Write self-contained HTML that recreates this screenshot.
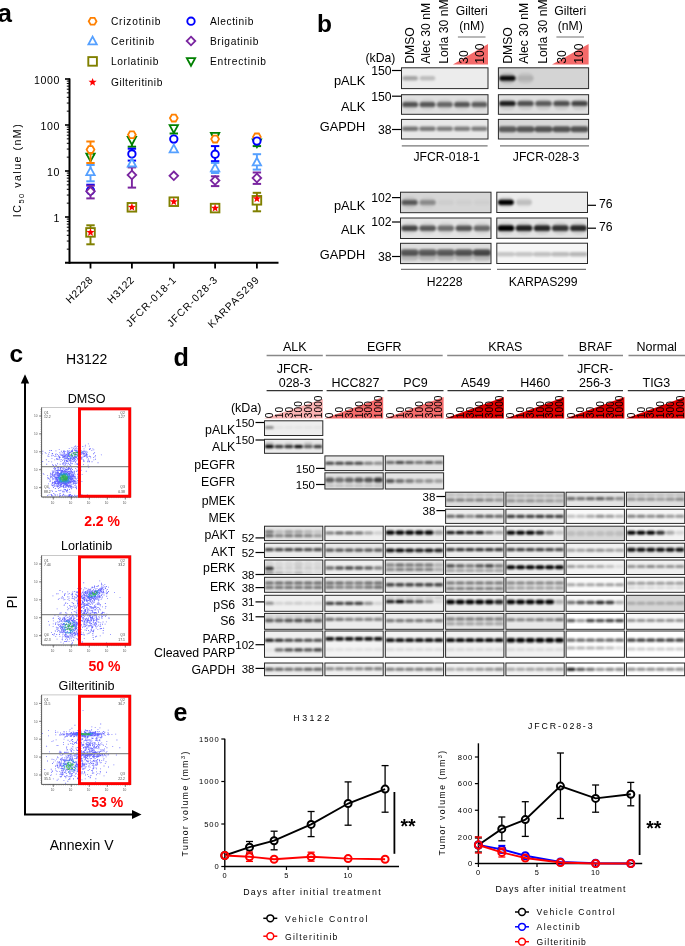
<!DOCTYPE html>
<html><head><meta charset="utf-8"><style>
html,body{margin:0;padding:0;background:#fff;width:685px;height:946px;overflow:hidden}
svg{display:block;will-change:transform}
text{font-family:"Liberation Sans",sans-serif}
</style></head><body>
<svg width="685" height="946" viewBox="0 0 685 946" font-family="Liberation Sans, sans-serif">
<defs>
<filter id="bl" x="-20%" y="-50%" width="140%" height="200%"><feGaussianBlur stdDeviation="1.3 0.85"/></filter>
<filter id="bl2" x="-20%" y="-50%" width="140%" height="200%"><feGaussianBlur stdDeviation="1.2 1.0"/></filter>
<filter id="bl3"><feGaussianBlur stdDeviation="0.35"/></filter>
</defs>
<text x="-2.5" y="22" font-size="26" text-anchor="start" fill="#000" font-weight="bold">a</text>
<polygon points="96.50,21.20 94.55,24.58 90.65,24.58 88.70,21.20 90.65,17.82 94.55,17.82" fill="#fff" stroke="#ff8000" stroke-width="1.8"/>
<text x="110.9" y="24.9" font-size="10.2" textLength="49.599999999999994" lengthAdjust="spacing">Crizotinib</text>
<polygon points="92.6,36.6 96.78,44.3 88.41999999999999,44.3" fill="#fff" stroke="#55a0ff" stroke-width="1.8"/>
<text x="110.9" y="44.7" font-size="10.2" textLength="43.199999999999996" lengthAdjust="spacing">Ceritinib</text>
<rect x="88.3" y="57.1" width="8.6" height="8.6" fill="#fff" stroke="#808000" stroke-width="1.9"/>
<text x="110.9" y="65.1" font-size="10.2" textLength="47.5" lengthAdjust="spacing">Lorlatinib</text>
<polygon points="92.60,77.90 93.66,80.74 96.69,80.87 94.31,82.76 95.13,85.68 92.60,84.00 90.07,85.68 90.89,82.76 88.51,80.87 91.54,80.74" fill="#ff0000" stroke="none"/>
<text x="110.9" y="85.9" font-size="10.2" textLength="51.4" lengthAdjust="spacing">Gilteritinib</text>
<circle cx="191" cy="21.2" r="3.7" fill="#fff" stroke="#0000ff" stroke-width="1.9"/>
<text x="209.9" y="24.9" font-size="10.2" textLength="43.4" lengthAdjust="spacing">Alectinib</text>
<polygon points="191,36.7 195.3,41.0 191,45.3 186.7,41.0" fill="#fff" stroke="#7a25a0" stroke-width="1.8"/>
<text x="209.9" y="44.7" font-size="10.2" textLength="48.4" lengthAdjust="spacing">Brigatinib</text>
<polygon points="191,65.8 195.18,58.1 186.82,58.1" fill="#fff" stroke="#008000" stroke-width="1.8"/>
<text x="209.9" y="65.1" font-size="10.2" textLength="56.0" lengthAdjust="spacing">Entrectinib</text>
<line x1="69.5" y1="78.5" x2="69.5" y2="263.8" stroke="#000" stroke-width="2"/>
<line x1="65" y1="262.8" x2="278.5" y2="262.8" stroke="#000" stroke-width="2"/>
<line x1="65" y1="79.0" x2="70" y2="79.0" stroke="#000" stroke-width="1.6"/>
<line x1="65" y1="125.0" x2="70" y2="125.0" stroke="#000" stroke-width="1.6"/>
<line x1="65" y1="171.0" x2="70" y2="171.0" stroke="#000" stroke-width="1.6"/>
<line x1="65" y1="217.0" x2="70" y2="217.0" stroke="#000" stroke-width="1.6"/>
<line x1="66.8" y1="249.15262019945686" x2="70" y2="249.15262019945686" stroke="#000" stroke-width="1"/>
<line x1="66.8" y1="241.05242228289552" x2="70" y2="241.05242228289552" stroke="#000" stroke-width="1"/>
<line x1="66.8" y1="235.30524039891372" x2="70" y2="235.30524039891372" stroke="#000" stroke-width="1"/>
<line x1="66.8" y1="230.84737980054314" x2="70" y2="230.84737980054314" stroke="#000" stroke-width="1"/>
<line x1="66.8" y1="227.20504248235238" x2="70" y2="227.20504248235238" stroke="#000" stroke-width="1"/>
<line x1="66.8" y1="224.12549015934417" x2="70" y2="224.12549015934417" stroke="#000" stroke-width="1"/>
<line x1="66.8" y1="221.4578605983706" x2="70" y2="221.4578605983706" stroke="#000" stroke-width="1"/>
<line x1="66.8" y1="219.10484456579104" x2="70" y2="219.10484456579104" stroke="#000" stroke-width="1"/>
<line x1="66.8" y1="203.15262019945686" x2="70" y2="203.15262019945686" stroke="#000" stroke-width="1"/>
<line x1="66.8" y1="195.05242228289552" x2="70" y2="195.05242228289552" stroke="#000" stroke-width="1"/>
<line x1="66.8" y1="189.30524039891372" x2="70" y2="189.30524039891372" stroke="#000" stroke-width="1"/>
<line x1="66.8" y1="184.84737980054314" x2="70" y2="184.84737980054314" stroke="#000" stroke-width="1"/>
<line x1="66.8" y1="181.20504248235238" x2="70" y2="181.20504248235238" stroke="#000" stroke-width="1"/>
<line x1="66.8" y1="178.12549015934417" x2="70" y2="178.12549015934417" stroke="#000" stroke-width="1"/>
<line x1="66.8" y1="175.4578605983706" x2="70" y2="175.4578605983706" stroke="#000" stroke-width="1"/>
<line x1="66.8" y1="173.10484456579104" x2="70" y2="173.10484456579104" stroke="#000" stroke-width="1"/>
<line x1="66.8" y1="157.15262019945686" x2="70" y2="157.15262019945686" stroke="#000" stroke-width="1"/>
<line x1="66.8" y1="149.05242228289552" x2="70" y2="149.05242228289552" stroke="#000" stroke-width="1"/>
<line x1="66.8" y1="143.30524039891372" x2="70" y2="143.30524039891372" stroke="#000" stroke-width="1"/>
<line x1="66.8" y1="138.84737980054314" x2="70" y2="138.84737980054314" stroke="#000" stroke-width="1"/>
<line x1="66.8" y1="135.20504248235238" x2="70" y2="135.20504248235238" stroke="#000" stroke-width="1"/>
<line x1="66.8" y1="132.12549015934417" x2="70" y2="132.12549015934417" stroke="#000" stroke-width="1"/>
<line x1="66.8" y1="129.4578605983706" x2="70" y2="129.4578605983706" stroke="#000" stroke-width="1"/>
<line x1="66.8" y1="127.10484456579107" x2="70" y2="127.10484456579107" stroke="#000" stroke-width="1"/>
<line x1="66.8" y1="111.15262019945686" x2="70" y2="111.15262019945686" stroke="#000" stroke-width="1"/>
<line x1="66.8" y1="103.05242228289552" x2="70" y2="103.05242228289552" stroke="#000" stroke-width="1"/>
<line x1="66.8" y1="97.30524039891372" x2="70" y2="97.30524039891372" stroke="#000" stroke-width="1"/>
<line x1="66.8" y1="92.84737980054314" x2="70" y2="92.84737980054314" stroke="#000" stroke-width="1"/>
<line x1="66.8" y1="89.20504248235241" x2="70" y2="89.20504248235241" stroke="#000" stroke-width="1"/>
<line x1="66.8" y1="86.12549015934417" x2="70" y2="86.12549015934417" stroke="#000" stroke-width="1"/>
<line x1="66.8" y1="83.45786059837059" x2="70" y2="83.45786059837059" stroke="#000" stroke-width="1"/>
<line x1="66.8" y1="81.10484456579107" x2="70" y2="81.10484456579107" stroke="#000" stroke-width="1"/>
<text x="60.0" y="83.6" font-size="10.6" text-anchor="end" fill="#000" letter-spacing="0.6">1000</text>
<text x="60.0" y="129.6" font-size="10.6" text-anchor="end" fill="#000" letter-spacing="0.6">100</text>
<text x="60.0" y="175.6" font-size="10.6" text-anchor="end" fill="#000" letter-spacing="0.6">10</text>
<text x="60.0" y="221.6" font-size="10.6" text-anchor="end" fill="#000" letter-spacing="0.6">1</text>
<line x1="90.5" y1="262.8" x2="90.5" y2="268.5" stroke="#000" stroke-width="1.8"/>
<text x="93.685" y="280.415" font-size="10.4" text-anchor="end" fill="#000" letter-spacing="0.55" transform="rotate(-45 93.685 280.415)">H2228</text>
<line x1="131.9" y1="262.8" x2="131.9" y2="268.5" stroke="#000" stroke-width="1.8"/>
<text x="135.085" y="280.415" font-size="10.4" text-anchor="end" fill="#000" letter-spacing="0.55" transform="rotate(-45 135.085 280.415)">H3122</text>
<line x1="173.8" y1="262.8" x2="173.8" y2="268.5" stroke="#000" stroke-width="1.8"/>
<text x="177.33500000000004" y="280.065" font-size="10.4" text-anchor="end" fill="#000" letter-spacing="1.05" transform="rotate(-45 177.33500000000004 280.065)">JFCR-018-1</text>
<line x1="215.1" y1="262.8" x2="215.1" y2="268.5" stroke="#000" stroke-width="1.8"/>
<text x="218.63500000000002" y="280.065" font-size="10.4" text-anchor="end" fill="#000" letter-spacing="1.05" transform="rotate(-45 218.63500000000002 280.065)">JFCR-028-3</text>
<line x1="256.9" y1="262.8" x2="256.9" y2="268.5" stroke="#000" stroke-width="1.8"/>
<text x="260.46999999999997" y="280.03000000000003" font-size="10.4" text-anchor="end" fill="#000" letter-spacing="1.1" transform="rotate(-45 260.46999999999997 280.03000000000003)">KARPAS299</text>
<text transform="translate(21.3 170) rotate(-90)" font-size="10.6" text-anchor="middle" letter-spacing="1.5">IC<tspan font-size="7.5" dy="2.5">50</tspan><tspan dy="-2.5"> value (nM)</tspan></text>
<line x1="90.5" y1="154.4" x2="90.5" y2="157" stroke="#008000" stroke-width="1.9"/>
<line x1="86.3" y1="154.4" x2="94.7" y2="154.4" stroke="#008000" stroke-width="2"/>
<polygon points="90.5,161.4 94.68,153.7 86.32,153.7" fill="#fff" stroke="#008000" stroke-width="1.8"/>
<line x1="90.5" y1="141.5" x2="90.5" y2="149.6" stroke="#ff8000" stroke-width="1.9"/>
<line x1="86.3" y1="141.5" x2="94.7" y2="141.5" stroke="#ff8000" stroke-width="2"/>
<line x1="90.5" y1="149.6" x2="90.5" y2="163" stroke="#ff8000" stroke-width="1.9"/>
<line x1="86.3" y1="163" x2="94.7" y2="163" stroke="#ff8000" stroke-width="2"/>
<polygon points="94.40,149.60 92.45,152.98 88.55,152.98 86.60,149.60 88.55,146.22 92.45,146.22" fill="#fff" stroke="#ff8000" stroke-width="1.8"/>
<line x1="90.5" y1="184.7" x2="90.5" y2="190.6" stroke="#0000ff" stroke-width="1.9"/>
<line x1="86.3" y1="184.7" x2="94.7" y2="184.7" stroke="#0000ff" stroke-width="2"/>
<circle cx="90.5" cy="190.6" r="3.7" fill="#fff" stroke="#0000ff" stroke-width="1.9"/>
<line x1="90.5" y1="185.7" x2="90.5" y2="191.3" stroke="#7a25a0" stroke-width="1.9"/>
<line x1="86.3" y1="185.7" x2="94.7" y2="185.7" stroke="#7a25a0" stroke-width="2"/>
<line x1="90.5" y1="191.3" x2="90.5" y2="198.4" stroke="#7a25a0" stroke-width="1.9"/>
<line x1="86.3" y1="198.4" x2="94.7" y2="198.4" stroke="#7a25a0" stroke-width="2"/>
<polygon points="90.5,187.0 94.8,191.3 90.5,195.60000000000002 86.2,191.3" fill="#fff" stroke="#7a25a0" stroke-width="1.8"/>
<line x1="90.5" y1="165" x2="90.5" y2="171.8" stroke="#55a0ff" stroke-width="1.9"/>
<line x1="86.3" y1="165" x2="94.7" y2="165" stroke="#55a0ff" stroke-width="2"/>
<line x1="90.5" y1="171.8" x2="90.5" y2="181.3" stroke="#55a0ff" stroke-width="1.9"/>
<line x1="86.3" y1="181.3" x2="94.7" y2="181.3" stroke="#55a0ff" stroke-width="2"/>
<polygon points="90.5,167.4 94.68,175.10000000000002 86.32,175.10000000000002" fill="#fff" stroke="#55a0ff" stroke-width="1.8"/>
<line x1="90.5" y1="225.3" x2="90.5" y2="232.4" stroke="#808000" stroke-width="1.9"/>
<line x1="86.3" y1="225.3" x2="94.7" y2="225.3" stroke="#808000" stroke-width="2"/>
<line x1="90.5" y1="232.4" x2="90.5" y2="244.3" stroke="#808000" stroke-width="1.9"/>
<line x1="86.3" y1="244.3" x2="94.7" y2="244.3" stroke="#808000" stroke-width="2"/>
<rect x="86.2" y="228.1" width="8.6" height="8.6" fill="#fff" stroke="#808000" stroke-width="1.9"/>
<polygon points="90.50,228.10 91.56,230.94 94.59,231.07 92.21,232.96 93.03,235.88 90.50,234.20 87.97,235.88 88.79,232.96 86.41,231.07 89.44,230.94" fill="#ff0000" stroke="none"/>
<line x1="131.9" y1="140.3" x2="131.9" y2="146.7" stroke="#008000" stroke-width="1.9"/>
<line x1="127.7" y1="146.7" x2="136.1" y2="146.7" stroke="#008000" stroke-width="2"/>
<polygon points="131.9,144.70000000000002 136.08,137.0 127.72,137.0" fill="#fff" stroke="#008000" stroke-width="1.8"/>
<polygon points="135.80,134.80 133.85,138.18 129.95,138.18 128.00,134.80 129.95,131.42 133.85,131.42" fill="#fff" stroke="#ff8000" stroke-width="1.8"/>
<line x1="131.9" y1="148.7" x2="131.9" y2="153.9" stroke="#0000ff" stroke-width="1.9"/>
<line x1="127.7" y1="148.7" x2="136.1" y2="148.7" stroke="#0000ff" stroke-width="2"/>
<line x1="131.9" y1="153.9" x2="131.9" y2="160.6" stroke="#0000ff" stroke-width="1.9"/>
<line x1="127.7" y1="160.6" x2="136.1" y2="160.6" stroke="#0000ff" stroke-width="2"/>
<circle cx="131.9" cy="153.9" r="3.7" fill="#fff" stroke="#0000ff" stroke-width="1.9"/>
<line x1="131.9" y1="167.4" x2="131.9" y2="175" stroke="#7a25a0" stroke-width="1.9"/>
<line x1="127.7" y1="167.4" x2="136.1" y2="167.4" stroke="#7a25a0" stroke-width="2"/>
<line x1="131.9" y1="175" x2="131.9" y2="187.6" stroke="#7a25a0" stroke-width="1.9"/>
<line x1="127.7" y1="187.6" x2="136.1" y2="187.6" stroke="#7a25a0" stroke-width="2"/>
<polygon points="131.9,170.7 136.20000000000002,175 131.9,179.3 127.60000000000001,175" fill="#fff" stroke="#7a25a0" stroke-width="1.8"/>
<polygon points="131.9,158.79999999999998 136.08,166.5 127.72,166.5" fill="#fff" stroke="#55a0ff" stroke-width="1.8"/>
<rect x="127.60000000000001" y="203.0" width="8.6" height="8.6" fill="#fff" stroke="#808000" stroke-width="1.9"/>
<polygon points="131.90,203.00 132.96,205.84 135.99,205.97 133.61,207.86 134.43,210.78 131.90,209.10 129.37,210.78 130.19,207.86 127.81,205.97 130.84,205.84" fill="#ff0000" stroke="none"/>
<line x1="173.8" y1="128.5" x2="173.8" y2="133.5" stroke="#008000" stroke-width="1.9"/>
<line x1="169.60000000000002" y1="133.5" x2="178.0" y2="133.5" stroke="#008000" stroke-width="2"/>
<polygon points="173.8,132.9 177.98000000000002,125.2 169.62,125.2" fill="#fff" stroke="#008000" stroke-width="1.8"/>
<polygon points="177.70,118.10 175.75,121.48 171.85,121.48 169.90,118.10 171.85,114.72 175.75,114.72" fill="#fff" stroke="#ff8000" stroke-width="1.8"/>
<circle cx="173.8" cy="139.1" r="3.7" fill="#fff" stroke="#0000ff" stroke-width="1.9"/>
<polygon points="173.8,171.5 178.10000000000002,175.8 173.8,180.10000000000002 169.5,175.8" fill="#fff" stroke="#7a25a0" stroke-width="1.8"/>
<polygon points="173.8,144.6 177.98000000000002,152.3 169.62,152.3" fill="#fff" stroke="#55a0ff" stroke-width="1.8"/>
<rect x="169.5" y="197.39999999999998" width="8.6" height="8.6" fill="#fff" stroke="#808000" stroke-width="1.9"/>
<polygon points="173.80,197.40 174.86,200.24 177.89,200.37 175.51,202.26 176.33,205.18 173.80,203.50 171.27,205.18 172.09,202.26 169.71,200.37 172.74,200.24" fill="#ff0000" stroke="none"/>
<line x1="215.1" y1="134.4" x2="215.1" y2="136.2" stroke="#008000" stroke-width="1.9"/>
<line x1="210.9" y1="134.4" x2="219.29999999999998" y2="134.4" stroke="#008000" stroke-width="2"/>
<polygon points="215.1,140.6 219.28,132.89999999999998 210.92,132.89999999999998" fill="#fff" stroke="#008000" stroke-width="1.8"/>
<polygon points="219.00,139.10 217.05,142.48 213.15,142.48 211.20,139.10 213.15,135.72 217.05,135.72" fill="#fff" stroke="#ff8000" stroke-width="1.8"/>
<line x1="215.1" y1="146.1" x2="215.1" y2="154.2" stroke="#0000ff" stroke-width="1.9"/>
<line x1="210.9" y1="146.1" x2="219.29999999999998" y2="146.1" stroke="#0000ff" stroke-width="2"/>
<line x1="215.1" y1="154.2" x2="215.1" y2="161.2" stroke="#0000ff" stroke-width="1.9"/>
<line x1="210.9" y1="161.2" x2="219.29999999999998" y2="161.2" stroke="#0000ff" stroke-width="2"/>
<circle cx="215.1" cy="154.2" r="3.7" fill="#fff" stroke="#0000ff" stroke-width="1.9"/>
<line x1="215.1" y1="176.3" x2="215.1" y2="180.5" stroke="#7a25a0" stroke-width="1.9"/>
<line x1="210.9" y1="176.3" x2="219.29999999999998" y2="176.3" stroke="#7a25a0" stroke-width="2"/>
<line x1="215.1" y1="180.5" x2="215.1" y2="186.1" stroke="#7a25a0" stroke-width="1.9"/>
<line x1="210.9" y1="186.1" x2="219.29999999999998" y2="186.1" stroke="#7a25a0" stroke-width="2"/>
<polygon points="215.1,176.2 219.4,180.5 215.1,184.8 210.79999999999998,180.5" fill="#fff" stroke="#7a25a0" stroke-width="1.8"/>
<line x1="215.1" y1="162.9" x2="215.1" y2="168" stroke="#55a0ff" stroke-width="1.9"/>
<line x1="210.9" y1="162.9" x2="219.29999999999998" y2="162.9" stroke="#55a0ff" stroke-width="2"/>
<line x1="215.1" y1="168" x2="215.1" y2="173" stroke="#55a0ff" stroke-width="1.9"/>
<line x1="210.9" y1="173" x2="219.29999999999998" y2="173" stroke="#55a0ff" stroke-width="2"/>
<polygon points="215.1,163.6 219.28,171.3 210.92,171.3" fill="#fff" stroke="#55a0ff" stroke-width="1.8"/>
<rect x="210.79999999999998" y="203.79999999999998" width="8.6" height="8.6" fill="#fff" stroke="#808000" stroke-width="1.9"/>
<polygon points="215.10,203.80 216.16,206.64 219.19,206.77 216.81,208.66 217.63,211.58 215.10,209.90 212.57,211.58 213.39,208.66 211.01,206.77 214.04,206.64" fill="#ff0000" stroke="none"/>
<line x1="256.9" y1="142.8" x2="256.9" y2="146.1" stroke="#008000" stroke-width="1.9"/>
<line x1="252.7" y1="146.1" x2="261.09999999999997" y2="146.1" stroke="#008000" stroke-width="2"/>
<polygon points="256.9,147.20000000000002 261.08,139.5 252.71999999999997,139.5" fill="#fff" stroke="#008000" stroke-width="1.8"/>
<polygon points="260.80,136.90 258.85,140.28 254.95,140.28 253.00,136.90 254.95,133.52 258.85,133.52" fill="#fff" stroke="#ff8000" stroke-width="1.8"/>
<circle cx="256.9" cy="141.1" r="3.7" fill="#fff" stroke="#0000ff" stroke-width="1.9"/>
<line x1="256.9" y1="172.5" x2="256.9" y2="178" stroke="#7a25a0" stroke-width="1.9"/>
<line x1="252.7" y1="172.5" x2="261.09999999999997" y2="172.5" stroke="#7a25a0" stroke-width="2"/>
<line x1="256.9" y1="178" x2="256.9" y2="183.9" stroke="#7a25a0" stroke-width="1.9"/>
<line x1="252.7" y1="183.9" x2="261.09999999999997" y2="183.9" stroke="#7a25a0" stroke-width="2"/>
<polygon points="256.9,173.7 261.2,178 256.9,182.3 252.59999999999997,178" fill="#fff" stroke="#7a25a0" stroke-width="1.8"/>
<line x1="256.9" y1="154.2" x2="256.9" y2="162.1" stroke="#55a0ff" stroke-width="1.9"/>
<line x1="252.7" y1="154.2" x2="261.09999999999997" y2="154.2" stroke="#55a0ff" stroke-width="2"/>
<line x1="256.9" y1="162.1" x2="256.9" y2="169.6" stroke="#55a0ff" stroke-width="1.9"/>
<line x1="252.7" y1="169.6" x2="261.09999999999997" y2="169.6" stroke="#55a0ff" stroke-width="2"/>
<polygon points="256.9,157.7 261.08,165.4 252.71999999999997,165.4" fill="#fff" stroke="#55a0ff" stroke-width="1.8"/>
<line x1="256.9" y1="192.8" x2="256.9" y2="200.3" stroke="#808000" stroke-width="1.9"/>
<line x1="252.7" y1="192.8" x2="261.09999999999997" y2="192.8" stroke="#808000" stroke-width="2"/>
<line x1="256.9" y1="200.3" x2="256.9" y2="211.3" stroke="#808000" stroke-width="1.9"/>
<line x1="252.7" y1="211.3" x2="261.09999999999997" y2="211.3" stroke="#808000" stroke-width="2"/>
<rect x="252.59999999999997" y="196.0" width="8.6" height="8.6" fill="#fff" stroke="#808000" stroke-width="1.9"/>
<polygon points="256.90,194.40 257.96,197.24 260.99,197.37 258.61,199.26 259.43,202.18 256.90,200.50 254.37,202.18 255.19,199.26 252.81,197.37 255.84,197.24" fill="#ff0000" stroke="none"/>
<text x="317" y="31.5" font-size="24.5" text-anchor="start" fill="#000" font-weight="bold">b</text>
<text transform="translate(413.90000000000003 63.5) rotate(-90)" font-size="12" fill="#000"></text>
<text transform="translate(413.90000000000003 63.5) rotate(-90)" font-size="12" fill="#000"></text>
<text transform="translate(414.0 63.8) rotate(-90)" font-size="12.2" fill="#000">DMSO</text>
<text transform="translate(430.0 63.8) rotate(-90)" font-size="12.2" fill="#000">Alec 30 nM</text>
<text transform="translate(448.29999999999995 63.8) rotate(-90)" font-size="12.2" fill="#000">Lorla 30 nM</text>
<polygon points="452.9,64.5 488,64.5 488,44" fill="#f46a6a"/>
<text transform="translate(467.79999999999995 63.8) rotate(-90)" font-size="12.2" fill="#000">30</text>
<text transform="translate(484.4 63.8) rotate(-90)" font-size="12.2" fill="#000">100</text>
<text x="471.7" y="14.8" font-size="12.2" text-anchor="middle" fill="#000">Gilteri</text>
<text x="471.7" y="30.2" font-size="12.2" text-anchor="middle" fill="#000">(nM)</text>
<line x1="457.9" y1="37" x2="485.5" y2="37" stroke="#888" stroke-width="1.2"/>
<text transform="translate(512.2 63.8) rotate(-90)" font-size="12.2" fill="#000">DMSO</text>
<text transform="translate(528.2 63.8) rotate(-90)" font-size="12.2" fill="#000">Alec 30 nM</text>
<text transform="translate(546.5 63.8) rotate(-90)" font-size="12.2" fill="#000">Lorla 30 nM</text>
<polygon points="552,64.5 588.6,64.5 588.6,44" fill="#f46a6a"/>
<text transform="translate(566.0 63.8) rotate(-90)" font-size="12.2" fill="#000">30</text>
<text transform="translate(582.6 63.8) rotate(-90)" font-size="12.2" fill="#000">100</text>
<text x="570.2" y="14.8" font-size="12.2" text-anchor="middle" fill="#000">Gilteri</text>
<text x="570.2" y="30.2" font-size="12.2" text-anchor="middle" fill="#000">(nM)</text>
<line x1="556.4000000000001" y1="37" x2="584.0" y2="37" stroke="#888" stroke-width="1.2"/>
<text x="365.5" y="61.5" font-size="12.2" text-anchor="start" fill="#000">(kDa)</text>
<text x="365.2" y="85.2" font-size="12.8" text-anchor="end" fill="#000">pALK</text>
<text x="365.2" y="110.6" font-size="12.8" text-anchor="end" fill="#000">ALK</text>
<text x="365.2" y="131.0" font-size="12.8" text-anchor="end" fill="#000">GAPDH</text>
<text x="391.5" y="74.8" font-size="12.2" text-anchor="end" fill="#000">150</text>
<line x1="392" y1="70.5" x2="402" y2="70.5" stroke="#000" stroke-width="1.2"/>
<text x="391.5" y="100.5" font-size="12.2" text-anchor="end" fill="#000">150</text>
<line x1="392" y1="96.2" x2="402" y2="96.2" stroke="#000" stroke-width="1.2"/>
<text x="391.5" y="133.8" font-size="12.2" text-anchor="end" fill="#000">38</text>
<line x1="392" y1="129.5" x2="402" y2="129.5" stroke="#000" stroke-width="1.2"/>
<clipPath id="c1"><rect x="401.5" y="67.8" width="86.5" height="20.8"/></clipPath>
<rect x="401.5" y="67.8" width="86.5" height="20.8" fill="#ececec"/>
<g clip-path="url(#c1)"><g filter="url(#bl)">
<rect x="402.36" y="75.95" width="15.57" height="4.50" rx="2.25" fill="#000" fill-opacity="0.30"/>
<rect x="419.66" y="75.95" width="15.57" height="4.50" rx="2.25" fill="#000" fill-opacity="0.20"/>
</g></g>
<rect x="401.5" y="67.8" width="86.5" height="20.8" fill="none" stroke="#2a2a2a" stroke-width="1.0"/>
<clipPath id="c2"><rect x="401.5" y="94.7" width="86.5" height="19.6"/></clipPath>
<rect x="401.5" y="94.7" width="86.5" height="19.6" fill="#e0e0e0"/>
<g clip-path="url(#c2)"><g filter="url(#bl)">
<rect x="402.19" y="101.90" width="15.92" height="5.20" rx="2.60" fill="#000" fill-opacity="0.60"/>
<rect x="419.49" y="101.90" width="15.92" height="5.20" rx="2.60" fill="#000" fill-opacity="0.58"/>
<rect x="436.79" y="101.90" width="15.92" height="5.20" rx="2.60" fill="#000" fill-opacity="0.50"/>
<rect x="454.09" y="101.90" width="15.92" height="5.20" rx="2.60" fill="#000" fill-opacity="0.58"/>
<rect x="471.39" y="101.90" width="15.92" height="5.20" rx="2.60" fill="#000" fill-opacity="0.55"/>
<rect x="402.19" y="99.00" width="15.92" height="11.00" rx="5.50" fill="#000" fill-opacity="0.08"/>
<rect x="419.49" y="99.00" width="15.92" height="11.00" rx="5.50" fill="#000" fill-opacity="0.08"/>
<rect x="436.79" y="99.00" width="15.92" height="11.00" rx="5.50" fill="#000" fill-opacity="0.08"/>
<rect x="454.09" y="99.00" width="15.92" height="11.00" rx="5.50" fill="#000" fill-opacity="0.08"/>
<rect x="471.39" y="99.00" width="15.92" height="11.00" rx="5.50" fill="#000" fill-opacity="0.08"/>
</g></g>
<rect x="401.5" y="94.7" width="86.5" height="19.6" fill="none" stroke="#2a2a2a" stroke-width="1.0"/>
<clipPath id="c3"><rect x="401.5" y="119.4" width="86.5" height="19.6"/></clipPath>
<rect x="401.5" y="119.4" width="86.5" height="19.6" fill="#e8e8e8"/>
<g clip-path="url(#c3)"><g filter="url(#bl)">
<rect x="401.93" y="126.51" width="16.43" height="4.60" rx="2.30" fill="#000" fill-opacity="0.50"/>
<rect x="419.23" y="126.51" width="16.43" height="4.60" rx="2.30" fill="#000" fill-opacity="0.48"/>
<rect x="436.53" y="126.51" width="16.43" height="4.60" rx="2.30" fill="#000" fill-opacity="0.46"/>
<rect x="453.83" y="126.51" width="16.43" height="4.60" rx="2.30" fill="#000" fill-opacity="0.46"/>
<rect x="471.13" y="126.51" width="16.43" height="4.60" rx="2.30" fill="#000" fill-opacity="0.46"/>
</g></g>
<rect x="401.5" y="119.4" width="86.5" height="19.6" fill="none" stroke="#2a2a2a" stroke-width="1.0"/>
<clipPath id="c4"><rect x="498.4" y="67.8" width="90.2" height="20.8"/></clipPath>
<rect x="498.4" y="67.8" width="90.2" height="20.8" fill="#d4d4d4"/>
<g clip-path="url(#c4)"><g filter="url(#bl)">
<rect x="499.30" y="75.70" width="16.24" height="5.00" rx="2.50" fill="#000" fill-opacity="0.95"/>
<rect x="517.34" y="75.70" width="16.24" height="5.00" rx="2.50" fill="#000" fill-opacity="0.10"/>
<rect x="499.30" y="72.70" width="16.24" height="11.00" rx="5.50" fill="#000" fill-opacity="0.15"/>
<rect x="517.34" y="72.70" width="16.24" height="11.00" rx="5.50" fill="#000" fill-opacity="0.08"/>
</g></g>
<rect x="498.4" y="67.8" width="90.2" height="20.8" fill="none" stroke="#2a2a2a" stroke-width="1.0"/>
<clipPath id="c5"><rect x="498.4" y="94.7" width="90.2" height="19.6"/></clipPath>
<rect x="498.4" y="94.7" width="90.2" height="19.6" fill="#e0e0e0"/>
<g clip-path="url(#c5)"><g filter="url(#bl)">
<rect x="499.12" y="101.02" width="16.60" height="5.00" rx="2.50" fill="#000" fill-opacity="0.85"/>
<rect x="517.16" y="101.02" width="16.60" height="5.00" rx="2.50" fill="#000" fill-opacity="0.60"/>
<rect x="535.20" y="101.02" width="16.60" height="5.00" rx="2.50" fill="#000" fill-opacity="0.55"/>
<rect x="553.24" y="101.02" width="16.60" height="5.00" rx="2.50" fill="#000" fill-opacity="0.60"/>
<rect x="571.28" y="101.02" width="16.60" height="5.00" rx="2.50" fill="#000" fill-opacity="0.65"/>
<rect x="499.12" y="99.00" width="16.60" height="11.00" rx="5.50" fill="#000" fill-opacity="0.10"/>
<rect x="517.16" y="99.00" width="16.60" height="11.00" rx="5.50" fill="#000" fill-opacity="0.10"/>
<rect x="535.20" y="99.00" width="16.60" height="11.00" rx="5.50" fill="#000" fill-opacity="0.10"/>
<rect x="553.24" y="99.00" width="16.60" height="11.00" rx="5.50" fill="#000" fill-opacity="0.10"/>
<rect x="571.28" y="99.00" width="16.60" height="11.00" rx="5.50" fill="#000" fill-opacity="0.10"/>
</g></g>
<rect x="498.4" y="94.7" width="90.2" height="19.6" fill="none" stroke="#2a2a2a" stroke-width="1.0"/>
<clipPath id="c6"><rect x="498.4" y="119.4" width="90.2" height="19.6"/></clipPath>
<rect x="498.4" y="119.4" width="90.2" height="19.6" fill="#d8d8d8"/>
<g clip-path="url(#c6)"><g filter="url(#bl)">
<rect x="498.40" y="126.20" width="18.04" height="6.00" rx="3.00" fill="#000" fill-opacity="0.58"/>
<rect x="516.44" y="126.20" width="18.04" height="6.00" rx="3.00" fill="#000" fill-opacity="0.60"/>
<rect x="534.48" y="126.20" width="18.04" height="6.00" rx="3.00" fill="#000" fill-opacity="0.62"/>
<rect x="552.52" y="126.20" width="18.04" height="6.00" rx="3.00" fill="#000" fill-opacity="0.62"/>
<rect x="570.56" y="126.20" width="18.04" height="6.00" rx="3.00" fill="#000" fill-opacity="0.62"/>
</g></g>
<rect x="498.4" y="119.4" width="90.2" height="19.6" fill="none" stroke="#2a2a2a" stroke-width="1.0"/>
<line x1="401.8" y1="145.9" x2="487.6" y2="145.9" stroke="#777" stroke-width="1.2"/>
<line x1="500" y1="145.9" x2="589" y2="145.9" stroke="#777" stroke-width="1.2"/>
<text x="446.7" y="161.4" font-size="12.2" text-anchor="middle" fill="#000">JFCR-018-1</text>
<text x="546" y="161.4" font-size="12.2" text-anchor="middle" fill="#000">JFCR-028-3</text>
<text x="365.2" y="209.6" font-size="12.8" text-anchor="end" fill="#000">pALK</text>
<text x="365.2" y="234.2" font-size="12.8" text-anchor="end" fill="#000">ALK</text>
<text x="365.2" y="258.6" font-size="12.8" text-anchor="end" fill="#000">GAPDH</text>
<text x="391.5" y="201.9" font-size="12.2" text-anchor="end" fill="#000">102</text>
<line x1="392" y1="197.6" x2="402" y2="197.6" stroke="#000" stroke-width="1.2"/>
<text x="391.5" y="226.3" font-size="12.2" text-anchor="end" fill="#000">102</text>
<line x1="392" y1="222.0" x2="402" y2="222.0" stroke="#000" stroke-width="1.2"/>
<text x="391.5" y="260.8" font-size="12.2" text-anchor="end" fill="#000">38</text>
<line x1="392" y1="256.5" x2="402" y2="256.5" stroke="#000" stroke-width="1.2"/>
<clipPath id="c7"><rect x="400.5" y="192.2" width="90.5" height="20.5"/></clipPath>
<rect x="400.5" y="192.2" width="90.5" height="20.5" fill="#d6d6d6"/>
<g clip-path="url(#c7)"><g filter="url(#bl)">
<rect x="401.41" y="199.95" width="16.29" height="5.00" rx="2.50" fill="#000" fill-opacity="0.55"/>
<rect x="419.50" y="199.95" width="16.29" height="5.00" rx="2.50" fill="#000" fill-opacity="0.32"/>
<rect x="437.61" y="199.95" width="16.29" height="5.00" rx="2.50" fill="#000" fill-opacity="0.04"/>
<rect x="455.71" y="199.95" width="16.29" height="5.00" rx="2.50" fill="#000" fill-opacity="0.03"/>
<rect x="473.81" y="199.95" width="16.29" height="5.00" rx="2.50" fill="#000" fill-opacity="0.03"/>
<rect x="401.41" y="196.95" width="16.29" height="11.00" rx="5.50" fill="#000" fill-opacity="0.10"/>
<rect x="419.50" y="196.95" width="16.29" height="11.00" rx="5.50" fill="#000" fill-opacity="0.05"/>
</g></g>
<rect x="400.5" y="192.2" width="90.5" height="20.5" fill="none" stroke="#2a2a2a" stroke-width="1.0"/>
<clipPath id="c8"><rect x="400.5" y="218.0" width="90.5" height="20.5"/></clipPath>
<rect x="400.5" y="218.0" width="90.5" height="20.5" fill="#e4e4e4"/>
<g clip-path="url(#c8)"><g filter="url(#bl)">
<rect x="401.22" y="225.55" width="16.65" height="5.40" rx="2.70" fill="#000" fill-opacity="0.68"/>
<rect x="419.32" y="225.55" width="16.65" height="5.40" rx="2.70" fill="#000" fill-opacity="0.58"/>
<rect x="437.42" y="225.55" width="16.65" height="5.40" rx="2.70" fill="#000" fill-opacity="0.48"/>
<rect x="455.52" y="225.55" width="16.65" height="5.40" rx="2.70" fill="#000" fill-opacity="0.60"/>
<rect x="473.62" y="225.55" width="16.65" height="5.40" rx="2.70" fill="#000" fill-opacity="0.50"/>
<rect x="401.22" y="222.25" width="16.65" height="12.00" rx="6.00" fill="#000" fill-opacity="0.07"/>
<rect x="419.32" y="222.25" width="16.65" height="12.00" rx="6.00" fill="#000" fill-opacity="0.07"/>
<rect x="437.42" y="222.25" width="16.65" height="12.00" rx="6.00" fill="#000" fill-opacity="0.07"/>
<rect x="455.52" y="222.25" width="16.65" height="12.00" rx="6.00" fill="#000" fill-opacity="0.07"/>
<rect x="473.62" y="222.25" width="16.65" height="12.00" rx="6.00" fill="#000" fill-opacity="0.07"/>
</g></g>
<rect x="400.5" y="218.0" width="90.5" height="20.5" fill="none" stroke="#2a2a2a" stroke-width="1.0"/>
<clipPath id="c9"><rect x="400.5" y="243.3" width="90.5" height="20.3"/></clipPath>
<rect x="400.5" y="243.3" width="90.5" height="20.3" fill="#dedede"/>
<g clip-path="url(#c9)"><g filter="url(#bl)">
<rect x="400.50" y="249.19" width="18.10" height="6.50" rx="3.25" fill="#000" fill-opacity="0.58"/>
<rect x="418.60" y="249.19" width="18.10" height="6.50" rx="3.25" fill="#000" fill-opacity="0.56"/>
<rect x="436.70" y="249.19" width="18.10" height="6.50" rx="3.25" fill="#000" fill-opacity="0.56"/>
<rect x="454.80" y="249.19" width="18.10" height="6.50" rx="3.25" fill="#000" fill-opacity="0.60"/>
<rect x="472.90" y="249.19" width="18.10" height="6.50" rx="3.25" fill="#000" fill-opacity="0.66"/>
<rect x="400.50" y="252.50" width="18.10" height="8.00" rx="4.00" fill="#000" fill-opacity="0.18"/>
<rect x="418.60" y="252.50" width="18.10" height="8.00" rx="4.00" fill="#000" fill-opacity="0.18"/>
<rect x="436.70" y="252.50" width="18.10" height="8.00" rx="4.00" fill="#000" fill-opacity="0.18"/>
<rect x="454.80" y="252.50" width="18.10" height="8.00" rx="4.00" fill="#000" fill-opacity="0.18"/>
<rect x="472.90" y="252.50" width="18.10" height="8.00" rx="4.00" fill="#000" fill-opacity="0.18"/>
</g></g>
<rect x="400.5" y="243.3" width="90.5" height="20.3" fill="none" stroke="#2a2a2a" stroke-width="1.0"/>
<clipPath id="c10"><rect x="496.8" y="192.2" width="90.7" height="20.3"/></clipPath>
<rect x="496.8" y="192.2" width="90.7" height="20.3" fill="#ececec"/>
<g clip-path="url(#c10)"><g filter="url(#bl)">
<rect x="497.89" y="199.75" width="15.96" height="5.20" rx="2.60" fill="#000" fill-opacity="1.00"/>
<rect x="516.03" y="199.75" width="15.96" height="5.20" rx="2.60" fill="#000" fill-opacity="0.15"/>
<rect x="497.89" y="197.35" width="15.96" height="10.00" rx="5.00" fill="#000" fill-opacity="0.15"/>
<rect x="516.03" y="197.35" width="15.96" height="10.00" rx="5.00" fill="#000" fill-opacity="0.05"/>
</g></g>
<rect x="496.8" y="192.2" width="90.7" height="20.3" fill="none" stroke="#2a2a2a" stroke-width="1.0"/>
<clipPath id="c11"><rect x="496.8" y="218.0" width="90.7" height="20.3"/></clipPath>
<rect x="496.8" y="218.0" width="90.7" height="20.3" fill="#e4e4e4"/>
<g clip-path="url(#c11)"><g filter="url(#bl)">
<rect x="497.53" y="225.35" width="16.69" height="5.60" rx="2.80" fill="#000" fill-opacity="1.00"/>
<rect x="515.67" y="225.35" width="16.69" height="5.60" rx="2.80" fill="#000" fill-opacity="0.85"/>
<rect x="533.81" y="225.35" width="16.69" height="5.60" rx="2.80" fill="#000" fill-opacity="0.82"/>
<rect x="551.95" y="225.35" width="16.69" height="5.60" rx="2.80" fill="#000" fill-opacity="0.75"/>
<rect x="570.09" y="225.35" width="16.69" height="5.60" rx="2.80" fill="#000" fill-opacity="0.80"/>
<rect x="497.53" y="222.15" width="16.69" height="12.00" rx="6.00" fill="#000" fill-opacity="0.10"/>
<rect x="515.67" y="222.15" width="16.69" height="12.00" rx="6.00" fill="#000" fill-opacity="0.10"/>
<rect x="533.81" y="222.15" width="16.69" height="12.00" rx="6.00" fill="#000" fill-opacity="0.10"/>
<rect x="551.95" y="222.15" width="16.69" height="12.00" rx="6.00" fill="#000" fill-opacity="0.10"/>
<rect x="570.09" y="222.15" width="16.69" height="12.00" rx="6.00" fill="#000" fill-opacity="0.10"/>
</g></g>
<rect x="496.8" y="218.0" width="90.7" height="20.3" fill="none" stroke="#2a2a2a" stroke-width="1.0"/>
<clipPath id="c12"><rect x="496.8" y="243.2" width="90.7" height="20.3"/></clipPath>
<rect x="496.8" y="243.2" width="90.7" height="20.3" fill="#f6f6f6"/>
<g clip-path="url(#c12)"><g filter="url(#bl)">
<rect x="496.80" y="252.11" width="18.14" height="4.50" rx="2.25" fill="#000" fill-opacity="0.20"/>
<rect x="514.94" y="252.11" width="18.14" height="4.50" rx="2.25" fill="#000" fill-opacity="0.20"/>
<rect x="533.08" y="252.11" width="18.14" height="4.50" rx="2.25" fill="#000" fill-opacity="0.22"/>
<rect x="551.22" y="252.11" width="18.14" height="4.50" rx="2.25" fill="#000" fill-opacity="0.24"/>
<rect x="569.36" y="252.11" width="18.14" height="4.50" rx="2.25" fill="#000" fill-opacity="0.26"/>
</g></g>
<rect x="496.8" y="243.2" width="90.7" height="20.3" fill="none" stroke="#2a2a2a" stroke-width="1.0"/>
<line x1="588" y1="205.3" x2="596" y2="205.3" stroke="#000" stroke-width="1.2"/>
<text x="599" y="208.3" font-size="12.2" text-anchor="start" fill="#000">76</text>
<line x1="588" y1="228.2" x2="596" y2="228.2" stroke="#000" stroke-width="1.2"/>
<text x="599" y="231.4" font-size="12.2" text-anchor="start" fill="#000">76</text>
<line x1="401" y1="269.3" x2="491" y2="269.3" stroke="#777" stroke-width="1.2"/>
<line x1="497" y1="269.3" x2="586" y2="269.3" stroke="#777" stroke-width="1.2"/>
<text x="444.7" y="285.6" font-size="12.2" text-anchor="middle" fill="#000">H2228</text>
<text x="543.2" y="285.6" font-size="12.2" text-anchor="middle" fill="#000">KARPAS299</text>
<text x="9.5" y="362.3" font-size="24.5" text-anchor="start" fill="#000" font-weight="bold">c</text>
<text x="86.7" y="364.0" font-size="14" text-anchor="middle" fill="#000">H3122</text>
<line x1="25" y1="382" x2="25" y2="814.5" stroke="#000" stroke-width="2"/>
<polygon points="25,374.3 20.8,383.5 29.2,383.5" fill="#000"/>
<line x1="24" y1="814.5" x2="133" y2="814.5" stroke="#000" stroke-width="2"/>
<polygon points="141.5,814.5 132,810.1 132,818.9" fill="#000"/>
<text transform="translate(17 602) rotate(-90)" font-size="14" text-anchor="middle">PI</text>
<text x="81.6" y="849.8" font-size="14" text-anchor="middle" fill="#000">Annexin V</text>
<text x="86.6" y="402.8" font-size="12.6" text-anchor="middle" fill="#000">DMSO</text>
<rect x="41.6" y="407.5" width="89.3" height="89.5" fill="#fff" stroke="#bbb" stroke-width="0.8"/>
<clipPath id="fc407"><rect x="41.6" y="407.5" width="89.3" height="89.5"/></clipPath>
<g clip-path="url(#fc407)">
<path d="M58.0 476.3h0.85v0.85h-0.85zM70.3 479.8h0.85v0.85h-0.85zM69.8 478.8h0.85v0.85h-0.85zM66.0 478.5h0.85v0.85h-0.85zM53.6 482.1h0.85v0.85h-0.85zM66.6 480.2h0.85v0.85h-0.85zM53.5 468.1h0.85v0.85h-0.85zM58.3 475.0h0.85v0.85h-0.85zM59.6 486.8h0.85v0.85h-0.85zM66.9 484.0h0.85v0.85h-0.85zM59.9 473.5h0.85v0.85h-0.85zM60.9 472.3h0.85v0.85h-0.85zM60.5 484.1h0.85v0.85h-0.85zM66.2 469.5h0.85v0.85h-0.85zM63.9 484.6h0.85v0.85h-0.85zM51.5 475.8h0.85v0.85h-0.85zM66.6 477.2h0.85v0.85h-0.85zM54.8 482.0h0.85v0.85h-0.85zM67.6 482.6h0.85v0.85h-0.85zM72.2 479.5h0.85v0.85h-0.85zM64.3 470.5h0.85v0.85h-0.85zM60.9 470.7h0.85v0.85h-0.85zM57.8 474.6h0.85v0.85h-0.85zM71.3 466.5h0.85v0.85h-0.85zM54.9 478.8h0.85v0.85h-0.85zM72.3 480.6h0.85v0.85h-0.85zM52.2 463.9h0.85v0.85h-0.85zM65.7 473.5h0.85v0.85h-0.85zM56.9 482.8h0.85v0.85h-0.85zM70.2 478.3h0.85v0.85h-0.85zM73.2 480.8h0.85v0.85h-0.85zM54.2 484.4h0.85v0.85h-0.85zM69.3 480.4h0.85v0.85h-0.85zM51.8 474.1h0.85v0.85h-0.85zM68.7 467.7h0.85v0.85h-0.85zM62.5 483.0h0.85v0.85h-0.85zM55.7 486.2h0.85v0.85h-0.85zM66.9 476.7h0.85v0.85h-0.85zM65.5 481.0h0.85v0.85h-0.85zM64.3 483.7h0.85v0.85h-0.85zM59.6 475.3h0.85v0.85h-0.85zM69.9 477.6h0.85v0.85h-0.85zM58.3 482.6h0.85v0.85h-0.85zM72.4 475.1h0.85v0.85h-0.85zM55.3 476.8h0.85v0.85h-0.85zM72.0 472.0h0.85v0.85h-0.85zM71.2 470.7h0.85v0.85h-0.85zM58.9 480.9h0.85v0.85h-0.85zM70.4 482.1h0.85v0.85h-0.85zM64.5 480.6h0.85v0.85h-0.85zM67.0 477.5h0.85v0.85h-0.85zM75.7 479.3h0.85v0.85h-0.85zM61.0 475.5h0.85v0.85h-0.85zM63.5 482.5h0.85v0.85h-0.85zM74.6 463.7h0.85v0.85h-0.85zM56.9 478.8h0.85v0.85h-0.85zM61.0 481.0h0.85v0.85h-0.85zM78.2 479.4h0.85v0.85h-0.85zM62.2 477.2h0.85v0.85h-0.85zM47.2 474.9h0.85v0.85h-0.85zM69.7 471.2h0.85v0.85h-0.85zM63.2 482.6h0.85v0.85h-0.85zM68.7 485.6h0.85v0.85h-0.85zM53.4 475.6h0.85v0.85h-0.85zM70.2 463.0h0.85v0.85h-0.85zM70.1 469.7h0.85v0.85h-0.85zM67.7 469.4h0.85v0.85h-0.85zM64.7 484.0h0.85v0.85h-0.85zM68.4 478.3h0.85v0.85h-0.85zM63.1 485.8h0.85v0.85h-0.85zM69.9 475.9h0.85v0.85h-0.85zM80.1 471.3h0.85v0.85h-0.85zM64.4 481.3h0.85v0.85h-0.85zM54.4 469.3h0.85v0.85h-0.85zM67.3 472.3h0.85v0.85h-0.85zM57.4 469.6h0.85v0.85h-0.85zM71.2 481.5h0.85v0.85h-0.85zM72.4 472.4h0.85v0.85h-0.85zM63.6 471.3h0.85v0.85h-0.85zM68.2 486.1h0.85v0.85h-0.85zM58.3 485.9h0.85v0.85h-0.85zM69.5 476.5h0.85v0.85h-0.85zM51.8 485.1h0.85v0.85h-0.85zM63.0 474.2h0.85v0.85h-0.85zM72.6 472.0h0.85v0.85h-0.85zM70.4 485.5h0.85v0.85h-0.85zM72.3 476.5h0.85v0.85h-0.85zM59.1 483.0h0.85v0.85h-0.85zM72.1 476.1h0.85v0.85h-0.85zM49.8 475.4h0.85v0.85h-0.85zM52.5 481.9h0.85v0.85h-0.85zM65.5 474.2h0.85v0.85h-0.85zM63.5 482.0h0.85v0.85h-0.85zM64.1 484.7h0.85v0.85h-0.85zM63.2 483.1h0.85v0.85h-0.85zM72.5 486.2h0.85v0.85h-0.85zM59.6 482.3h0.85v0.85h-0.85zM52.3 471.6h0.85v0.85h-0.85zM51.8 483.3h0.85v0.85h-0.85zM56.2 477.4h0.85v0.85h-0.85zM74.3 477.7h0.85v0.85h-0.85zM66.8 482.9h0.85v0.85h-0.85zM62.4 470.7h0.85v0.85h-0.85zM60.3 483.3h0.85v0.85h-0.85zM53.7 474.3h0.85v0.85h-0.85zM69.6 481.8h0.85v0.85h-0.85zM63.6 481.8h0.85v0.85h-0.85zM64.6 471.1h0.85v0.85h-0.85zM54.2 474.0h0.85v0.85h-0.85zM69.1 474.4h0.85v0.85h-0.85zM58.2 473.3h0.85v0.85h-0.85zM54.4 476.9h0.85v0.85h-0.85zM56.5 479.5h0.85v0.85h-0.85zM49.4 479.3h0.85v0.85h-0.85zM59.8 467.0h0.85v0.85h-0.85zM67.9 476.0h0.85v0.85h-0.85zM50.2 472.8h0.85v0.85h-0.85zM68.3 481.5h0.85v0.85h-0.85zM71.6 481.1h0.85v0.85h-0.85zM66.3 466.2h0.85v0.85h-0.85zM69.0 484.6h0.85v0.85h-0.85zM75.2 468.0h0.85v0.85h-0.85zM66.4 490.6h0.85v0.85h-0.85zM58.0 481.2h0.85v0.85h-0.85zM74.9 476.9h0.85v0.85h-0.85zM67.0 482.4h0.85v0.85h-0.85zM57.5 475.6h0.85v0.85h-0.85zM58.5 473.0h0.85v0.85h-0.85zM79.6 483.7h0.85v0.85h-0.85zM67.4 463.5h0.85v0.85h-0.85zM67.3 480.1h0.85v0.85h-0.85zM73.7 479.8h0.85v0.85h-0.85zM51.9 483.1h0.85v0.85h-0.85zM71.6 487.3h0.85v0.85h-0.85zM55.2 473.9h0.85v0.85h-0.85zM61.2 472.2h0.85v0.85h-0.85zM76.3 483.1h0.85v0.85h-0.85zM56.4 470.2h0.85v0.85h-0.85zM73.8 482.8h0.85v0.85h-0.85zM74.5 481.9h0.85v0.85h-0.85zM58.4 478.9h0.85v0.85h-0.85zM50.6 473.5h0.85v0.85h-0.85zM63.2 480.3h0.85v0.85h-0.85zM66.4 479.5h0.85v0.85h-0.85zM67.4 478.6h0.85v0.85h-0.85zM61.7 481.8h0.85v0.85h-0.85zM63.9 473.0h0.85v0.85h-0.85zM62.9 478.3h0.85v0.85h-0.85zM62.8 470.7h0.85v0.85h-0.85zM66.1 483.2h0.85v0.85h-0.85zM66.3 472.3h0.85v0.85h-0.85zM52.2 477.8h0.85v0.85h-0.85zM58.0 481.5h0.85v0.85h-0.85zM57.1 463.3h0.85v0.85h-0.85zM57.4 486.0h0.85v0.85h-0.85zM61.3 470.1h0.85v0.85h-0.85zM72.5 481.3h0.85v0.85h-0.85zM63.5 480.7h0.85v0.85h-0.85zM73.5 482.7h0.85v0.85h-0.85zM69.7 471.7h0.85v0.85h-0.85zM62.7 481.4h0.85v0.85h-0.85zM61.8 483.3h0.85v0.85h-0.85zM67.2 482.4h0.85v0.85h-0.85zM62.3 491.3h0.85v0.85h-0.85zM71.0 476.3h0.85v0.85h-0.85zM64.1 491.5h0.85v0.85h-0.85zM61.5 482.2h0.85v0.85h-0.85zM56.6 478.5h0.85v0.85h-0.85zM65.8 483.6h0.85v0.85h-0.85zM68.3 477.6h0.85v0.85h-0.85zM68.7 480.4h0.85v0.85h-0.85zM62.1 481.2h0.85v0.85h-0.85zM57.3 474.1h0.85v0.85h-0.85zM63.6 469.6h0.85v0.85h-0.85zM61.0 466.7h0.85v0.85h-0.85zM62.2 469.8h0.85v0.85h-0.85zM74.6 480.3h0.85v0.85h-0.85zM70.2 472.7h0.85v0.85h-0.85zM62.5 467.7h0.85v0.85h-0.85zM68.3 482.5h0.85v0.85h-0.85zM52.2 477.2h0.85v0.85h-0.85zM67.4 468.0h0.85v0.85h-0.85zM52.6 471.7h0.85v0.85h-0.85zM59.8 469.9h0.85v0.85h-0.85zM72.6 483.8h0.85v0.85h-0.85zM55.7 474.8h0.85v0.85h-0.85zM57.2 471.7h0.85v0.85h-0.85zM63.1 477.5h0.85v0.85h-0.85zM66.5 468.9h0.85v0.85h-0.85zM56.2 477.4h0.85v0.85h-0.85zM62.4 475.8h0.85v0.85h-0.85zM67.8 479.4h0.85v0.85h-0.85zM62.6 462.8h0.85v0.85h-0.85zM54.6 478.6h0.85v0.85h-0.85zM64.5 470.1h0.85v0.85h-0.85zM66.4 480.8h0.85v0.85h-0.85zM68.0 479.1h0.85v0.85h-0.85zM59.3 470.2h0.85v0.85h-0.85zM61.4 473.5h0.85v0.85h-0.85zM56.9 476.9h0.85v0.85h-0.85zM77.5 475.8h0.85v0.85h-0.85zM70.2 478.2h0.85v0.85h-0.85zM70.3 464.7h0.85v0.85h-0.85zM67.2 490.1h0.85v0.85h-0.85zM65.5 484.4h0.85v0.85h-0.85zM68.2 482.6h0.85v0.85h-0.85zM66.7 471.7h0.85v0.85h-0.85zM70.7 472.0h0.85v0.85h-0.85zM65.1 489.0h0.85v0.85h-0.85zM70.6 477.6h0.85v0.85h-0.85zM58.8 478.9h0.85v0.85h-0.85zM59.0 487.0h0.85v0.85h-0.85zM73.6 477.6h0.85v0.85h-0.85zM72.1 473.7h0.85v0.85h-0.85zM67.6 474.9h0.85v0.85h-0.85zM59.4 481.4h0.85v0.85h-0.85zM71.6 477.4h0.85v0.85h-0.85zM59.5 481.9h0.85v0.85h-0.85zM63.3 479.2h0.85v0.85h-0.85zM72.7 483.6h0.85v0.85h-0.85zM60.5 489.8h0.85v0.85h-0.85zM53.1 487.1h0.85v0.85h-0.85zM71.8 470.9h0.85v0.85h-0.85zM54.6 468.7h0.85v0.85h-0.85zM70.7 475.0h0.85v0.85h-0.85zM62.9 471.6h0.85v0.85h-0.85zM63.7 469.7h0.85v0.85h-0.85zM63.2 479.2h0.85v0.85h-0.85zM58.2 478.4h0.85v0.85h-0.85zM60.7 486.0h0.85v0.85h-0.85zM68.2 476.9h0.85v0.85h-0.85zM60.8 473.7h0.85v0.85h-0.85zM58.0 475.6h0.85v0.85h-0.85zM67.0 488.8h0.85v0.85h-0.85zM59.4 477.6h0.85v0.85h-0.85zM80.4 467.4h0.85v0.85h-0.85zM63.9 481.7h0.85v0.85h-0.85zM52.2 472.7h0.85v0.85h-0.85zM63.6 471.9h0.85v0.85h-0.85zM57.3 480.9h0.85v0.85h-0.85zM59.7 480.9h0.85v0.85h-0.85zM68.1 479.2h0.85v0.85h-0.85zM55.1 477.3h0.85v0.85h-0.85zM58.3 481.0h0.85v0.85h-0.85zM74.8 474.5h0.85v0.85h-0.85zM72.8 479.2h0.85v0.85h-0.85zM69.0 473.8h0.85v0.85h-0.85zM52.9 485.3h0.85v0.85h-0.85zM69.0 468.1h0.85v0.85h-0.85zM68.1 476.8h0.85v0.85h-0.85zM54.6 476.4h0.85v0.85h-0.85zM72.6 474.4h0.85v0.85h-0.85zM57.5 470.2h0.85v0.85h-0.85zM56.3 479.3h0.85v0.85h-0.85zM73.8 479.8h0.85v0.85h-0.85zM65.1 489.6h0.85v0.85h-0.85zM66.8 480.5h0.85v0.85h-0.85zM57.5 471.2h0.85v0.85h-0.85zM55.8 476.4h0.85v0.85h-0.85zM60.3 480.0h0.85v0.85h-0.85zM61.5 483.2h0.85v0.85h-0.85zM71.9 475.5h0.85v0.85h-0.85zM68.7 473.4h0.85v0.85h-0.85zM64.0 481.5h0.85v0.85h-0.85zM72.7 475.4h0.85v0.85h-0.85zM54.6 477.6h0.85v0.85h-0.85zM59.5 479.5h0.85v0.85h-0.85zM56.8 466.8h0.85v0.85h-0.85zM60.3 482.3h0.85v0.85h-0.85zM66.5 469.0h0.85v0.85h-0.85zM59.5 477.4h0.85v0.85h-0.85zM68.7 476.6h0.85v0.85h-0.85zM65.4 486.5h0.85v0.85h-0.85zM59.5 490.3h0.85v0.85h-0.85zM64.6 483.0h0.85v0.85h-0.85zM56.2 466.2h0.85v0.85h-0.85zM67.2 481.8h0.85v0.85h-0.85zM67.3 491.7h0.85v0.85h-0.85zM73.6 470.8h0.85v0.85h-0.85zM61.3 458.9h0.85v0.85h-0.85zM69.1 489.1h0.85v0.85h-0.85zM60.6 473.0h0.85v0.85h-0.85zM59.8 481.0h0.85v0.85h-0.85zM62.6 482.4h0.85v0.85h-0.85zM67.6 476.7h0.85v0.85h-0.85zM56.7 485.4h0.85v0.85h-0.85zM66.4 472.3h0.85v0.85h-0.85zM70.1 479.4h0.85v0.85h-0.85zM54.2 486.2h0.85v0.85h-0.85zM65.6 482.3h0.85v0.85h-0.85zM54.3 482.7h0.85v0.85h-0.85zM65.7 477.9h0.85v0.85h-0.85zM67.7 475.5h0.85v0.85h-0.85zM63.4 465.9h0.85v0.85h-0.85zM61.1 481.1h0.85v0.85h-0.85zM71.6 475.5h0.85v0.85h-0.85zM62.9 486.1h0.85v0.85h-0.85zM61.6 481.5h0.85v0.85h-0.85zM73.7 477.7h0.85v0.85h-0.85zM71.0 473.7h0.85v0.85h-0.85zM64.8 477.1h0.85v0.85h-0.85zM64.3 483.6h0.85v0.85h-0.85zM77.9 473.9h0.85v0.85h-0.85zM60.1 480.2h0.85v0.85h-0.85zM57.3 480.2h0.85v0.85h-0.85zM66.8 469.1h0.85v0.85h-0.85zM68.2 469.2h0.85v0.85h-0.85zM59.4 474.5h0.85v0.85h-0.85zM61.2 482.1h0.85v0.85h-0.85zM66.9 486.0h0.85v0.85h-0.85zM71.0 478.9h0.85v0.85h-0.85zM55.9 490.9h0.85v0.85h-0.85zM76.9 466.8h0.85v0.85h-0.85zM69.4 481.1h0.85v0.85h-0.85zM62.0 471.8h0.85v0.85h-0.85zM64.2 483.1h0.85v0.85h-0.85zM57.1 472.0h0.85v0.85h-0.85zM63.5 467.0h0.85v0.85h-0.85zM62.0 475.1h0.85v0.85h-0.85zM58.3 475.4h0.85v0.85h-0.85zM63.3 473.9h0.85v0.85h-0.85zM63.7 481.6h0.85v0.85h-0.85zM70.7 486.7h0.85v0.85h-0.85zM58.9 475.2h0.85v0.85h-0.85zM48.7 487.8h0.85v0.85h-0.85zM66.7 470.2h0.85v0.85h-0.85zM52.6 479.1h0.85v0.85h-0.85zM70.8 467.4h0.85v0.85h-0.85zM68.4 478.6h0.85v0.85h-0.85zM66.4 479.9h0.85v0.85h-0.85zM71.4 476.3h0.85v0.85h-0.85zM68.0 473.1h0.85v0.85h-0.85zM62.9 486.8h0.85v0.85h-0.85zM56.7 473.2h0.85v0.85h-0.85zM66.2 480.3h0.85v0.85h-0.85zM63.3 484.8h0.85v0.85h-0.85zM61.3 474.5h0.85v0.85h-0.85zM62.1 480.9h0.85v0.85h-0.85zM65.7 471.0h0.85v0.85h-0.85zM57.6 481.7h0.85v0.85h-0.85zM61.9 475.7h0.85v0.85h-0.85zM68.4 484.6h0.85v0.85h-0.85zM58.3 490.0h0.85v0.85h-0.85zM60.6 484.0h0.85v0.85h-0.85zM59.7 481.9h0.85v0.85h-0.85zM76.9 463.8h0.85v0.85h-0.85zM61.0 480.2h0.85v0.85h-0.85zM76.5 477.9h0.85v0.85h-0.85zM53.7 482.1h0.85v0.85h-0.85zM53.3 483.7h0.85v0.85h-0.85zM60.1 478.3h0.85v0.85h-0.85zM71.2 478.1h0.85v0.85h-0.85zM55.3 468.3h0.85v0.85h-0.85zM70.7 481.5h0.85v0.85h-0.85zM58.7 482.1h0.85v0.85h-0.85zM50.0 475.9h0.85v0.85h-0.85zM69.0 481.5h0.85v0.85h-0.85zM68.9 464.2h0.85v0.85h-0.85zM64.6 480.2h0.85v0.85h-0.85zM78.9 472.3h0.85v0.85h-0.85zM68.9 475.1h0.85v0.85h-0.85zM70.5 473.2h0.85v0.85h-0.85zM64.5 473.8h0.85v0.85h-0.85zM54.0 483.4h0.85v0.85h-0.85zM65.4 474.5h0.85v0.85h-0.85zM64.8 482.8h0.85v0.85h-0.85zM57.7 476.9h0.85v0.85h-0.85zM61.6 466.1h0.85v0.85h-0.85zM71.1 479.3h0.85v0.85h-0.85zM57.5 473.5h0.85v0.85h-0.85zM56.6 480.9h0.85v0.85h-0.85zM55.7 481.1h0.85v0.85h-0.85zM57.5 479.4h0.85v0.85h-0.85zM71.8 478.6h0.85v0.85h-0.85zM64.5 468.1h0.85v0.85h-0.85zM68.0 481.6h0.85v0.85h-0.85zM69.0 480.7h0.85v0.85h-0.85zM61.9 477.4h0.85v0.85h-0.85zM62.5 468.2h0.85v0.85h-0.85zM57.8 477.4h0.85v0.85h-0.85zM76.1 463.4h0.85v0.85h-0.85zM62.4 467.6h0.85v0.85h-0.85zM69.5 491.8h0.85v0.85h-0.85zM48.6 478.2h0.85v0.85h-0.85zM66.9 465.4h0.85v0.85h-0.85zM67.4 474.9h0.85v0.85h-0.85zM50.1 477.3h0.85v0.85h-0.85zM64.8 481.6h0.85v0.85h-0.85zM58.3 477.3h0.85v0.85h-0.85zM67.3 478.3h0.85v0.85h-0.85zM71.1 488.3h0.85v0.85h-0.85zM58.1 467.1h0.85v0.85h-0.85zM68.7 485.8h0.85v0.85h-0.85zM69.1 481.9h0.85v0.85h-0.85zM68.9 472.6h0.85v0.85h-0.85zM52.7 472.1h0.85v0.85h-0.85zM78.6 487.9h0.85v0.85h-0.85zM59.5 473.6h0.85v0.85h-0.85zM65.0 473.5h0.85v0.85h-0.85zM71.5 477.1h0.85v0.85h-0.85zM57.1 484.6h0.85v0.85h-0.85zM60.1 478.7h0.85v0.85h-0.85zM65.5 473.8h0.85v0.85h-0.85zM52.5 465.6h0.85v0.85h-0.85zM56.0 473.4h0.85v0.85h-0.85zM66.9 478.1h0.85v0.85h-0.85zM58.8 473.7h0.85v0.85h-0.85zM50.9 476.6h0.85v0.85h-0.85zM66.5 480.4h0.85v0.85h-0.85zM62.9 476.6h0.85v0.85h-0.85zM64.9 484.6h0.85v0.85h-0.85zM58.8 473.2h0.85v0.85h-0.85zM72.9 487.0h0.85v0.85h-0.85zM70.7 481.9h0.85v0.85h-0.85zM70.8 470.7h0.85v0.85h-0.85zM59.8 479.9h0.85v0.85h-0.85zM72.2 478.1h0.85v0.85h-0.85zM58.4 475.6h0.85v0.85h-0.85zM59.6 472.9h0.85v0.85h-0.85zM72.6 474.1h0.85v0.85h-0.85zM63.7 489.2h0.85v0.85h-0.85zM70.7 479.3h0.85v0.85h-0.85zM73.3 480.9h0.85v0.85h-0.85zM71.2 478.0h0.85v0.85h-0.85zM66.2 484.5h0.85v0.85h-0.85zM55.0 477.2h0.85v0.85h-0.85zM65.0 474.4h0.85v0.85h-0.85zM61.8 481.7h0.85v0.85h-0.85zM75.6 480.9h0.85v0.85h-0.85zM65.6 469.1h0.85v0.85h-0.85zM75.2 477.9h0.85v0.85h-0.85zM63.4 471.5h0.85v0.85h-0.85zM63.3 471.6h0.85v0.85h-0.85zM63.8 479.0h0.85v0.85h-0.85zM58.5 485.2h0.85v0.85h-0.85zM59.7 467.7h0.85v0.85h-0.85zM62.5 473.4h0.85v0.85h-0.85zM57.5 475.6h0.85v0.85h-0.85zM65.3 471.1h0.85v0.85h-0.85zM62.8 485.2h0.85v0.85h-0.85zM63.3 481.5h0.85v0.85h-0.85zM63.0 464.5h0.85v0.85h-0.85zM67.5 474.2h0.85v0.85h-0.85zM64.5 489.3h0.85v0.85h-0.85zM57.3 471.4h0.85v0.85h-0.85zM55.1 464.6h0.85v0.85h-0.85zM52.3 479.5h0.85v0.85h-0.85zM59.8 467.4h0.85v0.85h-0.85zM54.7 480.8h0.85v0.85h-0.85zM58.9 475.5h0.85v0.85h-0.85zM65.6 484.8h0.85v0.85h-0.85zM75.2 483.1h0.85v0.85h-0.85zM74.4 485.2h0.85v0.85h-0.85zM60.6 470.3h0.85v0.85h-0.85zM60.4 469.2h0.85v0.85h-0.85zM70.9 480.4h0.85v0.85h-0.85zM56.4 485.0h0.85v0.85h-0.85zM69.0 467.2h0.85v0.85h-0.85zM74.6 481.9h0.85v0.85h-0.85zM76.0 470.9h0.85v0.85h-0.85zM66.8 479.8h0.85v0.85h-0.85zM64.8 478.4h0.85v0.85h-0.85zM69.9 469.4h0.85v0.85h-0.85zM56.1 470.0h0.85v0.85h-0.85zM60.3 474.2h0.85v0.85h-0.85zM65.8 478.9h0.85v0.85h-0.85zM63.8 473.8h0.85v0.85h-0.85zM60.9 482.6h0.85v0.85h-0.85zM68.2 478.0h0.85v0.85h-0.85zM61.7 485.9h0.85v0.85h-0.85zM70.5 476.1h0.85v0.85h-0.85zM68.6 471.5h0.85v0.85h-0.85zM69.7 478.6h0.85v0.85h-0.85zM54.1 481.1h0.85v0.85h-0.85zM58.2 484.4h0.85v0.85h-0.85zM67.6 477.5h0.85v0.85h-0.85zM64.9 462.6h0.85v0.85h-0.85zM70.6 477.7h0.85v0.85h-0.85zM52.9 478.0h0.85v0.85h-0.85zM66.4 483.3h0.85v0.85h-0.85zM57.1 485.9h0.85v0.85h-0.85zM62.6 490.4h0.85v0.85h-0.85zM61.4 471.5h0.85v0.85h-0.85zM70.2 482.4h0.85v0.85h-0.85zM72.8 482.1h0.85v0.85h-0.85zM60.2 468.5h0.85v0.85h-0.85zM59.7 473.9h0.85v0.85h-0.85zM58.7 480.6h0.85v0.85h-0.85zM64.9 481.6h0.85v0.85h-0.85zM69.4 473.8h0.85v0.85h-0.85zM54.6 485.2h0.85v0.85h-0.85zM64.3 483.5h0.85v0.85h-0.85zM53.7 475.7h0.85v0.85h-0.85zM63.8 469.7h0.85v0.85h-0.85zM70.1 486.1h0.85v0.85h-0.85zM58.4 469.9h0.85v0.85h-0.85zM66.7 482.6h0.85v0.85h-0.85zM64.8 470.5h0.85v0.85h-0.85zM68.3 481.8h0.85v0.85h-0.85zM66.9 474.9h0.85v0.85h-0.85zM60.2 467.5h0.85v0.85h-0.85zM65.6 480.1h0.85v0.85h-0.85zM63.7 482.3h0.85v0.85h-0.85zM60.1 477.1h0.85v0.85h-0.85zM73.2 476.1h0.85v0.85h-0.85zM75.9 485.8h0.85v0.85h-0.85zM68.3 480.7h0.85v0.85h-0.85zM74.2 476.5h0.85v0.85h-0.85zM62.9 471.8h0.85v0.85h-0.85zM66.4 484.8h0.85v0.85h-0.85zM66.8 479.8h0.85v0.85h-0.85zM55.0 483.2h0.85v0.85h-0.85zM61.1 471.5h0.85v0.85h-0.85zM59.1 473.0h0.85v0.85h-0.85zM68.7 483.2h0.85v0.85h-0.85zM55.5 482.5h0.85v0.85h-0.85zM68.9 474.4h0.85v0.85h-0.85zM54.7 473.5h0.85v0.85h-0.85zM61.5 466.5h0.85v0.85h-0.85zM65.0 469.2h0.85v0.85h-0.85zM69.0 471.0h0.85v0.85h-0.85zM59.4 472.9h0.85v0.85h-0.85zM60.3 484.5h0.85v0.85h-0.85zM68.7 480.7h0.85v0.85h-0.85zM65.5 469.1h0.85v0.85h-0.85zM60.5 474.5h0.85v0.85h-0.85zM57.7 480.2h0.85v0.85h-0.85zM59.2 473.7h0.85v0.85h-0.85zM57.3 466.4h0.85v0.85h-0.85zM67.2 484.7h0.85v0.85h-0.85zM64.6 472.2h0.85v0.85h-0.85zM47.4 478.4h0.85v0.85h-0.85zM70.9 479.1h0.85v0.85h-0.85zM69.2 485.5h0.85v0.85h-0.85zM70.4 475.1h0.85v0.85h-0.85zM69.9 481.7h0.85v0.85h-0.85zM54.4 475.3h0.85v0.85h-0.85zM55.1 476.9h0.85v0.85h-0.85zM67.1 471.7h0.85v0.85h-0.85zM51.3 484.5h0.85v0.85h-0.85zM65.9 485.4h0.85v0.85h-0.85zM55.7 483.2h0.85v0.85h-0.85zM76.0 488.3h0.85v0.85h-0.85zM62.3 479.0h0.85v0.85h-0.85zM62.7 482.9h0.85v0.85h-0.85zM69.8 478.0h0.85v0.85h-0.85zM55.4 481.5h0.85v0.85h-0.85zM65.2 486.3h0.85v0.85h-0.85zM70.4 475.1h0.85v0.85h-0.85zM65.7 487.0h0.85v0.85h-0.85zM70.7 484.3h0.85v0.85h-0.85zM66.7 470.4h0.85v0.85h-0.85zM56.0 478.8h0.85v0.85h-0.85zM65.9 491.3h0.85v0.85h-0.85zM58.4 483.6h0.85v0.85h-0.85zM68.2 468.5h0.85v0.85h-0.85zM58.7 478.4h0.85v0.85h-0.85zM73.2 477.6h0.85v0.85h-0.85zM62.7 481.5h0.85v0.85h-0.85zM61.4 483.3h0.85v0.85h-0.85zM55.9 480.8h0.85v0.85h-0.85zM60.5 473.2h0.85v0.85h-0.85zM74.2 472.9h0.85v0.85h-0.85zM74.1 481.1h0.85v0.85h-0.85zM72.3 472.2h0.85v0.85h-0.85zM70.8 485.4h0.85v0.85h-0.85zM62.9 476.8h0.85v0.85h-0.85zM78.3 478.5h0.85v0.85h-0.85zM61.1 474.1h0.85v0.85h-0.85zM66.3 479.3h0.85v0.85h-0.85zM64.7 486.8h0.85v0.85h-0.85zM72.4 472.1h0.85v0.85h-0.85zM69.8 487.4h0.85v0.85h-0.85zM55.5 471.6h0.85v0.85h-0.85zM57.4 467.5h0.85v0.85h-0.85zM66.3 467.5h0.85v0.85h-0.85zM66.6 485.3h0.85v0.85h-0.85zM53.9 475.8h0.85v0.85h-0.85zM52.1 481.7h0.85v0.85h-0.85zM59.2 476.1h0.85v0.85h-0.85zM60.3 478.1h0.85v0.85h-0.85zM56.6 477.8h0.85v0.85h-0.85zM52.0 474.9h0.85v0.85h-0.85zM75.1 477.9h0.85v0.85h-0.85zM56.0 478.9h0.85v0.85h-0.85zM57.8 468.6h0.85v0.85h-0.85zM59.2 481.5h0.85v0.85h-0.85zM58.0 471.7h0.85v0.85h-0.85zM71.7 478.8h0.85v0.85h-0.85zM57.9 466.1h0.85v0.85h-0.85zM55.4 490.9h0.85v0.85h-0.85zM56.7 477.1h0.85v0.85h-0.85zM61.9 470.1h0.85v0.85h-0.85zM57.3 486.6h0.85v0.85h-0.85zM59.1 482.1h0.85v0.85h-0.85zM53.4 476.0h0.85v0.85h-0.85zM65.2 483.1h0.85v0.85h-0.85zM56.9 480.7h0.85v0.85h-0.85zM65.9 473.5h0.85v0.85h-0.85zM66.5 472.7h0.85v0.85h-0.85zM47.3 476.9h0.85v0.85h-0.85zM57.6 469.6h0.85v0.85h-0.85zM61.2 484.3h0.85v0.85h-0.85zM56.6 470.4h0.85v0.85h-0.85zM72.9 479.7h0.85v0.85h-0.85zM69.3 473.0h0.85v0.85h-0.85zM68.4 478.9h0.85v0.85h-0.85zM67.5 477.6h0.85v0.85h-0.85zM70.8 474.0h0.85v0.85h-0.85zM57.8 469.5h0.85v0.85h-0.85zM70.6 473.5h0.85v0.85h-0.85zM57.3 472.4h0.85v0.85h-0.85zM60.9 470.6h0.85v0.85h-0.85zM60.3 472.3h0.85v0.85h-0.85zM63.8 475.0h0.85v0.85h-0.85zM65.6 465.7h0.85v0.85h-0.85zM60.4 473.2h0.85v0.85h-0.85zM68.2 469.0h0.85v0.85h-0.85zM59.3 475.9h0.85v0.85h-0.85zM61.6 482.9h0.85v0.85h-0.85zM60.9 482.7h0.85v0.85h-0.85zM54.8 467.7h0.85v0.85h-0.85zM70.9 479.9h0.85v0.85h-0.85zM66.5 470.9h0.85v0.85h-0.85zM69.3 474.6h0.85v0.85h-0.85zM69.5 478.0h0.85v0.85h-0.85zM51.8 470.5h0.85v0.85h-0.85zM70.4 476.8h0.85v0.85h-0.85zM64.2 478.3h0.85v0.85h-0.85zM72.7 477.7h0.85v0.85h-0.85zM74.9 487.2h0.85v0.85h-0.85zM73.9 483.2h0.85v0.85h-0.85zM62.7 473.6h0.85v0.85h-0.85zM73.4 480.4h0.85v0.85h-0.85zM60.9 467.2h0.85v0.85h-0.85zM57.1 471.4h0.85v0.85h-0.85zM50.1 480.6h0.85v0.85h-0.85zM63.2 491.4h0.85v0.85h-0.85zM72.3 478.2h0.85v0.85h-0.85zM60.0 485.6h0.85v0.85h-0.85zM69.6 486.8h0.85v0.85h-0.85zM58.3 482.7h0.85v0.85h-0.85zM55.2 480.5h0.85v0.85h-0.85zM70.2 485.1h0.85v0.85h-0.85zM58.0 483.4h0.85v0.85h-0.85zM59.3 473.4h0.85v0.85h-0.85zM55.7 483.7h0.85v0.85h-0.85zM73.5 474.3h0.85v0.85h-0.85zM59.0 475.7h0.85v0.85h-0.85zM78.6 482.9h0.85v0.85h-0.85zM60.3 467.8h0.85v0.85h-0.85zM59.6 483.9h0.85v0.85h-0.85zM74.8 476.1h0.85v0.85h-0.85zM52.3 482.4h0.85v0.85h-0.85zM57.1 483.2h0.85v0.85h-0.85zM53.4 470.6h0.85v0.85h-0.85zM65.3 473.4h0.85v0.85h-0.85zM56.6 480.9h0.85v0.85h-0.85zM68.7 467.2h0.85v0.85h-0.85zM74.6 480.2h0.85v0.85h-0.85zM68.2 467.5h0.85v0.85h-0.85zM59.3 475.6h0.85v0.85h-0.85zM70.1 469.6h0.85v0.85h-0.85zM58.3 466.5h0.85v0.85h-0.85zM53.5 474.3h0.85v0.85h-0.85zM66.7 486.1h0.85v0.85h-0.85zM56.5 472.4h0.85v0.85h-0.85zM59.6 478.3h0.85v0.85h-0.85zM63.3 486.5h0.85v0.85h-0.85zM65.3 471.7h0.85v0.85h-0.85zM72.9 482.6h0.85v0.85h-0.85zM52.4 472.0h0.85v0.85h-0.85zM69.1 473.2h0.85v0.85h-0.85zM55.7 478.6h0.85v0.85h-0.85zM65.1 480.8h0.85v0.85h-0.85zM67.5 485.1h0.85v0.85h-0.85zM58.6 482.8h0.85v0.85h-0.85zM57.7 481.2h0.85v0.85h-0.85zM64.7 478.8h0.85v0.85h-0.85zM69.4 477.4h0.85v0.85h-0.85zM70.3 482.2h0.85v0.85h-0.85zM59.1 474.7h0.85v0.85h-0.85zM81.5 480.9h0.85v0.85h-0.85zM68.2 472.9h0.85v0.85h-0.85zM59.3 475.8h0.85v0.85h-0.85zM64.8 471.9h0.85v0.85h-0.85zM73.3 474.5h0.85v0.85h-0.85zM70.1 464.9h0.85v0.85h-0.85zM65.3 478.4h0.85v0.85h-0.85zM52.2 473.6h0.85v0.85h-0.85zM49.5 480.9h0.85v0.85h-0.85zM58.7 474.4h0.85v0.85h-0.85zM74.7 486.8h0.85v0.85h-0.85zM63.3 484.5h0.85v0.85h-0.85zM54.1 467.1h0.85v0.85h-0.85zM60.7 472.8h0.85v0.85h-0.85zM81.7 473.9h0.85v0.85h-0.85zM63.4 482.5h0.85v0.85h-0.85zM74.3 470.8h0.85v0.85h-0.85zM65.7 469.2h0.85v0.85h-0.85zM53.1 465.0h0.85v0.85h-0.85zM64.0 464.7h0.85v0.85h-0.85zM55.1 472.6h0.85v0.85h-0.85zM63.5 480.3h0.85v0.85h-0.85zM60.0 477.9h0.85v0.85h-0.85zM63.8 480.5h0.85v0.85h-0.85zM62.8 474.0h0.85v0.85h-0.85zM77.0 480.3h0.85v0.85h-0.85zM66.2 489.9h0.85v0.85h-0.85zM72.0 469.1h0.85v0.85h-0.85zM67.8 482.0h0.85v0.85h-0.85zM74.9 484.6h0.85v0.85h-0.85zM68.2 471.1h0.85v0.85h-0.85zM58.4 479.0h0.85v0.85h-0.85zM66.6 472.0h0.85v0.85h-0.85zM61.9 470.8h0.85v0.85h-0.85zM71.1 486.1h0.85v0.85h-0.85zM63.0 483.0h0.85v0.85h-0.85zM66.3 481.1h0.85v0.85h-0.85zM66.5 473.4h0.85v0.85h-0.85zM67.0 483.0h0.85v0.85h-0.85zM58.2 488.1h0.85v0.85h-0.85zM76.1 487.3h0.85v0.85h-0.85zM75.5 481.5h0.85v0.85h-0.85zM61.6 474.3h0.85v0.85h-0.85zM63.4 481.1h0.85v0.85h-0.85zM51.5 490.0h0.85v0.85h-0.85zM77.3 477.4h0.85v0.85h-0.85zM67.7 480.1h0.85v0.85h-0.85zM65.2 476.4h0.85v0.85h-0.85zM65.5 472.9h0.85v0.85h-0.85zM67.2 471.8h0.85v0.85h-0.85zM66.1 482.8h0.85v0.85h-0.85zM67.2 475.5h0.85v0.85h-0.85zM68.0 485.9h0.85v0.85h-0.85zM58.2 473.5h0.85v0.85h-0.85zM63.0 481.1h0.85v0.85h-0.85zM56.4 472.0h0.85v0.85h-0.85zM66.6 470.9h0.85v0.85h-0.85zM62.9 472.0h0.85v0.85h-0.85zM70.1 468.5h0.85v0.85h-0.85zM69.4 474.2h0.85v0.85h-0.85zM66.9 474.4h0.85v0.85h-0.85zM68.0 486.9h0.85v0.85h-0.85zM58.0 482.8h0.85v0.85h-0.85zM70.9 477.7h0.85v0.85h-0.85zM56.8 479.7h0.85v0.85h-0.85zM70.5 483.4h0.85v0.85h-0.85zM68.5 467.6h0.85v0.85h-0.85zM59.5 485.2h0.85v0.85h-0.85zM56.2 483.6h0.85v0.85h-0.85zM74.9 481.6h0.85v0.85h-0.85zM70.3 475.7h0.85v0.85h-0.85zM56.2 476.9h0.85v0.85h-0.85zM64.8 479.8h0.85v0.85h-0.85zM63.6 487.5h0.85v0.85h-0.85zM62.4 474.1h0.85v0.85h-0.85zM71.7 478.3h0.85v0.85h-0.85zM57.1 474.5h0.85v0.85h-0.85zM70.1 471.2h0.85v0.85h-0.85zM66.6 478.3h0.85v0.85h-0.85zM56.5 477.8h0.85v0.85h-0.85zM53.6 471.6h0.85v0.85h-0.85zM68.3 483.1h0.85v0.85h-0.85zM70.1 466.2h0.85v0.85h-0.85zM58.8 481.1h0.85v0.85h-0.85zM67.5 471.9h0.85v0.85h-0.85zM52.3 485.3h0.85v0.85h-0.85zM64.5 472.7h0.85v0.85h-0.85zM63.9 482.4h0.85v0.85h-0.85zM48.0 483.5h0.85v0.85h-0.85zM68.0 466.3h0.85v0.85h-0.85zM68.2 467.9h0.85v0.85h-0.85zM70.4 479.7h0.85v0.85h-0.85zM77.1 474.2h0.85v0.85h-0.85zM63.6 483.2h0.85v0.85h-0.85zM59.8 473.7h0.85v0.85h-0.85zM57.1 480.1h0.85v0.85h-0.85zM73.8 475.7h0.85v0.85h-0.85zM71.4 474.5h0.85v0.85h-0.85zM68.1 467.1h0.85v0.85h-0.85zM64.8 476.6h0.85v0.85h-0.85zM60.6 474.2h0.85v0.85h-0.85zM61.5 473.6h0.85v0.85h-0.85zM50.4 474.3h0.85v0.85h-0.85zM57.3 476.8h0.85v0.85h-0.85zM68.3 476.1h0.85v0.85h-0.85zM60.6 484.8h0.85v0.85h-0.85zM69.5 482.5h0.85v0.85h-0.85zM70.5 475.7h0.85v0.85h-0.85zM62.8 483.5h0.85v0.85h-0.85zM65.9 479.5h0.85v0.85h-0.85zM61.9 482.8h0.85v0.85h-0.85zM70.0 481.1h0.85v0.85h-0.85zM68.0 471.2h0.85v0.85h-0.85zM55.7 474.2h0.85v0.85h-0.85zM66.5 485.6h0.85v0.85h-0.85zM56.3 479.2h0.85v0.85h-0.85zM58.5 473.5h0.85v0.85h-0.85zM64.9 483.9h0.85v0.85h-0.85zM57.7 482.3h0.85v0.85h-0.85zM66.5 474.5h0.85v0.85h-0.85zM57.1 475.3h0.85v0.85h-0.85zM59.7 493.1h0.85v0.85h-0.85zM60.7 486.4h0.85v0.85h-0.85zM68.1 473.3h0.85v0.85h-0.85zM54.5 480.7h0.85v0.85h-0.85zM73.1 475.3h0.85v0.85h-0.85zM66.7 481.5h0.85v0.85h-0.85zM58.2 484.0h0.85v0.85h-0.85zM54.9 470.5h0.85v0.85h-0.85zM66.7 471.6h0.85v0.85h-0.85zM62.9 468.6h0.85v0.85h-0.85zM64.0 471.4h0.85v0.85h-0.85zM65.7 469.2h0.85v0.85h-0.85zM64.4 470.4h0.85v0.85h-0.85zM48.2 477.7h0.85v0.85h-0.85zM58.0 475.0h0.85v0.85h-0.85zM66.2 466.8h0.85v0.85h-0.85zM59.0 474.2h0.85v0.85h-0.85zM57.3 479.3h0.85v0.85h-0.85zM62.8 473.1h0.85v0.85h-0.85zM57.7 481.9h0.85v0.85h-0.85zM66.3 467.3h0.85v0.85h-0.85zM57.1 477.5h0.85v0.85h-0.85zM65.7 481.7h0.85v0.85h-0.85zM68.4 483.1h0.85v0.85h-0.85zM69.9 468.9h0.85v0.85h-0.85zM67.5 476.6h0.85v0.85h-0.85zM51.8 482.8h0.85v0.85h-0.85zM57.1 475.0h0.85v0.85h-0.85zM72.7 473.0h0.85v0.85h-0.85zM42.8 472.9h0.85v0.85h-0.85zM56.4 476.8h0.85v0.85h-0.85zM58.5 483.2h0.85v0.85h-0.85zM54.9 488.1h0.85v0.85h-0.85zM60.3 471.6h0.85v0.85h-0.85zM68.3 480.5h0.85v0.85h-0.85zM57.3 481.5h0.85v0.85h-0.85zM52.6 472.5h0.85v0.85h-0.85zM70.4 476.1h0.85v0.85h-0.85zM55.8 480.3h0.85v0.85h-0.85zM52.8 475.6h0.85v0.85h-0.85zM74.7 476.1h0.85v0.85h-0.85zM70.8 472.4h0.85v0.85h-0.85zM71.4 462.7h0.85v0.85h-0.85zM68.4 473.9h0.85v0.85h-0.85zM56.5 477.0h0.85v0.85h-0.85zM65.0 480.7h0.85v0.85h-0.85zM58.0 472.1h0.85v0.85h-0.85zM52.1 491.2h0.85v0.85h-0.85zM54.6 482.5h0.85v0.85h-0.85zM60.4 485.3h0.85v0.85h-0.85zM68.7 477.6h0.85v0.85h-0.85zM68.0 471.5h0.85v0.85h-0.85zM61.6 474.4h0.85v0.85h-0.85zM56.0 477.6h0.85v0.85h-0.85zM62.7 485.3h0.85v0.85h-0.85zM43.5 473.9h0.85v0.85h-0.85zM58.1 475.0h0.85v0.85h-0.85zM73.9 446.5h0.85v0.85h-0.85zM74.0 448.7h0.85v0.85h-0.85zM68.1 452.8h0.85v0.85h-0.85zM72.4 460.8h0.85v0.85h-0.85zM84.9 444.8h0.85v0.85h-0.85zM70.2 452.0h0.85v0.85h-0.85zM73.2 448.0h0.85v0.85h-0.85zM62.5 456.5h0.85v0.85h-0.85zM68.7 459.0h0.85v0.85h-0.85zM70.7 457.5h0.85v0.85h-0.85zM82.4 451.4h0.85v0.85h-0.85zM70.2 456.9h0.85v0.85h-0.85zM75.1 457.0h0.85v0.85h-0.85zM78.8 449.7h0.85v0.85h-0.85zM64.5 457.9h0.85v0.85h-0.85zM72.6 456.4h0.85v0.85h-0.85zM79.9 453.7h0.85v0.85h-0.85zM70.5 460.4h0.85v0.85h-0.85zM55.6 455.8h0.85v0.85h-0.85zM65.9 463.0h0.85v0.85h-0.85zM79.1 457.0h0.85v0.85h-0.85zM73.9 450.0h0.85v0.85h-0.85zM57.3 458.9h0.85v0.85h-0.85zM73.3 456.9h0.85v0.85h-0.85zM78.3 453.1h0.85v0.85h-0.85zM73.6 459.8h0.85v0.85h-0.85zM76.0 457.1h0.85v0.85h-0.85zM78.0 457.7h0.85v0.85h-0.85zM80.0 448.3h0.85v0.85h-0.85zM79.1 458.3h0.85v0.85h-0.85zM83.6 450.3h0.85v0.85h-0.85zM86.8 453.9h0.85v0.85h-0.85zM57.8 456.3h0.85v0.85h-0.85zM60.9 450.8h0.85v0.85h-0.85zM76.0 456.6h0.85v0.85h-0.85zM72.3 449.0h0.85v0.85h-0.85zM64.7 459.4h0.85v0.85h-0.85zM71.7 455.1h0.85v0.85h-0.85zM68.1 453.0h0.85v0.85h-0.85zM63.2 456.8h0.85v0.85h-0.85zM74.2 458.0h0.85v0.85h-0.85zM91.4 450.2h0.85v0.85h-0.85zM51.5 455.3h0.85v0.85h-0.85zM84.1 453.1h0.85v0.85h-0.85zM71.7 451.2h0.85v0.85h-0.85zM77.6 454.2h0.85v0.85h-0.85zM83.1 456.5h0.85v0.85h-0.85zM86.5 454.4h0.85v0.85h-0.85zM65.6 458.2h0.85v0.85h-0.85zM64.6 453.8h0.85v0.85h-0.85zM66.8 451.5h0.85v0.85h-0.85zM68.7 460.6h0.85v0.85h-0.85zM74.4 459.6h0.85v0.85h-0.85zM73.2 447.7h0.85v0.85h-0.85zM70.2 460.8h0.85v0.85h-0.85zM81.9 451.3h0.85v0.85h-0.85zM73.0 458.6h0.85v0.85h-0.85zM82.5 452.0h0.85v0.85h-0.85zM64.8 450.9h0.85v0.85h-0.85zM60.4 465.9h0.85v0.85h-0.85zM76.9 459.4h0.85v0.85h-0.85zM63.7 456.5h0.85v0.85h-0.85zM83.2 459.6h0.85v0.85h-0.85zM80.5 457.7h0.85v0.85h-0.85zM77.4 452.0h0.85v0.85h-0.85zM87.1 451.7h0.85v0.85h-0.85zM77.2 463.6h0.85v0.85h-0.85zM62.6 456.8h0.85v0.85h-0.85zM67.2 461.2h0.85v0.85h-0.85zM76.4 452.3h0.85v0.85h-0.85zM73.0 452.8h0.85v0.85h-0.85zM68.1 452.4h0.85v0.85h-0.85zM75.2 452.6h0.85v0.85h-0.85zM65.9 454.5h0.85v0.85h-0.85zM88.9 445.7h0.85v0.85h-0.85zM68.7 456.3h0.85v0.85h-0.85zM78.8 458.7h0.85v0.85h-0.85zM79.0 452.5h0.85v0.85h-0.85zM82.4 446.1h0.85v0.85h-0.85zM73.7 460.1h0.85v0.85h-0.85zM70.1 458.6h0.85v0.85h-0.85zM68.2 450.8h0.85v0.85h-0.85zM64.2 457.8h0.85v0.85h-0.85zM77.1 451.4h0.85v0.85h-0.85zM78.5 450.4h0.85v0.85h-0.85zM74.7 446.4h0.85v0.85h-0.85zM81.6 458.7h0.85v0.85h-0.85zM80.1 452.2h0.85v0.85h-0.85zM74.6 453.7h0.85v0.85h-0.85zM80.5 457.1h0.85v0.85h-0.85zM80.0 454.2h0.85v0.85h-0.85zM83.6 448.5h0.85v0.85h-0.85zM87.9 443.4h0.85v0.85h-0.85zM75.4 448.1h0.85v0.85h-0.85zM82.8 452.7h0.85v0.85h-0.85zM75.5 457.4h0.85v0.85h-0.85zM69.5 456.1h0.85v0.85h-0.85zM71.9 450.1h0.85v0.85h-0.85zM79.6 454.7h0.85v0.85h-0.85zM56.3 458.6h0.85v0.85h-0.85zM89.0 448.5h0.85v0.85h-0.85zM72.2 451.4h0.85v0.85h-0.85zM75.8 453.9h0.85v0.85h-0.85zM65.6 455.8h0.85v0.85h-0.85zM66.4 454.6h0.85v0.85h-0.85zM85.5 451.3h0.85v0.85h-0.85zM67.1 451.8h0.85v0.85h-0.85zM61.9 455.3h0.85v0.85h-0.85zM89.1 449.2h0.85v0.85h-0.85zM71.1 451.0h0.85v0.85h-0.85zM71.1 458.2h0.85v0.85h-0.85zM68.2 457.9h0.85v0.85h-0.85zM93.4 459.4h0.85v0.85h-0.85zM84.2 451.5h0.85v0.85h-0.85zM78.6 451.4h0.85v0.85h-0.85zM67.3 453.3h0.85v0.85h-0.85zM85.9 455.6h0.85v0.85h-0.85zM75.3 445.6h0.85v0.85h-0.85zM85.4 452.7h0.85v0.85h-0.85zM69.7 459.8h0.85v0.85h-0.85zM66.9 454.7h0.85v0.85h-0.85zM71.5 447.3h0.85v0.85h-0.85zM63.2 456.3h0.85v0.85h-0.85zM79.2 452.5h0.85v0.85h-0.85zM63.8 452.1h0.85v0.85h-0.85zM65.7 460.1h0.85v0.85h-0.85zM66.8 458.5h0.85v0.85h-0.85zM63.9 452.8h0.85v0.85h-0.85zM69.9 459.6h0.85v0.85h-0.85zM68.1 454.7h0.85v0.85h-0.85zM68.5 453.4h0.85v0.85h-0.85zM80.4 450.0h0.85v0.85h-0.85zM70.9 450.3h0.85v0.85h-0.85zM68.3 455.7h0.85v0.85h-0.85zM86.3 457.4h0.85v0.85h-0.85zM64.1 455.6h0.85v0.85h-0.85zM59.3 456.5h0.85v0.85h-0.85zM76.5 449.6h0.85v0.85h-0.85zM63.1 451.3h0.85v0.85h-0.85zM84.8 446.5h0.85v0.85h-0.85zM81.2 453.0h0.85v0.85h-0.85zM79.2 446.6h0.85v0.85h-0.85zM74.0 455.6h0.85v0.85h-0.85zM66.2 461.1h0.85v0.85h-0.85zM65.0 455.6h0.85v0.85h-0.85zM80.7 454.1h0.85v0.85h-0.85zM85.5 450.8h0.85v0.85h-0.85zM65.5 457.4h0.85v0.85h-0.85zM76.1 447.4h0.85v0.85h-0.85zM81.6 456.5h0.85v0.85h-0.85zM68.1 458.7h0.85v0.85h-0.85zM75.0 457.2h0.85v0.85h-0.85zM70.3 457.9h0.85v0.85h-0.85zM80.2 457.6h0.85v0.85h-0.85zM73.3 457.3h0.85v0.85h-0.85zM76.0 460.4h0.85v0.85h-0.85zM83.5 454.3h0.85v0.85h-0.85zM76.4 451.3h0.85v0.85h-0.85zM62.2 460.0h0.85v0.85h-0.85zM67.5 453.1h0.85v0.85h-0.85zM81.9 453.0h0.85v0.85h-0.85zM66.4 460.2h0.85v0.85h-0.85zM72.2 458.0h0.85v0.85h-0.85zM63.9 451.0h0.85v0.85h-0.85zM57.1 454.2h0.85v0.85h-0.85zM83.2 460.8h0.85v0.85h-0.85zM71.0 451.2h0.85v0.85h-0.85zM69.4 452.2h0.85v0.85h-0.85zM86.0 453.5h0.85v0.85h-0.85zM67.5 458.7h0.85v0.85h-0.85zM57.0 458.4h0.85v0.85h-0.85zM65.8 453.7h0.85v0.85h-0.85zM59.6 459.3h0.85v0.85h-0.85zM66.6 457.9h0.85v0.85h-0.85zM79.4 450.0h0.85v0.85h-0.85zM64.4 456.6h0.85v0.85h-0.85zM77.6 448.0h0.85v0.85h-0.85zM72.2 450.6h0.85v0.85h-0.85zM85.3 452.4h0.85v0.85h-0.85zM60.6 455.2h0.85v0.85h-0.85zM85.4 454.3h0.85v0.85h-0.85zM67.2 450.3h0.85v0.85h-0.85zM71.0 454.8h0.85v0.85h-0.85zM69.8 451.4h0.85v0.85h-0.85zM48.3 453.8h0.85v0.85h-0.85zM78.4 445.9h0.85v0.85h-0.85zM79.7 452.2h0.85v0.85h-0.85zM73.8 457.1h0.85v0.85h-0.85zM74.9 461.0h0.85v0.85h-0.85zM64.5 454.8h0.85v0.85h-0.85zM70.1 461.9h0.85v0.85h-0.85zM76.8 446.2h0.85v0.85h-0.85zM74.0 456.4h0.85v0.85h-0.85zM83.1 453.1h0.85v0.85h-0.85zM61.3 454.6h0.85v0.85h-0.85zM56.5 458.8h0.85v0.85h-0.85zM64.0 461.3h0.85v0.85h-0.85zM73.5 461.1h0.85v0.85h-0.85zM62.1 456.8h0.85v0.85h-0.85zM58.2 454.9h0.85v0.85h-0.85zM41.9 453.5h0.85v0.85h-0.85zM51.7 453.3h0.85v0.85h-0.85zM78.9 456.4h0.85v0.85h-0.85zM79.0 458.4h0.85v0.85h-0.85zM75.1 458.9h0.85v0.85h-0.85zM56.0 458.2h0.85v0.85h-0.85zM59.6 453.7h0.85v0.85h-0.85zM78.6 462.8h0.85v0.85h-0.85zM51.3 461.4h0.85v0.85h-0.85zM74.0 452.6h0.85v0.85h-0.85zM67.0 456.8h0.85v0.85h-0.85zM68.3 454.3h0.85v0.85h-0.85zM47.5 455.6h0.85v0.85h-0.85zM74.4 458.1h0.85v0.85h-0.85zM71.9 459.2h0.85v0.85h-0.85zM51.2 455.4h0.85v0.85h-0.85zM67.9 458.9h0.85v0.85h-0.85zM65.6 457.2h0.85v0.85h-0.85zM65.3 462.6h0.85v0.85h-0.85zM36.3 455.4h0.85v0.85h-0.85zM94.6 456.3h0.85v0.85h-0.85zM40.7 456.0h0.85v0.85h-0.85zM45.6 453.2h0.85v0.85h-0.85zM66.4 461.3h0.85v0.85h-0.85zM69.4 457.8h0.85v0.85h-0.85zM76.4 456.2h0.85v0.85h-0.85zM52.9 455.2h0.85v0.85h-0.85zM67.8 454.6h0.85v0.85h-0.85zM55.2 454.3h0.85v0.85h-0.85zM44.8 452.0h0.85v0.85h-0.85zM62.5 454.3h0.85v0.85h-0.85zM64.1 460.2h0.85v0.85h-0.85zM67.4 455.4h0.85v0.85h-0.85zM48.9 451.9h0.85v0.85h-0.85zM68.3 452.6h0.85v0.85h-0.85zM69.0 451.9h0.85v0.85h-0.85zM65.3 455.3h0.85v0.85h-0.85zM76.1 454.2h0.85v0.85h-0.85zM58.9 456.3h0.85v0.85h-0.85zM64.3 461.2h0.85v0.85h-0.85zM60.4 453.7h0.85v0.85h-0.85zM59.6 457.1h0.85v0.85h-0.85zM66.5 457.8h0.85v0.85h-0.85zM46.3 463.8h0.85v0.85h-0.85zM86.6 455.4h0.85v0.85h-0.85zM48.5 456.0h0.85v0.85h-0.85zM68.8 448.0h0.85v0.85h-0.85zM63.8 450.5h0.85v0.85h-0.85zM69.3 460.2h0.85v0.85h-0.85zM76.5 450.4h0.85v0.85h-0.85zM80.9 458.6h0.85v0.85h-0.85zM59.1 457.2h0.85v0.85h-0.85zM82.6 454.4h0.85v0.85h-0.85zM63.4 453.6h0.85v0.85h-0.85zM78.1 448.2h0.85v0.85h-0.85zM81.4 452.2h0.85v0.85h-0.85zM75.2 450.0h0.85v0.85h-0.85zM51.9 453.5h0.85v0.85h-0.85zM74.0 450.0h0.85v0.85h-0.85zM71.1 453.4h0.85v0.85h-0.85zM79.1 454.5h0.85v0.85h-0.85zM69.7 454.9h0.85v0.85h-0.85zM86.0 454.3h0.85v0.85h-0.85zM63.3 462.2h0.85v0.85h-0.85zM64.6 457.8h0.85v0.85h-0.85zM54.4 456.2h0.85v0.85h-0.85zM35.2 455.9h0.85v0.85h-0.85zM55.5 450.4h0.85v0.85h-0.85zM45.9 459.3h0.85v0.85h-0.85zM68.9 450.4h0.85v0.85h-0.85zM86.3 453.2h0.85v0.85h-0.85zM59.0 456.3h0.85v0.85h-0.85zM49.4 450.1h0.85v0.85h-0.85zM54.3 459.5h0.85v0.85h-0.85zM75.5 450.2h0.85v0.85h-0.85zM78.7 455.6h0.85v0.85h-0.85zM69.9 455.7h0.85v0.85h-0.85zM68.8 452.1h0.85v0.85h-0.85zM52.2 453.1h0.85v0.85h-0.85zM59.0 457.6h0.85v0.85h-0.85zM48.4 460.9h0.85v0.85h-0.85zM55.7 453.5h0.85v0.85h-0.85zM72.4 457.0h0.85v0.85h-0.85zM59.4 451.9h0.85v0.85h-0.85zM51.1 450.1h0.85v0.85h-0.85zM77.9 459.1h0.85v0.85h-0.85zM87.0 457.2h0.85v0.85h-0.85zM67.8 458.1h0.85v0.85h-0.85zM75.5 454.6h0.85v0.85h-0.85zM68.0 462.8h0.85v0.85h-0.85zM42.4 450.8h0.85v0.85h-0.85zM51.5 458.0h0.85v0.85h-0.85zM78.5 454.4h0.85v0.85h-0.85zM72.0 455.3h0.85v0.85h-0.85zM67.4 453.7h0.85v0.85h-0.85zM63.3 455.5h0.85v0.85h-0.85zM77.8 463.0h0.85v0.85h-0.85zM40.9 457.3h0.85v0.85h-0.85zM63.5 458.8h0.85v0.85h-0.85zM76.9 458.1h0.85v0.85h-0.85zM73.7 452.3h0.85v0.85h-0.85zM42.3 461.1h0.85v0.85h-0.85zM78.7 452.3h0.85v0.85h-0.85zM79.8 457.7h0.85v0.85h-0.85zM52.7 472.4h0.85v0.85h-0.85zM64.0 474.5h0.85v0.85h-0.85zM66.4 459.8h0.85v0.85h-0.85zM59.7 463.8h0.85v0.85h-0.85zM79.4 460.3h0.85v0.85h-0.85zM57.3 482.0h0.85v0.85h-0.85zM85.8 470.8h0.85v0.85h-0.85zM67.5 456.2h0.85v0.85h-0.85zM59.0 469.8h0.85v0.85h-0.85zM81.6 457.3h0.85v0.85h-0.85zM71.6 463.4h0.85v0.85h-0.85zM69.6 469.4h0.85v0.85h-0.85zM87.7 460.6h0.85v0.85h-0.85zM78.2 473.9h0.85v0.85h-0.85zM69.4 464.4h0.85v0.85h-0.85zM61.3 473.8h0.85v0.85h-0.85zM67.5 460.5h0.85v0.85h-0.85zM72.1 458.9h0.85v0.85h-0.85zM63.6 463.2h0.85v0.85h-0.85zM83.1 463.9h0.85v0.85h-0.85zM75.7 454.2h0.85v0.85h-0.85zM56.6 479.5h0.85v0.85h-0.85zM68.5 453.6h0.85v0.85h-0.85zM70.8 470.2h0.85v0.85h-0.85zM58.3 458.7h0.85v0.85h-0.85zM73.6 458.4h0.85v0.85h-0.85zM77.7 472.9h0.85v0.85h-0.85zM75.0 462.2h0.85v0.85h-0.85zM71.2 460.6h0.85v0.85h-0.85zM70.6 468.0h0.85v0.85h-0.85zM69.3 473.0h0.85v0.85h-0.85zM91.6 461.3h0.85v0.85h-0.85zM74.2 471.9h0.85v0.85h-0.85zM76.6 463.7h0.85v0.85h-0.85zM67.9 473.3h0.85v0.85h-0.85zM76.4 469.4h0.85v0.85h-0.85zM65.4 470.4h0.85v0.85h-0.85zM77.7 464.1h0.85v0.85h-0.85zM76.6 482.3h0.85v0.85h-0.85zM57.1 470.2h0.85v0.85h-0.85zM62.6 455.0h0.85v0.85h-0.85zM69.8 469.7h0.85v0.85h-0.85zM72.0 456.5h0.85v0.85h-0.85zM60.5 461.2h0.85v0.85h-0.85zM71.7 459.1h0.85v0.85h-0.85zM60.0 479.1h0.85v0.85h-0.85zM65.1 464.3h0.85v0.85h-0.85zM67.4 461.0h0.85v0.85h-0.85zM71.9 463.2h0.85v0.85h-0.85zM76.4 456.3h0.85v0.85h-0.85zM60.1 480.6h0.85v0.85h-0.85zM71.0 471.4h0.85v0.85h-0.85zM80.7 469.8h0.85v0.85h-0.85zM71.9 453.5h0.85v0.85h-0.85zM59.2 473.1h0.85v0.85h-0.85zM76.8 469.9h0.85v0.85h-0.85zM58.8 449.0h0.85v0.85h-0.85zM63.4 456.3h0.85v0.85h-0.85zM72.8 457.6h0.85v0.85h-0.85zM83.9 460.7h0.85v0.85h-0.85zM67.2 472.2h0.85v0.85h-0.85zM74.1 458.5h0.85v0.85h-0.85zM78.0 480.4h0.85v0.85h-0.85zM62.1 463.6h0.85v0.85h-0.85zM63.2 450.4h0.85v0.85h-0.85zM76.5 470.9h0.85v0.85h-0.85zM79.2 468.8h0.85v0.85h-0.85zM56.0 465.3h0.85v0.85h-0.85zM66.4 456.4h0.85v0.85h-0.85zM63.0 471.4h0.85v0.85h-0.85zM69.3 480.8h0.85v0.85h-0.85zM75.3 450.7h0.85v0.85h-0.85zM78.5 475.2h0.85v0.85h-0.85zM71.8 456.1h0.85v0.85h-0.85zM85.3 455.3h0.85v0.85h-0.85zM70.9 450.7h0.85v0.85h-0.85zM61.8 452.3h0.85v0.85h-0.85zM80.1 474.7h0.85v0.85h-0.85zM68.4 454.9h0.85v0.85h-0.85zM71.1 468.4h0.85v0.85h-0.85zM50.7 494.1h0.85v0.85h-0.85zM64.6 495.5h0.85v0.85h-0.85zM66.3 495.4h0.85v0.85h-0.85zM53.4 493.1h0.85v0.85h-0.85zM68.6 494.3h0.85v0.85h-0.85zM64.4 494.7h0.85v0.85h-0.85zM70.3 494.4h0.85v0.85h-0.85zM79.7 495.0h0.85v0.85h-0.85zM70.8 495.5h0.85v0.85h-0.85zM75.7 495.3h0.85v0.85h-0.85zM48.5 494.5h0.85v0.85h-0.85zM83.8 495.4h0.85v0.85h-0.85zM71.1 495.4h0.85v0.85h-0.85zM59.3 494.5h0.85v0.85h-0.85zM59.3 495.9h0.85v0.85h-0.85zM69.2 496.4h0.85v0.85h-0.85zM70.5 496.5h0.85v0.85h-0.85zM70.1 494.1h0.85v0.85h-0.85zM82.6 495.3h0.85v0.85h-0.85zM77.3 495.2h0.85v0.85h-0.85zM62.4 495.1h0.85v0.85h-0.85zM54.6 494.1h0.85v0.85h-0.85zM56.9 494.6h0.85v0.85h-0.85zM52.3 494.9h0.85v0.85h-0.85zM68.6 496.6h0.85v0.85h-0.85zM83.7 495.0h0.85v0.85h-0.85zM74.3 494.8h0.85v0.85h-0.85zM69.4 495.0h0.85v0.85h-0.85zM60.3 495.1h0.85v0.85h-0.85zM51.1 495.3h0.85v0.85h-0.85zM62.8 494.1h0.85v0.85h-0.85zM62.1 495.4h0.85v0.85h-0.85zM58.9 495.4h0.85v0.85h-0.85zM71.2 496.2h0.85v0.85h-0.85zM54.9 494.9h0.85v0.85h-0.85zM70.6 496.2h0.85v0.85h-0.85zM68.2 495.6h0.85v0.85h-0.85zM51.2 494.5h0.85v0.85h-0.85zM82.0 494.8h0.85v0.85h-0.85zM86.9 494.4h0.85v0.85h-0.85zM62.9 493.7h0.85v0.85h-0.85zM71.9 495.2h0.85v0.85h-0.85zM85.5 495.1h0.85v0.85h-0.85zM63.1 493.9h0.85v0.85h-0.85zM64.8 495.7h0.85v0.85h-0.85zM72.9 496.0h0.85v0.85h-0.85zM74.1 495.0h0.85v0.85h-0.85zM71.6 495.1h0.85v0.85h-0.85zM52.4 496.4h0.85v0.85h-0.85zM69.3 494.2h0.85v0.85h-0.85zM69.4 495.2h0.85v0.85h-0.85zM75.4 496.1h0.85v0.85h-0.85zM35.6 495.4h0.85v0.85h-0.85zM80.7 494.3h0.85v0.85h-0.85zM47.2 495.2h0.85v0.85h-0.85zM68.9 495.3h0.85v0.85h-0.85zM54.6 494.6h0.85v0.85h-0.85zM67.5 495.6h0.85v0.85h-0.85zM87.3 495.2h0.85v0.85h-0.85zM59.6 493.1h0.85v0.85h-0.85zM95.1 455.0h0.85v0.85h-0.85zM85.7 451.6h0.85v0.85h-0.85zM92.4 448.4h0.85v0.85h-0.85zM87.5 456.0h0.85v0.85h-0.85zM89.0 460.7h0.85v0.85h-0.85zM85.8 455.9h0.85v0.85h-0.85zM93.4 449.4h0.85v0.85h-0.85zM84.3 455.8h0.85v0.85h-0.85zM94.2 452.3h0.85v0.85h-0.85zM93.0 457.0h0.85v0.85h-0.85zM74.8 449.6h0.85v0.85h-0.85zM75.2 456.1h0.85v0.85h-0.85zM88.2 458.4h0.85v0.85h-0.85zM93.1 453.3h0.85v0.85h-0.85zM95.1 458.8h0.85v0.85h-0.85zM90.3 457.4h0.85v0.85h-0.85zM76.4 456.9h0.85v0.85h-0.85zM78.4 450.8h0.85v0.85h-0.85zM83.8 456.1h0.85v0.85h-0.85zM86.2 454.2h0.85v0.85h-0.85zM78.6 456.2h0.85v0.85h-0.85zM80.7 449.9h0.85v0.85h-0.85zM87.3 461.3h0.85v0.85h-0.85zM83.4 451.3h0.85v0.85h-0.85zM97.6 462.3h0.85v0.85h-0.85zM84.3 454.7h0.85v0.85h-0.85zM88.3 467.2h0.85v0.85h-0.85zM87.7 459.5h0.85v0.85h-0.85zM90.1 448.3h0.85v0.85h-0.85zM77.8 450.6h0.85v0.85h-0.85zM90.0 455.9h0.85v0.85h-0.85zM100.9 454.4h0.85v0.85h-0.85zM89.1 455.8h0.85v0.85h-0.85zM87.7 464.7h0.85v0.85h-0.85zM88.9 461.4h0.85v0.85h-0.85z" fill="#1f1fff" fill-opacity="0.7"/>
<path d="M66.7 474.0h0.9v0.9h-0.9zM65.5 479.6h0.9v0.9h-0.9zM67.4 478.8h0.9v0.9h-0.9zM58.8 478.8h0.9v0.9h-0.9zM63.0 473.1h0.9v0.9h-0.9zM67.3 474.2h0.9v0.9h-0.9zM66.7 480.5h0.9v0.9h-0.9zM62.7 475.9h0.9v0.9h-0.9zM62.5 479.0h0.9v0.9h-0.9zM68.2 480.6h0.9v0.9h-0.9zM61.6 479.6h0.9v0.9h-0.9zM65.3 474.7h0.9v0.9h-0.9zM61.6 480.9h0.9v0.9h-0.9zM69.1 476.1h0.9v0.9h-0.9zM64.9 480.9h0.9v0.9h-0.9zM60.1 478.8h0.9v0.9h-0.9zM67.6 479.3h0.9v0.9h-0.9zM58.2 477.0h0.9v0.9h-0.9zM65.4 482.0h0.9v0.9h-0.9zM63.4 476.4h0.9v0.9h-0.9zM69.0 478.0h0.9v0.9h-0.9zM65.5 473.7h0.9v0.9h-0.9zM65.3 478.5h0.9v0.9h-0.9zM59.2 476.8h0.9v0.9h-0.9zM59.8 477.5h0.9v0.9h-0.9zM59.0 480.3h0.9v0.9h-0.9zM66.6 478.5h0.9v0.9h-0.9zM69.5 477.5h0.9v0.9h-0.9zM59.5 480.6h0.9v0.9h-0.9zM67.4 481.3h0.9v0.9h-0.9zM63.2 473.4h0.9v0.9h-0.9zM63.1 473.9h0.9v0.9h-0.9zM57.7 477.7h0.9v0.9h-0.9zM62.1 475.8h0.9v0.9h-0.9zM63.4 472.9h0.9v0.9h-0.9zM66.7 475.3h0.9v0.9h-0.9zM59.1 478.8h0.9v0.9h-0.9zM67.1 481.3h0.9v0.9h-0.9zM63.6 481.7h0.9v0.9h-0.9zM59.7 477.3h0.9v0.9h-0.9zM65.4 480.3h0.9v0.9h-0.9zM64.5 479.7h0.9v0.9h-0.9zM66.3 474.6h0.9v0.9h-0.9zM63.0 481.5h0.9v0.9h-0.9zM60.5 473.9h0.9v0.9h-0.9zM63.8 478.9h0.9v0.9h-0.9zM62.0 474.2h0.9v0.9h-0.9zM65.5 474.0h0.9v0.9h-0.9zM59.7 477.6h0.9v0.9h-0.9zM64.8 478.9h0.9v0.9h-0.9zM69.2 479.5h0.9v0.9h-0.9zM68.5 475.5h0.9v0.9h-0.9zM63.6 476.1h0.9v0.9h-0.9zM67.0 476.0h0.9v0.9h-0.9zM63.6 479.5h0.9v0.9h-0.9zM63.4 479.8h0.9v0.9h-0.9zM66.3 473.7h0.9v0.9h-0.9zM59.3 477.3h0.9v0.9h-0.9zM68.8 475.3h0.9v0.9h-0.9zM64.8 482.6h0.9v0.9h-0.9zM68.9 477.8h0.9v0.9h-0.9zM61.9 474.4h0.9v0.9h-0.9zM59.5 479.9h0.9v0.9h-0.9zM63.0 473.9h0.9v0.9h-0.9zM66.6 481.0h0.9v0.9h-0.9zM61.6 477.7h0.9v0.9h-0.9zM66.8 480.3h0.9v0.9h-0.9zM60.0 474.2h0.9v0.9h-0.9zM59.2 477.8h0.9v0.9h-0.9zM60.0 478.4h0.9v0.9h-0.9zM66.7 475.9h0.9v0.9h-0.9zM68.7 479.5h0.9v0.9h-0.9zM64.9 474.7h0.9v0.9h-0.9zM59.9 473.6h0.9v0.9h-0.9zM69.2 477.6h0.9v0.9h-0.9zM68.0 480.6h0.9v0.9h-0.9zM60.2 475.6h0.9v0.9h-0.9zM59.9 479.7h0.9v0.9h-0.9zM64.0 480.0h0.9v0.9h-0.9zM67.7 476.7h0.9v0.9h-0.9zM63.5 472.7h0.9v0.9h-0.9zM61.7 480.0h0.9v0.9h-0.9zM60.0 481.0h0.9v0.9h-0.9zM59.5 476.6h0.9v0.9h-0.9zM65.2 474.5h0.9v0.9h-0.9zM62.7 481.2h0.9v0.9h-0.9zM65.6 476.0h0.9v0.9h-0.9zM60.5 481.4h0.9v0.9h-0.9zM65.4 481.8h0.9v0.9h-0.9zM61.8 480.6h0.9v0.9h-0.9zM59.8 479.3h0.9v0.9h-0.9zM60.8 480.9h0.9v0.9h-0.9zM60.4 479.8h0.9v0.9h-0.9zM66.4 473.1h0.9v0.9h-0.9zM66.4 474.1h0.9v0.9h-0.9zM60.3 480.4h0.9v0.9h-0.9zM60.2 479.1h0.9v0.9h-0.9zM61.6 480.1h0.9v0.9h-0.9zM63.9 480.4h0.9v0.9h-0.9zM65.9 477.0h0.9v0.9h-0.9zM58.8 477.4h0.9v0.9h-0.9zM61.0 481.6h0.9v0.9h-0.9zM61.9 474.1h0.9v0.9h-0.9zM61.0 474.6h0.9v0.9h-0.9zM63.2 474.0h0.9v0.9h-0.9zM59.5 474.7h0.9v0.9h-0.9zM68.3 477.5h0.9v0.9h-0.9zM67.6 475.9h0.9v0.9h-0.9zM64.2 473.6h0.9v0.9h-0.9zM64.4 474.4h0.9v0.9h-0.9zM62.4 477.4h0.9v0.9h-0.9zM64.7 480.7h0.9v0.9h-0.9zM65.4 476.4h0.9v0.9h-0.9zM61.4 473.4h0.9v0.9h-0.9zM67.8 480.4h0.9v0.9h-0.9zM64.0 479.3h0.9v0.9h-0.9zM58.7 478.1h0.9v0.9h-0.9zM62.9 473.0h0.9v0.9h-0.9zM64.7 477.4h0.9v0.9h-0.9zM63.8 477.8h0.9v0.9h-0.9zM60.7 476.2h0.9v0.9h-0.9zM62.7 474.0h0.9v0.9h-0.9zM65.6 473.0h0.9v0.9h-0.9zM61.2 479.9h0.9v0.9h-0.9zM67.8 476.7h0.9v0.9h-0.9zM63.0 480.2h0.9v0.9h-0.9zM63.5 474.3h0.9v0.9h-0.9zM60.3 474.7h0.9v0.9h-0.9zM62.5 481.4h0.9v0.9h-0.9zM61.9 481.2h0.9v0.9h-0.9zM69.2 477.9h0.9v0.9h-0.9zM69.1 479.5h0.9v0.9h-0.9zM66.9 479.9h0.9v0.9h-0.9zM59.6 480.7h0.9v0.9h-0.9zM68.3 475.2h0.9v0.9h-0.9zM65.5 477.6h0.9v0.9h-0.9zM61.2 472.6h0.9v0.9h-0.9zM69.1 477.4h0.9v0.9h-0.9zM66.1 481.7h0.9v0.9h-0.9zM66.4 481.2h0.9v0.9h-0.9zM80.8 451.9h0.9v0.9h-0.9zM78.0 450.5h0.9v0.9h-0.9zM77.3 454.9h0.9v0.9h-0.9zM77.3 452.3h0.9v0.9h-0.9zM75.7 454.5h0.9v0.9h-0.9zM71.1 456.2h0.9v0.9h-0.9zM67.2 456.5h0.9v0.9h-0.9zM69.3 453.2h0.9v0.9h-0.9zM74.2 456.7h0.9v0.9h-0.9zM68.9 452.7h0.9v0.9h-0.9zM75.7 450.7h0.9v0.9h-0.9zM76.8 451.8h0.9v0.9h-0.9zM77.4 453.3h0.9v0.9h-0.9zM79.3 453.1h0.9v0.9h-0.9zM74.9 454.1h0.9v0.9h-0.9zM80.3 452.1h0.9v0.9h-0.9zM70.9 456.8h0.9v0.9h-0.9zM76.9 455.8h0.9v0.9h-0.9zM81.0 451.5h0.9v0.9h-0.9zM74.5 456.2h0.9v0.9h-0.9zM74.5 456.1h0.9v0.9h-0.9zM78.8 452.9h0.9v0.9h-0.9zM69.7 457.9h0.9v0.9h-0.9zM78.5 455.4h0.9v0.9h-0.9zM72.7 454.2h0.9v0.9h-0.9z" fill="#1aa0c8" fill-opacity="0.8"/>
<path d="M62.1 480.3h0.9v0.9h-0.9zM62.2 475.8h0.9v0.9h-0.9zM65.4 477.3h0.9v0.9h-0.9zM61.5 476.9h0.9v0.9h-0.9zM65.1 479.8h0.9v0.9h-0.9zM65.7 478.3h0.9v0.9h-0.9zM66.0 478.8h0.9v0.9h-0.9zM60.3 477.0h0.9v0.9h-0.9zM62.7 478.5h0.9v0.9h-0.9zM66.0 479.7h0.9v0.9h-0.9zM64.3 478.2h0.9v0.9h-0.9zM62.4 477.3h0.9v0.9h-0.9zM65.3 475.0h0.9v0.9h-0.9zM61.8 475.0h0.9v0.9h-0.9zM63.2 480.3h0.9v0.9h-0.9zM63.6 478.4h0.9v0.9h-0.9zM66.2 476.5h0.9v0.9h-0.9zM64.8 477.8h0.9v0.9h-0.9zM67.0 477.2h0.9v0.9h-0.9zM63.8 478.8h0.9v0.9h-0.9zM62.7 477.1h0.9v0.9h-0.9zM60.7 478.1h0.9v0.9h-0.9zM66.7 476.7h0.9v0.9h-0.9zM62.3 477.6h0.9v0.9h-0.9zM65.2 475.2h0.9v0.9h-0.9zM63.2 475.8h0.9v0.9h-0.9zM66.4 476.2h0.9v0.9h-0.9zM60.5 478.4h0.9v0.9h-0.9zM62.2 479.5h0.9v0.9h-0.9zM66.6 476.9h0.9v0.9h-0.9zM64.5 476.7h0.9v0.9h-0.9zM63.5 477.4h0.9v0.9h-0.9zM66.3 479.5h0.9v0.9h-0.9zM65.3 478.8h0.9v0.9h-0.9zM62.9 477.0h0.9v0.9h-0.9zM63.2 478.6h0.9v0.9h-0.9zM63.8 477.9h0.9v0.9h-0.9zM66.6 476.7h0.9v0.9h-0.9zM64.8 476.7h0.9v0.9h-0.9zM63.8 476.0h0.9v0.9h-0.9zM64.1 475.4h0.9v0.9h-0.9zM66.4 477.4h0.9v0.9h-0.9zM66.3 476.6h0.9v0.9h-0.9zM66.2 478.5h0.9v0.9h-0.9zM65.2 474.7h0.9v0.9h-0.9zM63.7 476.0h0.9v0.9h-0.9zM65.2 475.2h0.9v0.9h-0.9zM60.8 477.9h0.9v0.9h-0.9zM62.0 475.8h0.9v0.9h-0.9zM61.6 477.4h0.9v0.9h-0.9zM66.7 476.6h0.9v0.9h-0.9zM63.7 474.3h0.9v0.9h-0.9zM63.5 475.8h0.9v0.9h-0.9zM63.5 477.8h0.9v0.9h-0.9zM63.7 480.6h0.9v0.9h-0.9zM66.7 476.4h0.9v0.9h-0.9zM64.4 476.9h0.9v0.9h-0.9zM64.5 478.5h0.9v0.9h-0.9zM65.3 477.8h0.9v0.9h-0.9zM65.3 475.7h0.9v0.9h-0.9zM64.6 476.7h0.9v0.9h-0.9zM62.4 478.4h0.9v0.9h-0.9zM60.6 476.7h0.9v0.9h-0.9zM61.5 477.6h0.9v0.9h-0.9zM64.9 476.6h0.9v0.9h-0.9zM64.3 478.8h0.9v0.9h-0.9zM66.5 478.2h0.9v0.9h-0.9zM61.2 478.8h0.9v0.9h-0.9zM64.4 478.2h0.9v0.9h-0.9zM63.3 475.3h0.9v0.9h-0.9zM63.4 476.7h0.9v0.9h-0.9zM64.6 475.5h0.9v0.9h-0.9zM61.5 477.7h0.9v0.9h-0.9zM62.2 479.4h0.9v0.9h-0.9zM63.6 479.0h0.9v0.9h-0.9zM60.2 478.5h0.9v0.9h-0.9zM63.9 479.0h0.9v0.9h-0.9zM64.6 476.1h0.9v0.9h-0.9zM66.8 478.5h0.9v0.9h-0.9zM63.2 476.7h0.9v0.9h-0.9zM61.3 475.3h0.9v0.9h-0.9zM65.9 478.6h0.9v0.9h-0.9zM64.3 479.4h0.9v0.9h-0.9zM63.2 475.7h0.9v0.9h-0.9zM62.5 477.5h0.9v0.9h-0.9zM62.4 477.2h0.9v0.9h-0.9zM66.3 478.0h0.9v0.9h-0.9zM62.8 475.1h0.9v0.9h-0.9zM60.9 479.1h0.9v0.9h-0.9zM61.4 477.1h0.9v0.9h-0.9zM66.9 477.9h0.9v0.9h-0.9zM60.3 476.9h0.9v0.9h-0.9zM64.8 479.2h0.9v0.9h-0.9zM66.3 476.1h0.9v0.9h-0.9zM64.0 477.1h0.9v0.9h-0.9zM61.4 476.4h0.9v0.9h-0.9zM60.7 477.3h0.9v0.9h-0.9zM62.4 476.3h0.9v0.9h-0.9zM66.1 479.7h0.9v0.9h-0.9zM63.8 474.9h0.9v0.9h-0.9zM71.5 455.3h0.9v0.9h-0.9zM74.3 454.2h0.9v0.9h-0.9zM70.7 454.0h0.9v0.9h-0.9zM75.3 452.5h0.9v0.9h-0.9zM72.5 455.4h0.9v0.9h-0.9zM75.3 454.0h0.9v0.9h-0.9zM69.3 454.2h0.9v0.9h-0.9zM77.1 452.0h0.9v0.9h-0.9zM72.9 452.5h0.9v0.9h-0.9zM76.1 452.1h0.9v0.9h-0.9zM69.5 455.2h0.9v0.9h-0.9zM71.4 452.6h0.9v0.9h-0.9zM73.9 453.9h0.9v0.9h-0.9zM77.2 454.6h0.9v0.9h-0.9zM71.1 454.1h0.9v0.9h-0.9zM73.5 453.2h0.9v0.9h-0.9zM73.6 452.1h0.9v0.9h-0.9zM74.5 455.2h0.9v0.9h-0.9zM74.7 452.2h0.9v0.9h-0.9zM71.1 454.1h0.9v0.9h-0.9zM71.5 455.1h0.9v0.9h-0.9z" fill="#30b040" fill-opacity="0.85"/>
</g>
<line x1="41.6" y1="466.6" x2="130.9" y2="466.6" stroke="#8a8a8a" stroke-width="1.3"/>
<line x1="79.0" y1="407.5" x2="79.0" y2="497.0" stroke="#8a8a8a" stroke-width="1.0"/>
<line x1="41.6" y1="407.5" x2="41.6" y2="497.0" stroke="#444" stroke-width="0.8"/>
<line x1="41.6" y1="497.0" x2="130.9" y2="497.0" stroke="#444" stroke-width="0.8"/>
<line x1="39.1" y1="416.0" x2="41.6" y2="416.0" stroke="#444" stroke-width="0.7"/>
<text x="34.1" y="417.2" font-size="3.2" text-anchor="start" fill="#555">10</text>
<line x1="53.3" y1="497.0" x2="53.3" y2="499.5" stroke="#444" stroke-width="0.7"/>
<text x="50.8" y="503.5" font-size="3.2" text-anchor="start" fill="#555">10</text>
<line x1="39.1" y1="433.9" x2="41.6" y2="433.9" stroke="#444" stroke-width="0.7"/>
<text x="34.1" y="435.09999999999997" font-size="3.2" text-anchor="start" fill="#555">10</text>
<line x1="71.3" y1="497.0" x2="71.3" y2="499.5" stroke="#444" stroke-width="0.7"/>
<text x="68.8" y="503.5" font-size="3.2" text-anchor="start" fill="#555">10</text>
<line x1="39.1" y1="451.8" x2="41.6" y2="451.8" stroke="#444" stroke-width="0.7"/>
<text x="34.1" y="453.0" font-size="3.2" text-anchor="start" fill="#555">10</text>
<line x1="89.3" y1="497.0" x2="89.3" y2="499.5" stroke="#444" stroke-width="0.7"/>
<text x="86.8" y="503.5" font-size="3.2" text-anchor="start" fill="#555">10</text>
<line x1="39.1" y1="469.7" x2="41.6" y2="469.7" stroke="#444" stroke-width="0.7"/>
<text x="34.1" y="470.9" font-size="3.2" text-anchor="start" fill="#555">10</text>
<line x1="107.3" y1="497.0" x2="107.3" y2="499.5" stroke="#444" stroke-width="0.7"/>
<text x="104.8" y="503.5" font-size="3.2" text-anchor="start" fill="#555">10</text>
<line x1="39.1" y1="487.6" x2="41.6" y2="487.6" stroke="#444" stroke-width="0.7"/>
<text x="34.1" y="488.8" font-size="3.2" text-anchor="start" fill="#555">10</text>
<line x1="125.3" y1="497.0" x2="125.3" y2="499.5" stroke="#444" stroke-width="0.7"/>
<text x="122.8" y="503.5" font-size="3.2" text-anchor="start" fill="#555">10</text>
<line x1="40.4" y1="409.5" x2="41.6" y2="409.5" stroke="#666" stroke-width="0.4"/>
<line x1="43.6" y1="497.0" x2="43.6" y2="498.2" stroke="#666" stroke-width="0.4"/>
<line x1="40.4" y1="411.7" x2="41.6" y2="411.7" stroke="#666" stroke-width="0.4"/>
<line x1="45.800000000000004" y1="497.0" x2="45.800000000000004" y2="498.2" stroke="#666" stroke-width="0.4"/>
<line x1="40.4" y1="413.9" x2="41.6" y2="413.9" stroke="#666" stroke-width="0.4"/>
<line x1="48.0" y1="497.0" x2="48.0" y2="498.2" stroke="#666" stroke-width="0.4"/>
<line x1="40.4" y1="416.1" x2="41.6" y2="416.1" stroke="#666" stroke-width="0.4"/>
<line x1="50.2" y1="497.0" x2="50.2" y2="498.2" stroke="#666" stroke-width="0.4"/>
<line x1="40.4" y1="418.3" x2="41.6" y2="418.3" stroke="#666" stroke-width="0.4"/>
<line x1="52.400000000000006" y1="497.0" x2="52.400000000000006" y2="498.2" stroke="#666" stroke-width="0.4"/>
<line x1="40.4" y1="420.5" x2="41.6" y2="420.5" stroke="#666" stroke-width="0.4"/>
<line x1="54.6" y1="497.0" x2="54.6" y2="498.2" stroke="#666" stroke-width="0.4"/>
<line x1="40.4" y1="422.7" x2="41.6" y2="422.7" stroke="#666" stroke-width="0.4"/>
<line x1="56.800000000000004" y1="497.0" x2="56.800000000000004" y2="498.2" stroke="#666" stroke-width="0.4"/>
<line x1="40.4" y1="424.9" x2="41.6" y2="424.9" stroke="#666" stroke-width="0.4"/>
<line x1="59.0" y1="497.0" x2="59.0" y2="498.2" stroke="#666" stroke-width="0.4"/>
<line x1="40.4" y1="427.1" x2="41.6" y2="427.1" stroke="#666" stroke-width="0.4"/>
<line x1="61.2" y1="497.0" x2="61.2" y2="498.2" stroke="#666" stroke-width="0.4"/>
<line x1="40.4" y1="429.3" x2="41.6" y2="429.3" stroke="#666" stroke-width="0.4"/>
<line x1="63.400000000000006" y1="497.0" x2="63.400000000000006" y2="498.2" stroke="#666" stroke-width="0.4"/>
<line x1="40.4" y1="431.5" x2="41.6" y2="431.5" stroke="#666" stroke-width="0.4"/>
<line x1="65.6" y1="497.0" x2="65.6" y2="498.2" stroke="#666" stroke-width="0.4"/>
<line x1="40.4" y1="433.7" x2="41.6" y2="433.7" stroke="#666" stroke-width="0.4"/>
<line x1="67.80000000000001" y1="497.0" x2="67.80000000000001" y2="498.2" stroke="#666" stroke-width="0.4"/>
<line x1="40.4" y1="435.9" x2="41.6" y2="435.9" stroke="#666" stroke-width="0.4"/>
<line x1="70.0" y1="497.0" x2="70.0" y2="498.2" stroke="#666" stroke-width="0.4"/>
<line x1="40.4" y1="438.1" x2="41.6" y2="438.1" stroke="#666" stroke-width="0.4"/>
<line x1="72.2" y1="497.0" x2="72.2" y2="498.2" stroke="#666" stroke-width="0.4"/>
<line x1="40.4" y1="440.3" x2="41.6" y2="440.3" stroke="#666" stroke-width="0.4"/>
<line x1="74.4" y1="497.0" x2="74.4" y2="498.2" stroke="#666" stroke-width="0.4"/>
<line x1="40.4" y1="442.5" x2="41.6" y2="442.5" stroke="#666" stroke-width="0.4"/>
<line x1="76.6" y1="497.0" x2="76.6" y2="498.2" stroke="#666" stroke-width="0.4"/>
<line x1="40.4" y1="444.7" x2="41.6" y2="444.7" stroke="#666" stroke-width="0.4"/>
<line x1="78.80000000000001" y1="497.0" x2="78.80000000000001" y2="498.2" stroke="#666" stroke-width="0.4"/>
<line x1="40.4" y1="446.9" x2="41.6" y2="446.9" stroke="#666" stroke-width="0.4"/>
<line x1="81.0" y1="497.0" x2="81.0" y2="498.2" stroke="#666" stroke-width="0.4"/>
<line x1="40.4" y1="449.1" x2="41.6" y2="449.1" stroke="#666" stroke-width="0.4"/>
<line x1="83.2" y1="497.0" x2="83.2" y2="498.2" stroke="#666" stroke-width="0.4"/>
<line x1="40.4" y1="451.3" x2="41.6" y2="451.3" stroke="#666" stroke-width="0.4"/>
<line x1="85.4" y1="497.0" x2="85.4" y2="498.2" stroke="#666" stroke-width="0.4"/>
<line x1="40.4" y1="453.5" x2="41.6" y2="453.5" stroke="#666" stroke-width="0.4"/>
<line x1="87.6" y1="497.0" x2="87.6" y2="498.2" stroke="#666" stroke-width="0.4"/>
<line x1="40.4" y1="455.7" x2="41.6" y2="455.7" stroke="#666" stroke-width="0.4"/>
<line x1="89.80000000000001" y1="497.0" x2="89.80000000000001" y2="498.2" stroke="#666" stroke-width="0.4"/>
<line x1="40.4" y1="457.9" x2="41.6" y2="457.9" stroke="#666" stroke-width="0.4"/>
<line x1="92.0" y1="497.0" x2="92.0" y2="498.2" stroke="#666" stroke-width="0.4"/>
<line x1="40.4" y1="460.1" x2="41.6" y2="460.1" stroke="#666" stroke-width="0.4"/>
<line x1="94.2" y1="497.0" x2="94.2" y2="498.2" stroke="#666" stroke-width="0.4"/>
<line x1="40.4" y1="462.3" x2="41.6" y2="462.3" stroke="#666" stroke-width="0.4"/>
<line x1="96.4" y1="497.0" x2="96.4" y2="498.2" stroke="#666" stroke-width="0.4"/>
<line x1="40.4" y1="464.5" x2="41.6" y2="464.5" stroke="#666" stroke-width="0.4"/>
<line x1="98.60000000000001" y1="497.0" x2="98.60000000000001" y2="498.2" stroke="#666" stroke-width="0.4"/>
<line x1="40.4" y1="466.7" x2="41.6" y2="466.7" stroke="#666" stroke-width="0.4"/>
<line x1="100.80000000000001" y1="497.0" x2="100.80000000000001" y2="498.2" stroke="#666" stroke-width="0.4"/>
<line x1="40.4" y1="468.9" x2="41.6" y2="468.9" stroke="#666" stroke-width="0.4"/>
<line x1="103.0" y1="497.0" x2="103.0" y2="498.2" stroke="#666" stroke-width="0.4"/>
<line x1="40.4" y1="471.1" x2="41.6" y2="471.1" stroke="#666" stroke-width="0.4"/>
<line x1="105.20000000000002" y1="497.0" x2="105.20000000000002" y2="498.2" stroke="#666" stroke-width="0.4"/>
<line x1="40.4" y1="473.3" x2="41.6" y2="473.3" stroke="#666" stroke-width="0.4"/>
<line x1="107.4" y1="497.0" x2="107.4" y2="498.2" stroke="#666" stroke-width="0.4"/>
<line x1="40.4" y1="475.5" x2="41.6" y2="475.5" stroke="#666" stroke-width="0.4"/>
<line x1="109.6" y1="497.0" x2="109.6" y2="498.2" stroke="#666" stroke-width="0.4"/>
<line x1="40.4" y1="477.7" x2="41.6" y2="477.7" stroke="#666" stroke-width="0.4"/>
<line x1="111.80000000000001" y1="497.0" x2="111.80000000000001" y2="498.2" stroke="#666" stroke-width="0.4"/>
<line x1="40.4" y1="479.9" x2="41.6" y2="479.9" stroke="#666" stroke-width="0.4"/>
<line x1="114.0" y1="497.0" x2="114.0" y2="498.2" stroke="#666" stroke-width="0.4"/>
<line x1="40.4" y1="482.1" x2="41.6" y2="482.1" stroke="#666" stroke-width="0.4"/>
<line x1="116.20000000000002" y1="497.0" x2="116.20000000000002" y2="498.2" stroke="#666" stroke-width="0.4"/>
<line x1="40.4" y1="484.3" x2="41.6" y2="484.3" stroke="#666" stroke-width="0.4"/>
<line x1="118.4" y1="497.0" x2="118.4" y2="498.2" stroke="#666" stroke-width="0.4"/>
<line x1="40.4" y1="486.5" x2="41.6" y2="486.5" stroke="#666" stroke-width="0.4"/>
<line x1="120.6" y1="497.0" x2="120.6" y2="498.2" stroke="#666" stroke-width="0.4"/>
<line x1="40.4" y1="488.7" x2="41.6" y2="488.7" stroke="#666" stroke-width="0.4"/>
<line x1="122.80000000000001" y1="497.0" x2="122.80000000000001" y2="498.2" stroke="#666" stroke-width="0.4"/>
<line x1="40.4" y1="490.9" x2="41.6" y2="490.9" stroke="#666" stroke-width="0.4"/>
<line x1="125.0" y1="497.0" x2="125.0" y2="498.2" stroke="#666" stroke-width="0.4"/>
<line x1="40.4" y1="493.1" x2="41.6" y2="493.1" stroke="#666" stroke-width="0.4"/>
<line x1="127.20000000000002" y1="497.0" x2="127.20000000000002" y2="498.2" stroke="#666" stroke-width="0.4"/>
<line x1="40.4" y1="495.3" x2="41.6" y2="495.3" stroke="#666" stroke-width="0.4"/>
<line x1="129.4" y1="497.0" x2="129.4" y2="498.2" stroke="#666" stroke-width="0.4"/>
<text x="44.1" y="413.5" font-size="3.4" text-anchor="start" fill="#444">Q1</text>
<text x="44.1" y="418.0" font-size="3.4" text-anchor="start" fill="#444">12.2</text>
<text x="124.9" y="413.5" font-size="3.4" text-anchor="end" fill="#444">Q2</text>
<text x="124.9" y="418.0" font-size="3.4" text-anchor="end" fill="#444">1.27</text>
<text x="44.1" y="488.0" font-size="3.4" text-anchor="start" fill="#444">Q4</text>
<text x="44.1" y="492.5" font-size="3.4" text-anchor="start" fill="#444">88.2</text>
<text x="124.9" y="488.0" font-size="3.4" text-anchor="end" fill="#444">Q3</text>
<text x="124.9" y="492.5" font-size="3.4" text-anchor="end" fill="#444">0.38</text>
<rect x="79.5" y="408.9" width="50.2" height="87.3" fill="none" stroke="#ff0000" stroke-width="2.9"/>
<text x="102.1" y="526.4" font-size="14" text-anchor="middle" fill="#ff0000" font-weight="bold">2.2 %</text>
<text x="86.6" y="550.3" font-size="12.6" text-anchor="middle" fill="#000">Lorlatinib</text>
<rect x="41.6" y="555.5" width="89.3" height="89.5" fill="#fff" stroke="#bbb" stroke-width="0.8"/>
<clipPath id="fc555"><rect x="41.6" y="555.5" width="89.3" height="89.5"/></clipPath>
<g clip-path="url(#fc555)">
<path d="M99.9 587.8h0.85v0.85h-0.85zM96.4 590.3h0.85v0.85h-0.85zM92.1 592.1h0.85v0.85h-0.85zM102.0 588.0h0.85v0.85h-0.85zM99.3 596.2h0.85v0.85h-0.85zM98.0 594.5h0.85v0.85h-0.85zM102.8 592.4h0.85v0.85h-0.85zM101.4 584.2h0.85v0.85h-0.85zM104.9 587.6h0.85v0.85h-0.85zM80.7 597.0h0.85v0.85h-0.85zM83.8 597.7h0.85v0.85h-0.85zM81.8 595.1h0.85v0.85h-0.85zM94.7 593.1h0.85v0.85h-0.85zM87.3 595.2h0.85v0.85h-0.85zM92.2 592.9h0.85v0.85h-0.85zM95.9 586.2h0.85v0.85h-0.85zM89.3 593.1h0.85v0.85h-0.85zM100.2 589.2h0.85v0.85h-0.85zM88.4 588.7h0.85v0.85h-0.85zM93.8 591.6h0.85v0.85h-0.85zM89.9 597.1h0.85v0.85h-0.85zM76.5 595.2h0.85v0.85h-0.85zM92.5 593.1h0.85v0.85h-0.85zM95.7 592.8h0.85v0.85h-0.85zM87.8 591.3h0.85v0.85h-0.85zM85.5 596.4h0.85v0.85h-0.85zM86.4 599.2h0.85v0.85h-0.85zM81.8 592.4h0.85v0.85h-0.85zM88.9 589.0h0.85v0.85h-0.85zM101.5 585.7h0.85v0.85h-0.85zM85.0 590.9h0.85v0.85h-0.85zM82.1 601.7h0.85v0.85h-0.85zM102.0 596.6h0.85v0.85h-0.85zM84.2 599.6h0.85v0.85h-0.85zM93.7 596.0h0.85v0.85h-0.85zM90.4 597.1h0.85v0.85h-0.85zM99.1 592.5h0.85v0.85h-0.85zM101.5 588.6h0.85v0.85h-0.85zM101.4 586.8h0.85v0.85h-0.85zM99.3 580.5h0.85v0.85h-0.85zM91.6 591.2h0.85v0.85h-0.85zM94.0 596.5h0.85v0.85h-0.85zM101.3 584.1h0.85v0.85h-0.85zM89.6 600.3h0.85v0.85h-0.85zM91.8 586.5h0.85v0.85h-0.85zM93.1 589.0h0.85v0.85h-0.85zM103.5 592.3h0.85v0.85h-0.85zM91.0 598.9h0.85v0.85h-0.85zM88.6 598.7h0.85v0.85h-0.85zM96.1 591.4h0.85v0.85h-0.85zM83.2 597.0h0.85v0.85h-0.85zM77.4 598.8h0.85v0.85h-0.85zM82.6 602.6h0.85v0.85h-0.85zM83.1 589.4h0.85v0.85h-0.85zM96.8 592.8h0.85v0.85h-0.85zM92.4 601.1h0.85v0.85h-0.85zM97.6 591.3h0.85v0.85h-0.85zM84.4 586.9h0.85v0.85h-0.85zM97.0 594.8h0.85v0.85h-0.85zM86.9 591.2h0.85v0.85h-0.85zM90.0 588.8h0.85v0.85h-0.85zM102.5 589.7h0.85v0.85h-0.85zM101.0 588.3h0.85v0.85h-0.85zM83.8 595.0h0.85v0.85h-0.85zM83.4 594.8h0.85v0.85h-0.85zM99.2 593.0h0.85v0.85h-0.85zM101.6 588.1h0.85v0.85h-0.85zM93.4 599.1h0.85v0.85h-0.85zM91.8 597.3h0.85v0.85h-0.85zM88.7 591.8h0.85v0.85h-0.85zM93.9 590.6h0.85v0.85h-0.85zM97.6 586.0h0.85v0.85h-0.85zM96.7 591.6h0.85v0.85h-0.85zM86.5 592.5h0.85v0.85h-0.85zM89.7 593.0h0.85v0.85h-0.85zM98.6 590.2h0.85v0.85h-0.85zM86.4 592.7h0.85v0.85h-0.85zM93.5 594.4h0.85v0.85h-0.85zM105.1 588.1h0.85v0.85h-0.85zM106.3 593.5h0.85v0.85h-0.85zM87.7 600.2h0.85v0.85h-0.85zM101.6 593.9h0.85v0.85h-0.85zM93.9 596.3h0.85v0.85h-0.85zM95.2 598.6h0.85v0.85h-0.85zM92.6 596.9h0.85v0.85h-0.85zM92.0 591.3h0.85v0.85h-0.85zM89.0 597.5h0.85v0.85h-0.85zM86.9 593.1h0.85v0.85h-0.85zM93.7 592.2h0.85v0.85h-0.85zM84.1 591.8h0.85v0.85h-0.85zM83.5 599.3h0.85v0.85h-0.85zM95.6 593.0h0.85v0.85h-0.85zM94.9 596.2h0.85v0.85h-0.85zM89.2 598.2h0.85v0.85h-0.85zM99.3 588.5h0.85v0.85h-0.85zM97.1 592.4h0.85v0.85h-0.85zM90.5 589.9h0.85v0.85h-0.85zM101.1 582.8h0.85v0.85h-0.85zM94.0 591.5h0.85v0.85h-0.85zM99.2 588.8h0.85v0.85h-0.85zM94.8 590.6h0.85v0.85h-0.85zM98.1 589.0h0.85v0.85h-0.85zM87.7 596.8h0.85v0.85h-0.85zM97.1 596.3h0.85v0.85h-0.85zM91.1 595.6h0.85v0.85h-0.85zM99.6 589.7h0.85v0.85h-0.85zM86.9 592.8h0.85v0.85h-0.85zM99.9 590.6h0.85v0.85h-0.85zM90.4 590.2h0.85v0.85h-0.85zM95.0 596.5h0.85v0.85h-0.85zM84.1 594.4h0.85v0.85h-0.85zM101.6 594.2h0.85v0.85h-0.85zM101.6 587.2h0.85v0.85h-0.85zM95.3 589.5h0.85v0.85h-0.85zM95.4 590.9h0.85v0.85h-0.85zM95.7 596.8h0.85v0.85h-0.85zM94.4 591.8h0.85v0.85h-0.85zM89.7 595.6h0.85v0.85h-0.85zM98.5 596.2h0.85v0.85h-0.85zM78.0 596.3h0.85v0.85h-0.85zM86.1 599.8h0.85v0.85h-0.85zM108.2 586.7h0.85v0.85h-0.85zM94.9 596.4h0.85v0.85h-0.85zM77.1 600.4h0.85v0.85h-0.85zM73.3 603.4h0.85v0.85h-0.85zM93.9 590.8h0.85v0.85h-0.85zM99.6 590.1h0.85v0.85h-0.85zM98.5 599.6h0.85v0.85h-0.85zM91.1 597.5h0.85v0.85h-0.85zM89.1 599.6h0.85v0.85h-0.85zM98.8 591.0h0.85v0.85h-0.85zM101.0 595.1h0.85v0.85h-0.85zM101.2 589.3h0.85v0.85h-0.85zM93.8 596.8h0.85v0.85h-0.85zM82.6 596.2h0.85v0.85h-0.85zM96.4 593.7h0.85v0.85h-0.85zM106.7 592.9h0.85v0.85h-0.85zM84.1 597.0h0.85v0.85h-0.85zM93.9 592.1h0.85v0.85h-0.85zM85.9 594.8h0.85v0.85h-0.85zM83.1 602.1h0.85v0.85h-0.85zM83.7 591.8h0.85v0.85h-0.85zM98.1 589.5h0.85v0.85h-0.85zM106.8 589.1h0.85v0.85h-0.85zM92.4 596.4h0.85v0.85h-0.85zM104.5 586.3h0.85v0.85h-0.85zM86.6 598.5h0.85v0.85h-0.85zM97.2 586.0h0.85v0.85h-0.85zM86.9 592.7h0.85v0.85h-0.85zM86.5 592.5h0.85v0.85h-0.85zM94.0 585.6h0.85v0.85h-0.85zM96.4 591.1h0.85v0.85h-0.85zM105.9 590.6h0.85v0.85h-0.85zM88.6 594.5h0.85v0.85h-0.85zM89.9 592.3h0.85v0.85h-0.85zM82.9 597.4h0.85v0.85h-0.85zM102.9 591.1h0.85v0.85h-0.85zM86.4 593.7h0.85v0.85h-0.85zM85.1 591.5h0.85v0.85h-0.85zM99.8 590.2h0.85v0.85h-0.85zM86.3 591.5h0.85v0.85h-0.85zM89.5 593.2h0.85v0.85h-0.85zM102.7 587.0h0.85v0.85h-0.85zM94.8 596.2h0.85v0.85h-0.85zM96.5 591.0h0.85v0.85h-0.85zM81.0 604.0h0.85v0.85h-0.85zM95.7 590.5h0.85v0.85h-0.85zM90.7 591.1h0.85v0.85h-0.85zM85.0 592.0h0.85v0.85h-0.85zM94.8 595.2h0.85v0.85h-0.85zM87.9 597.8h0.85v0.85h-0.85zM100.8 591.7h0.85v0.85h-0.85zM99.7 588.4h0.85v0.85h-0.85zM88.2 600.0h0.85v0.85h-0.85zM89.3 595.9h0.85v0.85h-0.85zM91.4 594.1h0.85v0.85h-0.85zM90.2 592.8h0.85v0.85h-0.85zM84.2 604.2h0.85v0.85h-0.85zM91.2 587.4h0.85v0.85h-0.85zM85.5 593.0h0.85v0.85h-0.85zM84.5 588.5h0.85v0.85h-0.85zM98.4 596.4h0.85v0.85h-0.85zM94.6 588.2h0.85v0.85h-0.85zM97.8 585.1h0.85v0.85h-0.85zM100.5 590.1h0.85v0.85h-0.85zM90.7 591.6h0.85v0.85h-0.85zM93.2 593.4h0.85v0.85h-0.85zM99.0 595.3h0.85v0.85h-0.85zM97.2 591.4h0.85v0.85h-0.85zM93.8 598.5h0.85v0.85h-0.85zM105.8 592.6h0.85v0.85h-0.85zM96.0 591.5h0.85v0.85h-0.85zM90.1 598.4h0.85v0.85h-0.85zM91.1 597.6h0.85v0.85h-0.85zM95.3 592.7h0.85v0.85h-0.85zM84.2 593.7h0.85v0.85h-0.85zM94.1 599.0h0.85v0.85h-0.85zM90.6 591.3h0.85v0.85h-0.85zM99.1 588.4h0.85v0.85h-0.85zM89.1 591.9h0.85v0.85h-0.85zM90.7 591.9h0.85v0.85h-0.85zM93.5 586.9h0.85v0.85h-0.85zM100.6 592.3h0.85v0.85h-0.85zM98.2 596.0h0.85v0.85h-0.85zM94.0 586.9h0.85v0.85h-0.85zM86.9 592.4h0.85v0.85h-0.85zM93.7 596.7h0.85v0.85h-0.85zM82.2 597.3h0.85v0.85h-0.85zM103.0 589.6h0.85v0.85h-0.85zM94.7 595.4h0.85v0.85h-0.85zM84.8 593.1h0.85v0.85h-0.85zM80.4 594.3h0.85v0.85h-0.85zM95.3 595.1h0.85v0.85h-0.85zM91.6 587.4h0.85v0.85h-0.85zM85.8 588.0h0.85v0.85h-0.85zM92.9 590.4h0.85v0.85h-0.85zM90.6 599.7h0.85v0.85h-0.85zM101.4 590.9h0.85v0.85h-0.85zM88.9 595.1h0.85v0.85h-0.85zM103.2 585.4h0.85v0.85h-0.85zM99.2 593.2h0.85v0.85h-0.85zM86.5 596.0h0.85v0.85h-0.85zM89.3 590.8h0.85v0.85h-0.85zM92.4 591.9h0.85v0.85h-0.85zM98.8 592.0h0.85v0.85h-0.85zM87.9 596.0h0.85v0.85h-0.85zM91.1 597.9h0.85v0.85h-0.85zM87.7 589.9h0.85v0.85h-0.85zM88.9 598.1h0.85v0.85h-0.85zM104.4 584.2h0.85v0.85h-0.85zM90.0 593.6h0.85v0.85h-0.85zM84.5 598.8h0.85v0.85h-0.85zM106.0 586.1h0.85v0.85h-0.85zM98.6 593.5h0.85v0.85h-0.85zM87.9 593.7h0.85v0.85h-0.85zM103.1 590.9h0.85v0.85h-0.85zM92.0 590.0h0.85v0.85h-0.85zM98.7 592.4h0.85v0.85h-0.85zM108.1 591.1h0.85v0.85h-0.85zM97.9 591.9h0.85v0.85h-0.85zM98.1 594.6h0.85v0.85h-0.85zM93.8 591.1h0.85v0.85h-0.85zM99.7 595.5h0.85v0.85h-0.85zM88.1 597.1h0.85v0.85h-0.85zM94.3 598.5h0.85v0.85h-0.85zM101.3 584.4h0.85v0.85h-0.85zM77.6 602.2h0.85v0.85h-0.85zM87.8 594.0h0.85v0.85h-0.85zM83.3 599.2h0.85v0.85h-0.85zM101.4 597.7h0.85v0.85h-0.85zM103.2 592.4h0.85v0.85h-0.85zM91.0 596.6h0.85v0.85h-0.85zM93.9 596.9h0.85v0.85h-0.85zM99.5 595.4h0.85v0.85h-0.85zM83.7 601.1h0.85v0.85h-0.85zM96.6 588.0h0.85v0.85h-0.85zM103.4 588.7h0.85v0.85h-0.85zM80.2 594.8h0.85v0.85h-0.85zM97.6 590.2h0.85v0.85h-0.85zM97.3 585.9h0.85v0.85h-0.85zM93.3 596.5h0.85v0.85h-0.85zM97.6 598.8h0.85v0.85h-0.85zM86.1 599.3h0.85v0.85h-0.85zM70.7 631.8h0.85v0.85h-0.85zM61.1 627.4h0.85v0.85h-0.85zM76.6 625.2h0.85v0.85h-0.85zM76.0 624.0h0.85v0.85h-0.85zM71.6 634.7h0.85v0.85h-0.85zM78.3 631.0h0.85v0.85h-0.85zM75.6 625.1h0.85v0.85h-0.85zM64.1 631.9h0.85v0.85h-0.85zM62.2 634.5h0.85v0.85h-0.85zM74.6 620.1h0.85v0.85h-0.85zM82.2 627.0h0.85v0.85h-0.85zM67.7 620.5h0.85v0.85h-0.85zM57.8 615.8h0.85v0.85h-0.85zM62.5 630.5h0.85v0.85h-0.85zM65.9 634.4h0.85v0.85h-0.85zM62.7 617.5h0.85v0.85h-0.85zM59.5 636.0h0.85v0.85h-0.85zM71.0 618.1h0.85v0.85h-0.85zM65.8 621.2h0.85v0.85h-0.85zM76.9 623.7h0.85v0.85h-0.85zM79.8 635.7h0.85v0.85h-0.85zM65.0 633.2h0.85v0.85h-0.85zM52.8 623.5h0.85v0.85h-0.85zM63.5 620.8h0.85v0.85h-0.85zM59.1 619.3h0.85v0.85h-0.85zM63.5 630.5h0.85v0.85h-0.85zM76.0 622.3h0.85v0.85h-0.85zM70.4 623.0h0.85v0.85h-0.85zM67.6 637.0h0.85v0.85h-0.85zM65.7 612.5h0.85v0.85h-0.85zM77.0 623.8h0.85v0.85h-0.85zM71.3 625.2h0.85v0.85h-0.85zM75.3 623.4h0.85v0.85h-0.85zM72.7 636.6h0.85v0.85h-0.85zM73.0 621.5h0.85v0.85h-0.85zM80.5 633.8h0.85v0.85h-0.85zM68.8 617.7h0.85v0.85h-0.85zM79.5 627.9h0.85v0.85h-0.85zM66.3 624.2h0.85v0.85h-0.85zM70.9 630.0h0.85v0.85h-0.85zM60.5 620.3h0.85v0.85h-0.85zM76.0 625.6h0.85v0.85h-0.85zM64.5 629.6h0.85v0.85h-0.85zM70.7 644.0h0.85v0.85h-0.85zM79.5 626.2h0.85v0.85h-0.85zM72.4 631.4h0.85v0.85h-0.85zM58.2 624.6h0.85v0.85h-0.85zM76.0 628.0h0.85v0.85h-0.85zM70.9 618.3h0.85v0.85h-0.85zM54.8 630.5h0.85v0.85h-0.85zM63.5 623.0h0.85v0.85h-0.85zM55.3 636.0h0.85v0.85h-0.85zM78.5 615.4h0.85v0.85h-0.85zM72.5 615.7h0.85v0.85h-0.85zM67.9 626.4h0.85v0.85h-0.85zM70.8 620.1h0.85v0.85h-0.85zM64.2 619.1h0.85v0.85h-0.85zM67.6 619.9h0.85v0.85h-0.85zM85.5 622.5h0.85v0.85h-0.85zM77.3 622.6h0.85v0.85h-0.85zM66.8 640.5h0.85v0.85h-0.85zM71.8 615.4h0.85v0.85h-0.85zM77.9 608.6h0.85v0.85h-0.85zM68.9 621.4h0.85v0.85h-0.85zM73.7 620.6h0.85v0.85h-0.85zM66.1 641.0h0.85v0.85h-0.85zM82.6 634.0h0.85v0.85h-0.85zM68.8 622.8h0.85v0.85h-0.85zM69.2 618.0h0.85v0.85h-0.85zM76.4 621.7h0.85v0.85h-0.85zM54.0 633.2h0.85v0.85h-0.85zM79.0 632.4h0.85v0.85h-0.85zM73.1 629.7h0.85v0.85h-0.85zM79.3 635.1h0.85v0.85h-0.85zM58.1 630.2h0.85v0.85h-0.85zM68.1 637.0h0.85v0.85h-0.85zM57.4 626.9h0.85v0.85h-0.85zM70.9 635.7h0.85v0.85h-0.85zM67.4 632.7h0.85v0.85h-0.85zM83.3 619.0h0.85v0.85h-0.85zM76.0 626.4h0.85v0.85h-0.85zM57.1 621.4h0.85v0.85h-0.85zM69.0 619.3h0.85v0.85h-0.85zM73.2 621.5h0.85v0.85h-0.85zM76.1 624.2h0.85v0.85h-0.85zM77.2 633.8h0.85v0.85h-0.85zM75.1 634.2h0.85v0.85h-0.85zM88.3 632.9h0.85v0.85h-0.85zM57.5 623.8h0.85v0.85h-0.85zM75.4 633.3h0.85v0.85h-0.85zM64.8 629.9h0.85v0.85h-0.85zM69.3 624.9h0.85v0.85h-0.85zM77.4 615.4h0.85v0.85h-0.85zM76.2 628.1h0.85v0.85h-0.85zM57.7 628.5h0.85v0.85h-0.85zM67.8 620.6h0.85v0.85h-0.85zM72.7 624.8h0.85v0.85h-0.85zM77.0 635.5h0.85v0.85h-0.85zM62.3 626.5h0.85v0.85h-0.85zM76.9 639.3h0.85v0.85h-0.85zM56.5 628.4h0.85v0.85h-0.85zM68.6 640.9h0.85v0.85h-0.85zM71.3 640.4h0.85v0.85h-0.85zM54.5 615.2h0.85v0.85h-0.85zM69.9 617.4h0.85v0.85h-0.85zM55.1 623.9h0.85v0.85h-0.85zM65.6 627.5h0.85v0.85h-0.85zM79.5 620.4h0.85v0.85h-0.85zM63.8 616.7h0.85v0.85h-0.85zM69.5 633.7h0.85v0.85h-0.85zM76.5 611.6h0.85v0.85h-0.85zM65.0 618.9h0.85v0.85h-0.85zM73.7 632.1h0.85v0.85h-0.85zM63.1 626.7h0.85v0.85h-0.85zM62.6 632.6h0.85v0.85h-0.85zM69.3 617.9h0.85v0.85h-0.85zM76.3 638.0h0.85v0.85h-0.85zM56.6 638.7h0.85v0.85h-0.85zM52.7 618.1h0.85v0.85h-0.85zM62.0 631.9h0.85v0.85h-0.85zM66.5 635.4h0.85v0.85h-0.85zM52.9 620.4h0.85v0.85h-0.85zM66.0 620.8h0.85v0.85h-0.85zM78.0 623.6h0.85v0.85h-0.85zM55.2 623.0h0.85v0.85h-0.85zM65.4 621.1h0.85v0.85h-0.85zM73.7 625.6h0.85v0.85h-0.85zM77.5 627.0h0.85v0.85h-0.85zM70.9 633.9h0.85v0.85h-0.85zM78.4 634.9h0.85v0.85h-0.85zM63.4 617.9h0.85v0.85h-0.85zM88.1 617.5h0.85v0.85h-0.85zM63.8 617.3h0.85v0.85h-0.85zM52.1 634.1h0.85v0.85h-0.85zM65.1 634.3h0.85v0.85h-0.85zM75.8 626.9h0.85v0.85h-0.85zM76.2 621.5h0.85v0.85h-0.85zM69.1 625.6h0.85v0.85h-0.85zM73.6 624.4h0.85v0.85h-0.85zM74.8 621.2h0.85v0.85h-0.85zM60.5 641.7h0.85v0.85h-0.85zM59.6 632.1h0.85v0.85h-0.85zM80.6 631.5h0.85v0.85h-0.85zM68.5 621.3h0.85v0.85h-0.85zM72.6 631.5h0.85v0.85h-0.85zM59.5 612.8h0.85v0.85h-0.85zM90.8 625.7h0.85v0.85h-0.85zM61.3 619.9h0.85v0.85h-0.85zM74.6 635.4h0.85v0.85h-0.85zM62.3 624.6h0.85v0.85h-0.85zM72.9 623.6h0.85v0.85h-0.85zM71.2 629.5h0.85v0.85h-0.85zM74.1 633.5h0.85v0.85h-0.85zM59.5 626.4h0.85v0.85h-0.85zM61.9 624.0h0.85v0.85h-0.85zM75.5 628.9h0.85v0.85h-0.85zM69.6 637.4h0.85v0.85h-0.85zM69.3 638.6h0.85v0.85h-0.85zM61.7 627.4h0.85v0.85h-0.85zM62.5 636.0h0.85v0.85h-0.85zM70.4 636.0h0.85v0.85h-0.85zM72.5 620.4h0.85v0.85h-0.85zM52.7 626.2h0.85v0.85h-0.85zM65.1 624.0h0.85v0.85h-0.85zM71.2 627.6h0.85v0.85h-0.85zM64.2 621.0h0.85v0.85h-0.85zM65.6 633.8h0.85v0.85h-0.85zM73.4 624.6h0.85v0.85h-0.85zM61.7 639.2h0.85v0.85h-0.85zM66.6 619.9h0.85v0.85h-0.85zM69.7 628.2h0.85v0.85h-0.85zM78.4 635.3h0.85v0.85h-0.85zM66.2 623.5h0.85v0.85h-0.85zM62.3 626.2h0.85v0.85h-0.85zM77.8 632.9h0.85v0.85h-0.85zM66.9 618.9h0.85v0.85h-0.85zM73.7 634.9h0.85v0.85h-0.85zM59.2 630.4h0.85v0.85h-0.85zM81.3 634.1h0.85v0.85h-0.85zM73.6 626.6h0.85v0.85h-0.85zM77.7 631.7h0.85v0.85h-0.85zM74.9 626.3h0.85v0.85h-0.85zM67.5 636.1h0.85v0.85h-0.85zM69.8 633.0h0.85v0.85h-0.85zM65.8 620.1h0.85v0.85h-0.85zM70.1 628.6h0.85v0.85h-0.85zM48.0 621.2h0.85v0.85h-0.85zM71.4 625.1h0.85v0.85h-0.85zM60.5 626.4h0.85v0.85h-0.85zM72.2 635.6h0.85v0.85h-0.85zM55.9 626.8h0.85v0.85h-0.85zM64.3 641.1h0.85v0.85h-0.85zM71.7 619.7h0.85v0.85h-0.85zM73.7 632.3h0.85v0.85h-0.85zM76.0 633.6h0.85v0.85h-0.85zM65.6 618.4h0.85v0.85h-0.85zM65.9 615.1h0.85v0.85h-0.85zM77.3 629.3h0.85v0.85h-0.85zM67.5 620.6h0.85v0.85h-0.85zM76.0 625.5h0.85v0.85h-0.85zM66.5 613.6h0.85v0.85h-0.85zM76.3 619.1h0.85v0.85h-0.85zM73.7 630.7h0.85v0.85h-0.85zM74.9 628.1h0.85v0.85h-0.85zM85.1 611.1h0.85v0.85h-0.85zM62.2 639.4h0.85v0.85h-0.85zM71.7 613.8h0.85v0.85h-0.85zM52.9 617.5h0.85v0.85h-0.85zM58.1 614.1h0.85v0.85h-0.85zM60.6 625.6h0.85v0.85h-0.85zM65.1 631.9h0.85v0.85h-0.85zM59.3 625.9h0.85v0.85h-0.85zM60.3 626.4h0.85v0.85h-0.85zM59.6 631.2h0.85v0.85h-0.85zM72.0 633.9h0.85v0.85h-0.85zM66.7 637.5h0.85v0.85h-0.85zM65.1 615.6h0.85v0.85h-0.85zM76.1 623.0h0.85v0.85h-0.85zM64.5 630.3h0.85v0.85h-0.85zM59.6 632.4h0.85v0.85h-0.85zM72.0 619.7h0.85v0.85h-0.85zM62.3 628.3h0.85v0.85h-0.85zM66.3 632.3h0.85v0.85h-0.85zM68.9 615.9h0.85v0.85h-0.85zM70.8 617.2h0.85v0.85h-0.85zM64.2 618.2h0.85v0.85h-0.85zM66.7 621.6h0.85v0.85h-0.85zM74.7 628.8h0.85v0.85h-0.85zM86.1 629.9h0.85v0.85h-0.85zM58.3 625.0h0.85v0.85h-0.85zM81.0 624.0h0.85v0.85h-0.85zM78.3 633.8h0.85v0.85h-0.85zM67.9 619.0h0.85v0.85h-0.85zM64.8 630.3h0.85v0.85h-0.85zM57.6 627.3h0.85v0.85h-0.85zM79.4 618.8h0.85v0.85h-0.85zM73.7 621.3h0.85v0.85h-0.85zM80.7 620.5h0.85v0.85h-0.85zM61.9 637.6h0.85v0.85h-0.85zM74.3 622.2h0.85v0.85h-0.85zM72.9 637.0h0.85v0.85h-0.85zM74.8 622.5h0.85v0.85h-0.85zM61.1 631.8h0.85v0.85h-0.85zM68.6 627.8h0.85v0.85h-0.85zM63.3 630.5h0.85v0.85h-0.85zM64.4 618.3h0.85v0.85h-0.85zM69.1 627.7h0.85v0.85h-0.85zM64.2 618.6h0.85v0.85h-0.85zM67.3 630.7h0.85v0.85h-0.85zM78.0 615.3h0.85v0.85h-0.85zM69.6 635.1h0.85v0.85h-0.85zM63.1 623.9h0.85v0.85h-0.85zM62.7 619.5h0.85v0.85h-0.85zM70.0 632.0h0.85v0.85h-0.85zM62.8 629.6h0.85v0.85h-0.85zM71.4 624.6h0.85v0.85h-0.85zM73.8 626.1h0.85v0.85h-0.85zM62.8 623.2h0.85v0.85h-0.85zM80.7 629.2h0.85v0.85h-0.85zM69.9 619.2h0.85v0.85h-0.85zM60.0 618.5h0.85v0.85h-0.85zM73.4 619.6h0.85v0.85h-0.85zM59.1 634.1h0.85v0.85h-0.85zM72.9 629.6h0.85v0.85h-0.85zM68.7 619.5h0.85v0.85h-0.85zM63.9 627.6h0.85v0.85h-0.85zM71.7 626.5h0.85v0.85h-0.85zM74.2 629.9h0.85v0.85h-0.85zM61.0 629.7h0.85v0.85h-0.85zM65.9 636.3h0.85v0.85h-0.85zM48.9 624.6h0.85v0.85h-0.85zM72.7 633.3h0.85v0.85h-0.85zM61.9 626.7h0.85v0.85h-0.85zM71.7 623.1h0.85v0.85h-0.85zM63.7 634.2h0.85v0.85h-0.85zM63.3 624.4h0.85v0.85h-0.85zM83.6 634.7h0.85v0.85h-0.85zM63.8 619.8h0.85v0.85h-0.85zM53.4 634.6h0.85v0.85h-0.85zM64.0 631.6h0.85v0.85h-0.85zM74.0 634.7h0.85v0.85h-0.85zM64.7 620.4h0.85v0.85h-0.85zM64.4 629.1h0.85v0.85h-0.85zM70.5 619.5h0.85v0.85h-0.85zM71.9 621.0h0.85v0.85h-0.85zM68.4 624.9h0.85v0.85h-0.85zM72.0 642.7h0.85v0.85h-0.85zM64.3 617.6h0.85v0.85h-0.85zM60.7 626.6h0.85v0.85h-0.85zM70.0 630.3h0.85v0.85h-0.85zM62.0 618.6h0.85v0.85h-0.85zM68.0 635.8h0.85v0.85h-0.85zM74.9 633.3h0.85v0.85h-0.85zM72.5 633.3h0.85v0.85h-0.85zM65.1 634.1h0.85v0.85h-0.85zM74.0 632.1h0.85v0.85h-0.85zM65.8 624.2h0.85v0.85h-0.85zM64.8 635.6h0.85v0.85h-0.85zM59.3 623.9h0.85v0.85h-0.85zM70.3 618.2h0.85v0.85h-0.85zM69.9 633.4h0.85v0.85h-0.85zM73.0 619.1h0.85v0.85h-0.85zM68.7 620.3h0.85v0.85h-0.85zM51.0 632.0h0.85v0.85h-0.85zM73.1 618.0h0.85v0.85h-0.85zM76.2 632.0h0.85v0.85h-0.85zM84.6 629.6h0.85v0.85h-0.85zM79.7 624.7h0.85v0.85h-0.85zM67.1 639.0h0.85v0.85h-0.85zM74.4 637.4h0.85v0.85h-0.85zM74.4 622.0h0.85v0.85h-0.85zM73.8 617.8h0.85v0.85h-0.85zM55.0 623.9h0.85v0.85h-0.85zM73.0 639.8h0.85v0.85h-0.85zM67.3 628.6h0.85v0.85h-0.85zM77.4 630.5h0.85v0.85h-0.85zM67.1 631.6h0.85v0.85h-0.85zM81.9 619.7h0.85v0.85h-0.85zM83.1 612.2h0.85v0.85h-0.85zM57.0 630.8h0.85v0.85h-0.85zM65.5 641.1h0.85v0.85h-0.85zM72.8 616.7h0.85v0.85h-0.85zM76.5 622.8h0.85v0.85h-0.85zM58.0 618.1h0.85v0.85h-0.85zM75.3 634.4h0.85v0.85h-0.85zM56.6 629.1h0.85v0.85h-0.85zM74.1 625.1h0.85v0.85h-0.85zM68.2 614.2h0.85v0.85h-0.85zM68.8 636.5h0.85v0.85h-0.85zM72.1 642.3h0.85v0.85h-0.85zM62.9 632.2h0.85v0.85h-0.85zM67.0 626.5h0.85v0.85h-0.85zM68.9 615.8h0.85v0.85h-0.85zM73.3 622.2h0.85v0.85h-0.85zM70.2 632.3h0.85v0.85h-0.85zM67.5 617.0h0.85v0.85h-0.85zM61.5 630.9h0.85v0.85h-0.85zM77.5 638.5h0.85v0.85h-0.85zM60.4 627.9h0.85v0.85h-0.85zM69.7 622.3h0.85v0.85h-0.85zM67.0 635.6h0.85v0.85h-0.85zM64.3 624.3h0.85v0.85h-0.85zM70.2 621.8h0.85v0.85h-0.85zM72.9 619.3h0.85v0.85h-0.85zM60.7 621.1h0.85v0.85h-0.85zM77.2 634.5h0.85v0.85h-0.85zM65.0 639.0h0.85v0.85h-0.85zM71.0 617.0h0.85v0.85h-0.85zM71.6 620.1h0.85v0.85h-0.85zM60.6 612.3h0.85v0.85h-0.85zM61.5 630.6h0.85v0.85h-0.85zM71.5 630.2h0.85v0.85h-0.85zM73.2 621.7h0.85v0.85h-0.85zM71.2 629.8h0.85v0.85h-0.85zM64.6 624.5h0.85v0.85h-0.85zM60.0 627.8h0.85v0.85h-0.85zM60.9 629.3h0.85v0.85h-0.85zM80.2 629.1h0.85v0.85h-0.85zM60.7 623.1h0.85v0.85h-0.85zM71.1 637.6h0.85v0.85h-0.85zM64.7 636.3h0.85v0.85h-0.85zM69.8 634.9h0.85v0.85h-0.85zM61.9 618.7h0.85v0.85h-0.85zM73.7 633.3h0.85v0.85h-0.85zM76.1 615.4h0.85v0.85h-0.85zM73.6 628.0h0.85v0.85h-0.85zM73.2 629.0h0.85v0.85h-0.85zM75.6 630.4h0.85v0.85h-0.85zM62.0 628.0h0.85v0.85h-0.85zM71.3 616.4h0.85v0.85h-0.85zM72.4 629.5h0.85v0.85h-0.85zM77.0 632.8h0.85v0.85h-0.85zM73.0 605.4h0.85v0.85h-0.85zM68.9 619.8h0.85v0.85h-0.85zM76.5 624.0h0.85v0.85h-0.85zM61.6 629.0h0.85v0.85h-0.85zM70.1 614.3h0.85v0.85h-0.85zM56.3 634.1h0.85v0.85h-0.85zM60.0 631.7h0.85v0.85h-0.85zM61.4 623.9h0.85v0.85h-0.85zM63.9 624.3h0.85v0.85h-0.85zM55.5 621.9h0.85v0.85h-0.85zM74.5 629.5h0.85v0.85h-0.85zM82.8 614.2h0.85v0.85h-0.85zM78.4 627.3h0.85v0.85h-0.85zM59.5 617.3h0.85v0.85h-0.85zM65.0 627.1h0.85v0.85h-0.85zM65.2 636.3h0.85v0.85h-0.85zM68.0 622.1h0.85v0.85h-0.85zM62.2 619.1h0.85v0.85h-0.85zM62.8 628.6h0.85v0.85h-0.85zM75.8 633.5h0.85v0.85h-0.85zM65.8 637.7h0.85v0.85h-0.85zM65.6 634.2h0.85v0.85h-0.85zM67.5 620.3h0.85v0.85h-0.85zM71.6 632.4h0.85v0.85h-0.85zM61.4 626.4h0.85v0.85h-0.85zM74.7 632.0h0.85v0.85h-0.85zM62.9 642.7h0.85v0.85h-0.85zM63.0 631.2h0.85v0.85h-0.85zM71.1 643.5h0.85v0.85h-0.85zM64.2 634.9h0.85v0.85h-0.85zM72.1 620.9h0.85v0.85h-0.85zM68.8 621.2h0.85v0.85h-0.85zM55.1 630.7h0.85v0.85h-0.85zM70.8 633.2h0.85v0.85h-0.85zM73.5 632.9h0.85v0.85h-0.85zM53.9 633.4h0.85v0.85h-0.85zM72.7 623.6h0.85v0.85h-0.85zM61.9 624.0h0.85v0.85h-0.85zM76.0 628.0h0.85v0.85h-0.85zM73.7 623.7h0.85v0.85h-0.85zM59.2 621.2h0.85v0.85h-0.85zM80.0 607.9h0.85v0.85h-0.85zM68.8 599.9h0.85v0.85h-0.85zM98.7 609.2h0.85v0.85h-0.85zM101.3 615.7h0.85v0.85h-0.85zM79.9 604.3h0.85v0.85h-0.85zM98.4 602.4h0.85v0.85h-0.85zM89.0 606.3h0.85v0.85h-0.85zM75.8 606.4h0.85v0.85h-0.85zM79.3 625.1h0.85v0.85h-0.85zM77.6 605.1h0.85v0.85h-0.85zM63.7 605.0h0.85v0.85h-0.85zM65.4 602.4h0.85v0.85h-0.85zM57.9 599.2h0.85v0.85h-0.85zM93.4 612.3h0.85v0.85h-0.85zM69.9 605.8h0.85v0.85h-0.85zM95.9 608.0h0.85v0.85h-0.85zM71.0 612.3h0.85v0.85h-0.85zM69.8 607.6h0.85v0.85h-0.85zM85.0 610.0h0.85v0.85h-0.85zM75.7 627.1h0.85v0.85h-0.85zM98.4 616.3h0.85v0.85h-0.85zM96.4 613.0h0.85v0.85h-0.85zM85.7 604.2h0.85v0.85h-0.85zM78.9 614.9h0.85v0.85h-0.85zM80.5 599.9h0.85v0.85h-0.85zM77.3 605.6h0.85v0.85h-0.85zM64.5 598.9h0.85v0.85h-0.85zM87.6 588.7h0.85v0.85h-0.85zM83.8 621.3h0.85v0.85h-0.85zM77.4 616.0h0.85v0.85h-0.85zM85.4 605.2h0.85v0.85h-0.85zM69.1 604.9h0.85v0.85h-0.85zM85.2 609.8h0.85v0.85h-0.85zM82.2 620.9h0.85v0.85h-0.85zM88.5 608.4h0.85v0.85h-0.85zM88.5 602.9h0.85v0.85h-0.85zM63.9 604.4h0.85v0.85h-0.85zM91.0 613.7h0.85v0.85h-0.85zM86.3 614.5h0.85v0.85h-0.85zM79.0 623.7h0.85v0.85h-0.85zM79.6 608.3h0.85v0.85h-0.85zM87.0 600.3h0.85v0.85h-0.85zM94.0 623.6h0.85v0.85h-0.85zM86.3 604.8h0.85v0.85h-0.85zM98.8 604.4h0.85v0.85h-0.85zM83.7 610.9h0.85v0.85h-0.85zM94.9 598.0h0.85v0.85h-0.85zM96.2 619.3h0.85v0.85h-0.85zM85.4 597.9h0.85v0.85h-0.85zM96.5 587.9h0.85v0.85h-0.85zM75.6 625.6h0.85v0.85h-0.85zM90.5 606.8h0.85v0.85h-0.85zM78.1 598.0h0.85v0.85h-0.85zM90.4 601.0h0.85v0.85h-0.85zM82.5 617.3h0.85v0.85h-0.85zM78.9 609.2h0.85v0.85h-0.85zM95.6 595.9h0.85v0.85h-0.85zM84.3 624.4h0.85v0.85h-0.85zM81.5 606.4h0.85v0.85h-0.85zM86.3 595.4h0.85v0.85h-0.85zM82.2 614.3h0.85v0.85h-0.85zM80.5 625.7h0.85v0.85h-0.85zM67.4 613.9h0.85v0.85h-0.85zM85.9 614.1h0.85v0.85h-0.85zM72.8 625.6h0.85v0.85h-0.85zM85.4 613.5h0.85v0.85h-0.85zM83.7 606.6h0.85v0.85h-0.85zM81.7 607.2h0.85v0.85h-0.85zM83.9 623.8h0.85v0.85h-0.85zM90.1 603.9h0.85v0.85h-0.85zM81.5 611.2h0.85v0.85h-0.85zM80.0 616.1h0.85v0.85h-0.85zM87.0 596.7h0.85v0.85h-0.85zM86.0 599.7h0.85v0.85h-0.85zM82.1 606.0h0.85v0.85h-0.85zM78.0 615.5h0.85v0.85h-0.85zM80.6 625.0h0.85v0.85h-0.85zM85.4 618.3h0.85v0.85h-0.85zM80.0 628.1h0.85v0.85h-0.85zM77.0 602.6h0.85v0.85h-0.85zM68.8 624.4h0.85v0.85h-0.85zM92.7 606.8h0.85v0.85h-0.85zM67.2 603.2h0.85v0.85h-0.85zM83.3 617.5h0.85v0.85h-0.85zM92.1 616.9h0.85v0.85h-0.85zM84.2 605.3h0.85v0.85h-0.85zM58.5 621.8h0.85v0.85h-0.85zM74.8 611.5h0.85v0.85h-0.85zM93.7 594.4h0.85v0.85h-0.85zM80.3 613.7h0.85v0.85h-0.85zM73.9 599.3h0.85v0.85h-0.85zM95.3 604.4h0.85v0.85h-0.85zM79.8 620.6h0.85v0.85h-0.85zM81.3 620.0h0.85v0.85h-0.85zM64.1 614.4h0.85v0.85h-0.85zM100.7 599.0h0.85v0.85h-0.85zM60.6 613.7h0.85v0.85h-0.85zM96.6 626.0h0.85v0.85h-0.85zM72.0 596.4h0.85v0.85h-0.85zM60.0 624.8h0.85v0.85h-0.85zM100.8 613.2h0.85v0.85h-0.85zM87.3 602.6h0.85v0.85h-0.85zM86.6 605.0h0.85v0.85h-0.85zM83.8 600.4h0.85v0.85h-0.85zM78.6 613.7h0.85v0.85h-0.85zM88.1 596.6h0.85v0.85h-0.85zM104.7 623.7h0.85v0.85h-0.85zM85.2 619.1h0.85v0.85h-0.85zM73.5 616.5h0.85v0.85h-0.85zM100.3 596.7h0.85v0.85h-0.85zM77.9 604.1h0.85v0.85h-0.85zM86.3 612.6h0.85v0.85h-0.85zM71.8 609.1h0.85v0.85h-0.85zM59.4 618.8h0.85v0.85h-0.85zM76.4 614.8h0.85v0.85h-0.85zM78.8 613.2h0.85v0.85h-0.85zM94.8 606.0h0.85v0.85h-0.85zM74.5 608.0h0.85v0.85h-0.85zM83.6 618.3h0.85v0.85h-0.85zM73.8 610.9h0.85v0.85h-0.85zM95.1 609.0h0.85v0.85h-0.85zM84.4 613.4h0.85v0.85h-0.85zM88.1 617.5h0.85v0.85h-0.85zM87.4 592.0h0.85v0.85h-0.85zM84.9 626.1h0.85v0.85h-0.85zM73.2 614.5h0.85v0.85h-0.85zM81.0 610.0h0.85v0.85h-0.85zM95.8 615.9h0.85v0.85h-0.85zM80.3 602.3h0.85v0.85h-0.85zM98.2 602.4h0.85v0.85h-0.85zM82.5 613.7h0.85v0.85h-0.85zM71.2 606.2h0.85v0.85h-0.85zM84.0 613.2h0.85v0.85h-0.85zM81.2 610.7h0.85v0.85h-0.85zM82.6 597.9h0.85v0.85h-0.85zM81.8 620.1h0.85v0.85h-0.85zM84.2 616.2h0.85v0.85h-0.85zM90.5 625.5h0.85v0.85h-0.85zM69.9 614.6h0.85v0.85h-0.85zM74.2 623.8h0.85v0.85h-0.85zM72.8 603.1h0.85v0.85h-0.85zM74.6 617.7h0.85v0.85h-0.85zM92.4 633.1h0.85v0.85h-0.85zM78.4 600.7h0.85v0.85h-0.85zM80.9 607.3h0.85v0.85h-0.85zM80.3 616.1h0.85v0.85h-0.85zM84.4 609.3h0.85v0.85h-0.85zM66.6 616.7h0.85v0.85h-0.85zM86.5 596.5h0.85v0.85h-0.85zM81.5 616.7h0.85v0.85h-0.85zM81.5 603.2h0.85v0.85h-0.85zM82.2 602.3h0.85v0.85h-0.85zM84.4 598.8h0.85v0.85h-0.85zM94.1 586.5h0.85v0.85h-0.85zM64.5 628.8h0.85v0.85h-0.85zM102.0 611.7h0.85v0.85h-0.85zM94.7 612.6h0.85v0.85h-0.85zM71.8 620.5h0.85v0.85h-0.85zM81.2 616.1h0.85v0.85h-0.85zM86.0 599.4h0.85v0.85h-0.85zM84.0 600.1h0.85v0.85h-0.85zM98.7 614.0h0.85v0.85h-0.85zM85.6 620.5h0.85v0.85h-0.85zM90.6 610.5h0.85v0.85h-0.85zM75.9 597.3h0.85v0.85h-0.85zM77.2 603.1h0.85v0.85h-0.85zM82.2 597.2h0.85v0.85h-0.85zM86.6 621.2h0.85v0.85h-0.85zM71.7 602.1h0.85v0.85h-0.85zM86.1 617.8h0.85v0.85h-0.85zM81.4 613.9h0.85v0.85h-0.85zM75.2 622.4h0.85v0.85h-0.85zM78.7 607.9h0.85v0.85h-0.85zM83.1 606.0h0.85v0.85h-0.85zM83.6 605.4h0.85v0.85h-0.85zM89.2 614.4h0.85v0.85h-0.85zM76.5 609.8h0.85v0.85h-0.85zM99.5 596.4h0.85v0.85h-0.85zM80.5 625.2h0.85v0.85h-0.85zM79.7 599.6h0.85v0.85h-0.85zM82.9 632.5h0.85v0.85h-0.85zM85.0 610.1h0.85v0.85h-0.85zM79.8 617.4h0.85v0.85h-0.85zM86.6 619.6h0.85v0.85h-0.85zM85.2 609.3h0.85v0.85h-0.85zM87.6 603.9h0.85v0.85h-0.85zM102.8 612.1h0.85v0.85h-0.85zM82.7 616.7h0.85v0.85h-0.85zM90.0 616.3h0.85v0.85h-0.85zM87.7 614.4h0.85v0.85h-0.85zM83.6 622.3h0.85v0.85h-0.85zM76.4 613.0h0.85v0.85h-0.85zM68.3 608.0h0.85v0.85h-0.85zM82.3 602.4h0.85v0.85h-0.85zM97.5 602.6h0.85v0.85h-0.85zM74.1 606.6h0.85v0.85h-0.85zM81.3 614.7h0.85v0.85h-0.85zM92.9 602.4h0.85v0.85h-0.85zM100.3 622.4h0.85v0.85h-0.85zM85.4 609.0h0.85v0.85h-0.85zM81.6 604.2h0.85v0.85h-0.85zM67.0 606.7h0.85v0.85h-0.85zM77.4 619.0h0.85v0.85h-0.85zM80.6 605.4h0.85v0.85h-0.85zM77.0 603.7h0.85v0.85h-0.85zM89.4 609.9h0.85v0.85h-0.85zM83.0 608.0h0.85v0.85h-0.85zM82.9 615.0h0.85v0.85h-0.85zM90.1 619.4h0.85v0.85h-0.85zM90.9 624.7h0.85v0.85h-0.85zM93.9 617.7h0.85v0.85h-0.85zM86.6 606.9h0.85v0.85h-0.85zM86.7 625.5h0.85v0.85h-0.85zM63.1 614.4h0.85v0.85h-0.85zM78.8 618.2h0.85v0.85h-0.85zM91.6 608.3h0.85v0.85h-0.85zM102.1 606.5h0.85v0.85h-0.85zM87.1 621.3h0.85v0.85h-0.85zM87.8 608.9h0.85v0.85h-0.85zM92.6 597.9h0.85v0.85h-0.85zM83.6 598.3h0.85v0.85h-0.85zM102.0 623.8h0.85v0.85h-0.85zM96.2 619.9h0.85v0.85h-0.85zM82.3 602.7h0.85v0.85h-0.85zM79.9 602.0h0.85v0.85h-0.85zM83.6 607.8h0.85v0.85h-0.85zM91.7 606.9h0.85v0.85h-0.85zM86.9 600.9h0.85v0.85h-0.85zM86.5 603.5h0.85v0.85h-0.85zM81.6 609.9h0.85v0.85h-0.85zM80.0 610.7h0.85v0.85h-0.85zM92.2 600.0h0.85v0.85h-0.85zM61.9 621.5h0.85v0.85h-0.85zM104.9 603.1h0.85v0.85h-0.85zM95.8 617.5h0.85v0.85h-0.85zM81.9 598.3h0.85v0.85h-0.85zM103.9 612.5h0.85v0.85h-0.85zM72.4 615.1h0.85v0.85h-0.85zM86.5 603.9h0.85v0.85h-0.85zM103.7 614.2h0.85v0.85h-0.85zM83.3 613.1h0.85v0.85h-0.85zM102.7 632.6h0.85v0.85h-0.85zM83.2 604.3h0.85v0.85h-0.85zM95.2 625.8h0.85v0.85h-0.85zM77.5 600.3h0.85v0.85h-0.85zM89.9 617.3h0.85v0.85h-0.85zM84.3 610.3h0.85v0.85h-0.85zM80.9 612.0h0.85v0.85h-0.85zM87.8 610.4h0.85v0.85h-0.85zM100.1 605.5h0.85v0.85h-0.85zM83.3 607.9h0.85v0.85h-0.85zM80.1 600.6h0.85v0.85h-0.85zM78.6 610.8h0.85v0.85h-0.85zM67.4 609.3h0.85v0.85h-0.85zM96.1 624.0h0.85v0.85h-0.85zM77.4 613.9h0.85v0.85h-0.85zM84.3 620.5h0.85v0.85h-0.85zM76.6 601.2h0.85v0.85h-0.85zM91.9 603.6h0.85v0.85h-0.85zM56.7 608.4h0.85v0.85h-0.85zM84.0 612.1h0.85v0.85h-0.85zM79.9 617.4h0.85v0.85h-0.85zM90.3 617.1h0.85v0.85h-0.85zM103.4 614.9h0.85v0.85h-0.85zM65.2 612.3h0.85v0.85h-0.85zM78.9 596.7h0.85v0.85h-0.85zM84.0 602.9h0.85v0.85h-0.85zM82.8 604.4h0.85v0.85h-0.85zM72.2 606.4h0.85v0.85h-0.85zM84.5 605.1h0.85v0.85h-0.85zM74.2 624.4h0.85v0.85h-0.85zM92.0 587.1h0.85v0.85h-0.85zM88.2 614.7h0.85v0.85h-0.85zM94.9 619.5h0.85v0.85h-0.85zM83.2 597.5h0.85v0.85h-0.85zM85.6 599.8h0.85v0.85h-0.85zM64.9 602.8h0.85v0.85h-0.85zM75.8 599.9h0.85v0.85h-0.85zM74.7 604.9h0.85v0.85h-0.85zM84.1 598.8h0.85v0.85h-0.85zM90.1 617.4h0.85v0.85h-0.85zM75.2 615.0h0.85v0.85h-0.85zM75.7 607.3h0.85v0.85h-0.85zM76.2 616.5h0.85v0.85h-0.85zM67.0 627.9h0.85v0.85h-0.85zM85.0 611.4h0.85v0.85h-0.85zM82.0 601.6h0.85v0.85h-0.85zM72.2 614.3h0.85v0.85h-0.85zM79.1 615.4h0.85v0.85h-0.85zM101.8 612.3h0.85v0.85h-0.85zM90.5 607.7h0.85v0.85h-0.85zM75.8 612.2h0.85v0.85h-0.85zM101.4 617.3h0.85v0.85h-0.85zM87.1 604.8h0.85v0.85h-0.85zM83.2 624.4h0.85v0.85h-0.85zM86.5 600.8h0.85v0.85h-0.85zM78.6 614.8h0.85v0.85h-0.85zM89.0 593.4h0.85v0.85h-0.85zM86.4 607.0h0.85v0.85h-0.85zM61.9 596.0h0.85v0.85h-0.85zM78.2 591.3h0.85v0.85h-0.85zM84.6 595.3h0.85v0.85h-0.85zM81.0 593.4h0.85v0.85h-0.85zM89.1 590.4h0.85v0.85h-0.85zM52.5 595.5h0.85v0.85h-0.85zM99.3 592.8h0.85v0.85h-0.85zM96.7 596.8h0.85v0.85h-0.85zM72.3 595.6h0.85v0.85h-0.85zM102.0 592.4h0.85v0.85h-0.85zM88.9 596.0h0.85v0.85h-0.85zM71.6 597.8h0.85v0.85h-0.85zM74.8 597.4h0.85v0.85h-0.85zM85.0 592.7h0.85v0.85h-0.85zM79.3 591.9h0.85v0.85h-0.85zM114.0 592.0h0.85v0.85h-0.85zM72.7 598.1h0.85v0.85h-0.85zM92.6 596.5h0.85v0.85h-0.85zM67.3 591.5h0.85v0.85h-0.85zM79.6 595.2h0.85v0.85h-0.85zM94.4 597.2h0.85v0.85h-0.85zM87.3 596.8h0.85v0.85h-0.85zM59.5 590.1h0.85v0.85h-0.85zM70.9 594.3h0.85v0.85h-0.85zM72.0 593.3h0.85v0.85h-0.85zM83.2 592.8h0.85v0.85h-0.85zM80.5 597.7h0.85v0.85h-0.85zM88.7 593.5h0.85v0.85h-0.85zM84.2 596.0h0.85v0.85h-0.85zM84.4 597.1h0.85v0.85h-0.85zM62.9 597.6h0.85v0.85h-0.85zM68.5 596.4h0.85v0.85h-0.85zM62.4 597.6h0.85v0.85h-0.85zM93.7 592.7h0.85v0.85h-0.85zM91.0 593.4h0.85v0.85h-0.85zM98.5 594.0h0.85v0.85h-0.85zM75.9 591.8h0.85v0.85h-0.85zM80.6 596.1h0.85v0.85h-0.85zM91.5 592.6h0.85v0.85h-0.85zM76.7 591.3h0.85v0.85h-0.85zM72.2 594.2h0.85v0.85h-0.85zM87.2 596.9h0.85v0.85h-0.85zM74.3 591.1h0.85v0.85h-0.85zM103.6 594.6h0.85v0.85h-0.85zM76.8 595.0h0.85v0.85h-0.85zM81.0 596.6h0.85v0.85h-0.85zM89.4 591.1h0.85v0.85h-0.85zM76.7 596.5h0.85v0.85h-0.85zM78.7 596.9h0.85v0.85h-0.85zM67.5 598.9h0.85v0.85h-0.85zM86.8 590.0h0.85v0.85h-0.85zM96.9 591.6h0.85v0.85h-0.85zM84.8 595.1h0.85v0.85h-0.85zM87.1 596.5h0.85v0.85h-0.85zM56.0 593.5h0.85v0.85h-0.85zM68.9 592.9h0.85v0.85h-0.85zM83.6 603.0h0.85v0.85h-0.85zM81.9 591.8h0.85v0.85h-0.85zM119.6 596.9h0.85v0.85h-0.85zM80.6 600.3h0.85v0.85h-0.85zM96.7 597.4h0.85v0.85h-0.85zM63.4 599.4h0.85v0.85h-0.85zM79.7 595.8h0.85v0.85h-0.85zM89.6 599.7h0.85v0.85h-0.85zM101.5 593.9h0.85v0.85h-0.85zM76.9 592.3h0.85v0.85h-0.85zM80.8 595.8h0.85v0.85h-0.85zM85.8 594.4h0.85v0.85h-0.85zM71.7 592.7h0.85v0.85h-0.85zM87.4 597.5h0.85v0.85h-0.85zM91.2 593.5h0.85v0.85h-0.85zM91.7 598.1h0.85v0.85h-0.85zM72.4 591.5h0.85v0.85h-0.85zM93.8 600.0h0.85v0.85h-0.85zM88.2 595.7h0.85v0.85h-0.85zM82.5 598.1h0.85v0.85h-0.85zM64.0 595.1h0.85v0.85h-0.85zM77.3 588.2h0.85v0.85h-0.85zM77.6 594.7h0.85v0.85h-0.85zM82.9 594.0h0.85v0.85h-0.85zM78.4 596.0h0.85v0.85h-0.85zM62.0 591.4h0.85v0.85h-0.85zM89.7 596.3h0.85v0.85h-0.85zM94.3 590.8h0.85v0.85h-0.85zM98.2 597.4h0.85v0.85h-0.85zM85.5 591.5h0.85v0.85h-0.85zM93.1 598.1h0.85v0.85h-0.85zM78.4 596.0h0.85v0.85h-0.85zM88.9 597.1h0.85v0.85h-0.85zM91.2 596.6h0.85v0.85h-0.85zM64.8 593.3h0.85v0.85h-0.85zM60.9 597.6h0.85v0.85h-0.85zM92.3 595.9h0.85v0.85h-0.85zM107.2 592.1h0.85v0.85h-0.85zM102.5 592.1h0.85v0.85h-0.85zM57.6 593.3h0.85v0.85h-0.85zM75.3 593.8h0.85v0.85h-0.85zM81.4 595.9h0.85v0.85h-0.85zM90.3 592.6h0.85v0.85h-0.85zM67.1 596.5h0.85v0.85h-0.85zM99.2 597.3h0.85v0.85h-0.85zM88.7 589.4h0.85v0.85h-0.85zM90.6 592.7h0.85v0.85h-0.85zM96.1 598.5h0.85v0.85h-0.85zM76.9 591.8h0.85v0.85h-0.85zM77.1 595.9h0.85v0.85h-0.85zM89.3 591.6h0.85v0.85h-0.85zM86.5 592.0h0.85v0.85h-0.85zM74.3 597.7h0.85v0.85h-0.85zM80.8 588.3h0.85v0.85h-0.85zM68.6 598.2h0.85v0.85h-0.85zM58.7 597.9h0.85v0.85h-0.85zM82.7 590.7h0.85v0.85h-0.85zM74.3 596.3h0.85v0.85h-0.85zM100.5 590.9h0.85v0.85h-0.85zM79.6 595.7h0.85v0.85h-0.85zM93.8 601.8h0.85v0.85h-0.85zM106.3 595.8h0.85v0.85h-0.85zM64.1 593.8h0.85v0.85h-0.85zM67.7 593.7h0.85v0.85h-0.85zM75.9 594.0h0.85v0.85h-0.85zM94.0 615.3h0.85v0.85h-0.85zM97.4 628.9h0.85v0.85h-0.85zM84.7 603.5h0.85v0.85h-0.85zM86.7 595.9h0.85v0.85h-0.85zM92.4 618.0h0.85v0.85h-0.85zM92.5 634.8h0.85v0.85h-0.85zM95.8 627.6h0.85v0.85h-0.85zM92.0 611.7h0.85v0.85h-0.85zM78.9 613.8h0.85v0.85h-0.85zM91.5 607.4h0.85v0.85h-0.85zM86.8 618.6h0.85v0.85h-0.85zM101.8 613.2h0.85v0.85h-0.85zM89.4 609.8h0.85v0.85h-0.85zM90.8 606.0h0.85v0.85h-0.85zM93.3 608.4h0.85v0.85h-0.85zM98.3 607.2h0.85v0.85h-0.85zM84.3 621.4h0.85v0.85h-0.85zM94.1 605.9h0.85v0.85h-0.85zM92.3 617.2h0.85v0.85h-0.85zM99.2 608.0h0.85v0.85h-0.85zM79.9 618.8h0.85v0.85h-0.85zM94.8 624.8h0.85v0.85h-0.85zM89.1 599.4h0.85v0.85h-0.85zM78.2 640.5h0.85v0.85h-0.85zM90.5 615.1h0.85v0.85h-0.85zM93.3 620.3h0.85v0.85h-0.85zM86.8 613.7h0.85v0.85h-0.85zM91.1 628.4h0.85v0.85h-0.85zM103.2 627.8h0.85v0.85h-0.85zM95.6 606.6h0.85v0.85h-0.85zM86.8 620.4h0.85v0.85h-0.85zM87.2 611.9h0.85v0.85h-0.85zM106.4 613.7h0.85v0.85h-0.85zM90.0 599.0h0.85v0.85h-0.85zM94.3 619.8h0.85v0.85h-0.85zM89.8 621.8h0.85v0.85h-0.85zM76.1 631.2h0.85v0.85h-0.85zM99.3 595.7h0.85v0.85h-0.85zM92.4 624.5h0.85v0.85h-0.85zM96.3 618.7h0.85v0.85h-0.85zM98.5 621.8h0.85v0.85h-0.85zM88.8 631.7h0.85v0.85h-0.85zM84.1 612.5h0.85v0.85h-0.85zM88.6 633.0h0.85v0.85h-0.85zM88.1 602.8h0.85v0.85h-0.85zM85.0 619.5h0.85v0.85h-0.85zM91.2 620.3h0.85v0.85h-0.85zM83.5 620.4h0.85v0.85h-0.85zM96.2 635.8h0.85v0.85h-0.85zM100.1 604.0h0.85v0.85h-0.85zM94.4 606.9h0.85v0.85h-0.85zM93.7 624.6h0.85v0.85h-0.85zM90.3 588.7h0.85v0.85h-0.85zM92.1 618.2h0.85v0.85h-0.85zM88.2 624.9h0.85v0.85h-0.85zM89.2 614.7h0.85v0.85h-0.85zM94.6 610.0h0.85v0.85h-0.85zM96.1 612.6h0.85v0.85h-0.85zM90.3 623.3h0.85v0.85h-0.85zM99.4 614.6h0.85v0.85h-0.85zM92.6 614.3h0.85v0.85h-0.85zM82.2 613.2h0.85v0.85h-0.85zM105.6 615.1h0.85v0.85h-0.85zM96.2 623.4h0.85v0.85h-0.85zM99.0 617.4h0.85v0.85h-0.85zM96.0 615.5h0.85v0.85h-0.85zM105.9 621.4h0.85v0.85h-0.85zM90.9 630.3h0.85v0.85h-0.85zM86.6 627.6h0.85v0.85h-0.85zM104.9 607.7h0.85v0.85h-0.85zM94.9 612.1h0.85v0.85h-0.85zM92.1 615.8h0.85v0.85h-0.85zM79.1 629.5h0.85v0.85h-0.85zM91.4 627.1h0.85v0.85h-0.85zM87.8 613.9h0.85v0.85h-0.85zM89.3 603.5h0.85v0.85h-0.85zM102.8 630.1h0.85v0.85h-0.85zM99.9 624.2h0.85v0.85h-0.85zM89.7 622.0h0.85v0.85h-0.85zM110.1 633.9h0.85v0.85h-0.85zM93.6 607.0h0.85v0.85h-0.85zM96.0 592.1h0.85v0.85h-0.85zM98.2 612.0h0.85v0.85h-0.85zM90.5 629.4h0.85v0.85h-0.85zM101.2 615.6h0.85v0.85h-0.85zM86.0 600.7h0.85v0.85h-0.85zM85.1 624.4h0.85v0.85h-0.85zM93.9 612.1h0.85v0.85h-0.85zM92.4 615.8h0.85v0.85h-0.85zM84.0 614.5h0.85v0.85h-0.85zM99.8 635.5h0.85v0.85h-0.85zM88.0 619.9h0.85v0.85h-0.85zM84.8 624.6h0.85v0.85h-0.85zM91.2 617.8h0.85v0.85h-0.85zM99.5 626.2h0.85v0.85h-0.85zM94.7 623.2h0.85v0.85h-0.85zM95.8 598.9h0.85v0.85h-0.85zM94.3 613.3h0.85v0.85h-0.85zM101.6 618.0h0.85v0.85h-0.85zM87.0 612.0h0.85v0.85h-0.85zM97.9 618.7h0.85v0.85h-0.85zM92.2 630.8h0.85v0.85h-0.85zM95.7 616.7h0.85v0.85h-0.85zM99.8 624.5h0.85v0.85h-0.85zM94.9 621.9h0.85v0.85h-0.85zM75.3 628.4h0.85v0.85h-0.85zM89.2 625.3h0.85v0.85h-0.85zM88.1 618.4h0.85v0.85h-0.85zM84.0 626.4h0.85v0.85h-0.85zM86.8 633.4h0.85v0.85h-0.85zM92.7 621.7h0.85v0.85h-0.85zM87.0 609.6h0.85v0.85h-0.85zM94.1 615.2h0.85v0.85h-0.85zM91.4 602.6h0.85v0.85h-0.85zM89.4 621.3h0.85v0.85h-0.85zM83.9 606.6h0.85v0.85h-0.85zM84.9 619.4h0.85v0.85h-0.85zM88.4 604.9h0.85v0.85h-0.85zM88.2 620.5h0.85v0.85h-0.85zM84.2 620.4h0.85v0.85h-0.85zM107.1 597.9h0.85v0.85h-0.85zM86.6 614.4h0.85v0.85h-0.85zM93.0 631.4h0.85v0.85h-0.85zM91.3 610.0h0.85v0.85h-0.85zM83.3 582.3h0.85v0.85h-0.85zM80.6 632.4h0.85v0.85h-0.85zM83.6 623.1h0.85v0.85h-0.85zM94.3 612.5h0.85v0.85h-0.85zM81.8 641.3h0.85v0.85h-0.85zM96.3 620.9h0.85v0.85h-0.85zM81.8 619.9h0.85v0.85h-0.85zM82.2 600.6h0.85v0.85h-0.85zM91.4 617.0h0.85v0.85h-0.85zM93.1 618.7h0.85v0.85h-0.85zM90.3 618.5h0.85v0.85h-0.85zM83.2 615.2h0.85v0.85h-0.85zM95.1 636.3h0.85v0.85h-0.85zM78.6 630.6h0.85v0.85h-0.85zM86.4 628.3h0.85v0.85h-0.85zM87.1 615.5h0.85v0.85h-0.85zM91.7 616.6h0.85v0.85h-0.85zM91.6 626.3h0.85v0.85h-0.85zM96.8 609.5h0.85v0.85h-0.85zM96.5 619.4h0.85v0.85h-0.85zM83.2 605.9h0.85v0.85h-0.85zM99.7 628.5h0.85v0.85h-0.85zM85.9 625.2h0.85v0.85h-0.85zM85.9 622.6h0.85v0.85h-0.85zM105.0 616.2h0.85v0.85h-0.85zM100.1 609.5h0.85v0.85h-0.85zM90.6 612.2h0.85v0.85h-0.85zM102.6 621.6h0.85v0.85h-0.85zM87.7 605.0h0.85v0.85h-0.85zM89.8 624.8h0.85v0.85h-0.85zM98.1 611.6h0.85v0.85h-0.85zM97.0 618.6h0.85v0.85h-0.85zM90.3 620.5h0.85v0.85h-0.85zM104.4 614.5h0.85v0.85h-0.85zM91.8 616.7h0.85v0.85h-0.85zM89.1 619.9h0.85v0.85h-0.85zM89.9 599.5h0.85v0.85h-0.85zM94.2 600.3h0.85v0.85h-0.85zM92.3 618.6h0.85v0.85h-0.85zM101.2 628.1h0.85v0.85h-0.85zM95.1 606.9h0.85v0.85h-0.85zM92.7 637.1h0.85v0.85h-0.85zM95.5 623.6h0.85v0.85h-0.85zM108.7 617.8h0.85v0.85h-0.85zM82.7 626.2h0.85v0.85h-0.85zM94.1 605.0h0.85v0.85h-0.85zM101.9 616.1h0.85v0.85h-0.85zM105.4 606.1h0.85v0.85h-0.85zM100.3 625.7h0.85v0.85h-0.85zM92.4 626.3h0.85v0.85h-0.85zM81.8 642.6h0.85v0.85h-0.85zM97.6 621.5h0.85v0.85h-0.85zM106.0 642.4h0.85v0.85h-0.85zM82.3 617.9h0.85v0.85h-0.85zM81.4 615.3h0.85v0.85h-0.85zM88.4 626.3h0.85v0.85h-0.85zM91.3 601.9h0.85v0.85h-0.85zM95.5 611.9h0.85v0.85h-0.85zM97.3 604.2h0.85v0.85h-0.85zM86.1 613.0h0.85v0.85h-0.85zM89.4 615.9h0.85v0.85h-0.85zM95.8 622.4h0.85v0.85h-0.85zM93.0 619.7h0.85v0.85h-0.85zM89.6 601.6h0.85v0.85h-0.85zM88.6 613.0h0.85v0.85h-0.85zM89.6 599.1h0.85v0.85h-0.85zM88.4 612.6h0.85v0.85h-0.85zM86.1 613.5h0.85v0.85h-0.85zM91.2 623.1h0.85v0.85h-0.85zM97.2 606.9h0.85v0.85h-0.85zM95.0 615.0h0.85v0.85h-0.85zM91.0 629.4h0.85v0.85h-0.85zM96.3 620.6h0.85v0.85h-0.85zM84.9 614.6h0.85v0.85h-0.85zM98.2 610.4h0.85v0.85h-0.85zM86.4 607.4h0.85v0.85h-0.85zM92.9 608.2h0.85v0.85h-0.85zM108.4 617.6h0.85v0.85h-0.85zM92.4 612.5h0.85v0.85h-0.85zM94.8 622.1h0.85v0.85h-0.85zM89.9 613.1h0.85v0.85h-0.85zM98.5 619.0h0.85v0.85h-0.85zM96.2 617.8h0.85v0.85h-0.85zM88.6 622.1h0.85v0.85h-0.85zM96.3 617.6h0.85v0.85h-0.85zM91.8 626.3h0.85v0.85h-0.85zM86.7 622.3h0.85v0.85h-0.85zM91.1 619.3h0.85v0.85h-0.85zM96.7 603.5h0.85v0.85h-0.85zM91.1 617.5h0.85v0.85h-0.85zM93.0 638.9h0.85v0.85h-0.85zM87.7 619.3h0.85v0.85h-0.85zM97.0 598.4h0.85v0.85h-0.85zM96.7 625.7h0.85v0.85h-0.85zM88.8 615.6h0.85v0.85h-0.85zM88.1 630.1h0.85v0.85h-0.85zM87.7 605.0h0.85v0.85h-0.85zM87.3 610.8h0.85v0.85h-0.85zM92.6 618.3h0.85v0.85h-0.85zM97.9 600.4h0.85v0.85h-0.85zM93.6 615.3h0.85v0.85h-0.85zM92.0 611.4h0.85v0.85h-0.85zM89.3 623.0h0.85v0.85h-0.85zM98.7 603.3h0.85v0.85h-0.85zM94.5 609.0h0.85v0.85h-0.85zM95.9 614.5h0.85v0.85h-0.85zM83.6 610.8h0.85v0.85h-0.85zM92.2 627.3h0.85v0.85h-0.85zM100.3 628.0h0.85v0.85h-0.85zM92.9 622.5h0.85v0.85h-0.85zM90.1 631.6h0.85v0.85h-0.85zM86.8 608.2h0.85v0.85h-0.85zM97.7 604.2h0.85v0.85h-0.85zM93.5 629.5h0.85v0.85h-0.85zM93.8 624.0h0.85v0.85h-0.85zM93.0 620.7h0.85v0.85h-0.85zM84.2 634.4h0.85v0.85h-0.85zM90.2 613.9h0.85v0.85h-0.85zM93.2 630.6h0.85v0.85h-0.85zM90.2 617.1h0.85v0.85h-0.85zM98.0 624.7h0.85v0.85h-0.85zM89.6 615.1h0.85v0.85h-0.85zM92.2 610.2h0.85v0.85h-0.85zM85.4 611.0h0.85v0.85h-0.85zM83.8 637.9h0.85v0.85h-0.85zM86.6 623.9h0.85v0.85h-0.85zM80.5 612.7h0.85v0.85h-0.85zM101.8 616.2h0.85v0.85h-0.85zM82.3 613.7h0.85v0.85h-0.85zM81.8 598.2h0.85v0.85h-0.85zM101.6 614.4h0.85v0.85h-0.85zM93.2 630.2h0.85v0.85h-0.85zM87.6 620.2h0.85v0.85h-0.85zM92.4 610.6h0.85v0.85h-0.85zM89.9 606.3h0.85v0.85h-0.85zM83.2 624.4h0.85v0.85h-0.85z" fill="#1f1fff" fill-opacity="0.7"/>
<path d="M93.5 593.6h0.9v0.9h-0.9zM92.1 594.0h0.9v0.9h-0.9zM89.7 595.4h0.9v0.9h-0.9zM91.4 595.3h0.9v0.9h-0.9zM97.3 591.6h0.9v0.9h-0.9zM93.7 595.7h0.9v0.9h-0.9zM94.9 595.1h0.9v0.9h-0.9zM91.6 592.4h0.9v0.9h-0.9zM97.3 589.9h0.9v0.9h-0.9zM89.2 592.6h0.9v0.9h-0.9zM94.9 593.7h0.9v0.9h-0.9zM89.5 594.8h0.9v0.9h-0.9zM95.0 594.7h0.9v0.9h-0.9zM88.8 595.6h0.9v0.9h-0.9zM93.7 595.1h0.9v0.9h-0.9zM97.4 592.6h0.9v0.9h-0.9zM88.7 593.7h0.9v0.9h-0.9zM93.8 595.1h0.9v0.9h-0.9zM97.1 590.6h0.9v0.9h-0.9zM96.8 593.2h0.9v0.9h-0.9zM94.4 596.0h0.9v0.9h-0.9zM96.4 593.5h0.9v0.9h-0.9zM92.1 596.3h0.9v0.9h-0.9zM88.6 594.2h0.9v0.9h-0.9zM87.9 596.1h0.9v0.9h-0.9zM88.6 595.6h0.9v0.9h-0.9zM96.0 593.7h0.9v0.9h-0.9zM88.7 593.4h0.9v0.9h-0.9zM89.1 592.8h0.9v0.9h-0.9zM95.9 594.0h0.9v0.9h-0.9zM88.8 595.9h0.9v0.9h-0.9zM89.6 592.8h0.9v0.9h-0.9zM96.7 593.4h0.9v0.9h-0.9zM91.5 592.2h0.9v0.9h-0.9zM95.0 589.9h0.9v0.9h-0.9zM91.1 596.1h0.9v0.9h-0.9zM89.4 597.4h0.9v0.9h-0.9zM64.1 626.4h0.9v0.9h-0.9zM71.2 629.6h0.9v0.9h-0.9zM65.5 628.8h0.9v0.9h-0.9zM65.0 628.9h0.9v0.9h-0.9zM61.9 626.7h0.9v0.9h-0.9zM73.7 622.8h0.9v0.9h-0.9zM65.2 632.1h0.9v0.9h-0.9zM68.2 632.7h0.9v0.9h-0.9zM67.6 632.3h0.9v0.9h-0.9zM70.0 623.1h0.9v0.9h-0.9zM68.9 628.7h0.9v0.9h-0.9zM70.5 626.2h0.9v0.9h-0.9zM75.1 625.3h0.9v0.9h-0.9zM70.6 630.1h0.9v0.9h-0.9zM71.7 632.2h0.9v0.9h-0.9zM68.4 625.9h0.9v0.9h-0.9zM65.8 632.3h0.9v0.9h-0.9zM66.3 621.2h0.9v0.9h-0.9zM66.7 624.1h0.9v0.9h-0.9zM71.9 629.4h0.9v0.9h-0.9zM65.1 628.7h0.9v0.9h-0.9zM69.6 629.7h0.9v0.9h-0.9zM63.9 623.1h0.9v0.9h-0.9zM69.9 630.4h0.9v0.9h-0.9zM72.0 631.1h0.9v0.9h-0.9zM66.9 624.9h0.9v0.9h-0.9zM64.9 629.1h0.9v0.9h-0.9zM73.3 630.2h0.9v0.9h-0.9zM66.4 620.6h0.9v0.9h-0.9zM67.3 621.4h0.9v0.9h-0.9zM64.4 624.8h0.9v0.9h-0.9zM69.6 631.7h0.9v0.9h-0.9zM63.3 626.0h0.9v0.9h-0.9zM68.0 622.0h0.9v0.9h-0.9zM70.0 631.1h0.9v0.9h-0.9zM69.4 632.3h0.9v0.9h-0.9zM63.3 629.2h0.9v0.9h-0.9zM73.0 625.8h0.9v0.9h-0.9zM71.7 630.9h0.9v0.9h-0.9zM75.3 626.9h0.9v0.9h-0.9zM69.0 620.7h0.9v0.9h-0.9zM74.6 627.8h0.9v0.9h-0.9zM65.0 626.3h0.9v0.9h-0.9zM71.8 622.7h0.9v0.9h-0.9zM70.7 621.7h0.9v0.9h-0.9zM64.9 629.7h0.9v0.9h-0.9zM73.3 622.2h0.9v0.9h-0.9zM65.7 631.6h0.9v0.9h-0.9zM72.2 621.6h0.9v0.9h-0.9zM67.4 626.3h0.9v0.9h-0.9zM69.0 629.3h0.9v0.9h-0.9zM64.1 627.7h0.9v0.9h-0.9zM64.6 629.3h0.9v0.9h-0.9zM67.5 620.5h0.9v0.9h-0.9zM69.8 623.8h0.9v0.9h-0.9zM61.8 627.2h0.9v0.9h-0.9zM72.8 624.7h0.9v0.9h-0.9zM64.6 621.5h0.9v0.9h-0.9zM68.6 632.0h0.9v0.9h-0.9zM74.8 626.8h0.9v0.9h-0.9zM74.9 623.8h0.9v0.9h-0.9zM64.3 627.1h0.9v0.9h-0.9zM63.4 623.1h0.9v0.9h-0.9zM70.1 625.9h0.9v0.9h-0.9zM69.1 621.3h0.9v0.9h-0.9z" fill="#1aa0c8" fill-opacity="0.8"/>
<path d="M90.1 595.4h0.9v0.9h-0.9zM92.1 591.7h0.9v0.9h-0.9zM91.9 593.0h0.9v0.9h-0.9zM92.3 594.9h0.9v0.9h-0.9zM93.7 593.2h0.9v0.9h-0.9zM90.9 595.8h0.9v0.9h-0.9zM94.4 594.1h0.9v0.9h-0.9zM93.1 592.5h0.9v0.9h-0.9zM95.2 591.1h0.9v0.9h-0.9zM93.1 594.1h0.9v0.9h-0.9zM90.0 595.4h0.9v0.9h-0.9zM94.7 593.4h0.9v0.9h-0.9zM91.8 592.5h0.9v0.9h-0.9zM93.2 593.7h0.9v0.9h-0.9zM93.3 594.1h0.9v0.9h-0.9zM95.2 593.8h0.9v0.9h-0.9zM93.7 593.4h0.9v0.9h-0.9zM96.1 592.2h0.9v0.9h-0.9zM93.8 592.9h0.9v0.9h-0.9zM94.6 593.9h0.9v0.9h-0.9zM96.3 592.4h0.9v0.9h-0.9zM93.5 594.6h0.9v0.9h-0.9zM89.7 594.1h0.9v0.9h-0.9zM94.5 593.2h0.9v0.9h-0.9zM92.7 594.4h0.9v0.9h-0.9zM92.2 591.8h0.9v0.9h-0.9zM94.8 593.3h0.9v0.9h-0.9zM95.6 591.8h0.9v0.9h-0.9zM96.1 591.7h0.9v0.9h-0.9zM90.9 595.5h0.9v0.9h-0.9zM69.2 629.2h0.9v0.9h-0.9zM72.3 625.4h0.9v0.9h-0.9zM69.1 625.1h0.9v0.9h-0.9zM68.1 625.2h0.9v0.9h-0.9zM69.5 628.6h0.9v0.9h-0.9zM72.0 627.7h0.9v0.9h-0.9zM68.4 624.2h0.9v0.9h-0.9zM65.0 625.2h0.9v0.9h-0.9zM65.4 624.0h0.9v0.9h-0.9zM65.6 626.9h0.9v0.9h-0.9zM72.3 624.7h0.9v0.9h-0.9zM72.4 626.1h0.9v0.9h-0.9zM67.9 627.9h0.9v0.9h-0.9zM71.1 626.1h0.9v0.9h-0.9zM70.8 626.5h0.9v0.9h-0.9zM70.2 623.9h0.9v0.9h-0.9zM72.0 626.1h0.9v0.9h-0.9zM69.9 622.9h0.9v0.9h-0.9zM67.4 626.2h0.9v0.9h-0.9zM68.8 629.4h0.9v0.9h-0.9zM67.1 628.9h0.9v0.9h-0.9zM70.7 626.2h0.9v0.9h-0.9zM71.7 626.6h0.9v0.9h-0.9zM65.9 623.6h0.9v0.9h-0.9zM68.3 626.0h0.9v0.9h-0.9zM66.1 628.8h0.9v0.9h-0.9zM70.9 626.3h0.9v0.9h-0.9zM71.7 626.4h0.9v0.9h-0.9zM66.2 628.8h0.9v0.9h-0.9zM67.7 627.8h0.9v0.9h-0.9zM71.6 629.1h0.9v0.9h-0.9zM68.2 626.7h0.9v0.9h-0.9zM69.8 629.3h0.9v0.9h-0.9zM69.3 625.5h0.9v0.9h-0.9zM66.0 626.8h0.9v0.9h-0.9zM68.3 623.5h0.9v0.9h-0.9zM69.1 628.2h0.9v0.9h-0.9zM67.6 628.8h0.9v0.9h-0.9zM67.8 625.4h0.9v0.9h-0.9zM69.8 623.5h0.9v0.9h-0.9zM68.3 624.1h0.9v0.9h-0.9zM70.2 627.7h0.9v0.9h-0.9z" fill="#30b040" fill-opacity="0.85"/>
</g>
<line x1="41.6" y1="614.6" x2="130.9" y2="614.6" stroke="#8a8a8a" stroke-width="1.3"/>
<line x1="79.0" y1="555.5" x2="79.0" y2="645.0" stroke="#8a8a8a" stroke-width="1.0"/>
<line x1="41.6" y1="555.5" x2="41.6" y2="645.0" stroke="#444" stroke-width="0.8"/>
<line x1="41.6" y1="645.0" x2="130.9" y2="645.0" stroke="#444" stroke-width="0.8"/>
<line x1="39.1" y1="564.0" x2="41.6" y2="564.0" stroke="#444" stroke-width="0.7"/>
<text x="34.1" y="565.2" font-size="3.2" text-anchor="start" fill="#555">10</text>
<line x1="53.3" y1="645.0" x2="53.3" y2="647.5" stroke="#444" stroke-width="0.7"/>
<text x="50.8" y="651.5" font-size="3.2" text-anchor="start" fill="#555">10</text>
<line x1="39.1" y1="581.9" x2="41.6" y2="581.9" stroke="#444" stroke-width="0.7"/>
<text x="34.1" y="583.1" font-size="3.2" text-anchor="start" fill="#555">10</text>
<line x1="71.3" y1="645.0" x2="71.3" y2="647.5" stroke="#444" stroke-width="0.7"/>
<text x="68.8" y="651.5" font-size="3.2" text-anchor="start" fill="#555">10</text>
<line x1="39.1" y1="599.8" x2="41.6" y2="599.8" stroke="#444" stroke-width="0.7"/>
<text x="34.1" y="601.0" font-size="3.2" text-anchor="start" fill="#555">10</text>
<line x1="89.3" y1="645.0" x2="89.3" y2="647.5" stroke="#444" stroke-width="0.7"/>
<text x="86.8" y="651.5" font-size="3.2" text-anchor="start" fill="#555">10</text>
<line x1="39.1" y1="617.7" x2="41.6" y2="617.7" stroke="#444" stroke-width="0.7"/>
<text x="34.1" y="618.9000000000001" font-size="3.2" text-anchor="start" fill="#555">10</text>
<line x1="107.3" y1="645.0" x2="107.3" y2="647.5" stroke="#444" stroke-width="0.7"/>
<text x="104.8" y="651.5" font-size="3.2" text-anchor="start" fill="#555">10</text>
<line x1="39.1" y1="635.6" x2="41.6" y2="635.6" stroke="#444" stroke-width="0.7"/>
<text x="34.1" y="636.8000000000001" font-size="3.2" text-anchor="start" fill="#555">10</text>
<line x1="125.3" y1="645.0" x2="125.3" y2="647.5" stroke="#444" stroke-width="0.7"/>
<text x="122.8" y="651.5" font-size="3.2" text-anchor="start" fill="#555">10</text>
<line x1="40.4" y1="557.5" x2="41.6" y2="557.5" stroke="#666" stroke-width="0.4"/>
<line x1="43.6" y1="645.0" x2="43.6" y2="646.2" stroke="#666" stroke-width="0.4"/>
<line x1="40.4" y1="559.7" x2="41.6" y2="559.7" stroke="#666" stroke-width="0.4"/>
<line x1="45.800000000000004" y1="645.0" x2="45.800000000000004" y2="646.2" stroke="#666" stroke-width="0.4"/>
<line x1="40.4" y1="561.9" x2="41.6" y2="561.9" stroke="#666" stroke-width="0.4"/>
<line x1="48.0" y1="645.0" x2="48.0" y2="646.2" stroke="#666" stroke-width="0.4"/>
<line x1="40.4" y1="564.1" x2="41.6" y2="564.1" stroke="#666" stroke-width="0.4"/>
<line x1="50.2" y1="645.0" x2="50.2" y2="646.2" stroke="#666" stroke-width="0.4"/>
<line x1="40.4" y1="566.3" x2="41.6" y2="566.3" stroke="#666" stroke-width="0.4"/>
<line x1="52.400000000000006" y1="645.0" x2="52.400000000000006" y2="646.2" stroke="#666" stroke-width="0.4"/>
<line x1="40.4" y1="568.5" x2="41.6" y2="568.5" stroke="#666" stroke-width="0.4"/>
<line x1="54.6" y1="645.0" x2="54.6" y2="646.2" stroke="#666" stroke-width="0.4"/>
<line x1="40.4" y1="570.7" x2="41.6" y2="570.7" stroke="#666" stroke-width="0.4"/>
<line x1="56.800000000000004" y1="645.0" x2="56.800000000000004" y2="646.2" stroke="#666" stroke-width="0.4"/>
<line x1="40.4" y1="572.9" x2="41.6" y2="572.9" stroke="#666" stroke-width="0.4"/>
<line x1="59.0" y1="645.0" x2="59.0" y2="646.2" stroke="#666" stroke-width="0.4"/>
<line x1="40.4" y1="575.1" x2="41.6" y2="575.1" stroke="#666" stroke-width="0.4"/>
<line x1="61.2" y1="645.0" x2="61.2" y2="646.2" stroke="#666" stroke-width="0.4"/>
<line x1="40.4" y1="577.3" x2="41.6" y2="577.3" stroke="#666" stroke-width="0.4"/>
<line x1="63.400000000000006" y1="645.0" x2="63.400000000000006" y2="646.2" stroke="#666" stroke-width="0.4"/>
<line x1="40.4" y1="579.5" x2="41.6" y2="579.5" stroke="#666" stroke-width="0.4"/>
<line x1="65.6" y1="645.0" x2="65.6" y2="646.2" stroke="#666" stroke-width="0.4"/>
<line x1="40.4" y1="581.7" x2="41.6" y2="581.7" stroke="#666" stroke-width="0.4"/>
<line x1="67.80000000000001" y1="645.0" x2="67.80000000000001" y2="646.2" stroke="#666" stroke-width="0.4"/>
<line x1="40.4" y1="583.9" x2="41.6" y2="583.9" stroke="#666" stroke-width="0.4"/>
<line x1="70.0" y1="645.0" x2="70.0" y2="646.2" stroke="#666" stroke-width="0.4"/>
<line x1="40.4" y1="586.1" x2="41.6" y2="586.1" stroke="#666" stroke-width="0.4"/>
<line x1="72.2" y1="645.0" x2="72.2" y2="646.2" stroke="#666" stroke-width="0.4"/>
<line x1="40.4" y1="588.3" x2="41.6" y2="588.3" stroke="#666" stroke-width="0.4"/>
<line x1="74.4" y1="645.0" x2="74.4" y2="646.2" stroke="#666" stroke-width="0.4"/>
<line x1="40.4" y1="590.5" x2="41.6" y2="590.5" stroke="#666" stroke-width="0.4"/>
<line x1="76.6" y1="645.0" x2="76.6" y2="646.2" stroke="#666" stroke-width="0.4"/>
<line x1="40.4" y1="592.7" x2="41.6" y2="592.7" stroke="#666" stroke-width="0.4"/>
<line x1="78.80000000000001" y1="645.0" x2="78.80000000000001" y2="646.2" stroke="#666" stroke-width="0.4"/>
<line x1="40.4" y1="594.9" x2="41.6" y2="594.9" stroke="#666" stroke-width="0.4"/>
<line x1="81.0" y1="645.0" x2="81.0" y2="646.2" stroke="#666" stroke-width="0.4"/>
<line x1="40.4" y1="597.1" x2="41.6" y2="597.1" stroke="#666" stroke-width="0.4"/>
<line x1="83.2" y1="645.0" x2="83.2" y2="646.2" stroke="#666" stroke-width="0.4"/>
<line x1="40.4" y1="599.3" x2="41.6" y2="599.3" stroke="#666" stroke-width="0.4"/>
<line x1="85.4" y1="645.0" x2="85.4" y2="646.2" stroke="#666" stroke-width="0.4"/>
<line x1="40.4" y1="601.5" x2="41.6" y2="601.5" stroke="#666" stroke-width="0.4"/>
<line x1="87.6" y1="645.0" x2="87.6" y2="646.2" stroke="#666" stroke-width="0.4"/>
<line x1="40.4" y1="603.7" x2="41.6" y2="603.7" stroke="#666" stroke-width="0.4"/>
<line x1="89.80000000000001" y1="645.0" x2="89.80000000000001" y2="646.2" stroke="#666" stroke-width="0.4"/>
<line x1="40.4" y1="605.9" x2="41.6" y2="605.9" stroke="#666" stroke-width="0.4"/>
<line x1="92.0" y1="645.0" x2="92.0" y2="646.2" stroke="#666" stroke-width="0.4"/>
<line x1="40.4" y1="608.1" x2="41.6" y2="608.1" stroke="#666" stroke-width="0.4"/>
<line x1="94.2" y1="645.0" x2="94.2" y2="646.2" stroke="#666" stroke-width="0.4"/>
<line x1="40.4" y1="610.3" x2="41.6" y2="610.3" stroke="#666" stroke-width="0.4"/>
<line x1="96.4" y1="645.0" x2="96.4" y2="646.2" stroke="#666" stroke-width="0.4"/>
<line x1="40.4" y1="612.5" x2="41.6" y2="612.5" stroke="#666" stroke-width="0.4"/>
<line x1="98.60000000000001" y1="645.0" x2="98.60000000000001" y2="646.2" stroke="#666" stroke-width="0.4"/>
<line x1="40.4" y1="614.7" x2="41.6" y2="614.7" stroke="#666" stroke-width="0.4"/>
<line x1="100.80000000000001" y1="645.0" x2="100.80000000000001" y2="646.2" stroke="#666" stroke-width="0.4"/>
<line x1="40.4" y1="616.9" x2="41.6" y2="616.9" stroke="#666" stroke-width="0.4"/>
<line x1="103.0" y1="645.0" x2="103.0" y2="646.2" stroke="#666" stroke-width="0.4"/>
<line x1="40.4" y1="619.1" x2="41.6" y2="619.1" stroke="#666" stroke-width="0.4"/>
<line x1="105.20000000000002" y1="645.0" x2="105.20000000000002" y2="646.2" stroke="#666" stroke-width="0.4"/>
<line x1="40.4" y1="621.3" x2="41.6" y2="621.3" stroke="#666" stroke-width="0.4"/>
<line x1="107.4" y1="645.0" x2="107.4" y2="646.2" stroke="#666" stroke-width="0.4"/>
<line x1="40.4" y1="623.5" x2="41.6" y2="623.5" stroke="#666" stroke-width="0.4"/>
<line x1="109.6" y1="645.0" x2="109.6" y2="646.2" stroke="#666" stroke-width="0.4"/>
<line x1="40.4" y1="625.7" x2="41.6" y2="625.7" stroke="#666" stroke-width="0.4"/>
<line x1="111.80000000000001" y1="645.0" x2="111.80000000000001" y2="646.2" stroke="#666" stroke-width="0.4"/>
<line x1="40.4" y1="627.9" x2="41.6" y2="627.9" stroke="#666" stroke-width="0.4"/>
<line x1="114.0" y1="645.0" x2="114.0" y2="646.2" stroke="#666" stroke-width="0.4"/>
<line x1="40.4" y1="630.1" x2="41.6" y2="630.1" stroke="#666" stroke-width="0.4"/>
<line x1="116.20000000000002" y1="645.0" x2="116.20000000000002" y2="646.2" stroke="#666" stroke-width="0.4"/>
<line x1="40.4" y1="632.3" x2="41.6" y2="632.3" stroke="#666" stroke-width="0.4"/>
<line x1="118.4" y1="645.0" x2="118.4" y2="646.2" stroke="#666" stroke-width="0.4"/>
<line x1="40.4" y1="634.5" x2="41.6" y2="634.5" stroke="#666" stroke-width="0.4"/>
<line x1="120.6" y1="645.0" x2="120.6" y2="646.2" stroke="#666" stroke-width="0.4"/>
<line x1="40.4" y1="636.7" x2="41.6" y2="636.7" stroke="#666" stroke-width="0.4"/>
<line x1="122.80000000000001" y1="645.0" x2="122.80000000000001" y2="646.2" stroke="#666" stroke-width="0.4"/>
<line x1="40.4" y1="638.9" x2="41.6" y2="638.9" stroke="#666" stroke-width="0.4"/>
<line x1="125.0" y1="645.0" x2="125.0" y2="646.2" stroke="#666" stroke-width="0.4"/>
<line x1="40.4" y1="641.1" x2="41.6" y2="641.1" stroke="#666" stroke-width="0.4"/>
<line x1="127.20000000000002" y1="645.0" x2="127.20000000000002" y2="646.2" stroke="#666" stroke-width="0.4"/>
<line x1="40.4" y1="643.3" x2="41.6" y2="643.3" stroke="#666" stroke-width="0.4"/>
<line x1="129.4" y1="645.0" x2="129.4" y2="646.2" stroke="#666" stroke-width="0.4"/>
<text x="44.1" y="561.5" font-size="3.4" text-anchor="start" fill="#444">Q1</text>
<text x="44.1" y="566.0" font-size="3.4" text-anchor="start" fill="#444">7.44</text>
<text x="124.9" y="561.5" font-size="3.4" text-anchor="end" fill="#444">Q2</text>
<text x="124.9" y="566.0" font-size="3.4" text-anchor="end" fill="#444">33.2</text>
<text x="44.1" y="636.0" font-size="3.4" text-anchor="start" fill="#444">Q4</text>
<text x="44.1" y="640.5" font-size="3.4" text-anchor="start" fill="#444">42.3</text>
<text x="124.9" y="636.0" font-size="3.4" text-anchor="end" fill="#444">Q3</text>
<text x="124.9" y="640.5" font-size="3.4" text-anchor="end" fill="#444">17.1</text>
<rect x="79.5" y="556.9" width="50.2" height="87.3" fill="none" stroke="#ff0000" stroke-width="2.9"/>
<text x="104.4" y="670.9" font-size="14" text-anchor="middle" fill="#ff0000" font-weight="bold">50 %</text>
<text x="86.6" y="690.0" font-size="12.6" text-anchor="middle" fill="#000">Gilteritinib</text>
<rect x="41.6" y="694.9" width="89.3" height="89.5" fill="#fff" stroke="#bbb" stroke-width="0.8"/>
<clipPath id="fc694"><rect x="41.6" y="694.9" width="89.3" height="89.5"/></clipPath>
<g clip-path="url(#fc694)">
<path d="M80.3 729.8h0.85v0.85h-0.85zM100.7 733.7h0.85v0.85h-0.85zM83.4 735.6h0.85v0.85h-0.85zM63.2 733.8h0.85v0.85h-0.85zM76.6 734.1h0.85v0.85h-0.85zM94.6 733.9h0.85v0.85h-0.85zM92.8 734.6h0.85v0.85h-0.85zM89.6 734.0h0.85v0.85h-0.85zM76.8 734.1h0.85v0.85h-0.85zM73.5 733.7h0.85v0.85h-0.85zM96.0 733.9h0.85v0.85h-0.85zM91.8 733.5h0.85v0.85h-0.85zM79.9 734.6h0.85v0.85h-0.85zM84.1 732.2h0.85v0.85h-0.85zM88.7 734.4h0.85v0.85h-0.85zM78.4 734.7h0.85v0.85h-0.85zM67.0 735.9h0.85v0.85h-0.85zM73.7 734.3h0.85v0.85h-0.85zM97.2 733.3h0.85v0.85h-0.85zM70.6 732.3h0.85v0.85h-0.85zM95.3 733.3h0.85v0.85h-0.85zM84.3 732.4h0.85v0.85h-0.85zM81.5 736.4h0.85v0.85h-0.85zM59.4 734.0h0.85v0.85h-0.85zM85.6 733.2h0.85v0.85h-0.85zM71.1 734.9h0.85v0.85h-0.85zM80.9 731.5h0.85v0.85h-0.85zM98.6 735.5h0.85v0.85h-0.85zM74.3 735.6h0.85v0.85h-0.85zM65.9 734.2h0.85v0.85h-0.85zM90.8 734.9h0.85v0.85h-0.85zM92.9 732.5h0.85v0.85h-0.85zM74.6 733.9h0.85v0.85h-0.85zM97.3 732.7h0.85v0.85h-0.85zM72.3 733.6h0.85v0.85h-0.85zM98.9 731.2h0.85v0.85h-0.85zM88.3 733.1h0.85v0.85h-0.85zM72.7 733.6h0.85v0.85h-0.85zM74.8 734.1h0.85v0.85h-0.85zM93.7 735.3h0.85v0.85h-0.85zM95.3 731.0h0.85v0.85h-0.85zM107.6 731.9h0.85v0.85h-0.85zM92.7 734.2h0.85v0.85h-0.85zM83.8 730.9h0.85v0.85h-0.85zM91.5 734.9h0.85v0.85h-0.85zM103.1 733.1h0.85v0.85h-0.85zM74.1 734.1h0.85v0.85h-0.85zM85.9 732.9h0.85v0.85h-0.85zM79.8 737.4h0.85v0.85h-0.85zM96.9 733.8h0.85v0.85h-0.85zM97.0 734.9h0.85v0.85h-0.85zM66.4 735.1h0.85v0.85h-0.85zM87.7 736.3h0.85v0.85h-0.85zM66.2 735.9h0.85v0.85h-0.85zM75.9 735.3h0.85v0.85h-0.85zM95.2 734.0h0.85v0.85h-0.85zM76.0 733.0h0.85v0.85h-0.85zM76.7 735.9h0.85v0.85h-0.85zM83.0 733.1h0.85v0.85h-0.85zM86.9 734.0h0.85v0.85h-0.85zM83.5 735.5h0.85v0.85h-0.85zM107.8 733.0h0.85v0.85h-0.85zM88.6 731.6h0.85v0.85h-0.85zM55.3 734.4h0.85v0.85h-0.85zM85.6 734.4h0.85v0.85h-0.85zM74.9 732.5h0.85v0.85h-0.85zM108.7 733.9h0.85v0.85h-0.85zM84.1 734.7h0.85v0.85h-0.85zM89.7 731.0h0.85v0.85h-0.85zM73.2 733.0h0.85v0.85h-0.85zM96.9 733.8h0.85v0.85h-0.85zM72.9 732.2h0.85v0.85h-0.85zM86.8 735.6h0.85v0.85h-0.85zM88.4 734.0h0.85v0.85h-0.85zM84.5 736.0h0.85v0.85h-0.85zM76.5 733.3h0.85v0.85h-0.85zM96.2 733.3h0.85v0.85h-0.85zM85.4 735.4h0.85v0.85h-0.85zM89.9 732.7h0.85v0.85h-0.85zM73.8 734.4h0.85v0.85h-0.85zM97.4 733.6h0.85v0.85h-0.85zM89.6 735.3h0.85v0.85h-0.85zM80.2 735.0h0.85v0.85h-0.85zM76.8 733.6h0.85v0.85h-0.85zM71.0 732.3h0.85v0.85h-0.85zM72.2 734.1h0.85v0.85h-0.85zM82.9 734.7h0.85v0.85h-0.85zM73.5 733.6h0.85v0.85h-0.85zM87.2 735.9h0.85v0.85h-0.85zM76.2 733.7h0.85v0.85h-0.85zM84.2 736.2h0.85v0.85h-0.85zM101.9 731.9h0.85v0.85h-0.85zM93.0 732.2h0.85v0.85h-0.85zM79.6 734.9h0.85v0.85h-0.85zM74.1 735.4h0.85v0.85h-0.85zM79.6 732.1h0.85v0.85h-0.85zM84.5 734.0h0.85v0.85h-0.85zM77.1 732.4h0.85v0.85h-0.85zM94.8 732.9h0.85v0.85h-0.85zM93.4 733.0h0.85v0.85h-0.85zM77.3 733.6h0.85v0.85h-0.85zM64.0 734.4h0.85v0.85h-0.85zM81.0 734.4h0.85v0.85h-0.85zM76.9 732.6h0.85v0.85h-0.85zM64.2 734.2h0.85v0.85h-0.85zM98.3 734.1h0.85v0.85h-0.85zM73.9 732.6h0.85v0.85h-0.85zM68.3 734.4h0.85v0.85h-0.85zM98.4 735.7h0.85v0.85h-0.85zM79.4 733.5h0.85v0.85h-0.85zM79.1 730.9h0.85v0.85h-0.85zM93.2 732.3h0.85v0.85h-0.85zM68.6 734.2h0.85v0.85h-0.85zM93.9 732.2h0.85v0.85h-0.85zM63.7 732.6h0.85v0.85h-0.85zM71.0 731.9h0.85v0.85h-0.85zM93.9 734.7h0.85v0.85h-0.85zM90.5 734.9h0.85v0.85h-0.85zM97.2 734.2h0.85v0.85h-0.85zM72.8 731.5h0.85v0.85h-0.85zM92.3 732.5h0.85v0.85h-0.85zM94.2 733.1h0.85v0.85h-0.85zM96.9 734.7h0.85v0.85h-0.85zM96.6 737.0h0.85v0.85h-0.85zM65.8 733.0h0.85v0.85h-0.85zM77.2 732.0h0.85v0.85h-0.85zM77.6 734.0h0.85v0.85h-0.85zM72.1 734.7h0.85v0.85h-0.85zM71.5 733.9h0.85v0.85h-0.85zM91.1 734.1h0.85v0.85h-0.85zM91.6 733.5h0.85v0.85h-0.85zM93.5 734.5h0.85v0.85h-0.85zM95.2 732.1h0.85v0.85h-0.85zM98.0 734.3h0.85v0.85h-0.85zM77.1 732.7h0.85v0.85h-0.85zM79.0 732.3h0.85v0.85h-0.85zM90.3 735.5h0.85v0.85h-0.85zM89.9 734.5h0.85v0.85h-0.85zM91.5 732.3h0.85v0.85h-0.85zM70.5 733.6h0.85v0.85h-0.85zM75.8 733.8h0.85v0.85h-0.85zM104.2 733.6h0.85v0.85h-0.85zM89.0 731.9h0.85v0.85h-0.85zM72.9 732.4h0.85v0.85h-0.85zM82.7 736.1h0.85v0.85h-0.85zM70.0 733.1h0.85v0.85h-0.85zM100.9 734.9h0.85v0.85h-0.85zM80.5 732.3h0.85v0.85h-0.85zM66.8 732.9h0.85v0.85h-0.85zM92.3 734.2h0.85v0.85h-0.85zM80.3 732.2h0.85v0.85h-0.85zM86.9 735.6h0.85v0.85h-0.85zM73.1 736.3h0.85v0.85h-0.85zM104.1 731.7h0.85v0.85h-0.85zM82.8 735.2h0.85v0.85h-0.85zM91.3 734.4h0.85v0.85h-0.85zM94.1 734.4h0.85v0.85h-0.85zM99.3 733.1h0.85v0.85h-0.85zM79.9 734.5h0.85v0.85h-0.85zM94.6 731.6h0.85v0.85h-0.85zM104.7 735.0h0.85v0.85h-0.85zM79.2 732.7h0.85v0.85h-0.85zM73.6 734.5h0.85v0.85h-0.85zM66.8 733.3h0.85v0.85h-0.85zM90.9 733.0h0.85v0.85h-0.85zM100.2 733.8h0.85v0.85h-0.85zM76.7 732.2h0.85v0.85h-0.85zM91.5 733.0h0.85v0.85h-0.85zM60.7 734.3h0.85v0.85h-0.85zM88.9 735.4h0.85v0.85h-0.85zM95.3 734.3h0.85v0.85h-0.85zM86.1 730.3h0.85v0.85h-0.85zM91.9 731.7h0.85v0.85h-0.85zM98.1 733.0h0.85v0.85h-0.85zM68.6 733.0h0.85v0.85h-0.85zM89.0 732.0h0.85v0.85h-0.85zM81.8 733.0h0.85v0.85h-0.85zM80.4 734.7h0.85v0.85h-0.85zM94.5 731.9h0.85v0.85h-0.85zM77.3 737.7h0.85v0.85h-0.85zM92.7 733.3h0.85v0.85h-0.85zM71.1 735.3h0.85v0.85h-0.85zM72.2 733.3h0.85v0.85h-0.85zM75.3 734.2h0.85v0.85h-0.85zM74.5 733.5h0.85v0.85h-0.85zM87.8 734.3h0.85v0.85h-0.85zM68.5 733.6h0.85v0.85h-0.85zM84.0 735.1h0.85v0.85h-0.85zM84.9 732.3h0.85v0.85h-0.85zM76.6 734.3h0.85v0.85h-0.85zM77.4 733.6h0.85v0.85h-0.85zM92.2 734.9h0.85v0.85h-0.85zM76.0 735.4h0.85v0.85h-0.85zM97.7 734.2h0.85v0.85h-0.85zM71.0 735.9h0.85v0.85h-0.85zM81.6 735.0h0.85v0.85h-0.85zM80.0 735.2h0.85v0.85h-0.85zM82.0 735.6h0.85v0.85h-0.85zM72.6 734.8h0.85v0.85h-0.85zM82.0 735.1h0.85v0.85h-0.85zM71.2 733.0h0.85v0.85h-0.85zM79.1 732.6h0.85v0.85h-0.85zM90.0 735.4h0.85v0.85h-0.85zM74.0 736.1h0.85v0.85h-0.85zM79.7 732.1h0.85v0.85h-0.85zM84.5 736.1h0.85v0.85h-0.85zM80.3 732.5h0.85v0.85h-0.85zM74.3 732.5h0.85v0.85h-0.85zM80.9 733.9h0.85v0.85h-0.85zM70.3 736.1h0.85v0.85h-0.85zM75.6 735.0h0.85v0.85h-0.85zM97.8 734.9h0.85v0.85h-0.85zM90.3 732.8h0.85v0.85h-0.85zM77.1 734.8h0.85v0.85h-0.85zM84.5 734.6h0.85v0.85h-0.85zM94.1 735.1h0.85v0.85h-0.85zM62.1 733.5h0.85v0.85h-0.85zM102.4 733.1h0.85v0.85h-0.85zM100.7 732.9h0.85v0.85h-0.85zM102.7 733.3h0.85v0.85h-0.85zM75.3 732.5h0.85v0.85h-0.85zM75.9 734.2h0.85v0.85h-0.85zM91.5 735.0h0.85v0.85h-0.85zM92.7 732.5h0.85v0.85h-0.85zM78.2 733.2h0.85v0.85h-0.85zM87.6 732.9h0.85v0.85h-0.85zM77.7 732.4h0.85v0.85h-0.85zM73.7 733.8h0.85v0.85h-0.85zM87.1 732.9h0.85v0.85h-0.85zM87.6 734.7h0.85v0.85h-0.85zM86.7 732.8h0.85v0.85h-0.85zM96.9 734.7h0.85v0.85h-0.85zM80.2 733.7h0.85v0.85h-0.85zM63.5 734.2h0.85v0.85h-0.85zM75.7 734.7h0.85v0.85h-0.85zM75.2 734.4h0.85v0.85h-0.85zM102.6 734.4h0.85v0.85h-0.85zM83.4 734.5h0.85v0.85h-0.85zM100.4 732.7h0.85v0.85h-0.85zM75.8 734.9h0.85v0.85h-0.85zM78.9 733.4h0.85v0.85h-0.85zM99.0 734.1h0.85v0.85h-0.85zM90.7 735.1h0.85v0.85h-0.85zM91.3 735.3h0.85v0.85h-0.85zM63.6 731.1h0.85v0.85h-0.85zM78.7 732.4h0.85v0.85h-0.85zM107.2 734.0h0.85v0.85h-0.85zM66.9 733.9h0.85v0.85h-0.85zM101.1 734.3h0.85v0.85h-0.85zM78.4 733.8h0.85v0.85h-0.85zM81.6 734.0h0.85v0.85h-0.85zM82.9 732.9h0.85v0.85h-0.85zM80.0 732.0h0.85v0.85h-0.85zM79.3 730.6h0.85v0.85h-0.85zM80.8 735.6h0.85v0.85h-0.85zM69.4 735.4h0.85v0.85h-0.85zM91.6 731.7h0.85v0.85h-0.85zM104.4 731.8h0.85v0.85h-0.85zM92.4 733.3h0.85v0.85h-0.85zM90.5 731.9h0.85v0.85h-0.85zM93.3 731.7h0.85v0.85h-0.85zM75.9 734.1h0.85v0.85h-0.85zM88.3 731.9h0.85v0.85h-0.85zM66.9 733.0h0.85v0.85h-0.85zM86.0 733.7h0.85v0.85h-0.85zM80.6 733.8h0.85v0.85h-0.85zM86.7 733.2h0.85v0.85h-0.85zM89.3 733.1h0.85v0.85h-0.85zM94.6 735.3h0.85v0.85h-0.85zM80.5 732.5h0.85v0.85h-0.85zM75.2 732.8h0.85v0.85h-0.85zM94.8 733.2h0.85v0.85h-0.85zM74.9 733.3h0.85v0.85h-0.85zM72.9 734.7h0.85v0.85h-0.85zM95.2 735.0h0.85v0.85h-0.85zM98.3 732.7h0.85v0.85h-0.85zM76.5 733.4h0.85v0.85h-0.85zM87.8 734.0h0.85v0.85h-0.85zM66.6 733.0h0.85v0.85h-0.85zM88.4 733.1h0.85v0.85h-0.85zM84.5 731.3h0.85v0.85h-0.85zM66.9 734.0h0.85v0.85h-0.85zM87.8 734.8h0.85v0.85h-0.85zM70.2 733.5h0.85v0.85h-0.85zM77.7 755.5h0.85v0.85h-0.85zM65.9 756.5h0.85v0.85h-0.85zM59.8 765.4h0.85v0.85h-0.85zM69.1 765.2h0.85v0.85h-0.85zM51.0 771.9h0.85v0.85h-0.85zM71.9 772.9h0.85v0.85h-0.85zM74.7 768.2h0.85v0.85h-0.85zM73.7 754.8h0.85v0.85h-0.85zM73.5 762.2h0.85v0.85h-0.85zM76.2 763.3h0.85v0.85h-0.85zM52.1 770.8h0.85v0.85h-0.85zM58.7 763.2h0.85v0.85h-0.85zM72.1 761.5h0.85v0.85h-0.85zM80.5 763.3h0.85v0.85h-0.85zM73.8 775.5h0.85v0.85h-0.85zM65.8 773.1h0.85v0.85h-0.85zM82.2 771.5h0.85v0.85h-0.85zM71.9 757.6h0.85v0.85h-0.85zM74.2 770.0h0.85v0.85h-0.85zM69.0 757.6h0.85v0.85h-0.85zM73.3 769.5h0.85v0.85h-0.85zM77.5 767.9h0.85v0.85h-0.85zM80.1 776.1h0.85v0.85h-0.85zM78.2 773.7h0.85v0.85h-0.85zM71.4 760.5h0.85v0.85h-0.85zM47.1 760.6h0.85v0.85h-0.85zM64.1 761.6h0.85v0.85h-0.85zM75.8 764.3h0.85v0.85h-0.85zM63.8 768.6h0.85v0.85h-0.85zM60.6 754.9h0.85v0.85h-0.85zM81.6 765.3h0.85v0.85h-0.85zM55.0 765.4h0.85v0.85h-0.85zM77.5 771.4h0.85v0.85h-0.85zM72.5 754.9h0.85v0.85h-0.85zM63.7 761.8h0.85v0.85h-0.85zM60.6 768.1h0.85v0.85h-0.85zM56.2 758.7h0.85v0.85h-0.85zM68.4 771.0h0.85v0.85h-0.85zM79.4 754.1h0.85v0.85h-0.85zM74.6 770.3h0.85v0.85h-0.85zM81.9 758.5h0.85v0.85h-0.85zM92.9 763.1h0.85v0.85h-0.85zM69.6 773.6h0.85v0.85h-0.85zM75.3 766.4h0.85v0.85h-0.85zM58.4 767.6h0.85v0.85h-0.85zM74.3 753.2h0.85v0.85h-0.85zM82.7 769.0h0.85v0.85h-0.85zM75.6 758.1h0.85v0.85h-0.85zM65.3 777.4h0.85v0.85h-0.85zM74.7 764.6h0.85v0.85h-0.85zM80.4 760.4h0.85v0.85h-0.85zM72.8 766.7h0.85v0.85h-0.85zM64.0 757.5h0.85v0.85h-0.85zM70.6 773.2h0.85v0.85h-0.85zM73.2 778.7h0.85v0.85h-0.85zM61.8 758.6h0.85v0.85h-0.85zM79.4 758.5h0.85v0.85h-0.85zM59.6 765.1h0.85v0.85h-0.85zM57.0 766.4h0.85v0.85h-0.85zM64.4 765.4h0.85v0.85h-0.85zM78.7 766.1h0.85v0.85h-0.85zM77.8 758.4h0.85v0.85h-0.85zM71.9 773.4h0.85v0.85h-0.85zM61.1 761.6h0.85v0.85h-0.85zM60.9 767.8h0.85v0.85h-0.85zM63.7 753.5h0.85v0.85h-0.85zM56.5 764.8h0.85v0.85h-0.85zM69.2 771.5h0.85v0.85h-0.85zM64.3 771.9h0.85v0.85h-0.85zM62.3 787.8h0.85v0.85h-0.85zM64.3 751.8h0.85v0.85h-0.85zM75.3 773.6h0.85v0.85h-0.85zM76.6 764.3h0.85v0.85h-0.85zM79.3 757.7h0.85v0.85h-0.85zM72.3 759.6h0.85v0.85h-0.85zM64.7 771.8h0.85v0.85h-0.85zM67.4 752.3h0.85v0.85h-0.85zM80.7 760.4h0.85v0.85h-0.85zM72.8 771.5h0.85v0.85h-0.85zM67.1 769.3h0.85v0.85h-0.85zM65.2 760.4h0.85v0.85h-0.85zM69.8 775.8h0.85v0.85h-0.85zM68.8 767.2h0.85v0.85h-0.85zM76.2 756.6h0.85v0.85h-0.85zM74.1 762.1h0.85v0.85h-0.85zM68.6 775.9h0.85v0.85h-0.85zM81.5 779.4h0.85v0.85h-0.85zM64.2 759.2h0.85v0.85h-0.85zM50.9 774.4h0.85v0.85h-0.85zM75.8 772.8h0.85v0.85h-0.85zM87.2 774.0h0.85v0.85h-0.85zM69.4 754.0h0.85v0.85h-0.85zM71.4 769.6h0.85v0.85h-0.85zM81.2 760.4h0.85v0.85h-0.85zM65.2 782.8h0.85v0.85h-0.85zM71.8 768.9h0.85v0.85h-0.85zM59.6 773.9h0.85v0.85h-0.85zM80.4 772.6h0.85v0.85h-0.85zM56.7 762.7h0.85v0.85h-0.85zM79.4 772.0h0.85v0.85h-0.85zM56.9 765.4h0.85v0.85h-0.85zM73.1 778.2h0.85v0.85h-0.85zM70.7 755.6h0.85v0.85h-0.85zM67.6 762.0h0.85v0.85h-0.85zM79.9 768.4h0.85v0.85h-0.85zM78.0 754.1h0.85v0.85h-0.85zM63.8 771.9h0.85v0.85h-0.85zM59.6 753.9h0.85v0.85h-0.85zM64.3 759.6h0.85v0.85h-0.85zM70.6 758.4h0.85v0.85h-0.85zM78.8 767.6h0.85v0.85h-0.85zM63.8 768.9h0.85v0.85h-0.85zM65.4 768.7h0.85v0.85h-0.85zM64.9 775.9h0.85v0.85h-0.85zM75.8 761.2h0.85v0.85h-0.85zM71.8 763.1h0.85v0.85h-0.85zM57.3 764.8h0.85v0.85h-0.85zM79.0 780.3h0.85v0.85h-0.85zM61.2 759.9h0.85v0.85h-0.85zM62.7 763.1h0.85v0.85h-0.85zM78.1 759.8h0.85v0.85h-0.85zM69.9 757.5h0.85v0.85h-0.85zM79.5 765.7h0.85v0.85h-0.85zM65.6 763.5h0.85v0.85h-0.85zM79.5 771.4h0.85v0.85h-0.85zM67.9 756.4h0.85v0.85h-0.85zM69.3 773.4h0.85v0.85h-0.85zM70.8 756.7h0.85v0.85h-0.85zM72.3 764.4h0.85v0.85h-0.85zM63.0 760.2h0.85v0.85h-0.85zM76.6 768.9h0.85v0.85h-0.85zM62.2 754.5h0.85v0.85h-0.85zM77.5 769.5h0.85v0.85h-0.85zM83.4 756.3h0.85v0.85h-0.85zM66.8 769.6h0.85v0.85h-0.85zM72.8 769.5h0.85v0.85h-0.85zM59.3 770.9h0.85v0.85h-0.85zM78.4 762.7h0.85v0.85h-0.85zM77.2 763.9h0.85v0.85h-0.85zM68.2 766.6h0.85v0.85h-0.85zM78.8 774.6h0.85v0.85h-0.85zM60.6 764.6h0.85v0.85h-0.85zM73.2 766.5h0.85v0.85h-0.85zM66.2 760.0h0.85v0.85h-0.85zM76.8 770.0h0.85v0.85h-0.85zM49.1 784.2h0.85v0.85h-0.85zM74.1 767.1h0.85v0.85h-0.85zM78.1 769.6h0.85v0.85h-0.85zM82.2 763.1h0.85v0.85h-0.85zM76.7 771.1h0.85v0.85h-0.85zM56.7 779.8h0.85v0.85h-0.85zM66.9 757.4h0.85v0.85h-0.85zM69.3 772.9h0.85v0.85h-0.85zM62.4 764.8h0.85v0.85h-0.85zM66.6 764.8h0.85v0.85h-0.85zM50.2 775.0h0.85v0.85h-0.85zM62.4 770.5h0.85v0.85h-0.85zM69.9 754.0h0.85v0.85h-0.85zM71.2 769.7h0.85v0.85h-0.85zM62.3 774.4h0.85v0.85h-0.85zM84.8 767.6h0.85v0.85h-0.85zM85.0 774.6h0.85v0.85h-0.85zM79.4 763.1h0.85v0.85h-0.85zM79.2 752.9h0.85v0.85h-0.85zM55.6 770.0h0.85v0.85h-0.85zM82.4 768.4h0.85v0.85h-0.85zM61.8 756.9h0.85v0.85h-0.85zM59.5 764.6h0.85v0.85h-0.85zM51.6 758.8h0.85v0.85h-0.85zM69.3 777.9h0.85v0.85h-0.85zM80.5 763.5h0.85v0.85h-0.85zM62.3 768.4h0.85v0.85h-0.85zM77.0 778.3h0.85v0.85h-0.85zM59.7 776.0h0.85v0.85h-0.85zM54.8 760.5h0.85v0.85h-0.85zM79.0 759.7h0.85v0.85h-0.85zM64.3 767.4h0.85v0.85h-0.85zM63.6 763.7h0.85v0.85h-0.85zM61.4 769.8h0.85v0.85h-0.85zM93.3 763.6h0.85v0.85h-0.85zM57.8 778.7h0.85v0.85h-0.85zM78.4 763.7h0.85v0.85h-0.85zM65.0 764.2h0.85v0.85h-0.85zM71.7 758.6h0.85v0.85h-0.85zM70.9 751.3h0.85v0.85h-0.85zM61.4 758.9h0.85v0.85h-0.85zM78.5 782.4h0.85v0.85h-0.85zM65.4 763.0h0.85v0.85h-0.85zM71.8 775.0h0.85v0.85h-0.85zM67.4 757.5h0.85v0.85h-0.85zM61.8 766.5h0.85v0.85h-0.85zM76.6 766.3h0.85v0.85h-0.85zM76.4 765.7h0.85v0.85h-0.85zM77.3 756.1h0.85v0.85h-0.85zM72.0 758.6h0.85v0.85h-0.85zM55.2 765.9h0.85v0.85h-0.85zM73.6 769.0h0.85v0.85h-0.85zM78.3 766.5h0.85v0.85h-0.85zM51.7 770.6h0.85v0.85h-0.85zM76.5 763.1h0.85v0.85h-0.85zM69.8 758.0h0.85v0.85h-0.85zM77.2 777.5h0.85v0.85h-0.85zM44.3 769.1h0.85v0.85h-0.85zM73.4 769.8h0.85v0.85h-0.85zM70.9 765.4h0.85v0.85h-0.85zM70.1 771.5h0.85v0.85h-0.85zM62.4 753.9h0.85v0.85h-0.85zM83.0 764.0h0.85v0.85h-0.85zM77.8 768.2h0.85v0.85h-0.85zM70.4 769.1h0.85v0.85h-0.85zM70.1 776.5h0.85v0.85h-0.85zM66.1 764.3h0.85v0.85h-0.85zM80.8 761.0h0.85v0.85h-0.85zM50.8 768.8h0.85v0.85h-0.85zM74.7 765.3h0.85v0.85h-0.85zM69.5 770.1h0.85v0.85h-0.85zM62.6 759.6h0.85v0.85h-0.85zM56.8 764.6h0.85v0.85h-0.85zM63.2 764.9h0.85v0.85h-0.85zM60.6 752.1h0.85v0.85h-0.85zM77.8 768.2h0.85v0.85h-0.85zM77.6 774.2h0.85v0.85h-0.85zM56.6 771.1h0.85v0.85h-0.85zM60.4 751.5h0.85v0.85h-0.85zM60.7 761.7h0.85v0.85h-0.85zM82.9 764.0h0.85v0.85h-0.85zM85.1 758.9h0.85v0.85h-0.85zM60.0 752.4h0.85v0.85h-0.85zM59.9 759.2h0.85v0.85h-0.85zM80.5 771.0h0.85v0.85h-0.85zM64.1 764.1h0.85v0.85h-0.85zM68.4 779.1h0.85v0.85h-0.85zM60.4 758.6h0.85v0.85h-0.85zM72.9 759.5h0.85v0.85h-0.85zM62.0 768.0h0.85v0.85h-0.85zM61.5 774.7h0.85v0.85h-0.85zM68.3 761.5h0.85v0.85h-0.85zM81.0 766.4h0.85v0.85h-0.85zM70.7 760.2h0.85v0.85h-0.85zM81.5 765.6h0.85v0.85h-0.85zM64.1 775.8h0.85v0.85h-0.85zM71.9 762.9h0.85v0.85h-0.85zM76.4 762.2h0.85v0.85h-0.85zM60.6 764.5h0.85v0.85h-0.85zM61.5 758.3h0.85v0.85h-0.85zM67.1 759.8h0.85v0.85h-0.85zM70.6 766.8h0.85v0.85h-0.85zM61.0 763.2h0.85v0.85h-0.85zM70.9 773.8h0.85v0.85h-0.85zM84.8 762.7h0.85v0.85h-0.85zM79.5 769.9h0.85v0.85h-0.85zM60.3 765.5h0.85v0.85h-0.85zM75.4 758.1h0.85v0.85h-0.85zM80.2 762.3h0.85v0.85h-0.85zM72.5 760.8h0.85v0.85h-0.85zM81.3 760.4h0.85v0.85h-0.85zM81.9 763.6h0.85v0.85h-0.85zM62.5 770.9h0.85v0.85h-0.85zM60.2 763.8h0.85v0.85h-0.85zM68.2 760.1h0.85v0.85h-0.85zM60.0 759.3h0.85v0.85h-0.85zM61.3 772.6h0.85v0.85h-0.85zM75.5 762.3h0.85v0.85h-0.85zM61.1 764.7h0.85v0.85h-0.85zM67.9 772.2h0.85v0.85h-0.85zM78.4 764.9h0.85v0.85h-0.85zM68.7 759.2h0.85v0.85h-0.85zM76.9 767.0h0.85v0.85h-0.85zM79.5 764.8h0.85v0.85h-0.85zM67.8 766.3h0.85v0.85h-0.85zM69.7 771.8h0.85v0.85h-0.85zM66.9 762.7h0.85v0.85h-0.85zM63.7 766.4h0.85v0.85h-0.85zM59.1 762.0h0.85v0.85h-0.85zM57.2 764.7h0.85v0.85h-0.85zM64.8 759.7h0.85v0.85h-0.85zM70.6 750.6h0.85v0.85h-0.85zM60.9 776.1h0.85v0.85h-0.85zM71.0 775.2h0.85v0.85h-0.85zM83.6 766.3h0.85v0.85h-0.85zM61.8 768.3h0.85v0.85h-0.85zM62.4 766.0h0.85v0.85h-0.85zM71.0 775.8h0.85v0.85h-0.85zM67.4 780.8h0.85v0.85h-0.85zM89.8 759.9h0.85v0.85h-0.85zM73.3 769.3h0.85v0.85h-0.85zM73.5 772.1h0.85v0.85h-0.85zM67.2 775.4h0.85v0.85h-0.85zM73.2 766.4h0.85v0.85h-0.85zM68.1 769.1h0.85v0.85h-0.85zM63.1 768.5h0.85v0.85h-0.85zM66.8 749.1h0.85v0.85h-0.85zM77.4 764.9h0.85v0.85h-0.85zM57.6 757.3h0.85v0.85h-0.85zM77.7 778.0h0.85v0.85h-0.85zM65.5 755.5h0.85v0.85h-0.85zM79.1 769.6h0.85v0.85h-0.85zM81.7 767.4h0.85v0.85h-0.85zM71.4 760.4h0.85v0.85h-0.85zM81.8 766.1h0.85v0.85h-0.85zM80.0 765.8h0.85v0.85h-0.85zM65.1 770.2h0.85v0.85h-0.85zM77.1 750.1h0.85v0.85h-0.85zM66.1 769.3h0.85v0.85h-0.85zM77.5 765.7h0.85v0.85h-0.85zM66.2 747.6h0.85v0.85h-0.85zM55.1 768.4h0.85v0.85h-0.85zM63.2 769.9h0.85v0.85h-0.85zM76.0 749.5h0.85v0.85h-0.85zM70.0 755.8h0.85v0.85h-0.85zM77.4 753.0h0.85v0.85h-0.85zM78.4 763.6h0.85v0.85h-0.85zM62.7 764.9h0.85v0.85h-0.85zM93.3 765.9h0.85v0.85h-0.85zM63.5 780.0h0.85v0.85h-0.85zM76.6 766.5h0.85v0.85h-0.85zM72.0 756.4h0.85v0.85h-0.85zM65.6 759.2h0.85v0.85h-0.85zM81.5 772.6h0.85v0.85h-0.85zM70.2 758.5h0.85v0.85h-0.85zM57.1 761.4h0.85v0.85h-0.85zM61.1 766.2h0.85v0.85h-0.85zM57.4 766.9h0.85v0.85h-0.85zM69.0 760.1h0.85v0.85h-0.85zM70.8 759.7h0.85v0.85h-0.85zM66.2 760.3h0.85v0.85h-0.85zM83.9 756.8h0.85v0.85h-0.85zM70.9 759.6h0.85v0.85h-0.85zM64.8 771.5h0.85v0.85h-0.85zM53.1 761.7h0.85v0.85h-0.85zM84.1 771.3h0.85v0.85h-0.85zM46.1 756.0h0.85v0.85h-0.85zM67.6 755.7h0.85v0.85h-0.85zM69.7 759.1h0.85v0.85h-0.85zM80.5 774.5h0.85v0.85h-0.85zM78.2 758.7h0.85v0.85h-0.85zM71.4 773.4h0.85v0.85h-0.85zM62.5 765.3h0.85v0.85h-0.85zM61.3 766.4h0.85v0.85h-0.85zM80.1 764.8h0.85v0.85h-0.85zM85.8 763.8h0.85v0.85h-0.85zM75.3 775.9h0.85v0.85h-0.85zM62.2 771.9h0.85v0.85h-0.85zM58.2 761.8h0.85v0.85h-0.85zM66.1 775.2h0.85v0.85h-0.85zM60.7 774.2h0.85v0.85h-0.85zM58.8 766.3h0.85v0.85h-0.85zM75.7 765.8h0.85v0.85h-0.85zM85.5 766.3h0.85v0.85h-0.85zM58.9 764.4h0.85v0.85h-0.85zM77.2 753.9h0.85v0.85h-0.85zM52.9 778.5h0.85v0.85h-0.85zM60.3 772.6h0.85v0.85h-0.85zM65.4 771.5h0.85v0.85h-0.85zM82.8 765.1h0.85v0.85h-0.85zM59.6 762.5h0.85v0.85h-0.85zM65.7 776.4h0.85v0.85h-0.85zM74.8 761.4h0.85v0.85h-0.85zM69.5 778.6h0.85v0.85h-0.85zM64.5 760.4h0.85v0.85h-0.85zM66.5 762.7h0.85v0.85h-0.85zM76.6 766.0h0.85v0.85h-0.85zM65.3 764.0h0.85v0.85h-0.85zM68.6 776.5h0.85v0.85h-0.85zM61.7 774.1h0.85v0.85h-0.85zM69.6 759.6h0.85v0.85h-0.85zM83.7 768.4h0.85v0.85h-0.85zM60.2 763.2h0.85v0.85h-0.85zM65.9 758.4h0.85v0.85h-0.85zM70.4 765.4h0.85v0.85h-0.85zM79.8 764.1h0.85v0.85h-0.85zM55.9 773.7h0.85v0.85h-0.85zM77.6 760.6h0.85v0.85h-0.85zM80.1 766.4h0.85v0.85h-0.85zM61.3 770.4h0.85v0.85h-0.85zM71.5 762.9h0.85v0.85h-0.85zM73.2 761.3h0.85v0.85h-0.85zM52.1 763.1h0.85v0.85h-0.85zM62.1 772.6h0.85v0.85h-0.85zM62.8 773.6h0.85v0.85h-0.85zM59.0 760.9h0.85v0.85h-0.85zM79.9 761.4h0.85v0.85h-0.85zM73.7 771.5h0.85v0.85h-0.85zM72.6 766.9h0.85v0.85h-0.85zM60.4 776.6h0.85v0.85h-0.85zM91.5 737.8h0.85v0.85h-0.85zM71.7 743.0h0.85v0.85h-0.85zM100.2 743.5h0.85v0.85h-0.85zM104.9 763.2h0.85v0.85h-0.85zM95.0 752.6h0.85v0.85h-0.85zM89.1 744.2h0.85v0.85h-0.85zM91.8 732.6h0.85v0.85h-0.85zM99.4 773.5h0.85v0.85h-0.85zM101.8 750.7h0.85v0.85h-0.85zM104.1 748.5h0.85v0.85h-0.85zM78.7 754.7h0.85v0.85h-0.85zM101.6 743.9h0.85v0.85h-0.85zM97.4 756.7h0.85v0.85h-0.85zM89.7 739.9h0.85v0.85h-0.85zM95.5 762.4h0.85v0.85h-0.85zM96.6 761.4h0.85v0.85h-0.85zM100.8 762.2h0.85v0.85h-0.85zM95.4 778.3h0.85v0.85h-0.85zM99.3 761.5h0.85v0.85h-0.85zM88.7 744.6h0.85v0.85h-0.85zM85.4 740.0h0.85v0.85h-0.85zM88.3 745.8h0.85v0.85h-0.85zM78.4 754.2h0.85v0.85h-0.85zM87.7 744.8h0.85v0.85h-0.85zM84.3 772.2h0.85v0.85h-0.85zM99.1 755.4h0.85v0.85h-0.85zM84.2 749.8h0.85v0.85h-0.85zM94.9 751.0h0.85v0.85h-0.85zM95.8 739.8h0.85v0.85h-0.85zM89.6 763.6h0.85v0.85h-0.85zM94.3 752.5h0.85v0.85h-0.85zM97.2 733.1h0.85v0.85h-0.85zM93.6 760.8h0.85v0.85h-0.85zM97.0 755.8h0.85v0.85h-0.85zM80.0 748.3h0.85v0.85h-0.85zM78.0 750.0h0.85v0.85h-0.85zM100.7 750.7h0.85v0.85h-0.85zM95.2 752.6h0.85v0.85h-0.85zM89.9 745.3h0.85v0.85h-0.85zM93.5 748.5h0.85v0.85h-0.85zM113.4 764.4h0.85v0.85h-0.85zM84.2 759.4h0.85v0.85h-0.85zM88.7 747.5h0.85v0.85h-0.85zM88.2 760.8h0.85v0.85h-0.85zM90.7 730.0h0.85v0.85h-0.85zM90.1 743.8h0.85v0.85h-0.85zM76.5 757.3h0.85v0.85h-0.85zM94.6 760.8h0.85v0.85h-0.85zM74.5 724.8h0.85v0.85h-0.85zM102.2 753.8h0.85v0.85h-0.85zM83.3 754.4h0.85v0.85h-0.85zM93.3 746.4h0.85v0.85h-0.85zM86.6 744.8h0.85v0.85h-0.85zM92.0 731.9h0.85v0.85h-0.85zM88.1 754.4h0.85v0.85h-0.85zM92.6 732.3h0.85v0.85h-0.85zM80.9 743.2h0.85v0.85h-0.85zM96.6 748.1h0.85v0.85h-0.85zM86.9 730.7h0.85v0.85h-0.85zM90.1 776.7h0.85v0.85h-0.85zM84.8 778.5h0.85v0.85h-0.85zM75.3 735.0h0.85v0.85h-0.85zM100.7 737.0h0.85v0.85h-0.85zM86.3 760.6h0.85v0.85h-0.85zM80.8 739.6h0.85v0.85h-0.85zM78.6 763.8h0.85v0.85h-0.85zM93.4 765.1h0.85v0.85h-0.85zM94.2 756.7h0.85v0.85h-0.85zM91.0 754.5h0.85v0.85h-0.85zM82.8 743.8h0.85v0.85h-0.85zM81.7 764.0h0.85v0.85h-0.85zM81.4 745.7h0.85v0.85h-0.85zM97.0 756.4h0.85v0.85h-0.85zM95.7 751.8h0.85v0.85h-0.85zM93.8 745.7h0.85v0.85h-0.85zM86.0 744.3h0.85v0.85h-0.85zM85.0 729.4h0.85v0.85h-0.85zM100.3 723.6h0.85v0.85h-0.85zM98.5 748.3h0.85v0.85h-0.85zM103.4 749.4h0.85v0.85h-0.85zM90.5 761.4h0.85v0.85h-0.85zM78.2 747.5h0.85v0.85h-0.85zM103.6 765.6h0.85v0.85h-0.85zM87.1 736.8h0.85v0.85h-0.85zM85.9 757.4h0.85v0.85h-0.85zM82.4 761.5h0.85v0.85h-0.85zM81.2 757.6h0.85v0.85h-0.85zM93.7 747.3h0.85v0.85h-0.85zM108.2 754.3h0.85v0.85h-0.85zM96.1 771.5h0.85v0.85h-0.85zM87.5 755.7h0.85v0.85h-0.85zM99.0 751.9h0.85v0.85h-0.85zM89.7 748.5h0.85v0.85h-0.85zM97.3 751.6h0.85v0.85h-0.85zM100.1 737.3h0.85v0.85h-0.85zM91.3 763.1h0.85v0.85h-0.85zM82.1 760.3h0.85v0.85h-0.85zM90.2 761.9h0.85v0.85h-0.85zM86.5 750.7h0.85v0.85h-0.85zM81.1 759.5h0.85v0.85h-0.85zM89.2 750.8h0.85v0.85h-0.85zM86.3 763.6h0.85v0.85h-0.85zM92.4 762.7h0.85v0.85h-0.85zM85.4 746.7h0.85v0.85h-0.85zM97.4 773.2h0.85v0.85h-0.85zM105.6 761.3h0.85v0.85h-0.85zM99.0 759.5h0.85v0.85h-0.85zM84.7 747.5h0.85v0.85h-0.85zM81.4 733.2h0.85v0.85h-0.85zM90.6 754.7h0.85v0.85h-0.85zM96.1 774.3h0.85v0.85h-0.85zM82.1 739.2h0.85v0.85h-0.85zM86.8 757.7h0.85v0.85h-0.85zM88.3 736.4h0.85v0.85h-0.85zM95.1 747.2h0.85v0.85h-0.85zM85.7 766.2h0.85v0.85h-0.85zM98.1 743.5h0.85v0.85h-0.85zM92.4 745.3h0.85v0.85h-0.85zM87.6 742.7h0.85v0.85h-0.85zM89.6 741.4h0.85v0.85h-0.85zM93.7 759.7h0.85v0.85h-0.85zM89.8 732.2h0.85v0.85h-0.85zM97.8 744.4h0.85v0.85h-0.85zM103.3 759.6h0.85v0.85h-0.85zM91.2 770.0h0.85v0.85h-0.85zM84.0 751.8h0.85v0.85h-0.85zM96.5 752.6h0.85v0.85h-0.85zM91.5 737.6h0.85v0.85h-0.85zM100.9 736.2h0.85v0.85h-0.85zM72.1 743.7h0.85v0.85h-0.85zM98.7 751.1h0.85v0.85h-0.85zM89.3 750.1h0.85v0.85h-0.85zM94.3 745.9h0.85v0.85h-0.85zM86.7 746.3h0.85v0.85h-0.85zM85.8 760.0h0.85v0.85h-0.85zM90.5 758.0h0.85v0.85h-0.85zM86.7 736.3h0.85v0.85h-0.85zM108.1 766.6h0.85v0.85h-0.85zM95.5 756.2h0.85v0.85h-0.85zM90.3 762.1h0.85v0.85h-0.85zM76.5 752.5h0.85v0.85h-0.85zM99.0 760.2h0.85v0.85h-0.85zM87.8 744.4h0.85v0.85h-0.85zM86.9 761.2h0.85v0.85h-0.85zM100.8 737.4h0.85v0.85h-0.85zM89.0 751.5h0.85v0.85h-0.85zM83.5 768.1h0.85v0.85h-0.85zM85.2 755.7h0.85v0.85h-0.85zM90.3 748.3h0.85v0.85h-0.85zM85.2 736.3h0.85v0.85h-0.85zM97.1 759.0h0.85v0.85h-0.85zM95.0 743.5h0.85v0.85h-0.85zM85.3 748.8h0.85v0.85h-0.85zM85.0 747.0h0.85v0.85h-0.85zM82.7 773.5h0.85v0.85h-0.85zM82.6 710.0h0.85v0.85h-0.85zM87.6 762.5h0.85v0.85h-0.85zM82.3 768.9h0.85v0.85h-0.85zM84.5 764.3h0.85v0.85h-0.85zM95.5 764.3h0.85v0.85h-0.85zM89.7 777.3h0.85v0.85h-0.85zM80.0 773.0h0.85v0.85h-0.85zM85.8 746.4h0.85v0.85h-0.85zM76.2 742.2h0.85v0.85h-0.85zM87.1 729.9h0.85v0.85h-0.85zM82.7 744.1h0.85v0.85h-0.85zM100.0 768.4h0.85v0.85h-0.85zM85.2 737.5h0.85v0.85h-0.85zM87.7 770.1h0.85v0.85h-0.85zM85.5 749.1h0.85v0.85h-0.85zM103.6 749.8h0.85v0.85h-0.85zM85.8 730.2h0.85v0.85h-0.85zM89.3 739.7h0.85v0.85h-0.85zM106.2 743.7h0.85v0.85h-0.85zM88.1 739.6h0.85v0.85h-0.85zM89.5 750.9h0.85v0.85h-0.85zM101.7 736.4h0.85v0.85h-0.85zM85.1 743.4h0.85v0.85h-0.85zM92.1 748.6h0.85v0.85h-0.85zM87.3 756.2h0.85v0.85h-0.85zM86.5 743.9h0.85v0.85h-0.85zM79.9 734.9h0.85v0.85h-0.85zM88.7 754.1h0.85v0.85h-0.85zM104.9 752.8h0.85v0.85h-0.85zM84.2 753.5h0.85v0.85h-0.85zM94.8 751.9h0.85v0.85h-0.85zM106.5 751.0h0.85v0.85h-0.85zM97.5 754.0h0.85v0.85h-0.85zM82.6 753.5h0.85v0.85h-0.85zM93.3 767.9h0.85v0.85h-0.85zM78.6 724.3h0.85v0.85h-0.85zM96.5 756.5h0.85v0.85h-0.85zM96.2 756.9h0.85v0.85h-0.85zM92.0 753.8h0.85v0.85h-0.85zM93.6 741.9h0.85v0.85h-0.85zM91.2 728.9h0.85v0.85h-0.85zM92.1 748.3h0.85v0.85h-0.85zM79.9 738.8h0.85v0.85h-0.85zM85.2 738.8h0.85v0.85h-0.85zM80.0 761.0h0.85v0.85h-0.85zM85.2 748.6h0.85v0.85h-0.85zM83.7 751.3h0.85v0.85h-0.85zM95.6 767.5h0.85v0.85h-0.85zM96.8 735.8h0.85v0.85h-0.85zM98.7 751.7h0.85v0.85h-0.85zM92.0 744.6h0.85v0.85h-0.85zM81.0 750.3h0.85v0.85h-0.85zM85.5 748.6h0.85v0.85h-0.85zM102.5 752.9h0.85v0.85h-0.85zM96.4 765.0h0.85v0.85h-0.85zM80.5 748.0h0.85v0.85h-0.85zM106.0 771.8h0.85v0.85h-0.85zM91.4 726.5h0.85v0.85h-0.85zM96.1 768.5h0.85v0.85h-0.85zM83.8 763.8h0.85v0.85h-0.85zM89.3 739.2h0.85v0.85h-0.85zM98.7 746.7h0.85v0.85h-0.85zM80.7 754.8h0.85v0.85h-0.85zM100.2 771.7h0.85v0.85h-0.85zM84.4 772.7h0.85v0.85h-0.85zM93.8 755.8h0.85v0.85h-0.85zM87.2 746.1h0.85v0.85h-0.85zM87.3 753.9h0.85v0.85h-0.85zM89.8 731.5h0.85v0.85h-0.85zM90.1 745.0h0.85v0.85h-0.85zM100.5 755.5h0.85v0.85h-0.85zM101.3 760.2h0.85v0.85h-0.85zM76.1 742.8h0.85v0.85h-0.85zM95.8 735.0h0.85v0.85h-0.85zM95.5 738.3h0.85v0.85h-0.85zM91.0 755.0h0.85v0.85h-0.85zM88.6 733.9h0.85v0.85h-0.85zM86.0 740.3h0.85v0.85h-0.85zM76.5 758.4h0.85v0.85h-0.85zM88.9 755.5h0.85v0.85h-0.85zM102.9 744.8h0.85v0.85h-0.85zM107.8 729.7h0.85v0.85h-0.85zM87.8 753.6h0.85v0.85h-0.85zM83.5 751.5h0.85v0.85h-0.85zM82.3 764.6h0.85v0.85h-0.85zM91.6 782.7h0.85v0.85h-0.85zM92.9 760.4h0.85v0.85h-0.85zM94.1 743.2h0.85v0.85h-0.85zM90.7 741.4h0.85v0.85h-0.85zM85.0 758.2h0.85v0.85h-0.85zM91.9 773.2h0.85v0.85h-0.85zM106.4 741.0h0.85v0.85h-0.85zM92.5 753.2h0.85v0.85h-0.85zM80.9 758.1h0.85v0.85h-0.85zM74.6 742.0h0.85v0.85h-0.85zM102.2 749.5h0.85v0.85h-0.85zM91.1 763.0h0.85v0.85h-0.85zM98.0 755.7h0.85v0.85h-0.85zM91.6 740.4h0.85v0.85h-0.85zM95.1 764.6h0.85v0.85h-0.85zM99.6 740.4h0.85v0.85h-0.85zM97.3 759.0h0.85v0.85h-0.85zM93.3 772.6h0.85v0.85h-0.85zM85.0 757.3h0.85v0.85h-0.85zM95.8 743.9h0.85v0.85h-0.85zM73.0 761.6h0.85v0.85h-0.85zM88.6 764.9h0.85v0.85h-0.85zM87.8 742.2h0.85v0.85h-0.85zM86.6 741.8h0.85v0.85h-0.85zM96.0 737.5h0.85v0.85h-0.85zM90.3 735.4h0.85v0.85h-0.85zM89.3 739.6h0.85v0.85h-0.85zM95.6 760.0h0.85v0.85h-0.85zM91.1 752.7h0.85v0.85h-0.85zM92.6 736.4h0.85v0.85h-0.85zM80.8 753.2h0.85v0.85h-0.85zM94.9 753.4h0.85v0.85h-0.85zM91.2 747.5h0.85v0.85h-0.85zM97.3 740.4h0.85v0.85h-0.85zM105.2 746.0h0.85v0.85h-0.85zM86.2 756.9h0.85v0.85h-0.85zM80.6 759.2h0.85v0.85h-0.85zM80.7 755.5h0.85v0.85h-0.85zM103.2 749.8h0.85v0.85h-0.85zM80.1 749.2h0.85v0.85h-0.85zM82.4 751.5h0.85v0.85h-0.85zM77.2 764.4h0.85v0.85h-0.85zM100.6 749.6h0.85v0.85h-0.85zM88.6 748.9h0.85v0.85h-0.85zM76.8 739.9h0.85v0.85h-0.85zM92.2 771.6h0.85v0.85h-0.85zM91.3 769.9h0.85v0.85h-0.85zM89.7 766.7h0.85v0.85h-0.85zM91.9 747.9h0.85v0.85h-0.85zM96.2 738.6h0.85v0.85h-0.85zM91.8 761.2h0.85v0.85h-0.85zM80.8 744.3h0.85v0.85h-0.85zM92.8 755.0h0.85v0.85h-0.85zM92.8 767.8h0.85v0.85h-0.85zM81.9 762.5h0.85v0.85h-0.85zM90.6 739.5h0.85v0.85h-0.85zM88.3 747.3h0.85v0.85h-0.85zM83.8 739.9h0.85v0.85h-0.85zM92.5 768.6h0.85v0.85h-0.85zM103.6 775.4h0.85v0.85h-0.85zM76.5 742.9h0.85v0.85h-0.85zM89.2 743.6h0.85v0.85h-0.85zM90.5 734.4h0.85v0.85h-0.85zM83.8 763.7h0.85v0.85h-0.85zM92.3 732.8h0.85v0.85h-0.85zM95.2 781.4h0.85v0.85h-0.85zM97.9 744.0h0.85v0.85h-0.85zM111.5 734.0h0.85v0.85h-0.85zM89.0 757.4h0.85v0.85h-0.85zM91.9 764.8h0.85v0.85h-0.85zM94.8 757.9h0.85v0.85h-0.85zM91.4 748.6h0.85v0.85h-0.85zM86.1 743.0h0.85v0.85h-0.85zM90.3 741.9h0.85v0.85h-0.85zM86.8 752.0h0.85v0.85h-0.85zM105.5 753.3h0.85v0.85h-0.85zM87.7 758.4h0.85v0.85h-0.85zM97.8 746.3h0.85v0.85h-0.85zM87.9 749.2h0.85v0.85h-0.85zM79.5 763.8h0.85v0.85h-0.85zM97.4 731.1h0.85v0.85h-0.85zM96.0 746.5h0.85v0.85h-0.85zM95.1 753.0h0.85v0.85h-0.85zM86.5 738.7h0.85v0.85h-0.85zM84.1 764.8h0.85v0.85h-0.85zM93.4 767.0h0.85v0.85h-0.85zM88.3 754.2h0.85v0.85h-0.85zM92.3 743.3h0.85v0.85h-0.85zM95.3 731.6h0.85v0.85h-0.85zM84.5 756.0h0.85v0.85h-0.85zM92.7 757.2h0.85v0.85h-0.85zM89.4 740.0h0.85v0.85h-0.85zM85.4 746.5h0.85v0.85h-0.85zM91.2 758.0h0.85v0.85h-0.85zM92.2 738.2h0.85v0.85h-0.85zM99.8 770.9h0.85v0.85h-0.85zM94.5 758.0h0.85v0.85h-0.85zM96.5 763.7h0.85v0.85h-0.85zM91.9 747.9h0.85v0.85h-0.85zM101.3 742.4h0.85v0.85h-0.85zM95.2 739.9h0.85v0.85h-0.85zM88.7 753.0h0.85v0.85h-0.85zM90.5 775.1h0.85v0.85h-0.85zM88.3 776.1h0.85v0.85h-0.85zM99.5 727.5h0.85v0.85h-0.85zM96.3 760.6h0.85v0.85h-0.85zM94.6 741.9h0.85v0.85h-0.85zM91.6 753.3h0.85v0.85h-0.85zM82.9 747.7h0.85v0.85h-0.85zM92.9 759.9h0.85v0.85h-0.85zM88.7 745.4h0.85v0.85h-0.85zM94.8 727.2h0.85v0.85h-0.85zM88.4 753.9h0.85v0.85h-0.85zM86.3 746.6h0.85v0.85h-0.85zM100.3 762.5h0.85v0.85h-0.85zM86.4 747.4h0.85v0.85h-0.85zM91.8 770.1h0.85v0.85h-0.85zM97.2 745.3h0.85v0.85h-0.85zM87.4 746.6h0.85v0.85h-0.85zM82.6 754.3h0.85v0.85h-0.85zM88.4 766.3h0.85v0.85h-0.85zM89.6 750.0h0.85v0.85h-0.85zM96.9 759.3h0.85v0.85h-0.85zM96.9 763.0h0.85v0.85h-0.85zM83.4 741.6h0.85v0.85h-0.85zM98.8 740.1h0.85v0.85h-0.85zM92.1 745.0h0.85v0.85h-0.85zM102.9 731.1h0.85v0.85h-0.85zM80.6 738.7h0.85v0.85h-0.85zM84.5 746.9h0.85v0.85h-0.85zM95.9 762.5h0.85v0.85h-0.85zM88.8 730.1h0.85v0.85h-0.85zM98.2 741.9h0.85v0.85h-0.85zM98.0 747.0h0.85v0.85h-0.85zM98.9 752.4h0.85v0.85h-0.85zM79.9 745.7h0.85v0.85h-0.85zM91.8 753.6h0.85v0.85h-0.85zM90.8 743.2h0.85v0.85h-0.85zM97.0 738.5h0.85v0.85h-0.85zM97.2 761.9h0.85v0.85h-0.85zM92.3 742.4h0.85v0.85h-0.85zM93.9 749.8h0.85v0.85h-0.85zM97.2 763.9h0.85v0.85h-0.85zM87.4 736.3h0.85v0.85h-0.85zM95.8 747.2h0.85v0.85h-0.85zM99.9 755.1h0.85v0.85h-0.85zM87.4 760.6h0.85v0.85h-0.85zM80.1 766.0h0.85v0.85h-0.85zM89.2 768.9h0.85v0.85h-0.85zM86.4 746.9h0.85v0.85h-0.85zM96.2 746.1h0.85v0.85h-0.85zM90.2 758.4h0.85v0.85h-0.85zM88.3 733.3h0.85v0.85h-0.85zM89.3 755.4h0.85v0.85h-0.85zM86.4 744.8h0.85v0.85h-0.85zM81.9 745.4h0.85v0.85h-0.85zM93.7 750.9h0.85v0.85h-0.85zM97.5 729.0h0.85v0.85h-0.85zM95.8 755.4h0.85v0.85h-0.85zM79.8 761.0h0.85v0.85h-0.85zM70.7 764.9h0.85v0.85h-0.85zM103.5 757.9h0.85v0.85h-0.85zM96.9 753.8h0.85v0.85h-0.85zM100.5 749.2h0.85v0.85h-0.85zM91.2 748.0h0.85v0.85h-0.85zM106.5 747.3h0.85v0.85h-0.85zM78.5 761.1h0.85v0.85h-0.85zM88.8 748.8h0.85v0.85h-0.85zM65.6 757.4h0.85v0.85h-0.85zM57.6 744.9h0.85v0.85h-0.85zM69.6 753.6h0.85v0.85h-0.85zM86.4 755.1h0.85v0.85h-0.85zM88.2 747.6h0.85v0.85h-0.85zM98.8 744.3h0.85v0.85h-0.85zM72.4 748.7h0.85v0.85h-0.85zM87.6 750.9h0.85v0.85h-0.85zM95.9 737.5h0.85v0.85h-0.85zM91.1 749.8h0.85v0.85h-0.85zM93.5 748.4h0.85v0.85h-0.85zM63.9 760.6h0.85v0.85h-0.85zM89.3 742.7h0.85v0.85h-0.85zM80.3 753.7h0.85v0.85h-0.85zM85.4 755.2h0.85v0.85h-0.85zM87.2 758.2h0.85v0.85h-0.85zM78.3 754.7h0.85v0.85h-0.85zM89.8 746.9h0.85v0.85h-0.85zM83.2 750.9h0.85v0.85h-0.85zM78.8 750.4h0.85v0.85h-0.85zM79.0 750.4h0.85v0.85h-0.85zM65.2 752.5h0.85v0.85h-0.85zM73.5 749.9h0.85v0.85h-0.85zM98.6 737.2h0.85v0.85h-0.85zM92.5 738.1h0.85v0.85h-0.85zM92.9 749.9h0.85v0.85h-0.85zM69.7 749.2h0.85v0.85h-0.85zM83.3 747.4h0.85v0.85h-0.85zM83.5 757.4h0.85v0.85h-0.85zM46.2 745.8h0.85v0.85h-0.85zM81.1 751.4h0.85v0.85h-0.85zM62.9 758.9h0.85v0.85h-0.85zM93.6 755.0h0.85v0.85h-0.85zM63.0 744.2h0.85v0.85h-0.85zM73.9 758.2h0.85v0.85h-0.85zM112.3 746.2h0.85v0.85h-0.85zM71.6 748.7h0.85v0.85h-0.85zM70.2 743.0h0.85v0.85h-0.85zM74.0 742.8h0.85v0.85h-0.85zM67.3 757.2h0.85v0.85h-0.85zM76.4 754.4h0.85v0.85h-0.85zM93.9 755.4h0.85v0.85h-0.85zM86.3 755.2h0.85v0.85h-0.85zM78.2 756.4h0.85v0.85h-0.85zM53.4 759.0h0.85v0.85h-0.85zM66.7 749.7h0.85v0.85h-0.85zM69.3 755.3h0.85v0.85h-0.85zM87.3 744.2h0.85v0.85h-0.85zM70.5 750.5h0.85v0.85h-0.85zM84.9 754.7h0.85v0.85h-0.85zM89.9 753.5h0.85v0.85h-0.85zM93.6 752.5h0.85v0.85h-0.85zM76.3 749.6h0.85v0.85h-0.85zM82.1 744.3h0.85v0.85h-0.85zM72.5 746.4h0.85v0.85h-0.85zM86.6 742.2h0.85v0.85h-0.85zM92.6 756.1h0.85v0.85h-0.85zM79.8 760.8h0.85v0.85h-0.85zM75.7 754.0h0.85v0.85h-0.85zM115.9 754.6h0.85v0.85h-0.85zM88.3 754.0h0.85v0.85h-0.85zM85.1 750.1h0.85v0.85h-0.85zM70.8 754.3h0.85v0.85h-0.85zM72.7 741.4h0.85v0.85h-0.85zM92.0 750.1h0.85v0.85h-0.85zM88.8 753.0h0.85v0.85h-0.85zM91.1 751.0h0.85v0.85h-0.85zM63.1 742.2h0.85v0.85h-0.85zM89.3 753.7h0.85v0.85h-0.85zM93.9 745.8h0.85v0.85h-0.85zM77.9 752.3h0.85v0.85h-0.85zM89.5 752.4h0.85v0.85h-0.85zM78.5 749.5h0.85v0.85h-0.85zM59.5 750.7h0.85v0.85h-0.85zM91.5 751.0h0.85v0.85h-0.85zM67.5 755.2h0.85v0.85h-0.85zM80.0 741.9h0.85v0.85h-0.85zM71.6 753.1h0.85v0.85h-0.85zM72.3 746.2h0.85v0.85h-0.85zM94.9 747.7h0.85v0.85h-0.85zM66.3 746.4h0.85v0.85h-0.85zM67.7 751.7h0.85v0.85h-0.85zM73.2 743.9h0.85v0.85h-0.85zM91.8 750.9h0.85v0.85h-0.85zM49.1 751.5h0.85v0.85h-0.85zM87.6 743.9h0.85v0.85h-0.85zM79.1 754.4h0.85v0.85h-0.85zM70.7 754.1h0.85v0.85h-0.85zM73.2 752.8h0.85v0.85h-0.85zM66.0 751.9h0.85v0.85h-0.85zM95.7 756.2h0.85v0.85h-0.85zM79.6 747.1h0.85v0.85h-0.85zM81.6 752.6h0.85v0.85h-0.85zM63.9 752.5h0.85v0.85h-0.85zM68.0 755.1h0.85v0.85h-0.85zM78.7 749.8h0.85v0.85h-0.85zM95.1 753.3h0.85v0.85h-0.85zM98.3 746.6h0.85v0.85h-0.85zM72.8 752.5h0.85v0.85h-0.85zM93.3 757.3h0.85v0.85h-0.85zM82.7 744.9h0.85v0.85h-0.85zM89.9 753.4h0.85v0.85h-0.85zM76.1 741.0h0.85v0.85h-0.85zM61.3 758.2h0.85v0.85h-0.85zM79.6 751.7h0.85v0.85h-0.85zM88.7 763.0h0.85v0.85h-0.85zM80.2 748.4h0.85v0.85h-0.85zM78.9 756.8h0.85v0.85h-0.85zM78.9 751.1h0.85v0.85h-0.85zM94.6 747.4h0.85v0.85h-0.85zM81.3 752.4h0.85v0.85h-0.85zM56.5 744.9h0.85v0.85h-0.85zM77.0 739.3h0.85v0.85h-0.85zM94.0 744.6h0.85v0.85h-0.85zM91.3 752.7h0.85v0.85h-0.85zM70.8 747.8h0.85v0.85h-0.85zM82.5 753.1h0.85v0.85h-0.85zM93.4 744.2h0.85v0.85h-0.85zM77.5 757.3h0.85v0.85h-0.85zM86.3 748.5h0.85v0.85h-0.85zM75.6 747.7h0.85v0.85h-0.85zM99.4 744.8h0.85v0.85h-0.85zM92.8 749.0h0.85v0.85h-0.85zM71.0 750.6h0.85v0.85h-0.85zM63.9 762.9h0.85v0.85h-0.85zM119.4 747.3h0.85v0.85h-0.85zM93.3 747.1h0.85v0.85h-0.85zM67.6 739.8h0.85v0.85h-0.85zM57.2 756.6h0.85v0.85h-0.85zM84.5 746.2h0.85v0.85h-0.85zM69.9 758.0h0.85v0.85h-0.85zM86.3 754.9h0.85v0.85h-0.85zM83.6 753.6h0.85v0.85h-0.85zM116.5 739.6h0.85v0.85h-0.85zM87.7 744.5h0.85v0.85h-0.85zM81.1 741.8h0.85v0.85h-0.85zM68.0 753.5h0.85v0.85h-0.85zM87.8 754.1h0.85v0.85h-0.85zM75.3 755.6h0.85v0.85h-0.85zM76.8 747.1h0.85v0.85h-0.85zM83.5 763.1h0.85v0.85h-0.85zM87.2 737.3h0.85v0.85h-0.85zM83.0 747.0h0.85v0.85h-0.85zM58.9 751.8h0.85v0.85h-0.85zM84.6 746.8h0.85v0.85h-0.85zM65.7 751.8h0.85v0.85h-0.85zM90.5 751.2h0.85v0.85h-0.85zM80.7 742.0h0.85v0.85h-0.85zM66.8 753.4h0.85v0.85h-0.85zM70.7 749.9h0.85v0.85h-0.85zM98.6 755.9h0.85v0.85h-0.85zM83.4 744.6h0.85v0.85h-0.85zM93.4 751.7h0.85v0.85h-0.85zM86.4 751.9h0.85v0.85h-0.85zM93.8 753.8h0.85v0.85h-0.85zM99.8 753.4h0.85v0.85h-0.85zM93.9 752.0h0.85v0.85h-0.85zM100.3 754.8h0.85v0.85h-0.85zM102.6 754.9h0.85v0.85h-0.85zM87.5 754.9h0.85v0.85h-0.85zM89.5 756.1h0.85v0.85h-0.85zM87.3 753.1h0.85v0.85h-0.85zM91.3 753.1h0.85v0.85h-0.85zM95.1 752.4h0.85v0.85h-0.85zM92.7 752.2h0.85v0.85h-0.85zM103.9 753.7h0.85v0.85h-0.85zM81.2 754.3h0.85v0.85h-0.85zM85.6 753.5h0.85v0.85h-0.85zM86.6 755.9h0.85v0.85h-0.85zM100.2 751.1h0.85v0.85h-0.85zM87.9 752.6h0.85v0.85h-0.85zM81.7 755.0h0.85v0.85h-0.85zM80.2 751.6h0.85v0.85h-0.85zM91.5 752.7h0.85v0.85h-0.85zM91.2 754.3h0.85v0.85h-0.85zM93.2 752.7h0.85v0.85h-0.85zM89.5 754.1h0.85v0.85h-0.85zM74.5 754.0h0.85v0.85h-0.85zM89.4 755.9h0.85v0.85h-0.85zM92.3 752.1h0.85v0.85h-0.85zM86.6 753.4h0.85v0.85h-0.85zM86.8 752.5h0.85v0.85h-0.85zM101.0 753.6h0.85v0.85h-0.85zM81.0 756.0h0.85v0.85h-0.85zM86.4 753.1h0.85v0.85h-0.85zM88.9 753.3h0.85v0.85h-0.85zM97.8 756.2h0.85v0.85h-0.85zM77.6 754.4h0.85v0.85h-0.85zM93.6 755.2h0.85v0.85h-0.85zM92.8 756.1h0.85v0.85h-0.85zM85.0 753.2h0.85v0.85h-0.85zM87.5 754.4h0.85v0.85h-0.85zM94.6 755.7h0.85v0.85h-0.85zM90.2 754.4h0.85v0.85h-0.85zM85.0 754.8h0.85v0.85h-0.85zM99.5 753.8h0.85v0.85h-0.85zM74.0 755.7h0.85v0.85h-0.85zM90.0 752.6h0.85v0.85h-0.85zM87.0 754.4h0.85v0.85h-0.85zM96.8 755.0h0.85v0.85h-0.85zM89.2 753.5h0.85v0.85h-0.85zM86.7 754.0h0.85v0.85h-0.85zM85.7 753.2h0.85v0.85h-0.85zM84.5 752.1h0.85v0.85h-0.85zM85.1 754.6h0.85v0.85h-0.85zM96.5 754.3h0.85v0.85h-0.85zM81.1 752.4h0.85v0.85h-0.85zM105.7 756.4h0.85v0.85h-0.85zM98.2 753.3h0.85v0.85h-0.85zM80.0 753.5h0.85v0.85h-0.85zM88.0 754.9h0.85v0.85h-0.85zM90.0 752.5h0.85v0.85h-0.85zM82.1 754.5h0.85v0.85h-0.85zM98.3 754.8h0.85v0.85h-0.85zM90.3 754.6h0.85v0.85h-0.85zM79.3 753.6h0.85v0.85h-0.85zM82.3 753.7h0.85v0.85h-0.85zM87.6 752.8h0.85v0.85h-0.85zM97.1 753.8h0.85v0.85h-0.85zM102.0 754.0h0.85v0.85h-0.85zM89.0 752.8h0.85v0.85h-0.85zM85.7 754.6h0.85v0.85h-0.85zM92.2 756.0h0.85v0.85h-0.85zM95.8 753.2h0.85v0.85h-0.85zM83.4 753.4h0.85v0.85h-0.85zM100.4 755.3h0.85v0.85h-0.85zM67.6 753.2h0.85v0.85h-0.85zM106.2 752.5h0.85v0.85h-0.85zM91.3 754.5h0.85v0.85h-0.85zM93.0 753.4h0.85v0.85h-0.85zM89.7 753.2h0.85v0.85h-0.85zM90.9 753.5h0.85v0.85h-0.85zM105.3 755.2h0.85v0.85h-0.85zM82.9 753.8h0.85v0.85h-0.85zM105.4 753.5h0.85v0.85h-0.85zM93.5 755.8h0.85v0.85h-0.85zM84.9 754.8h0.85v0.85h-0.85zM89.4 754.7h0.85v0.85h-0.85zM89.5 754.8h0.85v0.85h-0.85zM97.7 756.2h0.85v0.85h-0.85zM84.2 755.0h0.85v0.85h-0.85zM96.1 752.2h0.85v0.85h-0.85zM102.6 756.4h0.85v0.85h-0.85zM105.5 752.9h0.85v0.85h-0.85zM84.4 755.9h0.85v0.85h-0.85zM90.3 753.7h0.85v0.85h-0.85zM82.7 755.2h0.85v0.85h-0.85zM72.9 753.1h0.85v0.85h-0.85zM95.4 751.7h0.85v0.85h-0.85zM98.9 753.8h0.85v0.85h-0.85zM92.1 753.9h0.85v0.85h-0.85zM92.6 753.4h0.85v0.85h-0.85zM83.0 753.9h0.85v0.85h-0.85zM101.8 754.6h0.85v0.85h-0.85zM92.9 753.1h0.85v0.85h-0.85zM92.0 756.0h0.85v0.85h-0.85zM90.1 753.9h0.85v0.85h-0.85zM84.9 756.6h0.85v0.85h-0.85zM90.5 754.9h0.85v0.85h-0.85zM75.7 754.7h0.85v0.85h-0.85zM94.5 752.8h0.85v0.85h-0.85zM90.6 753.7h0.85v0.85h-0.85zM98.7 754.4h0.85v0.85h-0.85zM88.7 753.4h0.85v0.85h-0.85zM106.7 754.5h0.85v0.85h-0.85zM92.6 754.3h0.85v0.85h-0.85zM94.4 754.1h0.85v0.85h-0.85zM89.2 755.4h0.85v0.85h-0.85zM88.0 753.1h0.85v0.85h-0.85zM84.4 753.8h0.85v0.85h-0.85zM88.2 753.6h0.85v0.85h-0.85zM91.5 753.9h0.85v0.85h-0.85zM96.4 753.5h0.85v0.85h-0.85zM86.7 753.6h0.85v0.85h-0.85zM85.7 754.2h0.85v0.85h-0.85zM82.8 752.3h0.85v0.85h-0.85zM103.7 751.2h0.85v0.85h-0.85zM81.9 754.3h0.85v0.85h-0.85zM87.7 754.7h0.85v0.85h-0.85zM70.1 753.7h0.85v0.85h-0.85zM104.1 754.6h0.85v0.85h-0.85zM86.8 755.4h0.85v0.85h-0.85zM69.4 741.2h0.85v0.85h-0.85zM59.5 735.0h0.85v0.85h-0.85zM70.3 735.0h0.85v0.85h-0.85zM96.5 739.9h0.85v0.85h-0.85zM83.8 736.9h0.85v0.85h-0.85zM69.8 733.9h0.85v0.85h-0.85zM80.2 733.8h0.85v0.85h-0.85zM86.1 733.9h0.85v0.85h-0.85zM55.3 732.1h0.85v0.85h-0.85zM85.7 737.4h0.85v0.85h-0.85zM71.5 727.8h0.85v0.85h-0.85zM69.6 728.9h0.85v0.85h-0.85zM81.6 737.9h0.85v0.85h-0.85zM67.6 734.8h0.85v0.85h-0.85zM72.2 733.1h0.85v0.85h-0.85zM61.5 733.7h0.85v0.85h-0.85zM89.6 743.3h0.85v0.85h-0.85zM55.0 730.4h0.85v0.85h-0.85zM57.4 731.7h0.85v0.85h-0.85zM75.1 733.9h0.85v0.85h-0.85zM64.5 736.8h0.85v0.85h-0.85zM60.1 732.6h0.85v0.85h-0.85zM80.6 733.5h0.85v0.85h-0.85zM67.8 743.8h0.85v0.85h-0.85zM68.9 730.7h0.85v0.85h-0.85zM55.7 739.5h0.85v0.85h-0.85zM84.9 740.0h0.85v0.85h-0.85zM75.3 742.1h0.85v0.85h-0.85zM99.3 738.9h0.85v0.85h-0.85zM73.6 734.2h0.85v0.85h-0.85zM88.3 742.4h0.85v0.85h-0.85zM76.5 731.9h0.85v0.85h-0.85zM77.4 729.9h0.85v0.85h-0.85zM72.0 741.0h0.85v0.85h-0.85zM64.9 736.0h0.85v0.85h-0.85zM84.8 729.8h0.85v0.85h-0.85zM72.2 739.1h0.85v0.85h-0.85zM66.1 731.4h0.85v0.85h-0.85zM70.8 739.8h0.85v0.85h-0.85zM77.6 734.4h0.85v0.85h-0.85zM71.4 739.5h0.85v0.85h-0.85zM115.3 733.7h0.85v0.85h-0.85zM91.6 735.2h0.85v0.85h-0.85zM77.8 737.0h0.85v0.85h-0.85zM82.4 738.4h0.85v0.85h-0.85zM107.9 734.5h0.85v0.85h-0.85zM51.5 741.2h0.85v0.85h-0.85zM69.5 733.4h0.85v0.85h-0.85zM80.7 733.0h0.85v0.85h-0.85zM79.0 734.6h0.85v0.85h-0.85zM85.2 732.1h0.85v0.85h-0.85zM62.7 734.7h0.85v0.85h-0.85zM48.0 735.4h0.85v0.85h-0.85zM34.8 731.0h0.85v0.85h-0.85zM42.0 733.0h0.85v0.85h-0.85zM86.9 739.8h0.85v0.85h-0.85zM48.1 730.0h0.85v0.85h-0.85zM63.6 738.7h0.85v0.85h-0.85zM75.7 732.1h0.85v0.85h-0.85zM52.8 740.5h0.85v0.85h-0.85z" fill="#1f1fff" fill-opacity="0.7"/>
<path d="M77.0 733.5h0.9v0.9h-0.9zM80.0 732.9h0.9v0.9h-0.9zM92.1 733.1h0.9v0.9h-0.9zM85.8 734.7h0.9v0.9h-0.9zM89.2 734.3h0.9v0.9h-0.9zM77.7 733.8h0.9v0.9h-0.9zM89.7 733.9h0.9v0.9h-0.9zM90.1 734.3h0.9v0.9h-0.9zM77.1 733.4h0.9v0.9h-0.9zM78.0 734.0h0.9v0.9h-0.9zM83.2 733.5h0.9v0.9h-0.9zM82.4 733.0h0.9v0.9h-0.9zM89.6 734.2h0.9v0.9h-0.9zM84.0 733.7h0.9v0.9h-0.9zM82.4 733.5h0.9v0.9h-0.9zM88.0 734.8h0.9v0.9h-0.9zM76.6 733.8h0.9v0.9h-0.9zM85.7 732.6h0.9v0.9h-0.9zM89.1 732.9h0.9v0.9h-0.9zM88.3 732.9h0.9v0.9h-0.9zM77.4 734.4h0.9v0.9h-0.9zM77.6 733.7h0.9v0.9h-0.9zM87.3 733.5h0.9v0.9h-0.9zM87.8 733.9h0.9v0.9h-0.9zM91.6 733.4h0.9v0.9h-0.9zM81.7 733.9h0.9v0.9h-0.9zM81.6 733.1h0.9v0.9h-0.9zM90.2 733.5h0.9v0.9h-0.9zM88.1 734.4h0.9v0.9h-0.9zM85.3 734.7h0.9v0.9h-0.9zM89.9 732.9h0.9v0.9h-0.9zM77.3 733.1h0.9v0.9h-0.9zM79.1 733.3h0.9v0.9h-0.9zM78.9 733.1h0.9v0.9h-0.9zM77.4 734.0h0.9v0.9h-0.9zM90.6 732.7h0.9v0.9h-0.9zM67.1 760.4h0.9v0.9h-0.9zM68.3 766.1h0.9v0.9h-0.9zM75.3 765.1h0.9v0.9h-0.9zM67.8 762.1h0.9v0.9h-0.9zM63.7 766.6h0.9v0.9h-0.9zM71.1 768.8h0.9v0.9h-0.9zM71.8 768.7h0.9v0.9h-0.9zM63.7 764.8h0.9v0.9h-0.9zM68.0 762.9h0.9v0.9h-0.9zM68.9 759.7h0.9v0.9h-0.9zM74.6 766.1h0.9v0.9h-0.9zM75.4 767.6h0.9v0.9h-0.9zM69.6 761.8h0.9v0.9h-0.9zM71.5 770.9h0.9v0.9h-0.9zM69.3 764.1h0.9v0.9h-0.9zM63.9 766.9h0.9v0.9h-0.9zM71.0 759.6h0.9v0.9h-0.9zM69.8 764.9h0.9v0.9h-0.9zM74.4 769.5h0.9v0.9h-0.9zM69.0 759.6h0.9v0.9h-0.9zM68.4 761.7h0.9v0.9h-0.9zM67.8 762.1h0.9v0.9h-0.9zM75.0 768.3h0.9v0.9h-0.9zM65.1 761.4h0.9v0.9h-0.9zM62.9 765.0h0.9v0.9h-0.9zM74.3 767.0h0.9v0.9h-0.9zM71.3 760.2h0.9v0.9h-0.9zM71.6 763.4h0.9v0.9h-0.9zM65.2 763.3h0.9v0.9h-0.9zM74.3 762.3h0.9v0.9h-0.9zM68.5 772.2h0.9v0.9h-0.9zM71.6 765.9h0.9v0.9h-0.9zM72.7 761.5h0.9v0.9h-0.9zM67.4 764.0h0.9v0.9h-0.9zM67.8 764.3h0.9v0.9h-0.9zM68.3 771.2h0.9v0.9h-0.9zM63.2 762.9h0.9v0.9h-0.9zM63.5 767.9h0.9v0.9h-0.9zM68.0 764.9h0.9v0.9h-0.9zM73.1 760.5h0.9v0.9h-0.9zM63.3 768.9h0.9v0.9h-0.9zM71.1 764.0h0.9v0.9h-0.9zM64.3 765.9h0.9v0.9h-0.9zM63.2 764.4h0.9v0.9h-0.9zM74.2 769.1h0.9v0.9h-0.9zM72.5 770.6h0.9v0.9h-0.9zM70.9 767.5h0.9v0.9h-0.9zM71.2 767.4h0.9v0.9h-0.9z" fill="#1aa0c8" fill-opacity="0.8"/>
<path d="M80.9 734.1h0.9v0.9h-0.9zM84.9 733.6h0.9v0.9h-0.9zM83.4 734.0h0.9v0.9h-0.9zM81.7 733.5h0.9v0.9h-0.9zM88.0 733.1h0.9v0.9h-0.9zM82.2 733.5h0.9v0.9h-0.9zM84.9 734.4h0.9v0.9h-0.9zM80.6 733.9h0.9v0.9h-0.9zM85.0 734.1h0.9v0.9h-0.9zM87.7 734.0h0.9v0.9h-0.9zM80.6 733.6h0.9v0.9h-0.9zM87.7 733.2h0.9v0.9h-0.9zM80.9 733.3h0.9v0.9h-0.9zM85.4 733.6h0.9v0.9h-0.9zM87.5 733.2h0.9v0.9h-0.9zM80.2 733.6h0.9v0.9h-0.9zM84.2 733.4h0.9v0.9h-0.9zM84.6 734.2h0.9v0.9h-0.9zM84.9 733.1h0.9v0.9h-0.9zM82.2 733.7h0.9v0.9h-0.9zM86.0 733.2h0.9v0.9h-0.9zM81.9 734.3h0.9v0.9h-0.9zM87.9 733.7h0.9v0.9h-0.9zM85.0 733.2h0.9v0.9h-0.9zM85.3 734.5h0.9v0.9h-0.9zM82.8 733.6h0.9v0.9h-0.9zM83.1 734.0h0.9v0.9h-0.9zM81.6 733.1h0.9v0.9h-0.9zM84.2 732.9h0.9v0.9h-0.9zM87.6 733.9h0.9v0.9h-0.9zM82.9 734.2h0.9v0.9h-0.9zM89.1 733.4h0.9v0.9h-0.9zM86.6 733.4h0.9v0.9h-0.9zM88.4 734.0h0.9v0.9h-0.9zM86.7 734.4h0.9v0.9h-0.9zM89.3 733.8h0.9v0.9h-0.9zM83.9 734.4h0.9v0.9h-0.9zM82.9 734.2h0.9v0.9h-0.9zM83.1 733.5h0.9v0.9h-0.9zM86.5 733.7h0.9v0.9h-0.9zM70.5 764.4h0.9v0.9h-0.9zM70.2 766.3h0.9v0.9h-0.9zM69.3 769.0h0.9v0.9h-0.9zM68.3 763.8h0.9v0.9h-0.9zM68.7 768.2h0.9v0.9h-0.9zM68.0 768.4h0.9v0.9h-0.9zM72.1 768.0h0.9v0.9h-0.9zM71.6 766.9h0.9v0.9h-0.9zM67.0 763.0h0.9v0.9h-0.9zM67.7 764.3h0.9v0.9h-0.9zM67.8 769.2h0.9v0.9h-0.9zM65.7 766.4h0.9v0.9h-0.9zM69.7 767.7h0.9v0.9h-0.9zM66.7 765.1h0.9v0.9h-0.9zM68.5 767.5h0.9v0.9h-0.9zM68.3 762.3h0.9v0.9h-0.9zM69.3 765.1h0.9v0.9h-0.9zM67.5 768.5h0.9v0.9h-0.9zM69.7 762.4h0.9v0.9h-0.9zM70.6 762.8h0.9v0.9h-0.9zM69.5 765.8h0.9v0.9h-0.9zM68.6 765.1h0.9v0.9h-0.9zM71.5 768.1h0.9v0.9h-0.9zM65.8 766.6h0.9v0.9h-0.9zM70.6 764.2h0.9v0.9h-0.9zM65.8 764.9h0.9v0.9h-0.9zM67.0 766.5h0.9v0.9h-0.9zM66.6 768.3h0.9v0.9h-0.9zM67.2 766.8h0.9v0.9h-0.9zM70.7 765.4h0.9v0.9h-0.9zM66.1 766.0h0.9v0.9h-0.9zM69.0 768.2h0.9v0.9h-0.9zM67.8 768.5h0.9v0.9h-0.9zM72.0 764.8h0.9v0.9h-0.9zM65.9 766.9h0.9v0.9h-0.9zM68.9 768.1h0.9v0.9h-0.9zM70.5 765.0h0.9v0.9h-0.9zM72.8 764.3h0.9v0.9h-0.9zM70.1 763.7h0.9v0.9h-0.9zM67.1 762.8h0.9v0.9h-0.9zM66.7 764.7h0.9v0.9h-0.9zM71.8 764.3h0.9v0.9h-0.9zM67.1 763.2h0.9v0.9h-0.9zM72.7 763.5h0.9v0.9h-0.9zM68.9 766.4h0.9v0.9h-0.9zM69.6 767.7h0.9v0.9h-0.9zM68.3 763.8h0.9v0.9h-0.9z" fill="#30b040" fill-opacity="0.85"/>
</g>
<line x1="41.6" y1="753.6" x2="130.9" y2="753.6" stroke="#8a8a8a" stroke-width="1.3"/>
<line x1="79.0" y1="694.9" x2="79.0" y2="784.4" stroke="#8a8a8a" stroke-width="1.0"/>
<line x1="41.6" y1="694.9" x2="41.6" y2="784.4" stroke="#444" stroke-width="0.8"/>
<line x1="41.6" y1="784.4" x2="130.9" y2="784.4" stroke="#444" stroke-width="0.8"/>
<line x1="39.1" y1="703.4" x2="41.6" y2="703.4" stroke="#444" stroke-width="0.7"/>
<text x="34.1" y="704.6" font-size="3.2" text-anchor="start" fill="#555">10</text>
<line x1="53.3" y1="784.4" x2="53.3" y2="786.9" stroke="#444" stroke-width="0.7"/>
<text x="50.8" y="790.9" font-size="3.2" text-anchor="start" fill="#555">10</text>
<line x1="39.1" y1="721.3" x2="41.6" y2="721.3" stroke="#444" stroke-width="0.7"/>
<text x="34.1" y="722.5" font-size="3.2" text-anchor="start" fill="#555">10</text>
<line x1="71.3" y1="784.4" x2="71.3" y2="786.9" stroke="#444" stroke-width="0.7"/>
<text x="68.8" y="790.9" font-size="3.2" text-anchor="start" fill="#555">10</text>
<line x1="39.1" y1="739.1999999999999" x2="41.6" y2="739.1999999999999" stroke="#444" stroke-width="0.7"/>
<text x="34.1" y="740.4" font-size="3.2" text-anchor="start" fill="#555">10</text>
<line x1="89.3" y1="784.4" x2="89.3" y2="786.9" stroke="#444" stroke-width="0.7"/>
<text x="86.8" y="790.9" font-size="3.2" text-anchor="start" fill="#555">10</text>
<line x1="39.1" y1="757.1" x2="41.6" y2="757.1" stroke="#444" stroke-width="0.7"/>
<text x="34.1" y="758.3000000000001" font-size="3.2" text-anchor="start" fill="#555">10</text>
<line x1="107.3" y1="784.4" x2="107.3" y2="786.9" stroke="#444" stroke-width="0.7"/>
<text x="104.8" y="790.9" font-size="3.2" text-anchor="start" fill="#555">10</text>
<line x1="39.1" y1="775.0" x2="41.6" y2="775.0" stroke="#444" stroke-width="0.7"/>
<text x="34.1" y="776.2" font-size="3.2" text-anchor="start" fill="#555">10</text>
<line x1="125.3" y1="784.4" x2="125.3" y2="786.9" stroke="#444" stroke-width="0.7"/>
<text x="122.8" y="790.9" font-size="3.2" text-anchor="start" fill="#555">10</text>
<line x1="40.4" y1="696.9" x2="41.6" y2="696.9" stroke="#666" stroke-width="0.4"/>
<line x1="43.6" y1="784.4" x2="43.6" y2="785.6" stroke="#666" stroke-width="0.4"/>
<line x1="40.4" y1="699.1" x2="41.6" y2="699.1" stroke="#666" stroke-width="0.4"/>
<line x1="45.800000000000004" y1="784.4" x2="45.800000000000004" y2="785.6" stroke="#666" stroke-width="0.4"/>
<line x1="40.4" y1="701.3" x2="41.6" y2="701.3" stroke="#666" stroke-width="0.4"/>
<line x1="48.0" y1="784.4" x2="48.0" y2="785.6" stroke="#666" stroke-width="0.4"/>
<line x1="40.4" y1="703.5" x2="41.6" y2="703.5" stroke="#666" stroke-width="0.4"/>
<line x1="50.2" y1="784.4" x2="50.2" y2="785.6" stroke="#666" stroke-width="0.4"/>
<line x1="40.4" y1="705.6999999999999" x2="41.6" y2="705.6999999999999" stroke="#666" stroke-width="0.4"/>
<line x1="52.400000000000006" y1="784.4" x2="52.400000000000006" y2="785.6" stroke="#666" stroke-width="0.4"/>
<line x1="40.4" y1="707.9" x2="41.6" y2="707.9" stroke="#666" stroke-width="0.4"/>
<line x1="54.6" y1="784.4" x2="54.6" y2="785.6" stroke="#666" stroke-width="0.4"/>
<line x1="40.4" y1="710.1" x2="41.6" y2="710.1" stroke="#666" stroke-width="0.4"/>
<line x1="56.800000000000004" y1="784.4" x2="56.800000000000004" y2="785.6" stroke="#666" stroke-width="0.4"/>
<line x1="40.4" y1="712.3" x2="41.6" y2="712.3" stroke="#666" stroke-width="0.4"/>
<line x1="59.0" y1="784.4" x2="59.0" y2="785.6" stroke="#666" stroke-width="0.4"/>
<line x1="40.4" y1="714.5" x2="41.6" y2="714.5" stroke="#666" stroke-width="0.4"/>
<line x1="61.2" y1="784.4" x2="61.2" y2="785.6" stroke="#666" stroke-width="0.4"/>
<line x1="40.4" y1="716.6999999999999" x2="41.6" y2="716.6999999999999" stroke="#666" stroke-width="0.4"/>
<line x1="63.400000000000006" y1="784.4" x2="63.400000000000006" y2="785.6" stroke="#666" stroke-width="0.4"/>
<line x1="40.4" y1="718.9" x2="41.6" y2="718.9" stroke="#666" stroke-width="0.4"/>
<line x1="65.6" y1="784.4" x2="65.6" y2="785.6" stroke="#666" stroke-width="0.4"/>
<line x1="40.4" y1="721.1" x2="41.6" y2="721.1" stroke="#666" stroke-width="0.4"/>
<line x1="67.80000000000001" y1="784.4" x2="67.80000000000001" y2="785.6" stroke="#666" stroke-width="0.4"/>
<line x1="40.4" y1="723.3" x2="41.6" y2="723.3" stroke="#666" stroke-width="0.4"/>
<line x1="70.0" y1="784.4" x2="70.0" y2="785.6" stroke="#666" stroke-width="0.4"/>
<line x1="40.4" y1="725.5" x2="41.6" y2="725.5" stroke="#666" stroke-width="0.4"/>
<line x1="72.2" y1="784.4" x2="72.2" y2="785.6" stroke="#666" stroke-width="0.4"/>
<line x1="40.4" y1="727.6999999999999" x2="41.6" y2="727.6999999999999" stroke="#666" stroke-width="0.4"/>
<line x1="74.4" y1="784.4" x2="74.4" y2="785.6" stroke="#666" stroke-width="0.4"/>
<line x1="40.4" y1="729.9" x2="41.6" y2="729.9" stroke="#666" stroke-width="0.4"/>
<line x1="76.6" y1="784.4" x2="76.6" y2="785.6" stroke="#666" stroke-width="0.4"/>
<line x1="40.4" y1="732.1" x2="41.6" y2="732.1" stroke="#666" stroke-width="0.4"/>
<line x1="78.80000000000001" y1="784.4" x2="78.80000000000001" y2="785.6" stroke="#666" stroke-width="0.4"/>
<line x1="40.4" y1="734.3" x2="41.6" y2="734.3" stroke="#666" stroke-width="0.4"/>
<line x1="81.0" y1="784.4" x2="81.0" y2="785.6" stroke="#666" stroke-width="0.4"/>
<line x1="40.4" y1="736.5" x2="41.6" y2="736.5" stroke="#666" stroke-width="0.4"/>
<line x1="83.2" y1="784.4" x2="83.2" y2="785.6" stroke="#666" stroke-width="0.4"/>
<line x1="40.4" y1="738.6999999999999" x2="41.6" y2="738.6999999999999" stroke="#666" stroke-width="0.4"/>
<line x1="85.4" y1="784.4" x2="85.4" y2="785.6" stroke="#666" stroke-width="0.4"/>
<line x1="40.4" y1="740.9" x2="41.6" y2="740.9" stroke="#666" stroke-width="0.4"/>
<line x1="87.6" y1="784.4" x2="87.6" y2="785.6" stroke="#666" stroke-width="0.4"/>
<line x1="40.4" y1="743.1" x2="41.6" y2="743.1" stroke="#666" stroke-width="0.4"/>
<line x1="89.80000000000001" y1="784.4" x2="89.80000000000001" y2="785.6" stroke="#666" stroke-width="0.4"/>
<line x1="40.4" y1="745.3" x2="41.6" y2="745.3" stroke="#666" stroke-width="0.4"/>
<line x1="92.0" y1="784.4" x2="92.0" y2="785.6" stroke="#666" stroke-width="0.4"/>
<line x1="40.4" y1="747.5" x2="41.6" y2="747.5" stroke="#666" stroke-width="0.4"/>
<line x1="94.2" y1="784.4" x2="94.2" y2="785.6" stroke="#666" stroke-width="0.4"/>
<line x1="40.4" y1="749.6999999999999" x2="41.6" y2="749.6999999999999" stroke="#666" stroke-width="0.4"/>
<line x1="96.4" y1="784.4" x2="96.4" y2="785.6" stroke="#666" stroke-width="0.4"/>
<line x1="40.4" y1="751.9" x2="41.6" y2="751.9" stroke="#666" stroke-width="0.4"/>
<line x1="98.60000000000001" y1="784.4" x2="98.60000000000001" y2="785.6" stroke="#666" stroke-width="0.4"/>
<line x1="40.4" y1="754.1" x2="41.6" y2="754.1" stroke="#666" stroke-width="0.4"/>
<line x1="100.80000000000001" y1="784.4" x2="100.80000000000001" y2="785.6" stroke="#666" stroke-width="0.4"/>
<line x1="40.4" y1="756.3" x2="41.6" y2="756.3" stroke="#666" stroke-width="0.4"/>
<line x1="103.0" y1="784.4" x2="103.0" y2="785.6" stroke="#666" stroke-width="0.4"/>
<line x1="40.4" y1="758.5" x2="41.6" y2="758.5" stroke="#666" stroke-width="0.4"/>
<line x1="105.20000000000002" y1="784.4" x2="105.20000000000002" y2="785.6" stroke="#666" stroke-width="0.4"/>
<line x1="40.4" y1="760.6999999999999" x2="41.6" y2="760.6999999999999" stroke="#666" stroke-width="0.4"/>
<line x1="107.4" y1="784.4" x2="107.4" y2="785.6" stroke="#666" stroke-width="0.4"/>
<line x1="40.4" y1="762.9" x2="41.6" y2="762.9" stroke="#666" stroke-width="0.4"/>
<line x1="109.6" y1="784.4" x2="109.6" y2="785.6" stroke="#666" stroke-width="0.4"/>
<line x1="40.4" y1="765.1" x2="41.6" y2="765.1" stroke="#666" stroke-width="0.4"/>
<line x1="111.80000000000001" y1="784.4" x2="111.80000000000001" y2="785.6" stroke="#666" stroke-width="0.4"/>
<line x1="40.4" y1="767.3" x2="41.6" y2="767.3" stroke="#666" stroke-width="0.4"/>
<line x1="114.0" y1="784.4" x2="114.0" y2="785.6" stroke="#666" stroke-width="0.4"/>
<line x1="40.4" y1="769.5" x2="41.6" y2="769.5" stroke="#666" stroke-width="0.4"/>
<line x1="116.20000000000002" y1="784.4" x2="116.20000000000002" y2="785.6" stroke="#666" stroke-width="0.4"/>
<line x1="40.4" y1="771.7" x2="41.6" y2="771.7" stroke="#666" stroke-width="0.4"/>
<line x1="118.4" y1="784.4" x2="118.4" y2="785.6" stroke="#666" stroke-width="0.4"/>
<line x1="40.4" y1="773.9" x2="41.6" y2="773.9" stroke="#666" stroke-width="0.4"/>
<line x1="120.6" y1="784.4" x2="120.6" y2="785.6" stroke="#666" stroke-width="0.4"/>
<line x1="40.4" y1="776.1" x2="41.6" y2="776.1" stroke="#666" stroke-width="0.4"/>
<line x1="122.80000000000001" y1="784.4" x2="122.80000000000001" y2="785.6" stroke="#666" stroke-width="0.4"/>
<line x1="40.4" y1="778.3" x2="41.6" y2="778.3" stroke="#666" stroke-width="0.4"/>
<line x1="125.0" y1="784.4" x2="125.0" y2="785.6" stroke="#666" stroke-width="0.4"/>
<line x1="40.4" y1="780.5" x2="41.6" y2="780.5" stroke="#666" stroke-width="0.4"/>
<line x1="127.20000000000002" y1="784.4" x2="127.20000000000002" y2="785.6" stroke="#666" stroke-width="0.4"/>
<line x1="40.4" y1="782.7" x2="41.6" y2="782.7" stroke="#666" stroke-width="0.4"/>
<line x1="129.4" y1="784.4" x2="129.4" y2="785.6" stroke="#666" stroke-width="0.4"/>
<text x="44.1" y="700.9" font-size="3.4" text-anchor="start" fill="#444">Q1</text>
<text x="44.1" y="705.4" font-size="3.4" text-anchor="start" fill="#444">11.5</text>
<text x="124.9" y="700.9" font-size="3.4" text-anchor="end" fill="#444">Q2</text>
<text x="124.9" y="705.4" font-size="3.4" text-anchor="end" fill="#444">30.7</text>
<text x="44.1" y="775.4" font-size="3.4" text-anchor="start" fill="#444">Q4</text>
<text x="44.1" y="779.9" font-size="3.4" text-anchor="start" fill="#444">35.5</text>
<text x="124.9" y="775.4" font-size="3.4" text-anchor="end" fill="#444">Q3</text>
<text x="124.9" y="779.9" font-size="3.4" text-anchor="end" fill="#444">22.2</text>
<rect x="79.5" y="696.3" width="50.2" height="87.3" fill="none" stroke="#ff0000" stroke-width="2.9"/>
<text x="107.2" y="807.4" font-size="14" text-anchor="middle" fill="#ff0000" font-weight="bold">53 %</text>
<text x="173.5" y="365.8" font-size="25.2" text-anchor="start" fill="#000" font-weight="bold">d</text>
<text x="294.70000000000005" y="351.3" font-size="12.5" text-anchor="middle" fill="#000">ALK</text>
<line x1="266.6" y1="355.5" x2="322.8" y2="355.5" stroke="#888" stroke-width="1.3"/>
<text x="384.25" y="351.3" font-size="12.5" text-anchor="middle" fill="#000">EGFR</text>
<line x1="325.8" y1="355.5" x2="442.7" y2="355.5" stroke="#888" stroke-width="1.3"/>
<text x="505.29999999999995" y="351.3" font-size="12.5" text-anchor="middle" fill="#000">KRAS</text>
<line x1="447.2" y1="355.5" x2="563.4" y2="355.5" stroke="#888" stroke-width="1.3"/>
<text x="595.5" y="351.3" font-size="12.5" text-anchor="middle" fill="#000">BRAF</text>
<line x1="568" y1="355.5" x2="623" y2="355.5" stroke="#888" stroke-width="1.3"/>
<text x="656.75" y="351.3" font-size="12.5" text-anchor="middle" fill="#000">Normal</text>
<line x1="628.5" y1="355.5" x2="685" y2="355.5" stroke="#888" stroke-width="1.3"/>
<text x="294.70000000000005" y="372.9" font-size="12.5" text-anchor="middle" fill="#000">JFCR-</text>
<text x="294.70000000000005" y="386.8" font-size="12.5" text-anchor="middle" fill="#000">028-3</text>
<line x1="266.6" y1="390.7" x2="322.8" y2="390.7" stroke="#333" stroke-width="1.2"/>
<text x="355.5" y="387.0" font-size="12.5" text-anchor="middle" fill="#000">HCC827</text>
<line x1="326.6" y1="390.7" x2="384.4" y2="390.7" stroke="#333" stroke-width="1.2"/>
<text x="415.5" y="387.0" font-size="12.5" text-anchor="middle" fill="#000">PC9</text>
<line x1="387.5" y1="390.7" x2="443.5" y2="390.7" stroke="#333" stroke-width="1.2"/>
<text x="475.6" y="387.0" font-size="12.5" text-anchor="middle" fill="#000">A549</text>
<line x1="447.5" y1="390.7" x2="503.7" y2="390.7" stroke="#333" stroke-width="1.2"/>
<text x="535.2" y="387.0" font-size="12.5" text-anchor="middle" fill="#000">H460</text>
<line x1="507" y1="390.7" x2="563.4" y2="390.7" stroke="#333" stroke-width="1.2"/>
<text x="595.0" y="372.9" font-size="12.5" text-anchor="middle" fill="#000">JFCR-</text>
<text x="595.0" y="386.8" font-size="12.5" text-anchor="middle" fill="#000">256-3</text>
<line x1="567" y1="390.7" x2="623" y2="390.7" stroke="#333" stroke-width="1.2"/>
<text x="656.4" y="387.0" font-size="12.5" text-anchor="middle" fill="#000">TIG3</text>
<line x1="627.8" y1="390.7" x2="685" y2="390.7" stroke="#333" stroke-width="1.2"/>
<text x="261.5" y="411.7" font-size="12.5" text-anchor="end" fill="#000">(kDa)</text>
<polygon points="264.0,418.6 322.8,418.6 322.8,399" fill="#f9b2b2"/>
<text transform="translate(273.06 418.2) rotate(-90)" font-size="10.2">0</text>
<text transform="translate(282.78 418.2) rotate(-90)" font-size="10.2">10</text>
<text transform="translate(292.50 418.2) rotate(-90)" font-size="10.2">30</text>
<text transform="translate(302.22 418.2) rotate(-90)" font-size="10.2">100</text>
<text transform="translate(311.94 418.2) rotate(-90)" font-size="10.2">300</text>
<text transform="translate(321.66 418.2) rotate(-90)" font-size="10.2">1000</text>
<polygon points="324.4,418.6 383.2,418.6 383.2,397" fill="#f46a6a"/>
<text transform="translate(333.46 418.2) rotate(-90)" font-size="10.2">0</text>
<text transform="translate(343.18 418.2) rotate(-90)" font-size="10.2">10</text>
<text transform="translate(352.90 418.2) rotate(-90)" font-size="10.2">30</text>
<text transform="translate(362.62 418.2) rotate(-90)" font-size="10.2">100</text>
<text transform="translate(372.34 418.2) rotate(-90)" font-size="10.2">300</text>
<text transform="translate(382.06 418.2) rotate(-90)" font-size="10.2">1000</text>
<polygon points="384.8,418.6 443.6,418.6 443.6,397" fill="#f46a6a"/>
<text transform="translate(393.86 418.2) rotate(-90)" font-size="10.2">0</text>
<text transform="translate(403.58 418.2) rotate(-90)" font-size="10.2">10</text>
<text transform="translate(413.30 418.2) rotate(-90)" font-size="10.2">30</text>
<text transform="translate(423.02 418.2) rotate(-90)" font-size="10.2">100</text>
<text transform="translate(432.74 418.2) rotate(-90)" font-size="10.2">300</text>
<text transform="translate(442.46 418.2) rotate(-90)" font-size="10.2">1000</text>
<polygon points="445.1,418.6 503.90000000000003,418.6 503.90000000000003,397" fill="#dd0000"/>
<text transform="translate(454.16 418.2) rotate(-90)" font-size="10.2">0</text>
<text transform="translate(463.88 418.2) rotate(-90)" font-size="10.2">10</text>
<text transform="translate(473.60 418.2) rotate(-90)" font-size="10.2">30</text>
<text transform="translate(483.32 418.2) rotate(-90)" font-size="10.2">100</text>
<text transform="translate(493.04 418.2) rotate(-90)" font-size="10.2">300</text>
<text transform="translate(502.76 418.2) rotate(-90)" font-size="10.2">1000</text>
<polygon points="505.4,418.6 564.1999999999999,418.6 564.1999999999999,397" fill="#dd0000"/>
<text transform="translate(514.46 418.2) rotate(-90)" font-size="10.2">0</text>
<text transform="translate(524.18 418.2) rotate(-90)" font-size="10.2">10</text>
<text transform="translate(533.90 418.2) rotate(-90)" font-size="10.2">30</text>
<text transform="translate(543.62 418.2) rotate(-90)" font-size="10.2">100</text>
<text transform="translate(553.34 418.2) rotate(-90)" font-size="10.2">300</text>
<text transform="translate(563.06 418.2) rotate(-90)" font-size="10.2">1000</text>
<polygon points="565.6,418.6 624.4,418.6 624.4,397" fill="#dd0000"/>
<text transform="translate(574.66 418.2) rotate(-90)" font-size="10.2">0</text>
<text transform="translate(584.38 418.2) rotate(-90)" font-size="10.2">10</text>
<text transform="translate(594.10 418.2) rotate(-90)" font-size="10.2">30</text>
<text transform="translate(603.82 418.2) rotate(-90)" font-size="10.2">100</text>
<text transform="translate(613.54 418.2) rotate(-90)" font-size="10.2">300</text>
<text transform="translate(623.26 418.2) rotate(-90)" font-size="10.2">1000</text>
<polygon points="625.9,418.6 684.6999999999999,418.6 684.6999999999999,397" fill="#dd0000"/>
<text transform="translate(634.96 418.2) rotate(-90)" font-size="10.2">0</text>
<text transform="translate(644.68 418.2) rotate(-90)" font-size="10.2">10</text>
<text transform="translate(654.40 418.2) rotate(-90)" font-size="10.2">30</text>
<text transform="translate(664.12 418.2) rotate(-90)" font-size="10.2">100</text>
<text transform="translate(673.84 418.2) rotate(-90)" font-size="10.2">300</text>
<text transform="translate(683.56 418.2) rotate(-90)" font-size="10.2">1000</text>
<text x="235.2" y="433.6" font-size="12.3" text-anchor="end" fill="#000">pALK</text>
<text x="235.2" y="451.1" font-size="12.3" text-anchor="end" fill="#000">ALK</text>
<text x="235.2" y="468.6" font-size="12.3" text-anchor="end" fill="#000">pEGFR</text>
<text x="235.2" y="486.1" font-size="12.3" text-anchor="end" fill="#000">EGFR</text>
<text x="235.2" y="504.6" font-size="12.3" text-anchor="end" fill="#000">pMEK</text>
<text x="235.2" y="522.0" font-size="12.3" text-anchor="end" fill="#000">MEK</text>
<text x="235.2" y="538.6" font-size="12.3" text-anchor="end" fill="#000">pAKT</text>
<text x="235.2" y="556.2" font-size="12.3" text-anchor="end" fill="#000">AKT</text>
<text x="235.2" y="572.3000000000001" font-size="12.3" text-anchor="end" fill="#000">pERK</text>
<text x="235.2" y="590.6" font-size="12.3" text-anchor="end" fill="#000">ERK</text>
<text x="235.2" y="608.8000000000001" font-size="12.3" text-anchor="end" fill="#000">pS6</text>
<text x="235.2" y="624.9" font-size="12.3" text-anchor="end" fill="#000">S6</text>
<text x="235.2" y="642.6" font-size="12.3" text-anchor="end" fill="#000">PARP</text>
<text x="235.2" y="656.5" font-size="12.3" text-anchor="end" fill="#000">Cleaved PARP</text>
<text x="235.2" y="674.3000000000001" font-size="12.3" text-anchor="end" fill="#000">GAPDH</text>
<text x="254.5" y="426.6" font-size="11.5" text-anchor="end" fill="#000">150</text>
<line x1="255.5" y1="422.5" x2="264.5" y2="422.5" stroke="#000" stroke-width="1.2"/>
<text x="254.5" y="444.1" font-size="11.5" text-anchor="end" fill="#000">150</text>
<line x1="255.5" y1="440" x2="264.5" y2="440" stroke="#000" stroke-width="1.2"/>
<text x="254.5" y="542.0" font-size="11.5" text-anchor="end" fill="#000">52</text>
<line x1="255.5" y1="537.9" x2="264.5" y2="537.9" stroke="#000" stroke-width="1.2"/>
<text x="254.5" y="556.6" font-size="11.5" text-anchor="end" fill="#000">52</text>
<line x1="255.5" y1="552.5" x2="264.5" y2="552.5" stroke="#000" stroke-width="1.2"/>
<text x="254.5" y="578.6" font-size="11.5" text-anchor="end" fill="#000">38</text>
<line x1="255.5" y1="574.5" x2="264.5" y2="574.5" stroke="#000" stroke-width="1.2"/>
<text x="254.5" y="591.7" font-size="11.5" text-anchor="end" fill="#000">38</text>
<line x1="255.5" y1="587.6" x2="264.5" y2="587.6" stroke="#000" stroke-width="1.2"/>
<text x="254.5" y="606.0" font-size="11.5" text-anchor="end" fill="#000">31</text>
<line x1="255.5" y1="601.9" x2="264.5" y2="601.9" stroke="#000" stroke-width="1.2"/>
<text x="254.5" y="620.9" font-size="11.5" text-anchor="end" fill="#000">31</text>
<line x1="255.5" y1="616.8" x2="264.5" y2="616.8" stroke="#000" stroke-width="1.2"/>
<text x="254.5" y="648.8000000000001" font-size="11.5" text-anchor="end" fill="#000">102</text>
<line x1="255.5" y1="644.7" x2="264.5" y2="644.7" stroke="#000" stroke-width="1.2"/>
<text x="254.5" y="672.5" font-size="11.5" text-anchor="end" fill="#000">38</text>
<line x1="255.5" y1="668.4" x2="264.5" y2="668.4" stroke="#000" stroke-width="1.2"/>
<text x="315" y="472.5" font-size="11.5" text-anchor="end" fill="#000">150</text>
<line x1="316" y1="468.4" x2="325" y2="468.4" stroke="#000" stroke-width="1.2"/>
<text x="315" y="488.6" font-size="11.5" text-anchor="end" fill="#000">150</text>
<line x1="316" y1="484.5" x2="325" y2="484.5" stroke="#000" stroke-width="1.2"/>
<text x="435.4" y="500.6" font-size="11.5" text-anchor="end" fill="#000">38</text>
<line x1="436.4" y1="496.5" x2="445.4" y2="496.5" stroke="#000" stroke-width="1.2"/>
<text x="435.4" y="514.7" font-size="11.5" text-anchor="end" fill="#000">38</text>
<line x1="436.4" y1="510.6" x2="445.4" y2="510.6" stroke="#000" stroke-width="1.2"/>
<clipPath id="c13"><rect x="264.5" y="420.8" width="58.3" height="14.699999999999989"/></clipPath>
<rect x="264.5" y="420.8" width="58.3" height="14.699999999999989" fill="#eeeeee"/>
<g clip-path="url(#c13)"><g filter="url(#bl)">
<rect x="264.89" y="425.92" width="8.94" height="3.00" rx="1.50" fill="#000" fill-opacity="0.40"/>
<rect x="274.61" y="425.92" width="8.94" height="3.00" rx="1.50" fill="#000" fill-opacity="0.04"/>
<rect x="284.32" y="425.92" width="8.94" height="3.00" rx="1.50" fill="#000" fill-opacity="0.04"/>
<rect x="294.04" y="425.92" width="8.94" height="3.00" rx="1.50" fill="#000" fill-opacity="0.04"/>
<rect x="303.76" y="425.92" width="8.94" height="3.00" rx="1.50" fill="#000" fill-opacity="0.04"/>
<rect x="313.47" y="425.92" width="8.94" height="3.00" rx="1.50" fill="#000" fill-opacity="0.04"/>
</g></g>
<rect x="264.5" y="420.8" width="58.3" height="14.699999999999989" fill="none" stroke="#2a2a2a" stroke-width="1.0"/>
<clipPath id="c14"><rect x="264.5" y="439.3" width="58.3" height="14.0"/></clipPath>
<rect x="264.5" y="439.3" width="58.3" height="14.0" fill="#ececec"/>
<g clip-path="url(#c14)"><g filter="url(#bl)">
<rect x="264.89" y="444.98" width="8.94" height="3.20" rx="1.60" fill="#000" fill-opacity="1.00"/>
<rect x="274.61" y="444.98" width="8.94" height="3.20" rx="1.60" fill="#000" fill-opacity="0.78"/>
<rect x="284.32" y="444.98" width="8.94" height="3.20" rx="1.60" fill="#000" fill-opacity="0.80"/>
<rect x="294.04" y="444.98" width="8.94" height="3.20" rx="1.60" fill="#000" fill-opacity="0.95"/>
<rect x="303.76" y="444.98" width="8.94" height="3.20" rx="1.60" fill="#000" fill-opacity="0.62"/>
<rect x="313.47" y="444.98" width="8.94" height="3.20" rx="1.60" fill="#000" fill-opacity="0.75"/>
<rect x="264.89" y="442.00" width="8.94" height="3.00" rx="1.50" fill="#000" fill-opacity="0.20"/>
<rect x="274.61" y="442.00" width="8.94" height="3.00" rx="1.50" fill="#000" fill-opacity="0.05"/>
<rect x="284.32" y="442.00" width="8.94" height="3.00" rx="1.50" fill="#000" fill-opacity="0.10"/>
<rect x="294.04" y="442.00" width="8.94" height="3.00" rx="1.50" fill="#000" fill-opacity="0.05"/>
<rect x="303.76" y="442.00" width="8.94" height="3.00" rx="1.50" fill="#000" fill-opacity="0.15"/>
<rect x="313.47" y="442.00" width="8.94" height="3.00" rx="1.50" fill="#000" fill-opacity="0.05"/>
</g></g>
<rect x="264.5" y="439.3" width="58.3" height="14.0" fill="none" stroke="#2a2a2a" stroke-width="1.0"/>
<clipPath id="c15"><rect x="264.5" y="526.2" width="58.3" height="14.399999999999977"/></clipPath>
<rect x="264.5" y="526.2" width="58.3" height="14.399999999999977" fill="#e6e6e6"/>
<g clip-path="url(#c15)"><g filter="url(#bl)">
<rect x="264.89" y="530.17" width="8.94" height="3.00" rx="1.50" fill="#000" fill-opacity="0.50"/>
<rect x="274.61" y="530.17" width="8.94" height="3.00" rx="1.50" fill="#000" fill-opacity="0.20"/>
<rect x="284.32" y="530.17" width="8.94" height="3.00" rx="1.50" fill="#000" fill-opacity="0.32"/>
<rect x="294.04" y="530.17" width="8.94" height="3.00" rx="1.50" fill="#000" fill-opacity="0.30"/>
<rect x="303.76" y="530.17" width="8.94" height="3.00" rx="1.50" fill="#000" fill-opacity="0.22"/>
<rect x="313.47" y="530.17" width="8.94" height="3.00" rx="1.50" fill="#000" fill-opacity="0.15"/>
<rect x="264.89" y="534.20" width="8.94" height="3.00" rx="1.50" fill="#000" fill-opacity="0.58"/>
<rect x="274.61" y="534.20" width="8.94" height="3.00" rx="1.50" fill="#000" fill-opacity="0.45"/>
<rect x="284.32" y="534.20" width="8.94" height="3.00" rx="1.50" fill="#000" fill-opacity="0.50"/>
<rect x="294.04" y="534.20" width="8.94" height="3.00" rx="1.50" fill="#000" fill-opacity="0.50"/>
<rect x="303.76" y="534.20" width="8.94" height="3.00" rx="1.50" fill="#000" fill-opacity="0.45"/>
<rect x="313.47" y="534.20" width="8.94" height="3.00" rx="1.50" fill="#000" fill-opacity="0.35"/>
</g></g>
<rect x="264.5" y="526.2" width="58.3" height="14.399999999999977" fill="none" stroke="#2a2a2a" stroke-width="1.0"/>
<clipPath id="c16"><rect x="264.5" y="543.2" width="58.3" height="14.299999999999955"/></clipPath>
<rect x="264.5" y="543.2" width="58.3" height="14.299999999999955" fill="#ececec"/>
<g clip-path="url(#c16)"><g filter="url(#bl)">
<rect x="264.89" y="548.03" width="8.94" height="3.20" rx="1.60" fill="#000" fill-opacity="0.72"/>
<rect x="274.61" y="548.03" width="8.94" height="3.20" rx="1.60" fill="#000" fill-opacity="0.70"/>
<rect x="284.32" y="548.03" width="8.94" height="3.20" rx="1.60" fill="#000" fill-opacity="0.72"/>
<rect x="294.04" y="548.03" width="8.94" height="3.20" rx="1.60" fill="#000" fill-opacity="0.72"/>
<rect x="303.76" y="548.03" width="8.94" height="3.20" rx="1.60" fill="#000" fill-opacity="0.68"/>
<rect x="313.47" y="548.03" width="8.94" height="3.20" rx="1.60" fill="#000" fill-opacity="0.70"/>
</g></g>
<rect x="264.5" y="543.2" width="58.3" height="14.299999999999955" fill="none" stroke="#2a2a2a" stroke-width="1.0"/>
<clipPath id="c17"><rect x="264.5" y="560.0" width="58.3" height="14.5"/></clipPath>
<rect x="264.5" y="560.0" width="58.3" height="14.5" fill="#ececec"/>
<g clip-path="url(#c17)"><g filter="url(#bl)">
<rect x="264.89" y="566.66" width="8.94" height="3.50" rx="1.75" fill="#000" fill-opacity="0.80"/>
<rect x="274.61" y="566.66" width="8.94" height="3.50" rx="1.75" fill="#000" fill-opacity="0.12"/>
<rect x="284.32" y="566.66" width="8.94" height="3.50" rx="1.75" fill="#000" fill-opacity="0.10"/>
<rect x="294.04" y="566.66" width="8.94" height="3.50" rx="1.75" fill="#000" fill-opacity="0.14"/>
<rect x="303.76" y="566.66" width="8.94" height="3.50" rx="1.75" fill="#000" fill-opacity="0.12"/>
<rect x="313.47" y="566.66" width="8.94" height="3.50" rx="1.75" fill="#000" fill-opacity="0.10"/>
<rect x="264.89" y="571.76" width="8.94" height="2.00" rx="1.00" fill="#000" fill-opacity="0.50"/>
<rect x="274.61" y="571.76" width="8.94" height="2.00" rx="1.00" fill="#000" fill-opacity="0.30"/>
<rect x="284.32" y="571.76" width="8.94" height="2.00" rx="1.00" fill="#000" fill-opacity="0.20"/>
<rect x="294.04" y="571.76" width="8.94" height="2.00" rx="1.00" fill="#000" fill-opacity="0.30"/>
<rect x="303.76" y="571.76" width="8.94" height="2.00" rx="1.00" fill="#000" fill-opacity="0.15"/>
<rect x="313.47" y="571.76" width="8.94" height="2.00" rx="1.00" fill="#000" fill-opacity="0.10"/>
<rect x="264.89" y="561.35" width="8.94" height="6.00" rx="3.00" fill="#000" fill-opacity="0.10"/>
<rect x="274.61" y="561.35" width="8.94" height="6.00" rx="3.00" fill="#000" fill-opacity="0.08"/>
<rect x="284.32" y="561.35" width="8.94" height="6.00" rx="3.00" fill="#000" fill-opacity="0.08"/>
<rect x="294.04" y="561.35" width="8.94" height="6.00" rx="3.00" fill="#000" fill-opacity="0.12"/>
<rect x="303.76" y="561.35" width="8.94" height="6.00" rx="3.00" fill="#000" fill-opacity="0.08"/>
<rect x="313.47" y="561.35" width="8.94" height="6.00" rx="3.00" fill="#000" fill-opacity="0.08"/>
</g></g>
<rect x="264.5" y="560.0" width="58.3" height="14.5" fill="none" stroke="#2a2a2a" stroke-width="1.0"/>
<clipPath id="c18"><rect x="264.5" y="577.3" width="58.3" height="15.0"/></clipPath>
<rect x="264.5" y="577.3" width="58.3" height="15.0" fill="#e4e4e4"/>
<g clip-path="url(#c18)"><g filter="url(#bl)">
<rect x="264.89" y="581.50" width="8.94" height="3.00" rx="1.50" fill="#000" fill-opacity="0.55"/>
<rect x="274.61" y="581.50" width="8.94" height="3.00" rx="1.50" fill="#000" fill-opacity="0.55"/>
<rect x="284.32" y="581.50" width="8.94" height="3.00" rx="1.50" fill="#000" fill-opacity="0.55"/>
<rect x="294.04" y="581.50" width="8.94" height="3.00" rx="1.50" fill="#000" fill-opacity="0.55"/>
<rect x="303.76" y="581.50" width="8.94" height="3.00" rx="1.50" fill="#000" fill-opacity="0.55"/>
<rect x="313.47" y="581.50" width="8.94" height="3.00" rx="1.50" fill="#000" fill-opacity="0.55"/>
<rect x="264.89" y="586.00" width="8.94" height="3.00" rx="1.50" fill="#000" fill-opacity="0.50"/>
<rect x="274.61" y="586.00" width="8.94" height="3.00" rx="1.50" fill="#000" fill-opacity="0.50"/>
<rect x="284.32" y="586.00" width="8.94" height="3.00" rx="1.50" fill="#000" fill-opacity="0.50"/>
<rect x="294.04" y="586.00" width="8.94" height="3.00" rx="1.50" fill="#000" fill-opacity="0.50"/>
<rect x="303.76" y="586.00" width="8.94" height="3.00" rx="1.50" fill="#000" fill-opacity="0.50"/>
<rect x="313.47" y="586.00" width="8.94" height="3.00" rx="1.50" fill="#000" fill-opacity="0.50"/>
</g></g>
<rect x="264.5" y="577.3" width="58.3" height="15.0" fill="none" stroke="#2a2a2a" stroke-width="1.0"/>
<clipPath id="c19"><rect x="264.5" y="595.3" width="58.3" height="16.0"/></clipPath>
<rect x="264.5" y="595.3" width="58.3" height="16.0" fill="#f0f0f0"/>
<g clip-path="url(#c19)"><g filter="url(#bl)">
<rect x="264.89" y="601.80" width="8.94" height="3.00" rx="1.50" fill="#000" fill-opacity="0.42"/>
<rect x="274.61" y="601.80" width="8.94" height="3.00" rx="1.50" fill="#000" fill-opacity="0.12"/>
<rect x="284.32" y="601.80" width="8.94" height="3.00" rx="1.50" fill="#000" fill-opacity="0.15"/>
<rect x="294.04" y="601.80" width="8.94" height="3.00" rx="1.50" fill="#000" fill-opacity="0.16"/>
<rect x="303.76" y="601.80" width="8.94" height="3.00" rx="1.50" fill="#000" fill-opacity="0.13"/>
<rect x="313.47" y="601.80" width="8.94" height="3.00" rx="1.50" fill="#000" fill-opacity="0.13"/>
</g></g>
<rect x="264.5" y="595.3" width="58.3" height="16.0" fill="none" stroke="#2a2a2a" stroke-width="1.0"/>
<clipPath id="c20"><rect x="264.5" y="613.4" width="58.3" height="15.899999999999977"/></clipPath>
<rect x="264.5" y="613.4" width="58.3" height="15.899999999999977" fill="#e8e8e8"/>
<g clip-path="url(#c20)"><g filter="url(#bl)">
<rect x="264.89" y="618.85" width="8.94" height="3.40" rx="1.70" fill="#000" fill-opacity="0.62"/>
<rect x="274.61" y="618.85" width="8.94" height="3.40" rx="1.70" fill="#000" fill-opacity="0.60"/>
<rect x="284.32" y="618.85" width="8.94" height="3.40" rx="1.70" fill="#000" fill-opacity="0.65"/>
<rect x="294.04" y="618.85" width="8.94" height="3.40" rx="1.70" fill="#000" fill-opacity="0.68"/>
<rect x="303.76" y="618.85" width="8.94" height="3.40" rx="1.70" fill="#000" fill-opacity="0.65"/>
<rect x="313.47" y="618.85" width="8.94" height="3.40" rx="1.70" fill="#000" fill-opacity="0.62"/>
<rect x="264.89" y="615.58" width="8.94" height="2.00" rx="1.00" fill="#000" fill-opacity="0.15"/>
<rect x="274.61" y="615.58" width="8.94" height="2.00" rx="1.00" fill="#000" fill-opacity="0.15"/>
<rect x="284.32" y="615.58" width="8.94" height="2.00" rx="1.00" fill="#000" fill-opacity="0.15"/>
<rect x="294.04" y="615.58" width="8.94" height="2.00" rx="1.00" fill="#000" fill-opacity="0.15"/>
<rect x="303.76" y="615.58" width="8.94" height="2.00" rx="1.00" fill="#000" fill-opacity="0.15"/>
<rect x="313.47" y="615.58" width="8.94" height="2.00" rx="1.00" fill="#000" fill-opacity="0.15"/>
</g></g>
<rect x="264.5" y="613.4" width="58.3" height="15.899999999999977" fill="none" stroke="#2a2a2a" stroke-width="1.0"/>
<clipPath id="c21"><rect x="264.5" y="631.0" width="58.3" height="26.299999999999955"/></clipPath>
<rect x="264.5" y="631.0" width="58.3" height="26.299999999999955" fill="#f0f0f0"/>
<g clip-path="url(#c21)"><g filter="url(#bl)">
<rect x="264.89" y="638.70" width="8.94" height="3.00" rx="1.50" fill="#000" fill-opacity="0.95"/>
<rect x="274.61" y="638.70" width="8.94" height="3.00" rx="1.50" fill="#000" fill-opacity="0.85"/>
<rect x="284.32" y="638.70" width="8.94" height="3.00" rx="1.50" fill="#000" fill-opacity="0.75"/>
<rect x="294.04" y="638.70" width="8.94" height="3.00" rx="1.50" fill="#000" fill-opacity="0.75"/>
<rect x="303.76" y="638.70" width="8.94" height="3.00" rx="1.50" fill="#000" fill-opacity="0.72"/>
<rect x="313.47" y="638.70" width="8.94" height="3.00" rx="1.50" fill="#000" fill-opacity="0.72"/>
<rect x="264.89" y="648.34" width="8.94" height="3.20" rx="1.60" fill="#000" fill-opacity="0.05"/>
<rect x="274.61" y="648.34" width="8.94" height="3.20" rx="1.60" fill="#000" fill-opacity="0.55"/>
<rect x="284.32" y="648.34" width="8.94" height="3.20" rx="1.60" fill="#000" fill-opacity="0.68"/>
<rect x="294.04" y="648.34" width="8.94" height="3.20" rx="1.60" fill="#000" fill-opacity="0.72"/>
<rect x="303.76" y="648.34" width="8.94" height="3.20" rx="1.60" fill="#000" fill-opacity="0.66"/>
<rect x="313.47" y="648.34" width="8.94" height="3.20" rx="1.60" fill="#000" fill-opacity="0.75"/>
</g></g>
<rect x="264.5" y="631.0" width="58.3" height="26.299999999999955" fill="none" stroke="#2a2a2a" stroke-width="1.0"/>
<clipPath id="c22"><rect x="264.5" y="663.0" width="58.3" height="12.700000000000045"/></clipPath>
<rect x="264.5" y="663.0" width="58.3" height="12.700000000000045" fill="#ececec"/>
<g clip-path="url(#c22)"><g filter="url(#bl)">
<rect x="264.89" y="667.85" width="8.94" height="3.00" rx="1.50" fill="#000" fill-opacity="0.65"/>
<rect x="274.61" y="667.85" width="8.94" height="3.00" rx="1.50" fill="#000" fill-opacity="0.60"/>
<rect x="284.32" y="667.85" width="8.94" height="3.00" rx="1.50" fill="#000" fill-opacity="0.55"/>
<rect x="294.04" y="667.85" width="8.94" height="3.00" rx="1.50" fill="#000" fill-opacity="0.55"/>
<rect x="303.76" y="667.85" width="8.94" height="3.00" rx="1.50" fill="#000" fill-opacity="0.60"/>
<rect x="313.47" y="667.85" width="8.94" height="3.00" rx="1.50" fill="#000" fill-opacity="0.60"/>
</g></g>
<rect x="264.5" y="663.0" width="58.3" height="12.700000000000045" fill="none" stroke="#2a2a2a" stroke-width="1.0"/>
<clipPath id="c23"><rect x="324.9" y="455.9" width="58.3" height="14.700000000000045"/></clipPath>
<rect x="324.9" y="455.9" width="58.3" height="14.700000000000045" fill="#e8e8e8"/>
<g clip-path="url(#c23)"><g filter="url(#bl)">
<rect x="325.29" y="461.65" width="8.94" height="3.20" rx="1.60" fill="#000" fill-opacity="0.72"/>
<rect x="335.01" y="461.65" width="8.94" height="3.20" rx="1.60" fill="#000" fill-opacity="0.72"/>
<rect x="344.72" y="461.65" width="8.94" height="3.20" rx="1.60" fill="#000" fill-opacity="0.72"/>
<rect x="354.44" y="461.65" width="8.94" height="3.20" rx="1.60" fill="#000" fill-opacity="0.72"/>
<rect x="364.16" y="461.65" width="8.94" height="3.20" rx="1.60" fill="#000" fill-opacity="0.48"/>
<rect x="373.87" y="461.65" width="8.94" height="3.20" rx="1.60" fill="#000" fill-opacity="0.42"/>
</g></g>
<rect x="324.9" y="455.9" width="58.3" height="14.700000000000045" fill="none" stroke="#2a2a2a" stroke-width="1.0"/>
<clipPath id="c24"><rect x="324.9" y="472.8" width="58.3" height="16.19999999999999"/></clipPath>
<rect x="324.9" y="472.8" width="58.3" height="16.19999999999999" fill="#e2e2e2"/>
<g clip-path="url(#c24)"><g filter="url(#bl)">
<rect x="325.29" y="477.59" width="8.94" height="5.00" rx="2.50" fill="#000" fill-opacity="0.60"/>
<rect x="335.01" y="477.59" width="8.94" height="5.00" rx="2.50" fill="#000" fill-opacity="0.50"/>
<rect x="344.72" y="477.59" width="8.94" height="5.00" rx="2.50" fill="#000" fill-opacity="0.55"/>
<rect x="354.44" y="477.59" width="8.94" height="5.00" rx="2.50" fill="#000" fill-opacity="0.60"/>
<rect x="364.16" y="477.59" width="8.94" height="5.00" rx="2.50" fill="#000" fill-opacity="0.62"/>
<rect x="373.87" y="477.59" width="8.94" height="5.00" rx="2.50" fill="#000" fill-opacity="0.75"/>
<rect x="325.29" y="484.76" width="8.94" height="2.00" rx="1.00" fill="#000" fill-opacity="0.20"/>
<rect x="335.01" y="484.76" width="8.94" height="2.00" rx="1.00" fill="#000" fill-opacity="0.20"/>
<rect x="344.72" y="484.76" width="8.94" height="2.00" rx="1.00" fill="#000" fill-opacity="0.20"/>
<rect x="354.44" y="484.76" width="8.94" height="2.00" rx="1.00" fill="#000" fill-opacity="0.20"/>
<rect x="364.16" y="484.76" width="8.94" height="2.00" rx="1.00" fill="#000" fill-opacity="0.20"/>
<rect x="373.87" y="484.76" width="8.94" height="2.00" rx="1.00" fill="#000" fill-opacity="0.20"/>
</g></g>
<rect x="324.9" y="472.8" width="58.3" height="16.19999999999999" fill="none" stroke="#2a2a2a" stroke-width="1.0"/>
<clipPath id="c25"><rect x="324.9" y="526.2" width="58.3" height="14.399999999999977"/></clipPath>
<rect x="324.9" y="526.2" width="58.3" height="14.399999999999977" fill="#f0f0f0"/>
<g clip-path="url(#c25)"><g filter="url(#bl)">
<rect x="325.29" y="531.61" width="8.94" height="3.00" rx="1.50" fill="#000" fill-opacity="0.50"/>
<rect x="335.01" y="531.61" width="8.94" height="3.00" rx="1.50" fill="#000" fill-opacity="0.60"/>
<rect x="344.72" y="531.61" width="8.94" height="3.00" rx="1.50" fill="#000" fill-opacity="0.60"/>
<rect x="354.44" y="531.61" width="8.94" height="3.00" rx="1.50" fill="#000" fill-opacity="0.55"/>
<rect x="364.16" y="531.61" width="8.94" height="3.00" rx="1.50" fill="#000" fill-opacity="0.35"/>
<rect x="373.87" y="531.61" width="8.94" height="3.00" rx="1.50" fill="#000" fill-opacity="0.15"/>
</g></g>
<rect x="324.9" y="526.2" width="58.3" height="14.399999999999977" fill="none" stroke="#2a2a2a" stroke-width="1.0"/>
<clipPath id="c26"><rect x="324.9" y="543.2" width="58.3" height="14.299999999999955"/></clipPath>
<rect x="324.9" y="543.2" width="58.3" height="14.299999999999955" fill="#eaeaea"/>
<g clip-path="url(#c26)"><g filter="url(#bl)">
<rect x="325.29" y="548.46" width="8.94" height="3.20" rx="1.60" fill="#000" fill-opacity="0.65"/>
<rect x="335.01" y="548.46" width="8.94" height="3.20" rx="1.60" fill="#000" fill-opacity="0.65"/>
<rect x="344.72" y="548.46" width="8.94" height="3.20" rx="1.60" fill="#000" fill-opacity="0.65"/>
<rect x="354.44" y="548.46" width="8.94" height="3.20" rx="1.60" fill="#000" fill-opacity="0.65"/>
<rect x="364.16" y="548.46" width="8.94" height="3.20" rx="1.60" fill="#000" fill-opacity="0.65"/>
<rect x="373.87" y="548.46" width="8.94" height="3.20" rx="1.60" fill="#000" fill-opacity="0.65"/>
</g></g>
<rect x="324.9" y="543.2" width="58.3" height="14.299999999999955" fill="none" stroke="#2a2a2a" stroke-width="1.0"/>
<clipPath id="c27"><rect x="324.9" y="560.0" width="58.3" height="14.5"/></clipPath>
<rect x="324.9" y="560.0" width="58.3" height="14.5" fill="#eeeeee"/>
<g clip-path="url(#c27)"><g filter="url(#bl)">
<rect x="325.29" y="566.27" width="8.94" height="3.40" rx="1.70" fill="#000" fill-opacity="0.55"/>
<rect x="335.01" y="566.27" width="8.94" height="3.40" rx="1.70" fill="#000" fill-opacity="0.65"/>
<rect x="344.72" y="566.27" width="8.94" height="3.40" rx="1.70" fill="#000" fill-opacity="0.70"/>
<rect x="354.44" y="566.27" width="8.94" height="3.40" rx="1.70" fill="#000" fill-opacity="0.65"/>
<rect x="364.16" y="566.27" width="8.94" height="3.40" rx="1.70" fill="#000" fill-opacity="0.60"/>
<rect x="373.87" y="566.27" width="8.94" height="3.40" rx="1.70" fill="#000" fill-opacity="0.45"/>
</g></g>
<rect x="324.9" y="560.0" width="58.3" height="14.5" fill="none" stroke="#2a2a2a" stroke-width="1.0"/>
<clipPath id="c28"><rect x="324.9" y="577.3" width="58.3" height="15.0"/></clipPath>
<rect x="324.9" y="577.3" width="58.3" height="15.0" fill="#e4e4e4"/>
<g clip-path="url(#c28)"><g filter="url(#bl)">
<rect x="325.29" y="581.50" width="8.94" height="3.00" rx="1.50" fill="#000" fill-opacity="0.55"/>
<rect x="335.01" y="581.50" width="8.94" height="3.00" rx="1.50" fill="#000" fill-opacity="0.55"/>
<rect x="344.72" y="581.50" width="8.94" height="3.00" rx="1.50" fill="#000" fill-opacity="0.50"/>
<rect x="354.44" y="581.50" width="8.94" height="3.00" rx="1.50" fill="#000" fill-opacity="0.50"/>
<rect x="364.16" y="581.50" width="8.94" height="3.00" rx="1.50" fill="#000" fill-opacity="0.55"/>
<rect x="373.87" y="581.50" width="8.94" height="3.00" rx="1.50" fill="#000" fill-opacity="0.55"/>
<rect x="325.29" y="585.70" width="8.94" height="3.00" rx="1.50" fill="#000" fill-opacity="0.50"/>
<rect x="335.01" y="585.70" width="8.94" height="3.00" rx="1.50" fill="#000" fill-opacity="0.45"/>
<rect x="344.72" y="585.70" width="8.94" height="3.00" rx="1.50" fill="#000" fill-opacity="0.45"/>
<rect x="354.44" y="585.70" width="8.94" height="3.00" rx="1.50" fill="#000" fill-opacity="0.45"/>
<rect x="364.16" y="585.70" width="8.94" height="3.00" rx="1.50" fill="#000" fill-opacity="0.50"/>
<rect x="373.87" y="585.70" width="8.94" height="3.00" rx="1.50" fill="#000" fill-opacity="0.55"/>
</g></g>
<rect x="324.9" y="577.3" width="58.3" height="15.0" fill="none" stroke="#2a2a2a" stroke-width="1.0"/>
<clipPath id="c29"><rect x="324.9" y="595.3" width="58.3" height="16.0"/></clipPath>
<rect x="324.9" y="595.3" width="58.3" height="16.0" fill="#f0f0f0"/>
<g clip-path="url(#c29)"><g filter="url(#bl)">
<rect x="325.29" y="601.70" width="8.94" height="3.20" rx="1.60" fill="#000" fill-opacity="0.75"/>
<rect x="335.01" y="601.70" width="8.94" height="3.20" rx="1.60" fill="#000" fill-opacity="0.72"/>
<rect x="344.72" y="601.70" width="8.94" height="3.20" rx="1.60" fill="#000" fill-opacity="0.75"/>
<rect x="354.44" y="601.70" width="8.94" height="3.20" rx="1.60" fill="#000" fill-opacity="0.75"/>
<rect x="364.16" y="601.70" width="8.94" height="3.20" rx="1.60" fill="#000" fill-opacity="0.40"/>
<rect x="373.87" y="601.70" width="8.94" height="3.20" rx="1.60" fill="#000" fill-opacity="0.12"/>
</g></g>
<rect x="324.9" y="595.3" width="58.3" height="16.0" fill="none" stroke="#2a2a2a" stroke-width="1.0"/>
<clipPath id="c30"><rect x="324.9" y="613.4" width="58.3" height="15.899999999999977"/></clipPath>
<rect x="324.9" y="613.4" width="58.3" height="15.899999999999977" fill="#ececec"/>
<g clip-path="url(#c30)"><g filter="url(#bl)">
<rect x="325.29" y="617.84" width="8.94" height="3.20" rx="1.60" fill="#000" fill-opacity="0.55"/>
<rect x="335.01" y="617.84" width="8.94" height="3.20" rx="1.60" fill="#000" fill-opacity="0.50"/>
<rect x="344.72" y="617.84" width="8.94" height="3.20" rx="1.60" fill="#000" fill-opacity="0.45"/>
<rect x="354.44" y="617.84" width="8.94" height="3.20" rx="1.60" fill="#000" fill-opacity="0.45"/>
<rect x="364.16" y="617.84" width="8.94" height="3.20" rx="1.60" fill="#000" fill-opacity="0.45"/>
<rect x="373.87" y="617.84" width="8.94" height="3.20" rx="1.60" fill="#000" fill-opacity="0.45"/>
</g></g>
<rect x="324.9" y="613.4" width="58.3" height="15.899999999999977" fill="none" stroke="#2a2a2a" stroke-width="1.0"/>
<clipPath id="c31"><rect x="324.9" y="631.0" width="58.3" height="26.299999999999955"/></clipPath>
<rect x="324.9" y="631.0" width="58.3" height="26.299999999999955" fill="#f4f4f4"/>
<g clip-path="url(#c31)"><g filter="url(#bl)">
<rect x="325.29" y="637.09" width="8.94" height="3.60" rx="1.80" fill="#000" fill-opacity="0.95"/>
<rect x="335.01" y="637.09" width="8.94" height="3.60" rx="1.80" fill="#000" fill-opacity="0.95"/>
<rect x="344.72" y="637.09" width="8.94" height="3.60" rx="1.80" fill="#000" fill-opacity="0.95"/>
<rect x="354.44" y="637.09" width="8.94" height="3.60" rx="1.80" fill="#000" fill-opacity="0.95"/>
<rect x="364.16" y="637.09" width="8.94" height="3.60" rx="1.80" fill="#000" fill-opacity="0.95"/>
<rect x="373.87" y="637.09" width="8.94" height="3.60" rx="1.80" fill="#000" fill-opacity="0.95"/>
<rect x="325.29" y="647.91" width="8.94" height="3.00" rx="1.50" fill="#000" fill-opacity="0.08"/>
<rect x="335.01" y="647.91" width="8.94" height="3.00" rx="1.50" fill="#000" fill-opacity="0.08"/>
<rect x="344.72" y="647.91" width="8.94" height="3.00" rx="1.50" fill="#000" fill-opacity="0.08"/>
<rect x="354.44" y="647.91" width="8.94" height="3.00" rx="1.50" fill="#000" fill-opacity="0.08"/>
<rect x="364.16" y="647.91" width="8.94" height="3.00" rx="1.50" fill="#000" fill-opacity="0.08"/>
<rect x="373.87" y="647.91" width="8.94" height="3.00" rx="1.50" fill="#000" fill-opacity="0.08"/>
</g></g>
<rect x="324.9" y="631.0" width="58.3" height="26.299999999999955" fill="none" stroke="#2a2a2a" stroke-width="1.0"/>
<clipPath id="c32"><rect x="324.9" y="663.0" width="58.3" height="12.700000000000045"/></clipPath>
<rect x="324.9" y="663.0" width="58.3" height="12.700000000000045" fill="#f0f0f0"/>
<g clip-path="url(#c32)"><g filter="url(#bl)">
<rect x="325.29" y="667.22" width="8.94" height="3.00" rx="1.50" fill="#000" fill-opacity="0.45"/>
<rect x="335.01" y="667.22" width="8.94" height="3.00" rx="1.50" fill="#000" fill-opacity="0.45"/>
<rect x="344.72" y="667.22" width="8.94" height="3.00" rx="1.50" fill="#000" fill-opacity="0.45"/>
<rect x="354.44" y="667.22" width="8.94" height="3.00" rx="1.50" fill="#000" fill-opacity="0.45"/>
<rect x="364.16" y="667.22" width="8.94" height="3.00" rx="1.50" fill="#000" fill-opacity="0.50"/>
<rect x="373.87" y="667.22" width="8.94" height="3.00" rx="1.50" fill="#000" fill-opacity="0.50"/>
</g></g>
<rect x="324.9" y="663.0" width="58.3" height="12.700000000000045" fill="none" stroke="#2a2a2a" stroke-width="1.0"/>
<clipPath id="c33"><rect x="385.3" y="455.9" width="58.3" height="14.700000000000045"/></clipPath>
<rect x="385.3" y="455.9" width="58.3" height="14.700000000000045" fill="#e2e2e2"/>
<g clip-path="url(#c33)"><g filter="url(#bl)">
<rect x="385.69" y="460.91" width="8.94" height="3.20" rx="1.60" fill="#000" fill-opacity="0.55"/>
<rect x="395.41" y="460.91" width="8.94" height="3.20" rx="1.60" fill="#000" fill-opacity="0.70"/>
<rect x="405.12" y="460.91" width="8.94" height="3.20" rx="1.60" fill="#000" fill-opacity="0.60"/>
<rect x="414.84" y="460.91" width="8.94" height="3.20" rx="1.60" fill="#000" fill-opacity="0.50"/>
<rect x="424.56" y="460.91" width="8.94" height="3.20" rx="1.60" fill="#000" fill-opacity="0.60"/>
<rect x="434.27" y="460.91" width="8.94" height="3.20" rx="1.60" fill="#000" fill-opacity="0.50"/>
</g></g>
<rect x="385.3" y="455.9" width="58.3" height="14.700000000000045" fill="none" stroke="#2a2a2a" stroke-width="1.0"/>
<clipPath id="c34"><rect x="385.3" y="472.8" width="58.3" height="16.19999999999999"/></clipPath>
<rect x="385.3" y="472.8" width="58.3" height="16.19999999999999" fill="#e4e4e4"/>
<g clip-path="url(#c34)"><g filter="url(#bl)">
<rect x="385.69" y="478.90" width="8.94" height="4.00" rx="2.00" fill="#000" fill-opacity="0.62"/>
<rect x="395.41" y="478.90" width="8.94" height="4.00" rx="2.00" fill="#000" fill-opacity="0.50"/>
<rect x="405.12" y="478.90" width="8.94" height="4.00" rx="2.00" fill="#000" fill-opacity="0.45"/>
<rect x="414.84" y="478.90" width="8.94" height="4.00" rx="2.00" fill="#000" fill-opacity="0.35"/>
<rect x="424.56" y="478.90" width="8.94" height="4.00" rx="2.00" fill="#000" fill-opacity="0.35"/>
<rect x="434.27" y="478.90" width="8.94" height="4.00" rx="2.00" fill="#000" fill-opacity="0.30"/>
</g></g>
<rect x="385.3" y="472.8" width="58.3" height="16.19999999999999" fill="none" stroke="#2a2a2a" stroke-width="1.0"/>
<clipPath id="c35"><rect x="385.3" y="526.2" width="58.3" height="14.399999999999977"/></clipPath>
<rect x="385.3" y="526.2" width="58.3" height="14.399999999999977" fill="#eeeeee"/>
<g clip-path="url(#c35)"><g filter="url(#bl)">
<rect x="385.69" y="530.58" width="8.94" height="4.20" rx="2.10" fill="#000" fill-opacity="1.00"/>
<rect x="395.41" y="530.58" width="8.94" height="4.20" rx="2.10" fill="#000" fill-opacity="1.00"/>
<rect x="405.12" y="530.58" width="8.94" height="4.20" rx="2.10" fill="#000" fill-opacity="1.00"/>
<rect x="414.84" y="530.58" width="8.94" height="4.20" rx="2.10" fill="#000" fill-opacity="1.00"/>
<rect x="424.56" y="530.58" width="8.94" height="4.20" rx="2.10" fill="#000" fill-opacity="1.00"/>
<rect x="434.27" y="530.58" width="8.94" height="4.20" rx="2.10" fill="#000" fill-opacity="0.35"/>
</g></g>
<rect x="385.3" y="526.2" width="58.3" height="14.399999999999977" fill="none" stroke="#2a2a2a" stroke-width="1.0"/>
<clipPath id="c36"><rect x="385.3" y="543.2" width="58.3" height="14.299999999999955"/></clipPath>
<rect x="385.3" y="543.2" width="58.3" height="14.299999999999955" fill="#eeeeee"/>
<g clip-path="url(#c36)"><g filter="url(#bl)">
<rect x="385.69" y="548.45" width="8.94" height="3.80" rx="1.90" fill="#000" fill-opacity="0.95"/>
<rect x="395.41" y="548.45" width="8.94" height="3.80" rx="1.90" fill="#000" fill-opacity="0.98"/>
<rect x="405.12" y="548.45" width="8.94" height="3.80" rx="1.90" fill="#000" fill-opacity="0.92"/>
<rect x="414.84" y="548.45" width="8.94" height="3.80" rx="1.90" fill="#000" fill-opacity="0.88"/>
<rect x="424.56" y="548.45" width="8.94" height="3.80" rx="1.90" fill="#000" fill-opacity="0.92"/>
<rect x="434.27" y="548.45" width="8.94" height="3.80" rx="1.90" fill="#000" fill-opacity="0.88"/>
</g></g>
<rect x="385.3" y="543.2" width="58.3" height="14.299999999999955" fill="none" stroke="#2a2a2a" stroke-width="1.0"/>
<clipPath id="c37"><rect x="385.3" y="560.0" width="58.3" height="14.5"/></clipPath>
<rect x="385.3" y="560.0" width="58.3" height="14.5" fill="#e4e4e4"/>
<g clip-path="url(#c37)"><g filter="url(#bl)">
<rect x="385.69" y="563.58" width="8.94" height="3.00" rx="1.50" fill="#000" fill-opacity="0.45"/>
<rect x="395.41" y="563.58" width="8.94" height="3.00" rx="1.50" fill="#000" fill-opacity="0.55"/>
<rect x="405.12" y="563.58" width="8.94" height="3.00" rx="1.50" fill="#000" fill-opacity="0.50"/>
<rect x="414.84" y="563.58" width="8.94" height="3.00" rx="1.50" fill="#000" fill-opacity="0.50"/>
<rect x="424.56" y="563.58" width="8.94" height="3.00" rx="1.50" fill="#000" fill-opacity="0.50"/>
<rect x="434.27" y="563.58" width="8.94" height="3.00" rx="1.50" fill="#000" fill-opacity="0.25"/>
<rect x="385.69" y="568.07" width="8.94" height="3.00" rx="1.50" fill="#000" fill-opacity="0.40"/>
<rect x="395.41" y="568.07" width="8.94" height="3.00" rx="1.50" fill="#000" fill-opacity="0.45"/>
<rect x="405.12" y="568.07" width="8.94" height="3.00" rx="1.50" fill="#000" fill-opacity="0.45"/>
<rect x="414.84" y="568.07" width="8.94" height="3.00" rx="1.50" fill="#000" fill-opacity="0.45"/>
<rect x="424.56" y="568.07" width="8.94" height="3.00" rx="1.50" fill="#000" fill-opacity="0.45"/>
<rect x="434.27" y="568.07" width="8.94" height="3.00" rx="1.50" fill="#000" fill-opacity="0.25"/>
</g></g>
<rect x="385.3" y="560.0" width="58.3" height="14.5" fill="none" stroke="#2a2a2a" stroke-width="1.0"/>
<clipPath id="c38"><rect x="385.3" y="577.3" width="58.3" height="15.0"/></clipPath>
<rect x="385.3" y="577.3" width="58.3" height="15.0" fill="#e8e8e8"/>
<g clip-path="url(#c38)"><g filter="url(#bl)">
<rect x="385.69" y="583.00" width="8.94" height="3.60" rx="1.80" fill="#000" fill-opacity="0.72"/>
<rect x="395.41" y="583.00" width="8.94" height="3.60" rx="1.80" fill="#000" fill-opacity="0.72"/>
<rect x="405.12" y="583.00" width="8.94" height="3.60" rx="1.80" fill="#000" fill-opacity="0.72"/>
<rect x="414.84" y="583.00" width="8.94" height="3.60" rx="1.80" fill="#000" fill-opacity="0.72"/>
<rect x="424.56" y="583.00" width="8.94" height="3.60" rx="1.80" fill="#000" fill-opacity="0.72"/>
<rect x="434.27" y="583.00" width="8.94" height="3.60" rx="1.80" fill="#000" fill-opacity="0.72"/>
</g></g>
<rect x="385.3" y="577.3" width="58.3" height="15.0" fill="none" stroke="#2a2a2a" stroke-width="1.0"/>
<clipPath id="c39"><rect x="385.3" y="595.3" width="58.3" height="16.0"/></clipPath>
<rect x="385.3" y="595.3" width="58.3" height="16.0" fill="#f0f0f0"/>
<g clip-path="url(#c39)"><g filter="url(#bl)">
<rect x="385.69" y="600.10" width="8.94" height="3.20" rx="1.60" fill="#000" fill-opacity="0.90"/>
<rect x="395.41" y="600.10" width="8.94" height="3.20" rx="1.60" fill="#000" fill-opacity="1.00"/>
<rect x="405.12" y="600.10" width="8.94" height="3.20" rx="1.60" fill="#000" fill-opacity="0.72"/>
<rect x="414.84" y="600.10" width="8.94" height="3.20" rx="1.60" fill="#000" fill-opacity="0.62"/>
<rect x="424.56" y="600.10" width="8.94" height="3.20" rx="1.60" fill="#000" fill-opacity="0.40"/>
<rect x="434.27" y="600.10" width="8.94" height="3.20" rx="1.60" fill="#000" fill-opacity="0.10"/>
<rect x="385.69" y="596.70" width="8.94" height="2.00" rx="1.00" fill="#000" fill-opacity="0.20"/>
<rect x="395.41" y="596.70" width="8.94" height="2.00" rx="1.00" fill="#000" fill-opacity="0.20"/>
<rect x="405.12" y="596.70" width="8.94" height="2.00" rx="1.00" fill="#000" fill-opacity="0.20"/>
<rect x="414.84" y="596.70" width="8.94" height="2.00" rx="1.00" fill="#000" fill-opacity="0.20"/>
<rect x="424.56" y="596.70" width="8.94" height="2.00" rx="1.00" fill="#000" fill-opacity="0.20"/>
<rect x="434.27" y="596.70" width="8.94" height="2.00" rx="1.00" fill="#000" fill-opacity="0.20"/>
</g></g>
<rect x="385.3" y="595.3" width="58.3" height="16.0" fill="none" stroke="#2a2a2a" stroke-width="1.0"/>
<clipPath id="c40"><rect x="385.3" y="613.4" width="58.3" height="15.899999999999977"/></clipPath>
<rect x="385.3" y="613.4" width="58.3" height="15.899999999999977" fill="#ececec"/>
<g clip-path="url(#c40)"><g filter="url(#bl)">
<rect x="385.69" y="618.95" width="8.94" height="3.20" rx="1.60" fill="#000" fill-opacity="0.50"/>
<rect x="395.41" y="618.95" width="8.94" height="3.20" rx="1.60" fill="#000" fill-opacity="0.50"/>
<rect x="405.12" y="618.95" width="8.94" height="3.20" rx="1.60" fill="#000" fill-opacity="0.50"/>
<rect x="414.84" y="618.95" width="8.94" height="3.20" rx="1.60" fill="#000" fill-opacity="0.50"/>
<rect x="424.56" y="618.95" width="8.94" height="3.20" rx="1.60" fill="#000" fill-opacity="0.50"/>
<rect x="434.27" y="618.95" width="8.94" height="3.20" rx="1.60" fill="#000" fill-opacity="0.50"/>
</g></g>
<rect x="385.3" y="613.4" width="58.3" height="15.899999999999977" fill="none" stroke="#2a2a2a" stroke-width="1.0"/>
<clipPath id="c41"><rect x="385.3" y="631.0" width="58.3" height="26.299999999999955"/></clipPath>
<rect x="385.3" y="631.0" width="58.3" height="26.299999999999955" fill="#f4f4f4"/>
<g clip-path="url(#c41)"><g filter="url(#bl)">
<rect x="385.69" y="638.30" width="8.94" height="3.80" rx="1.90" fill="#000" fill-opacity="0.95"/>
<rect x="395.41" y="638.30" width="8.94" height="3.80" rx="1.90" fill="#000" fill-opacity="0.95"/>
<rect x="405.12" y="638.30" width="8.94" height="3.80" rx="1.90" fill="#000" fill-opacity="0.95"/>
<rect x="414.84" y="638.30" width="8.94" height="3.80" rx="1.90" fill="#000" fill-opacity="0.95"/>
<rect x="424.56" y="638.30" width="8.94" height="3.80" rx="1.90" fill="#000" fill-opacity="0.95"/>
<rect x="434.27" y="638.30" width="8.94" height="3.80" rx="1.90" fill="#000" fill-opacity="0.95"/>
<rect x="385.69" y="647.91" width="8.94" height="3.00" rx="1.50" fill="#000" fill-opacity="0.10"/>
<rect x="395.41" y="647.91" width="8.94" height="3.00" rx="1.50" fill="#000" fill-opacity="0.10"/>
<rect x="405.12" y="647.91" width="8.94" height="3.00" rx="1.50" fill="#000" fill-opacity="0.10"/>
<rect x="414.84" y="647.91" width="8.94" height="3.00" rx="1.50" fill="#000" fill-opacity="0.10"/>
<rect x="424.56" y="647.91" width="8.94" height="3.00" rx="1.50" fill="#000" fill-opacity="0.10"/>
<rect x="434.27" y="647.91" width="8.94" height="3.00" rx="1.50" fill="#000" fill-opacity="0.10"/>
</g></g>
<rect x="385.3" y="631.0" width="58.3" height="26.299999999999955" fill="none" stroke="#2a2a2a" stroke-width="1.0"/>
<clipPath id="c42"><rect x="385.3" y="663.0" width="58.3" height="12.700000000000045"/></clipPath>
<rect x="385.3" y="663.0" width="58.3" height="12.700000000000045" fill="#f2f2f2"/>
<g clip-path="url(#c42)"><g filter="url(#bl)">
<rect x="385.69" y="667.85" width="8.94" height="3.00" rx="1.50" fill="#000" fill-opacity="0.50"/>
<rect x="395.41" y="667.85" width="8.94" height="3.00" rx="1.50" fill="#000" fill-opacity="0.50"/>
<rect x="405.12" y="667.85" width="8.94" height="3.00" rx="1.50" fill="#000" fill-opacity="0.50"/>
<rect x="414.84" y="667.85" width="8.94" height="3.00" rx="1.50" fill="#000" fill-opacity="0.50"/>
<rect x="424.56" y="667.85" width="8.94" height="3.00" rx="1.50" fill="#000" fill-opacity="0.50"/>
<rect x="434.27" y="667.85" width="8.94" height="3.00" rx="1.50" fill="#000" fill-opacity="0.50"/>
</g></g>
<rect x="385.3" y="663.0" width="58.3" height="12.700000000000045" fill="none" stroke="#2a2a2a" stroke-width="1.0"/>
<clipPath id="c43"><rect x="445.6" y="492.2" width="58.3" height="14.300000000000011"/></clipPath>
<rect x="445.6" y="492.2" width="58.3" height="14.300000000000011" fill="#dcdcdc"/>
<g clip-path="url(#c43)"><g filter="url(#bl)">
<rect x="445.99" y="498.56" width="8.94" height="3.00" rx="1.50" fill="#000" fill-opacity="0.45"/>
<rect x="455.71" y="498.56" width="8.94" height="3.00" rx="1.50" fill="#000" fill-opacity="0.45"/>
<rect x="465.42" y="498.56" width="8.94" height="3.00" rx="1.50" fill="#000" fill-opacity="0.40"/>
<rect x="475.14" y="498.56" width="8.94" height="3.00" rx="1.50" fill="#000" fill-opacity="0.45"/>
<rect x="484.86" y="498.56" width="8.94" height="3.00" rx="1.50" fill="#000" fill-opacity="0.40"/>
<rect x="494.57" y="498.56" width="8.94" height="3.00" rx="1.50" fill="#000" fill-opacity="0.35"/>
<rect x="445.99" y="493.81" width="8.94" height="2.50" rx="1.25" fill="#000" fill-opacity="0.15"/>
<rect x="455.71" y="493.81" width="8.94" height="2.50" rx="1.25" fill="#000" fill-opacity="0.15"/>
<rect x="465.42" y="493.81" width="8.94" height="2.50" rx="1.25" fill="#000" fill-opacity="0.15"/>
<rect x="475.14" y="493.81" width="8.94" height="2.50" rx="1.25" fill="#000" fill-opacity="0.15"/>
<rect x="484.86" y="493.81" width="8.94" height="2.50" rx="1.25" fill="#000" fill-opacity="0.15"/>
<rect x="494.57" y="493.81" width="8.94" height="2.50" rx="1.25" fill="#000" fill-opacity="0.15"/>
</g></g>
<rect x="445.6" y="492.2" width="58.3" height="14.300000000000011" fill="none" stroke="#2a2a2a" stroke-width="1.0"/>
<clipPath id="c44"><rect x="445.6" y="509.2" width="58.3" height="14.199999999999989"/></clipPath>
<rect x="445.6" y="509.2" width="58.3" height="14.199999999999989" fill="#eeeeee"/>
<g clip-path="url(#c44)"><g filter="url(#bl)">
<rect x="445.99" y="514.80" width="8.94" height="3.00" rx="1.50" fill="#000" fill-opacity="0.60"/>
<rect x="455.71" y="514.80" width="8.94" height="3.00" rx="1.50" fill="#000" fill-opacity="0.65"/>
<rect x="465.42" y="514.80" width="8.94" height="3.00" rx="1.50" fill="#000" fill-opacity="0.45"/>
<rect x="475.14" y="514.80" width="8.94" height="3.00" rx="1.50" fill="#000" fill-opacity="0.65"/>
<rect x="484.86" y="514.80" width="8.94" height="3.00" rx="1.50" fill="#000" fill-opacity="0.65"/>
<rect x="494.57" y="514.80" width="8.94" height="3.00" rx="1.50" fill="#000" fill-opacity="0.60"/>
</g></g>
<rect x="445.6" y="509.2" width="58.3" height="14.199999999999989" fill="none" stroke="#2a2a2a" stroke-width="1.0"/>
<clipPath id="c45"><rect x="445.6" y="526.2" width="58.3" height="14.399999999999977"/></clipPath>
<rect x="445.6" y="526.2" width="58.3" height="14.399999999999977" fill="#f0f0f0"/>
<g clip-path="url(#c45)"><g filter="url(#bl)">
<rect x="445.99" y="531.08" width="8.94" height="3.20" rx="1.60" fill="#000" fill-opacity="0.92"/>
<rect x="455.71" y="531.08" width="8.94" height="3.20" rx="1.60" fill="#000" fill-opacity="0.95"/>
<rect x="465.42" y="531.08" width="8.94" height="3.20" rx="1.60" fill="#000" fill-opacity="0.85"/>
<rect x="475.14" y="531.08" width="8.94" height="3.20" rx="1.60" fill="#000" fill-opacity="0.90"/>
<rect x="484.86" y="531.08" width="8.94" height="3.20" rx="1.60" fill="#000" fill-opacity="0.55"/>
<rect x="494.57" y="531.08" width="8.94" height="3.20" rx="1.60" fill="#000" fill-opacity="0.35"/>
</g></g>
<rect x="445.6" y="526.2" width="58.3" height="14.399999999999977" fill="none" stroke="#2a2a2a" stroke-width="1.0"/>
<clipPath id="c46"><rect x="445.6" y="543.2" width="58.3" height="14.299999999999955"/></clipPath>
<rect x="445.6" y="543.2" width="58.3" height="14.299999999999955" fill="#eeeeee"/>
<g clip-path="url(#c46)"><g filter="url(#bl)">
<rect x="445.99" y="548.03" width="8.94" height="3.20" rx="1.60" fill="#000" fill-opacity="0.80"/>
<rect x="455.71" y="548.03" width="8.94" height="3.20" rx="1.60" fill="#000" fill-opacity="0.80"/>
<rect x="465.42" y="548.03" width="8.94" height="3.20" rx="1.60" fill="#000" fill-opacity="0.80"/>
<rect x="475.14" y="548.03" width="8.94" height="3.20" rx="1.60" fill="#000" fill-opacity="0.80"/>
<rect x="484.86" y="548.03" width="8.94" height="3.20" rx="1.60" fill="#000" fill-opacity="0.80"/>
<rect x="494.57" y="548.03" width="8.94" height="3.20" rx="1.60" fill="#000" fill-opacity="0.80"/>
</g></g>
<rect x="445.6" y="543.2" width="58.3" height="14.299999999999955" fill="none" stroke="#2a2a2a" stroke-width="1.0"/>
<clipPath id="c47"><rect x="445.6" y="560.0" width="58.3" height="14.5"/></clipPath>
<rect x="445.6" y="560.0" width="58.3" height="14.5" fill="#e8e8e8"/>
<g clip-path="url(#c47)"><g filter="url(#bl)">
<rect x="445.99" y="564.20" width="8.94" height="3.20" rx="1.60" fill="#000" fill-opacity="0.70"/>
<rect x="455.71" y="564.20" width="8.94" height="3.20" rx="1.60" fill="#000" fill-opacity="0.60"/>
<rect x="465.42" y="564.20" width="8.94" height="3.20" rx="1.60" fill="#000" fill-opacity="0.50"/>
<rect x="475.14" y="564.20" width="8.94" height="3.20" rx="1.60" fill="#000" fill-opacity="0.65"/>
<rect x="484.86" y="564.20" width="8.94" height="3.20" rx="1.60" fill="#000" fill-opacity="0.75"/>
<rect x="494.57" y="564.20" width="8.94" height="3.20" rx="1.60" fill="#000" fill-opacity="0.50"/>
<rect x="445.99" y="569.19" width="8.94" height="2.50" rx="1.25" fill="#000" fill-opacity="0.35"/>
<rect x="455.71" y="569.19" width="8.94" height="2.50" rx="1.25" fill="#000" fill-opacity="0.35"/>
<rect x="465.42" y="569.19" width="8.94" height="2.50" rx="1.25" fill="#000" fill-opacity="0.35"/>
<rect x="475.14" y="569.19" width="8.94" height="2.50" rx="1.25" fill="#000" fill-opacity="0.35"/>
<rect x="484.86" y="569.19" width="8.94" height="2.50" rx="1.25" fill="#000" fill-opacity="0.35"/>
<rect x="494.57" y="569.19" width="8.94" height="2.50" rx="1.25" fill="#000" fill-opacity="0.35"/>
</g></g>
<rect x="445.6" y="560.0" width="58.3" height="14.5" fill="none" stroke="#2a2a2a" stroke-width="1.0"/>
<clipPath id="c48"><rect x="445.6" y="577.3" width="58.3" height="15.0"/></clipPath>
<rect x="445.6" y="577.3" width="58.3" height="15.0" fill="#e6e6e6"/>
<g clip-path="url(#c48)"><g filter="url(#bl)">
<rect x="445.99" y="581.50" width="8.94" height="3.00" rx="1.50" fill="#000" fill-opacity="0.50"/>
<rect x="455.71" y="581.50" width="8.94" height="3.00" rx="1.50" fill="#000" fill-opacity="0.50"/>
<rect x="465.42" y="581.50" width="8.94" height="3.00" rx="1.50" fill="#000" fill-opacity="0.50"/>
<rect x="475.14" y="581.50" width="8.94" height="3.00" rx="1.50" fill="#000" fill-opacity="0.50"/>
<rect x="484.86" y="581.50" width="8.94" height="3.00" rx="1.50" fill="#000" fill-opacity="0.50"/>
<rect x="494.57" y="581.50" width="8.94" height="3.00" rx="1.50" fill="#000" fill-opacity="0.50"/>
<rect x="445.99" y="587.05" width="8.94" height="3.00" rx="1.50" fill="#000" fill-opacity="0.45"/>
<rect x="455.71" y="587.05" width="8.94" height="3.00" rx="1.50" fill="#000" fill-opacity="0.45"/>
<rect x="465.42" y="587.05" width="8.94" height="3.00" rx="1.50" fill="#000" fill-opacity="0.45"/>
<rect x="475.14" y="587.05" width="8.94" height="3.00" rx="1.50" fill="#000" fill-opacity="0.45"/>
<rect x="484.86" y="587.05" width="8.94" height="3.00" rx="1.50" fill="#000" fill-opacity="0.45"/>
<rect x="494.57" y="587.05" width="8.94" height="3.00" rx="1.50" fill="#000" fill-opacity="0.45"/>
</g></g>
<rect x="445.6" y="577.3" width="58.3" height="15.0" fill="none" stroke="#2a2a2a" stroke-width="1.0"/>
<clipPath id="c49"><rect x="445.6" y="595.3" width="58.3" height="16.0"/></clipPath>
<rect x="445.6" y="595.3" width="58.3" height="16.0" fill="#eeeeee"/>
<g clip-path="url(#c49)"><g filter="url(#bl)">
<rect x="445.99" y="599.82" width="8.94" height="4.40" rx="2.20" fill="#000" fill-opacity="1.00"/>
<rect x="455.71" y="599.82" width="8.94" height="4.40" rx="2.20" fill="#000" fill-opacity="1.00"/>
<rect x="465.42" y="599.82" width="8.94" height="4.40" rx="2.20" fill="#000" fill-opacity="1.00"/>
<rect x="475.14" y="599.82" width="8.94" height="4.40" rx="2.20" fill="#000" fill-opacity="1.00"/>
<rect x="484.86" y="599.82" width="8.94" height="4.40" rx="2.20" fill="#000" fill-opacity="1.00"/>
<rect x="494.57" y="599.82" width="8.94" height="4.40" rx="2.20" fill="#000" fill-opacity="0.85"/>
</g></g>
<rect x="445.6" y="595.3" width="58.3" height="16.0" fill="none" stroke="#2a2a2a" stroke-width="1.0"/>
<clipPath id="c50"><rect x="445.6" y="613.4" width="58.3" height="15.899999999999977"/></clipPath>
<rect x="445.6" y="613.4" width="58.3" height="15.899999999999977" fill="#e6e6e6"/>
<g clip-path="url(#c50)"><g filter="url(#bl)">
<rect x="445.99" y="617.46" width="8.94" height="3.00" rx="1.50" fill="#000" fill-opacity="0.50"/>
<rect x="455.71" y="617.46" width="8.94" height="3.00" rx="1.50" fill="#000" fill-opacity="0.50"/>
<rect x="465.42" y="617.46" width="8.94" height="3.00" rx="1.50" fill="#000" fill-opacity="0.50"/>
<rect x="475.14" y="617.46" width="8.94" height="3.00" rx="1.50" fill="#000" fill-opacity="0.50"/>
<rect x="484.86" y="617.46" width="8.94" height="3.00" rx="1.50" fill="#000" fill-opacity="0.50"/>
<rect x="494.57" y="617.46" width="8.94" height="3.00" rx="1.50" fill="#000" fill-opacity="0.50"/>
<rect x="445.99" y="622.24" width="8.94" height="3.00" rx="1.50" fill="#000" fill-opacity="0.30"/>
<rect x="455.71" y="622.24" width="8.94" height="3.00" rx="1.50" fill="#000" fill-opacity="0.30"/>
<rect x="465.42" y="622.24" width="8.94" height="3.00" rx="1.50" fill="#000" fill-opacity="0.30"/>
<rect x="475.14" y="622.24" width="8.94" height="3.00" rx="1.50" fill="#000" fill-opacity="0.30"/>
<rect x="484.86" y="622.24" width="8.94" height="3.00" rx="1.50" fill="#000" fill-opacity="0.30"/>
<rect x="494.57" y="622.24" width="8.94" height="3.00" rx="1.50" fill="#000" fill-opacity="0.30"/>
</g></g>
<rect x="445.6" y="613.4" width="58.3" height="15.899999999999977" fill="none" stroke="#2a2a2a" stroke-width="1.0"/>
<clipPath id="c51"><rect x="445.6" y="631.0" width="58.3" height="26.299999999999955"/></clipPath>
<rect x="445.6" y="631.0" width="58.3" height="26.299999999999955" fill="#f2f2f2"/>
<g clip-path="url(#c51)"><g filter="url(#bl)">
<rect x="445.99" y="638.30" width="8.94" height="3.80" rx="1.90" fill="#000" fill-opacity="1.00"/>
<rect x="455.71" y="638.30" width="8.94" height="3.80" rx="1.90" fill="#000" fill-opacity="1.00"/>
<rect x="465.42" y="638.30" width="8.94" height="3.80" rx="1.90" fill="#000" fill-opacity="1.00"/>
<rect x="475.14" y="638.30" width="8.94" height="3.80" rx="1.90" fill="#000" fill-opacity="1.00"/>
<rect x="484.86" y="638.30" width="8.94" height="3.80" rx="1.90" fill="#000" fill-opacity="1.00"/>
<rect x="494.57" y="638.30" width="8.94" height="3.80" rx="1.90" fill="#000" fill-opacity="1.00"/>
<rect x="445.99" y="647.91" width="8.94" height="3.00" rx="1.50" fill="#000" fill-opacity="0.10"/>
<rect x="455.71" y="647.91" width="8.94" height="3.00" rx="1.50" fill="#000" fill-opacity="0.10"/>
<rect x="465.42" y="647.91" width="8.94" height="3.00" rx="1.50" fill="#000" fill-opacity="0.10"/>
<rect x="475.14" y="647.91" width="8.94" height="3.00" rx="1.50" fill="#000" fill-opacity="0.10"/>
<rect x="484.86" y="647.91" width="8.94" height="3.00" rx="1.50" fill="#000" fill-opacity="0.10"/>
<rect x="494.57" y="647.91" width="8.94" height="3.00" rx="1.50" fill="#000" fill-opacity="0.10"/>
</g></g>
<rect x="445.6" y="631.0" width="58.3" height="26.299999999999955" fill="none" stroke="#2a2a2a" stroke-width="1.0"/>
<clipPath id="c52"><rect x="445.6" y="663.0" width="58.3" height="12.700000000000045"/></clipPath>
<rect x="445.6" y="663.0" width="58.3" height="12.700000000000045" fill="#f2f2f2"/>
<g clip-path="url(#c52)"><g filter="url(#bl)">
<rect x="445.99" y="667.85" width="8.94" height="3.00" rx="1.50" fill="#000" fill-opacity="0.30"/>
<rect x="455.71" y="667.85" width="8.94" height="3.00" rx="1.50" fill="#000" fill-opacity="0.32"/>
<rect x="465.42" y="667.85" width="8.94" height="3.00" rx="1.50" fill="#000" fill-opacity="0.35"/>
<rect x="475.14" y="667.85" width="8.94" height="3.00" rx="1.50" fill="#000" fill-opacity="0.38"/>
<rect x="484.86" y="667.85" width="8.94" height="3.00" rx="1.50" fill="#000" fill-opacity="0.40"/>
<rect x="494.57" y="667.85" width="8.94" height="3.00" rx="1.50" fill="#000" fill-opacity="0.45"/>
</g></g>
<rect x="445.6" y="663.0" width="58.3" height="12.700000000000045" fill="none" stroke="#2a2a2a" stroke-width="1.0"/>
<clipPath id="c53"><rect x="505.9" y="492.2" width="58.3" height="14.300000000000011"/></clipPath>
<rect x="505.9" y="492.2" width="58.3" height="14.300000000000011" fill="#d8d8d8"/>
<g clip-path="url(#c53)"><g filter="url(#bl)">
<rect x="506.29" y="494.52" width="8.94" height="2.50" rx="1.25" fill="#000" fill-opacity="0.20"/>
<rect x="516.01" y="494.52" width="8.94" height="2.50" rx="1.25" fill="#000" fill-opacity="0.20"/>
<rect x="525.72" y="494.52" width="8.94" height="2.50" rx="1.25" fill="#000" fill-opacity="0.20"/>
<rect x="535.44" y="494.52" width="8.94" height="2.50" rx="1.25" fill="#000" fill-opacity="0.20"/>
<rect x="545.16" y="494.52" width="8.94" height="2.50" rx="1.25" fill="#000" fill-opacity="0.20"/>
<rect x="554.87" y="494.52" width="8.94" height="2.50" rx="1.25" fill="#000" fill-opacity="0.20"/>
<rect x="506.29" y="499.28" width="8.94" height="3.00" rx="1.50" fill="#000" fill-opacity="0.35"/>
<rect x="516.01" y="499.28" width="8.94" height="3.00" rx="1.50" fill="#000" fill-opacity="0.30"/>
<rect x="525.72" y="499.28" width="8.94" height="3.00" rx="1.50" fill="#000" fill-opacity="0.35"/>
<rect x="535.44" y="499.28" width="8.94" height="3.00" rx="1.50" fill="#000" fill-opacity="0.30"/>
<rect x="545.16" y="499.28" width="8.94" height="3.00" rx="1.50" fill="#000" fill-opacity="0.30"/>
<rect x="554.87" y="499.28" width="8.94" height="3.00" rx="1.50" fill="#000" fill-opacity="0.25"/>
</g></g>
<rect x="505.9" y="492.2" width="58.3" height="14.300000000000011" fill="none" stroke="#2a2a2a" stroke-width="1.0"/>
<clipPath id="c54"><rect x="505.9" y="509.2" width="58.3" height="14.199999999999989"/></clipPath>
<rect x="505.9" y="509.2" width="58.3" height="14.199999999999989" fill="#f0f0f0"/>
<g clip-path="url(#c54)"><g filter="url(#bl)">
<rect x="506.29" y="514.70" width="8.94" height="3.20" rx="1.60" fill="#000" fill-opacity="0.78"/>
<rect x="516.01" y="514.70" width="8.94" height="3.20" rx="1.60" fill="#000" fill-opacity="0.75"/>
<rect x="525.72" y="514.70" width="8.94" height="3.20" rx="1.60" fill="#000" fill-opacity="0.75"/>
<rect x="535.44" y="514.70" width="8.94" height="3.20" rx="1.60" fill="#000" fill-opacity="0.78"/>
<rect x="545.16" y="514.70" width="8.94" height="3.20" rx="1.60" fill="#000" fill-opacity="0.75"/>
<rect x="554.87" y="514.70" width="8.94" height="3.20" rx="1.60" fill="#000" fill-opacity="0.75"/>
</g></g>
<rect x="505.9" y="509.2" width="58.3" height="14.199999999999989" fill="none" stroke="#2a2a2a" stroke-width="1.0"/>
<clipPath id="c55"><rect x="505.9" y="526.2" width="58.3" height="14.399999999999977"/></clipPath>
<rect x="505.9" y="526.2" width="58.3" height="14.399999999999977" fill="#f0f0f0"/>
<g clip-path="url(#c55)"><g filter="url(#bl)">
<rect x="506.29" y="530.68" width="8.94" height="4.00" rx="2.00" fill="#000" fill-opacity="1.00"/>
<rect x="516.01" y="530.68" width="8.94" height="4.00" rx="2.00" fill="#000" fill-opacity="1.00"/>
<rect x="525.72" y="530.68" width="8.94" height="4.00" rx="2.00" fill="#000" fill-opacity="1.00"/>
<rect x="535.44" y="530.68" width="8.94" height="4.00" rx="2.00" fill="#000" fill-opacity="0.85"/>
<rect x="545.16" y="530.68" width="8.94" height="4.00" rx="2.00" fill="#000" fill-opacity="0.45"/>
<rect x="554.87" y="530.68" width="8.94" height="4.00" rx="2.00" fill="#000" fill-opacity="0.20"/>
</g></g>
<rect x="505.9" y="526.2" width="58.3" height="14.399999999999977" fill="none" stroke="#2a2a2a" stroke-width="1.0"/>
<clipPath id="c56"><rect x="505.9" y="543.2" width="58.3" height="14.299999999999955"/></clipPath>
<rect x="505.9" y="543.2" width="58.3" height="14.299999999999955" fill="#eeeeee"/>
<g clip-path="url(#c56)"><g filter="url(#bl)">
<rect x="506.29" y="548.03" width="8.94" height="3.20" rx="1.60" fill="#000" fill-opacity="0.75"/>
<rect x="516.01" y="548.03" width="8.94" height="3.20" rx="1.60" fill="#000" fill-opacity="0.75"/>
<rect x="525.72" y="548.03" width="8.94" height="3.20" rx="1.60" fill="#000" fill-opacity="0.75"/>
<rect x="535.44" y="548.03" width="8.94" height="3.20" rx="1.60" fill="#000" fill-opacity="0.75"/>
<rect x="545.16" y="548.03" width="8.94" height="3.20" rx="1.60" fill="#000" fill-opacity="0.72"/>
<rect x="554.87" y="548.03" width="8.94" height="3.20" rx="1.60" fill="#000" fill-opacity="0.70"/>
</g></g>
<rect x="505.9" y="543.2" width="58.3" height="14.299999999999955" fill="none" stroke="#2a2a2a" stroke-width="1.0"/>
<clipPath id="c57"><rect x="505.9" y="560.0" width="58.3" height="14.5"/></clipPath>
<rect x="505.9" y="560.0" width="58.3" height="14.5" fill="#eeeeee"/>
<g clip-path="url(#c57)"><g filter="url(#bl)">
<rect x="506.29" y="565.15" width="8.94" height="4.20" rx="2.10" fill="#000" fill-opacity="1.00"/>
<rect x="516.01" y="565.15" width="8.94" height="4.20" rx="2.10" fill="#000" fill-opacity="1.00"/>
<rect x="525.72" y="565.15" width="8.94" height="4.20" rx="2.10" fill="#000" fill-opacity="1.00"/>
<rect x="535.44" y="565.15" width="8.94" height="4.20" rx="2.10" fill="#000" fill-opacity="1.00"/>
<rect x="545.16" y="565.15" width="8.94" height="4.20" rx="2.10" fill="#000" fill-opacity="1.00"/>
<rect x="554.87" y="565.15" width="8.94" height="4.20" rx="2.10" fill="#000" fill-opacity="1.00"/>
</g></g>
<rect x="505.9" y="560.0" width="58.3" height="14.5" fill="none" stroke="#2a2a2a" stroke-width="1.0"/>
<clipPath id="c58"><rect x="505.9" y="577.3" width="58.3" height="15.0"/></clipPath>
<rect x="505.9" y="577.3" width="58.3" height="15.0" fill="#e8e8e8"/>
<g clip-path="url(#c58)"><g filter="url(#bl)">
<rect x="506.29" y="581.50" width="8.94" height="3.00" rx="1.50" fill="#000" fill-opacity="0.45"/>
<rect x="516.01" y="581.50" width="8.94" height="3.00" rx="1.50" fill="#000" fill-opacity="0.45"/>
<rect x="525.72" y="581.50" width="8.94" height="3.00" rx="1.50" fill="#000" fill-opacity="0.45"/>
<rect x="535.44" y="581.50" width="8.94" height="3.00" rx="1.50" fill="#000" fill-opacity="0.45"/>
<rect x="545.16" y="581.50" width="8.94" height="3.00" rx="1.50" fill="#000" fill-opacity="0.45"/>
<rect x="554.87" y="581.50" width="8.94" height="3.00" rx="1.50" fill="#000" fill-opacity="0.45"/>
<rect x="506.29" y="586.60" width="8.94" height="3.00" rx="1.50" fill="#000" fill-opacity="0.32"/>
<rect x="516.01" y="586.60" width="8.94" height="3.00" rx="1.50" fill="#000" fill-opacity="0.32"/>
<rect x="525.72" y="586.60" width="8.94" height="3.00" rx="1.50" fill="#000" fill-opacity="0.32"/>
<rect x="535.44" y="586.60" width="8.94" height="3.00" rx="1.50" fill="#000" fill-opacity="0.32"/>
<rect x="545.16" y="586.60" width="8.94" height="3.00" rx="1.50" fill="#000" fill-opacity="0.32"/>
<rect x="554.87" y="586.60" width="8.94" height="3.00" rx="1.50" fill="#000" fill-opacity="0.32"/>
</g></g>
<rect x="505.9" y="577.3" width="58.3" height="15.0" fill="none" stroke="#2a2a2a" stroke-width="1.0"/>
<clipPath id="c59"><rect x="505.9" y="595.3" width="58.3" height="16.0"/></clipPath>
<rect x="505.9" y="595.3" width="58.3" height="16.0" fill="#eeeeee"/>
<g clip-path="url(#c59)"><g filter="url(#bl)">
<rect x="506.29" y="599.82" width="8.94" height="4.40" rx="2.20" fill="#000" fill-opacity="1.00"/>
<rect x="516.01" y="599.82" width="8.94" height="4.40" rx="2.20" fill="#000" fill-opacity="1.00"/>
<rect x="525.72" y="599.82" width="8.94" height="4.40" rx="2.20" fill="#000" fill-opacity="1.00"/>
<rect x="535.44" y="599.82" width="8.94" height="4.40" rx="2.20" fill="#000" fill-opacity="1.00"/>
<rect x="545.16" y="599.82" width="8.94" height="4.40" rx="2.20" fill="#000" fill-opacity="1.00"/>
<rect x="554.87" y="599.82" width="8.94" height="4.40" rx="2.20" fill="#000" fill-opacity="0.25"/>
</g></g>
<rect x="505.9" y="595.3" width="58.3" height="16.0" fill="none" stroke="#2a2a2a" stroke-width="1.0"/>
<clipPath id="c60"><rect x="505.9" y="613.4" width="58.3" height="15.899999999999977"/></clipPath>
<rect x="505.9" y="613.4" width="58.3" height="15.899999999999977" fill="#e8e8e8"/>
<g clip-path="url(#c60)"><g filter="url(#bl)">
<rect x="506.29" y="618.16" width="8.94" height="3.20" rx="1.60" fill="#000" fill-opacity="0.50"/>
<rect x="516.01" y="618.16" width="8.94" height="3.20" rx="1.60" fill="#000" fill-opacity="0.45"/>
<rect x="525.72" y="618.16" width="8.94" height="3.20" rx="1.60" fill="#000" fill-opacity="0.45"/>
<rect x="535.44" y="618.16" width="8.94" height="3.20" rx="1.60" fill="#000" fill-opacity="0.50"/>
<rect x="545.16" y="618.16" width="8.94" height="3.20" rx="1.60" fill="#000" fill-opacity="0.45"/>
<rect x="554.87" y="618.16" width="8.94" height="3.20" rx="1.60" fill="#000" fill-opacity="0.55"/>
</g></g>
<rect x="505.9" y="613.4" width="58.3" height="15.899999999999977" fill="none" stroke="#2a2a2a" stroke-width="1.0"/>
<clipPath id="c61"><rect x="505.9" y="631.0" width="58.3" height="26.299999999999955"/></clipPath>
<rect x="505.9" y="631.0" width="58.3" height="26.299999999999955" fill="#f2f2f2"/>
<g clip-path="url(#c61)"><g filter="url(#bl)">
<rect x="506.29" y="638.00" width="8.94" height="4.40" rx="2.20" fill="#000" fill-opacity="1.00"/>
<rect x="516.01" y="638.00" width="8.94" height="4.40" rx="2.20" fill="#000" fill-opacity="1.00"/>
<rect x="525.72" y="638.00" width="8.94" height="4.40" rx="2.20" fill="#000" fill-opacity="1.00"/>
<rect x="535.44" y="638.00" width="8.94" height="4.40" rx="2.20" fill="#000" fill-opacity="1.00"/>
<rect x="545.16" y="638.00" width="8.94" height="4.40" rx="2.20" fill="#000" fill-opacity="1.00"/>
<rect x="554.87" y="638.00" width="8.94" height="4.40" rx="2.20" fill="#000" fill-opacity="1.00"/>
<rect x="506.29" y="647.91" width="8.94" height="3.00" rx="1.50" fill="#000" fill-opacity="0.10"/>
<rect x="516.01" y="647.91" width="8.94" height="3.00" rx="1.50" fill="#000" fill-opacity="0.10"/>
<rect x="525.72" y="647.91" width="8.94" height="3.00" rx="1.50" fill="#000" fill-opacity="0.10"/>
<rect x="535.44" y="647.91" width="8.94" height="3.00" rx="1.50" fill="#000" fill-opacity="0.10"/>
<rect x="545.16" y="647.91" width="8.94" height="3.00" rx="1.50" fill="#000" fill-opacity="0.10"/>
<rect x="554.87" y="647.91" width="8.94" height="3.00" rx="1.50" fill="#000" fill-opacity="0.10"/>
</g></g>
<rect x="505.9" y="631.0" width="58.3" height="26.299999999999955" fill="none" stroke="#2a2a2a" stroke-width="1.0"/>
<clipPath id="c62"><rect x="505.9" y="663.0" width="58.3" height="12.700000000000045"/></clipPath>
<rect x="505.9" y="663.0" width="58.3" height="12.700000000000045" fill="#f2f2f2"/>
<g clip-path="url(#c62)"><g filter="url(#bl)">
<rect x="506.29" y="667.85" width="8.94" height="3.00" rx="1.50" fill="#000" fill-opacity="0.32"/>
<rect x="516.01" y="667.85" width="8.94" height="3.00" rx="1.50" fill="#000" fill-opacity="0.32"/>
<rect x="525.72" y="667.85" width="8.94" height="3.00" rx="1.50" fill="#000" fill-opacity="0.35"/>
<rect x="535.44" y="667.85" width="8.94" height="3.00" rx="1.50" fill="#000" fill-opacity="0.35"/>
<rect x="545.16" y="667.85" width="8.94" height="3.00" rx="1.50" fill="#000" fill-opacity="0.38"/>
<rect x="554.87" y="667.85" width="8.94" height="3.00" rx="1.50" fill="#000" fill-opacity="0.38"/>
</g></g>
<rect x="505.9" y="663.0" width="58.3" height="12.700000000000045" fill="none" stroke="#2a2a2a" stroke-width="1.0"/>
<clipPath id="c63"><rect x="566.1" y="492.2" width="58.3" height="14.300000000000011"/></clipPath>
<rect x="566.1" y="492.2" width="58.3" height="14.300000000000011" fill="#e4e4e4"/>
<g clip-path="url(#c63)"><g filter="url(#bl)">
<rect x="566.49" y="497.03" width="8.94" height="3.20" rx="1.60" fill="#000" fill-opacity="0.55"/>
<rect x="576.21" y="497.03" width="8.94" height="3.20" rx="1.60" fill="#000" fill-opacity="0.50"/>
<rect x="585.92" y="497.03" width="8.94" height="3.20" rx="1.60" fill="#000" fill-opacity="0.55"/>
<rect x="595.64" y="497.03" width="8.94" height="3.20" rx="1.60" fill="#000" fill-opacity="0.60"/>
<rect x="605.36" y="497.03" width="8.94" height="3.20" rx="1.60" fill="#000" fill-opacity="0.50"/>
<rect x="615.07" y="497.03" width="8.94" height="3.20" rx="1.60" fill="#000" fill-opacity="0.40"/>
</g></g>
<rect x="566.1" y="492.2" width="58.3" height="14.300000000000011" fill="none" stroke="#2a2a2a" stroke-width="1.0"/>
<clipPath id="c64"><rect x="566.1" y="509.2" width="58.3" height="14.199999999999989"/></clipPath>
<rect x="566.1" y="509.2" width="58.3" height="14.199999999999989" fill="#fafafa"/>
<g clip-path="url(#c64)"><g filter="url(#bl)">
<rect x="566.49" y="514.80" width="8.94" height="3.00" rx="1.50" fill="#000" fill-opacity="0.25"/>
<rect x="576.21" y="514.80" width="8.94" height="3.00" rx="1.50" fill="#000" fill-opacity="0.25"/>
<rect x="585.92" y="514.80" width="8.94" height="3.00" rx="1.50" fill="#000" fill-opacity="0.35"/>
<rect x="595.64" y="514.80" width="8.94" height="3.00" rx="1.50" fill="#000" fill-opacity="0.45"/>
<rect x="605.36" y="514.80" width="8.94" height="3.00" rx="1.50" fill="#000" fill-opacity="0.40"/>
<rect x="615.07" y="514.80" width="8.94" height="3.00" rx="1.50" fill="#000" fill-opacity="0.30"/>
</g></g>
<rect x="566.1" y="509.2" width="58.3" height="14.199999999999989" fill="none" stroke="#2a2a2a" stroke-width="1.0"/>
<clipPath id="c65"><rect x="566.1" y="526.2" width="58.3" height="14.399999999999977"/></clipPath>
<rect x="566.1" y="526.2" width="58.3" height="14.399999999999977" fill="#d8d8d8"/>
<g clip-path="url(#c65)"><g filter="url(#bl)">
<rect x="566.49" y="530.90" width="8.94" height="5.00" rx="2.50" fill="#000" fill-opacity="0.12"/>
<rect x="576.21" y="530.90" width="8.94" height="5.00" rx="2.50" fill="#000" fill-opacity="0.12"/>
<rect x="585.92" y="530.90" width="8.94" height="5.00" rx="2.50" fill="#000" fill-opacity="0.12"/>
<rect x="595.64" y="530.90" width="8.94" height="5.00" rx="2.50" fill="#000" fill-opacity="0.12"/>
<rect x="605.36" y="530.90" width="8.94" height="5.00" rx="2.50" fill="#000" fill-opacity="0.12"/>
<rect x="615.07" y="530.90" width="8.94" height="5.00" rx="2.50" fill="#000" fill-opacity="0.12"/>
</g></g>
<rect x="566.1" y="526.2" width="58.3" height="14.399999999999977" fill="none" stroke="#2a2a2a" stroke-width="1.0"/>
<clipPath id="c66"><rect x="566.1" y="543.2" width="58.3" height="14.299999999999955"/></clipPath>
<rect x="566.1" y="543.2" width="58.3" height="14.299999999999955" fill="#f2f2f2"/>
<g clip-path="url(#c66)"><g filter="url(#bl)">
<rect x="566.49" y="548.85" width="8.94" height="3.00" rx="1.50" fill="#000" fill-opacity="0.35"/>
<rect x="576.21" y="548.85" width="8.94" height="3.00" rx="1.50" fill="#000" fill-opacity="0.35"/>
<rect x="585.92" y="548.85" width="8.94" height="3.00" rx="1.50" fill="#000" fill-opacity="0.42"/>
<rect x="595.64" y="548.85" width="8.94" height="3.00" rx="1.50" fill="#000" fill-opacity="0.42"/>
<rect x="605.36" y="548.85" width="8.94" height="3.00" rx="1.50" fill="#000" fill-opacity="0.38"/>
<rect x="615.07" y="548.85" width="8.94" height="3.00" rx="1.50" fill="#000" fill-opacity="0.35"/>
</g></g>
<rect x="566.1" y="543.2" width="58.3" height="14.299999999999955" fill="none" stroke="#2a2a2a" stroke-width="1.0"/>
<clipPath id="c67"><rect x="566.1" y="560.0" width="58.3" height="14.5"/></clipPath>
<rect x="566.1" y="560.0" width="58.3" height="14.5" fill="#f4f4f4"/>
<g clip-path="url(#c67)"><g filter="url(#bl)">
<rect x="566.49" y="564.92" width="8.94" height="3.20" rx="1.60" fill="#000" fill-opacity="0.38"/>
<rect x="576.21" y="564.92" width="8.94" height="3.20" rx="1.60" fill="#000" fill-opacity="0.32"/>
<rect x="585.92" y="564.92" width="8.94" height="3.20" rx="1.60" fill="#000" fill-opacity="0.32"/>
<rect x="595.64" y="564.92" width="8.94" height="3.20" rx="1.60" fill="#000" fill-opacity="0.30"/>
<rect x="605.36" y="564.92" width="8.94" height="3.20" rx="1.60" fill="#000" fill-opacity="0.22"/>
<rect x="615.07" y="564.92" width="8.94" height="3.20" rx="1.60" fill="#000" fill-opacity="0.10"/>
</g></g>
<rect x="566.1" y="560.0" width="58.3" height="14.5" fill="none" stroke="#2a2a2a" stroke-width="1.0"/>
<clipPath id="c68"><rect x="566.1" y="577.3" width="58.3" height="15.0"/></clipPath>
<rect x="566.1" y="577.3" width="58.3" height="15.0" fill="#fafafa"/>
<g clip-path="url(#c68)"><g filter="url(#bl)">
<rect x="566.49" y="583.30" width="8.94" height="3.00" rx="1.50" fill="#000" fill-opacity="0.35"/>
<rect x="576.21" y="583.30" width="8.94" height="3.00" rx="1.50" fill="#000" fill-opacity="0.35"/>
<rect x="585.92" y="583.30" width="8.94" height="3.00" rx="1.50" fill="#000" fill-opacity="0.35"/>
<rect x="595.64" y="583.30" width="8.94" height="3.00" rx="1.50" fill="#000" fill-opacity="0.38"/>
<rect x="605.36" y="583.30" width="8.94" height="3.00" rx="1.50" fill="#000" fill-opacity="0.38"/>
<rect x="615.07" y="583.30" width="8.94" height="3.00" rx="1.50" fill="#000" fill-opacity="0.38"/>
</g></g>
<rect x="566.1" y="577.3" width="58.3" height="15.0" fill="none" stroke="#2a2a2a" stroke-width="1.0"/>
<clipPath id="c69"><rect x="566.1" y="595.3" width="58.3" height="16.0"/></clipPath>
<rect x="566.1" y="595.3" width="58.3" height="16.0" fill="#f8f8f8"/>
<g clip-path="url(#c69)"><g filter="url(#bl)">
<rect x="566.49" y="600.70" width="8.94" height="3.60" rx="1.80" fill="#000" fill-opacity="0.55"/>
<rect x="576.21" y="600.70" width="8.94" height="3.60" rx="1.80" fill="#000" fill-opacity="0.68"/>
<rect x="585.92" y="600.70" width="8.94" height="3.60" rx="1.80" fill="#000" fill-opacity="0.70"/>
<rect x="595.64" y="600.70" width="8.94" height="3.60" rx="1.80" fill="#000" fill-opacity="0.85"/>
<rect x="605.36" y="600.70" width="8.94" height="3.60" rx="1.80" fill="#000" fill-opacity="0.78"/>
<rect x="615.07" y="600.70" width="8.94" height="3.60" rx="1.80" fill="#000" fill-opacity="0.30"/>
</g></g>
<rect x="566.1" y="595.3" width="58.3" height="16.0" fill="none" stroke="#2a2a2a" stroke-width="1.0"/>
<clipPath id="c70"><rect x="566.1" y="613.4" width="58.3" height="15.899999999999977"/></clipPath>
<rect x="566.1" y="613.4" width="58.3" height="15.899999999999977" fill="#ffffff"/>
<g clip-path="url(#c70)"><g filter="url(#bl)">
<rect x="566.49" y="618.95" width="8.94" height="3.20" rx="1.60" fill="#000" fill-opacity="0.65"/>
<rect x="576.21" y="618.95" width="8.94" height="3.20" rx="1.60" fill="#000" fill-opacity="0.40"/>
<rect x="585.92" y="618.95" width="8.94" height="3.20" rx="1.60" fill="#000" fill-opacity="0.75"/>
<rect x="595.64" y="618.95" width="8.94" height="3.20" rx="1.60" fill="#000" fill-opacity="0.70"/>
<rect x="605.36" y="618.95" width="8.94" height="3.20" rx="1.60" fill="#000" fill-opacity="0.75"/>
<rect x="615.07" y="618.95" width="8.94" height="3.20" rx="1.60" fill="#000" fill-opacity="0.75"/>
</g></g>
<rect x="566.1" y="613.4" width="58.3" height="15.899999999999977" fill="none" stroke="#2a2a2a" stroke-width="1.0"/>
<clipPath id="c71"><rect x="566.1" y="631.0" width="58.3" height="26.299999999999955"/></clipPath>
<rect x="566.1" y="631.0" width="58.3" height="26.299999999999955" fill="#ffffff"/>
<g clip-path="url(#c71)"><g filter="url(#bl)">
<rect x="566.49" y="638.60" width="8.94" height="3.20" rx="1.60" fill="#000" fill-opacity="0.60"/>
<rect x="576.21" y="638.60" width="8.94" height="3.20" rx="1.60" fill="#000" fill-opacity="0.60"/>
<rect x="585.92" y="638.60" width="8.94" height="3.20" rx="1.60" fill="#000" fill-opacity="0.60"/>
<rect x="595.64" y="638.60" width="8.94" height="3.20" rx="1.60" fill="#000" fill-opacity="0.60"/>
<rect x="605.36" y="638.60" width="8.94" height="3.20" rx="1.60" fill="#000" fill-opacity="0.60"/>
<rect x="615.07" y="638.60" width="8.94" height="3.20" rx="1.60" fill="#000" fill-opacity="0.60"/>
<rect x="566.49" y="646.60" width="8.94" height="3.00" rx="1.50" fill="#000" fill-opacity="0.30"/>
<rect x="576.21" y="646.60" width="8.94" height="3.00" rx="1.50" fill="#000" fill-opacity="0.30"/>
<rect x="585.92" y="646.60" width="8.94" height="3.00" rx="1.50" fill="#000" fill-opacity="0.30"/>
<rect x="595.64" y="646.60" width="8.94" height="3.00" rx="1.50" fill="#000" fill-opacity="0.30"/>
<rect x="605.36" y="646.60" width="8.94" height="3.00" rx="1.50" fill="#000" fill-opacity="0.25"/>
<rect x="615.07" y="646.60" width="8.94" height="3.00" rx="1.50" fill="#000" fill-opacity="0.15"/>
</g></g>
<rect x="566.1" y="631.0" width="58.3" height="26.299999999999955" fill="none" stroke="#2a2a2a" stroke-width="1.0"/>
<clipPath id="c72"><rect x="566.1" y="663.0" width="58.3" height="12.700000000000045"/></clipPath>
<rect x="566.1" y="663.0" width="58.3" height="12.700000000000045" fill="#ffffff"/>
<g clip-path="url(#c72)"><g filter="url(#bl)">
<rect x="566.49" y="667.75" width="8.94" height="3.20" rx="1.60" fill="#000" fill-opacity="0.90"/>
<rect x="576.21" y="667.75" width="8.94" height="3.20" rx="1.60" fill="#000" fill-opacity="0.65"/>
<rect x="585.92" y="667.75" width="8.94" height="3.20" rx="1.60" fill="#000" fill-opacity="0.55"/>
<rect x="595.64" y="667.75" width="8.94" height="3.20" rx="1.60" fill="#000" fill-opacity="0.40"/>
<rect x="605.36" y="667.75" width="8.94" height="3.20" rx="1.60" fill="#000" fill-opacity="0.45"/>
<rect x="615.07" y="667.75" width="8.94" height="3.20" rx="1.60" fill="#000" fill-opacity="0.45"/>
</g></g>
<rect x="566.1" y="663.0" width="58.3" height="12.700000000000045" fill="none" stroke="#2a2a2a" stroke-width="1.0"/>
<clipPath id="c73"><rect x="626.4" y="492.2" width="58.3" height="14.300000000000011"/></clipPath>
<rect x="626.4" y="492.2" width="58.3" height="14.300000000000011" fill="#dedede"/>
<g clip-path="url(#c73)"><g filter="url(#bl)">
<rect x="626.79" y="497.85" width="8.94" height="3.00" rx="1.50" fill="#000" fill-opacity="0.35"/>
<rect x="636.51" y="497.85" width="8.94" height="3.00" rx="1.50" fill="#000" fill-opacity="0.35"/>
<rect x="646.22" y="497.85" width="8.94" height="3.00" rx="1.50" fill="#000" fill-opacity="0.35"/>
<rect x="655.94" y="497.85" width="8.94" height="3.00" rx="1.50" fill="#000" fill-opacity="0.30"/>
<rect x="665.66" y="497.85" width="8.94" height="3.00" rx="1.50" fill="#000" fill-opacity="0.35"/>
<rect x="675.37" y="497.85" width="8.94" height="3.00" rx="1.50" fill="#000" fill-opacity="0.40"/>
<rect x="626.79" y="493.81" width="8.94" height="2.50" rx="1.25" fill="#000" fill-opacity="0.15"/>
<rect x="636.51" y="493.81" width="8.94" height="2.50" rx="1.25" fill="#000" fill-opacity="0.15"/>
<rect x="646.22" y="493.81" width="8.94" height="2.50" rx="1.25" fill="#000" fill-opacity="0.15"/>
<rect x="655.94" y="493.81" width="8.94" height="2.50" rx="1.25" fill="#000" fill-opacity="0.15"/>
<rect x="665.66" y="493.81" width="8.94" height="2.50" rx="1.25" fill="#000" fill-opacity="0.15"/>
<rect x="675.37" y="493.81" width="8.94" height="2.50" rx="1.25" fill="#000" fill-opacity="0.15"/>
</g></g>
<rect x="626.4" y="492.2" width="58.3" height="14.300000000000011" fill="none" stroke="#2a2a2a" stroke-width="1.0"/>
<clipPath id="c74"><rect x="626.4" y="509.2" width="58.3" height="14.199999999999989"/></clipPath>
<rect x="626.4" y="509.2" width="58.3" height="14.199999999999989" fill="#f6f6f6"/>
<g clip-path="url(#c74)"><g filter="url(#bl)">
<rect x="626.79" y="514.80" width="8.94" height="3.00" rx="1.50" fill="#000" fill-opacity="0.50"/>
<rect x="636.51" y="514.80" width="8.94" height="3.00" rx="1.50" fill="#000" fill-opacity="0.50"/>
<rect x="646.22" y="514.80" width="8.94" height="3.00" rx="1.50" fill="#000" fill-opacity="0.45"/>
<rect x="655.94" y="514.80" width="8.94" height="3.00" rx="1.50" fill="#000" fill-opacity="0.50"/>
<rect x="665.66" y="514.80" width="8.94" height="3.00" rx="1.50" fill="#000" fill-opacity="0.40"/>
<rect x="675.37" y="514.80" width="8.94" height="3.00" rx="1.50" fill="#000" fill-opacity="0.40"/>
</g></g>
<rect x="626.4" y="509.2" width="58.3" height="14.199999999999989" fill="none" stroke="#2a2a2a" stroke-width="1.0"/>
<clipPath id="c75"><rect x="626.4" y="526.2" width="58.3" height="14.399999999999977"/></clipPath>
<rect x="626.4" y="526.2" width="58.3" height="14.399999999999977" fill="#f4f4f4"/>
<g clip-path="url(#c75)"><g filter="url(#bl)">
<rect x="626.79" y="530.68" width="8.94" height="4.00" rx="2.00" fill="#000" fill-opacity="1.00"/>
<rect x="636.51" y="530.68" width="8.94" height="4.00" rx="2.00" fill="#000" fill-opacity="1.00"/>
<rect x="646.22" y="530.68" width="8.94" height="4.00" rx="2.00" fill="#000" fill-opacity="1.00"/>
<rect x="655.94" y="530.68" width="8.94" height="4.00" rx="2.00" fill="#000" fill-opacity="0.80"/>
<rect x="665.66" y="530.68" width="8.94" height="4.00" rx="2.00" fill="#000" fill-opacity="0.30"/>
<rect x="675.37" y="530.68" width="8.94" height="4.00" rx="2.00" fill="#000" fill-opacity="0.12"/>
</g></g>
<rect x="626.4" y="526.2" width="58.3" height="14.399999999999977" fill="none" stroke="#2a2a2a" stroke-width="1.0"/>
<clipPath id="c76"><rect x="626.4" y="543.2" width="58.3" height="14.299999999999955"/></clipPath>
<rect x="626.4" y="543.2" width="58.3" height="14.299999999999955" fill="#ececec"/>
<g clip-path="url(#c76)"><g filter="url(#bl)">
<rect x="626.79" y="547.63" width="8.94" height="4.00" rx="2.00" fill="#000" fill-opacity="0.95"/>
<rect x="636.51" y="547.63" width="8.94" height="4.00" rx="2.00" fill="#000" fill-opacity="0.95"/>
<rect x="646.22" y="547.63" width="8.94" height="4.00" rx="2.00" fill="#000" fill-opacity="0.95"/>
<rect x="655.94" y="547.63" width="8.94" height="4.00" rx="2.00" fill="#000" fill-opacity="0.95"/>
<rect x="665.66" y="547.63" width="8.94" height="4.00" rx="2.00" fill="#000" fill-opacity="0.95"/>
<rect x="675.37" y="547.63" width="8.94" height="4.00" rx="2.00" fill="#000" fill-opacity="0.95"/>
</g></g>
<rect x="626.4" y="543.2" width="58.3" height="14.299999999999955" fill="none" stroke="#2a2a2a" stroke-width="1.0"/>
<clipPath id="c77"><rect x="626.4" y="560.0" width="58.3" height="14.5"/></clipPath>
<rect x="626.4" y="560.0" width="58.3" height="14.5" fill="#f0f0f0"/>
<g clip-path="url(#c77)"><g filter="url(#bl)">
<rect x="626.79" y="564.92" width="8.94" height="3.20" rx="1.60" fill="#000" fill-opacity="0.40"/>
<rect x="636.51" y="564.92" width="8.94" height="3.20" rx="1.60" fill="#000" fill-opacity="0.40"/>
<rect x="646.22" y="564.92" width="8.94" height="3.20" rx="1.60" fill="#000" fill-opacity="0.45"/>
<rect x="655.94" y="564.92" width="8.94" height="3.20" rx="1.60" fill="#000" fill-opacity="0.40"/>
<rect x="665.66" y="564.92" width="8.94" height="3.20" rx="1.60" fill="#000" fill-opacity="0.40"/>
<rect x="675.37" y="564.92" width="8.94" height="3.20" rx="1.60" fill="#000" fill-opacity="0.40"/>
</g></g>
<rect x="626.4" y="560.0" width="58.3" height="14.5" fill="none" stroke="#2a2a2a" stroke-width="1.0"/>
<clipPath id="c78"><rect x="626.4" y="577.3" width="58.3" height="15.0"/></clipPath>
<rect x="626.4" y="577.3" width="58.3" height="15.0" fill="#f6f6f6"/>
<g clip-path="url(#c78)"><g filter="url(#bl)">
<rect x="626.79" y="581.80" width="8.94" height="3.00" rx="1.50" fill="#000" fill-opacity="0.38"/>
<rect x="636.51" y="581.80" width="8.94" height="3.00" rx="1.50" fill="#000" fill-opacity="0.38"/>
<rect x="646.22" y="581.80" width="8.94" height="3.00" rx="1.50" fill="#000" fill-opacity="0.38"/>
<rect x="655.94" y="581.80" width="8.94" height="3.00" rx="1.50" fill="#000" fill-opacity="0.38"/>
<rect x="665.66" y="581.80" width="8.94" height="3.00" rx="1.50" fill="#000" fill-opacity="0.38"/>
<rect x="675.37" y="581.80" width="8.94" height="3.00" rx="1.50" fill="#000" fill-opacity="0.38"/>
<rect x="626.79" y="586.80" width="8.94" height="2.00" rx="1.00" fill="#000" fill-opacity="0.15"/>
<rect x="636.51" y="586.80" width="8.94" height="2.00" rx="1.00" fill="#000" fill-opacity="0.15"/>
<rect x="646.22" y="586.80" width="8.94" height="2.00" rx="1.00" fill="#000" fill-opacity="0.15"/>
<rect x="655.94" y="586.80" width="8.94" height="2.00" rx="1.00" fill="#000" fill-opacity="0.15"/>
<rect x="665.66" y="586.80" width="8.94" height="2.00" rx="1.00" fill="#000" fill-opacity="0.15"/>
<rect x="675.37" y="586.80" width="8.94" height="2.00" rx="1.00" fill="#000" fill-opacity="0.15"/>
</g></g>
<rect x="626.4" y="577.3" width="58.3" height="15.0" fill="none" stroke="#2a2a2a" stroke-width="1.0"/>
<clipPath id="c79"><rect x="626.4" y="595.3" width="58.3" height="16.0"/></clipPath>
<rect x="626.4" y="595.3" width="58.3" height="16.0" fill="#d6d6d6"/>
<g clip-path="url(#c79)"><g filter="url(#bl)">
<rect x="626.79" y="601.80" width="8.94" height="3.00" rx="1.50" fill="#000" fill-opacity="0.22"/>
<rect x="636.51" y="601.80" width="8.94" height="3.00" rx="1.50" fill="#000" fill-opacity="0.22"/>
<rect x="646.22" y="601.80" width="8.94" height="3.00" rx="1.50" fill="#000" fill-opacity="0.22"/>
<rect x="655.94" y="601.80" width="8.94" height="3.00" rx="1.50" fill="#000" fill-opacity="0.22"/>
<rect x="665.66" y="601.80" width="8.94" height="3.00" rx="1.50" fill="#000" fill-opacity="0.22"/>
<rect x="675.37" y="601.80" width="8.94" height="3.00" rx="1.50" fill="#000" fill-opacity="0.22"/>
</g></g>
<rect x="626.4" y="595.3" width="58.3" height="16.0" fill="none" stroke="#2a2a2a" stroke-width="1.0"/>
<clipPath id="c80"><rect x="626.4" y="613.4" width="58.3" height="15.899999999999977"/></clipPath>
<rect x="626.4" y="613.4" width="58.3" height="15.899999999999977" fill="#f8f8f8"/>
<g clip-path="url(#c80)"><g filter="url(#bl)">
<rect x="626.79" y="619.05" width="8.94" height="3.00" rx="1.50" fill="#000" fill-opacity="0.42"/>
<rect x="636.51" y="619.05" width="8.94" height="3.00" rx="1.50" fill="#000" fill-opacity="0.42"/>
<rect x="646.22" y="619.05" width="8.94" height="3.00" rx="1.50" fill="#000" fill-opacity="0.42"/>
<rect x="655.94" y="619.05" width="8.94" height="3.00" rx="1.50" fill="#000" fill-opacity="0.42"/>
<rect x="665.66" y="619.05" width="8.94" height="3.00" rx="1.50" fill="#000" fill-opacity="0.42"/>
<rect x="675.37" y="619.05" width="8.94" height="3.00" rx="1.50" fill="#000" fill-opacity="0.42"/>
</g></g>
<rect x="626.4" y="613.4" width="58.3" height="15.899999999999977" fill="none" stroke="#2a2a2a" stroke-width="1.0"/>
<clipPath id="c81"><rect x="626.4" y="631.0" width="58.3" height="26.299999999999955"/></clipPath>
<rect x="626.4" y="631.0" width="58.3" height="26.299999999999955" fill="#ffffff"/>
<g clip-path="url(#c81)"><g filter="url(#bl)">
<rect x="626.79" y="638.60" width="8.94" height="3.20" rx="1.60" fill="#000" fill-opacity="0.78"/>
<rect x="636.51" y="638.60" width="8.94" height="3.20" rx="1.60" fill="#000" fill-opacity="0.78"/>
<rect x="646.22" y="638.60" width="8.94" height="3.20" rx="1.60" fill="#000" fill-opacity="0.78"/>
<rect x="655.94" y="638.60" width="8.94" height="3.20" rx="1.60" fill="#000" fill-opacity="0.78"/>
<rect x="665.66" y="638.60" width="8.94" height="3.20" rx="1.60" fill="#000" fill-opacity="0.78"/>
<rect x="675.37" y="638.60" width="8.94" height="3.20" rx="1.60" fill="#000" fill-opacity="0.78"/>
<rect x="626.79" y="647.38" width="8.94" height="3.00" rx="1.50" fill="#000" fill-opacity="0.20"/>
<rect x="636.51" y="647.38" width="8.94" height="3.00" rx="1.50" fill="#000" fill-opacity="0.20"/>
<rect x="646.22" y="647.38" width="8.94" height="3.00" rx="1.50" fill="#000" fill-opacity="0.20"/>
<rect x="655.94" y="647.38" width="8.94" height="3.00" rx="1.50" fill="#000" fill-opacity="0.20"/>
<rect x="665.66" y="647.38" width="8.94" height="3.00" rx="1.50" fill="#000" fill-opacity="0.20"/>
<rect x="675.37" y="647.38" width="8.94" height="3.00" rx="1.50" fill="#000" fill-opacity="0.20"/>
</g></g>
<rect x="626.4" y="631.0" width="58.3" height="26.299999999999955" fill="none" stroke="#2a2a2a" stroke-width="1.0"/>
<clipPath id="c82"><rect x="626.4" y="663.0" width="58.3" height="12.700000000000045"/></clipPath>
<rect x="626.4" y="663.0" width="58.3" height="12.700000000000045" fill="#ffffff"/>
<g clip-path="url(#c82)"><g filter="url(#bl)">
<rect x="626.79" y="667.85" width="8.94" height="3.00" rx="1.50" fill="#000" fill-opacity="0.45"/>
<rect x="636.51" y="667.85" width="8.94" height="3.00" rx="1.50" fill="#000" fill-opacity="0.45"/>
<rect x="646.22" y="667.85" width="8.94" height="3.00" rx="1.50" fill="#000" fill-opacity="0.45"/>
<rect x="655.94" y="667.85" width="8.94" height="3.00" rx="1.50" fill="#000" fill-opacity="0.45"/>
<rect x="665.66" y="667.85" width="8.94" height="3.00" rx="1.50" fill="#000" fill-opacity="0.45"/>
<rect x="675.37" y="667.85" width="8.94" height="3.00" rx="1.50" fill="#000" fill-opacity="0.45"/>
</g></g>
<rect x="626.4" y="663.0" width="58.3" height="12.700000000000045" fill="none" stroke="#2a2a2a" stroke-width="1.0"/>
<text x="173.5" y="720.5" font-size="25" text-anchor="start" fill="#000" font-weight="bold">e</text>
<text x="311.3" y="721.2" font-size="8.8" text-anchor="middle" textLength="36" lengthAdjust="spacing">H3122</text>
<line x1="224.8" y1="738.8" x2="224.8" y2="867.0" stroke="#000" stroke-width="1.4"/>
<line x1="224.10000000000002" y1="866.5" x2="399" y2="866.5" stroke="#000" stroke-width="1.4"/>
<line x1="221.3" y1="866.5" x2="224.8" y2="866.5" stroke="#000" stroke-width="1.2"/>
<text x="219.60000000000002" y="869.2" font-size="7.6" text-anchor="end" letter-spacing="0.9">0</text>
<line x1="221.3" y1="824.0" x2="224.8" y2="824.0" stroke="#000" stroke-width="1.2"/>
<text x="219.60000000000002" y="826.7" font-size="7.6" text-anchor="end" letter-spacing="0.9">500</text>
<line x1="221.3" y1="781.5" x2="224.8" y2="781.5" stroke="#000" stroke-width="1.2"/>
<text x="219.60000000000002" y="784.2" font-size="7.6" text-anchor="end" letter-spacing="0.9">1000</text>
<line x1="221.3" y1="739.0" x2="224.8" y2="739.0" stroke="#000" stroke-width="1.2"/>
<text x="219.60000000000002" y="741.7" font-size="7.6" text-anchor="end" letter-spacing="0.9">1500</text>
<line x1="224.8" y1="866.5" x2="224.8" y2="870.0" stroke="#000" stroke-width="1.2"/>
<text x="224.8" y="878.0" font-size="7.4" text-anchor="middle" fill="#000" letter-spacing="0.5">0</text>
<line x1="286.45" y1="866.5" x2="286.45" y2="870.0" stroke="#000" stroke-width="1.2"/>
<text x="286.45" y="878.0" font-size="7.4" text-anchor="middle" fill="#000" letter-spacing="0.5">5</text>
<line x1="348.1" y1="866.5" x2="348.1" y2="870.0" stroke="#000" stroke-width="1.2"/>
<text x="348.1" y="878.0" font-size="7.4" text-anchor="middle" fill="#000" letter-spacing="0.5">10</text>
<text x="243.2" y="894.7" font-size="8.8" textLength="137.5" lengthAdjust="spacing">Days after initial treatment</text>
<text transform="translate(187.8 803.3) rotate(-90)" font-size="8.6" text-anchor="middle" letter-spacing="1.45">Tumor volume (mm<tspan font-size="5.5" dy="-3">3</tspan><tspan dy="3">)</tspan></text>
<polyline points="224.8,855.5 249.5,847.2 274.1,840.7 311.1,824.4 348.1,803.5 385.1,789.1" fill="none" stroke="#000" stroke-width="1.9"/>
<line x1="249.46" y1="841.5" x2="249.46" y2="843.8000000000001" stroke="#000" stroke-width="1.3"/>
<line x1="249.46" y1="850.6" x2="249.46" y2="853.2" stroke="#000" stroke-width="1.3"/>
<line x1="245.96" y1="841.5" x2="252.96" y2="841.5" stroke="#000" stroke-width="1.3"/>
<line x1="245.96" y1="853.2" x2="252.96" y2="853.2" stroke="#000" stroke-width="1.3"/>
<line x1="274.12" y1="831.2" x2="274.12" y2="837.3000000000001" stroke="#000" stroke-width="1.3"/>
<line x1="274.12" y1="844.1" x2="274.12" y2="849.8000000000001" stroke="#000" stroke-width="1.3"/>
<line x1="270.62" y1="831.2" x2="277.62" y2="831.2" stroke="#000" stroke-width="1.3"/>
<line x1="270.62" y1="849.8000000000001" x2="277.62" y2="849.8000000000001" stroke="#000" stroke-width="1.3"/>
<line x1="311.11" y1="811.5" x2="311.11" y2="821.0000000000001" stroke="#000" stroke-width="1.3"/>
<line x1="311.11" y1="827.8000000000001" x2="311.11" y2="836.6" stroke="#000" stroke-width="1.3"/>
<line x1="307.61" y1="811.5" x2="314.61" y2="811.5" stroke="#000" stroke-width="1.3"/>
<line x1="307.61" y1="836.6" x2="314.61" y2="836.6" stroke="#000" stroke-width="1.3"/>
<line x1="348.1" y1="781.9000000000001" x2="348.1" y2="800.1" stroke="#000" stroke-width="1.3"/>
<line x1="348.1" y1="806.9" x2="348.1" y2="825.2" stroke="#000" stroke-width="1.3"/>
<line x1="344.6" y1="781.9000000000001" x2="351.6" y2="781.9000000000001" stroke="#000" stroke-width="1.3"/>
<line x1="344.6" y1="825.2" x2="351.6" y2="825.2" stroke="#000" stroke-width="1.3"/>
<line x1="385.09000000000003" y1="765.6" x2="385.09000000000003" y2="785.7" stroke="#000" stroke-width="1.3"/>
<line x1="385.09000000000003" y1="792.5" x2="385.09000000000003" y2="812.2" stroke="#000" stroke-width="1.3"/>
<line x1="381.59000000000003" y1="765.6" x2="388.59000000000003" y2="765.6" stroke="#000" stroke-width="1.3"/>
<line x1="381.59000000000003" y1="812.2" x2="388.59000000000003" y2="812.2" stroke="#000" stroke-width="1.3"/>
<circle cx="224.8" cy="855.5" r="3.5" fill="none" stroke="#000" stroke-width="2.0"/>
<circle cx="249.5" cy="847.2" r="3.5" fill="none" stroke="#000" stroke-width="2.0"/>
<circle cx="274.1" cy="840.7" r="3.5" fill="none" stroke="#000" stroke-width="2.0"/>
<circle cx="311.1" cy="824.4" r="3.5" fill="none" stroke="#000" stroke-width="2.0"/>
<circle cx="348.1" cy="803.5" r="3.5" fill="none" stroke="#000" stroke-width="2.0"/>
<circle cx="385.1" cy="789.1" r="3.5" fill="none" stroke="#000" stroke-width="2.0"/>
<polyline points="224.8,855.5 249.5,856.7 274.1,859.2 311.1,856.7 348.1,858.6 385.1,859.2" fill="none" stroke="#ff0000" stroke-width="1.9"/>
<line x1="249.46" y1="852.0" x2="249.46" y2="853.3000000000001" stroke="#ff0000" stroke-width="1.3"/>
<line x1="249.46" y1="860.1" x2="249.46" y2="861.4000000000001" stroke="#ff0000" stroke-width="1.3"/>
<line x1="245.96" y1="852.0" x2="252.96" y2="852.0" stroke="#ff0000" stroke-width="1.3"/>
<line x1="245.96" y1="861.4000000000001" x2="252.96" y2="861.4000000000001" stroke="#ff0000" stroke-width="1.3"/>
<line x1="311.11" y1="852.2" x2="311.11" y2="853.3000000000001" stroke="#ff0000" stroke-width="1.3"/>
<line x1="311.11" y1="860.1" x2="311.11" y2="861.2" stroke="#ff0000" stroke-width="1.3"/>
<line x1="307.61" y1="852.2" x2="314.61" y2="852.2" stroke="#ff0000" stroke-width="1.3"/>
<line x1="307.61" y1="861.2" x2="314.61" y2="861.2" stroke="#ff0000" stroke-width="1.3"/>
<circle cx="224.8" cy="855.5" r="3.5" fill="none" stroke="#ff0000" stroke-width="2.0"/>
<circle cx="249.5" cy="856.7" r="3.5" fill="none" stroke="#ff0000" stroke-width="2.0"/>
<circle cx="274.1" cy="859.2" r="3.5" fill="none" stroke="#ff0000" stroke-width="2.0"/>
<circle cx="311.1" cy="856.7" r="3.5" fill="none" stroke="#ff0000" stroke-width="2.0"/>
<circle cx="348.1" cy="858.6" r="3.5" fill="none" stroke="#ff0000" stroke-width="2.0"/>
<circle cx="385.1" cy="859.2" r="3.5" fill="none" stroke="#ff0000" stroke-width="2.0"/>
<line x1="394.4" y1="792" x2="394.4" y2="853.8" stroke="#000" stroke-width="1.8"/>
<text x="400.4" y="832.7" font-size="19.5" text-anchor="start" fill="#000" font-weight="bold">**</text>
<line x1="263.3" y1="918.3" x2="277.3" y2="918.3" stroke="#000" stroke-width="1.5"/>
<circle cx="270.3" cy="918.3" r="3.4" fill="#fff" stroke="#000" stroke-width="1.5"/>
<text x="284.90000000000003" y="921.5999999999999" font-size="8.6" textLength="82.5" lengthAdjust="spacing">Vehicle Control</text>
<line x1="263.3" y1="936.2" x2="277.3" y2="936.2" stroke="#ff0000" stroke-width="1.5"/>
<circle cx="270.3" cy="936.2" r="3.4" fill="#fff" stroke="#ff0000" stroke-width="1.5"/>
<text x="284.90000000000003" y="939.5" font-size="8.6" textLength="52.5" lengthAdjust="spacing">Gilteritinib</text>
<text x="560.3" y="729.0" font-size="8.8" text-anchor="middle" textLength="64.5" lengthAdjust="spacing">JFCR-028-3</text>
<line x1="478.4" y1="743.3" x2="478.4" y2="864.0" stroke="#000" stroke-width="1.4"/>
<line x1="477.7" y1="863.5" x2="642.2" y2="863.5" stroke="#000" stroke-width="1.4"/>
<line x1="474.9" y1="863.5" x2="478.4" y2="863.5" stroke="#000" stroke-width="1.2"/>
<text x="473.2" y="866.2" font-size="7.6" text-anchor="end" letter-spacing="0.9">0</text>
<line x1="474.9" y1="836.875" x2="478.4" y2="836.875" stroke="#000" stroke-width="1.2"/>
<text x="473.2" y="839.575" font-size="7.6" text-anchor="end" letter-spacing="0.9">200</text>
<line x1="474.9" y1="810.25" x2="478.4" y2="810.25" stroke="#000" stroke-width="1.2"/>
<text x="473.2" y="812.95" font-size="7.6" text-anchor="end" letter-spacing="0.9">400</text>
<line x1="474.9" y1="783.625" x2="478.4" y2="783.625" stroke="#000" stroke-width="1.2"/>
<text x="473.2" y="786.325" font-size="7.6" text-anchor="end" letter-spacing="0.9">600</text>
<line x1="474.9" y1="757.0" x2="478.4" y2="757.0" stroke="#000" stroke-width="1.2"/>
<text x="473.2" y="759.7" font-size="7.6" text-anchor="end" letter-spacing="0.9">800</text>
<line x1="478.4" y1="863.5" x2="478.4" y2="867.0" stroke="#000" stroke-width="1.2"/>
<text x="478.4" y="875.0" font-size="7.4" text-anchor="middle" fill="#000" letter-spacing="0.5">0</text>
<line x1="537.0" y1="863.5" x2="537.0" y2="867.0" stroke="#000" stroke-width="1.2"/>
<text x="537.0" y="875.0" font-size="7.4" text-anchor="middle" fill="#000" letter-spacing="0.5">5</text>
<line x1="595.6" y1="863.5" x2="595.6" y2="867.0" stroke="#000" stroke-width="1.2"/>
<text x="595.6" y="875.0" font-size="7.4" text-anchor="middle" fill="#000" letter-spacing="0.5">10</text>
<text x="495.6" y="891.7" font-size="8.8" textLength="129.8" lengthAdjust="spacing">Days after initial treatment</text>
<text transform="translate(445.2 802.5) rotate(-90)" font-size="8.6" text-anchor="middle" letter-spacing="1.45">Tumor volume (mm<tspan font-size="5.5" dy="-3">3</tspan><tspan dy="3">)</tspan></text>
<polyline points="478.4,845.0 501.8,828.9 525.3,819.6 560.4,786.1 595.6,798.4 630.8,794.3" fill="none" stroke="#000" stroke-width="1.9"/>
<line x1="478.4" y1="838.0" x2="478.4" y2="841.6" stroke="#000" stroke-width="1.3"/>
<line x1="478.4" y1="848.4" x2="478.4" y2="852.0" stroke="#000" stroke-width="1.3"/>
<line x1="474.9" y1="838.0" x2="481.9" y2="838.0" stroke="#000" stroke-width="1.3"/>
<line x1="474.9" y1="852.0" x2="481.9" y2="852.0" stroke="#000" stroke-width="1.3"/>
<line x1="501.84" y1="817.0" x2="501.84" y2="825.5" stroke="#000" stroke-width="1.3"/>
<line x1="501.84" y1="832.3" x2="501.84" y2="840.8" stroke="#000" stroke-width="1.3"/>
<line x1="498.34" y1="817.0" x2="505.34" y2="817.0" stroke="#000" stroke-width="1.3"/>
<line x1="498.34" y1="840.8" x2="505.34" y2="840.8" stroke="#000" stroke-width="1.3"/>
<line x1="525.28" y1="801.7" x2="525.28" y2="816.2" stroke="#000" stroke-width="1.3"/>
<line x1="525.28" y1="823.0" x2="525.28" y2="836.4" stroke="#000" stroke-width="1.3"/>
<line x1="521.78" y1="801.7" x2="528.78" y2="801.7" stroke="#000" stroke-width="1.3"/>
<line x1="521.78" y1="836.4" x2="528.78" y2="836.4" stroke="#000" stroke-width="1.3"/>
<line x1="560.4399999999999" y1="753.0" x2="560.4399999999999" y2="782.7" stroke="#000" stroke-width="1.3"/>
<line x1="560.4399999999999" y1="789.5" x2="560.4399999999999" y2="818.5" stroke="#000" stroke-width="1.3"/>
<line x1="556.9399999999999" y1="753.0" x2="563.9399999999999" y2="753.0" stroke="#000" stroke-width="1.3"/>
<line x1="556.9399999999999" y1="818.5" x2="563.9399999999999" y2="818.5" stroke="#000" stroke-width="1.3"/>
<line x1="595.6" y1="785.0" x2="595.6" y2="795.0" stroke="#000" stroke-width="1.3"/>
<line x1="595.6" y1="801.8" x2="595.6" y2="812.2" stroke="#000" stroke-width="1.3"/>
<line x1="592.1" y1="785.0" x2="599.1" y2="785.0" stroke="#000" stroke-width="1.3"/>
<line x1="592.1" y1="812.2" x2="599.1" y2="812.2" stroke="#000" stroke-width="1.3"/>
<line x1="630.76" y1="782.4" x2="630.76" y2="790.9" stroke="#000" stroke-width="1.3"/>
<line x1="630.76" y1="797.6999999999999" x2="630.76" y2="805.8" stroke="#000" stroke-width="1.3"/>
<line x1="627.26" y1="782.4" x2="634.26" y2="782.4" stroke="#000" stroke-width="1.3"/>
<line x1="627.26" y1="805.8" x2="634.26" y2="805.8" stroke="#000" stroke-width="1.3"/>
<circle cx="478.4" cy="845.0" r="3.5" fill="none" stroke="#000" stroke-width="2.0"/>
<circle cx="501.8" cy="828.9" r="3.5" fill="none" stroke="#000" stroke-width="2.0"/>
<circle cx="525.3" cy="819.6" r="3.5" fill="none" stroke="#000" stroke-width="2.0"/>
<circle cx="560.4" cy="786.1" r="3.5" fill="none" stroke="#000" stroke-width="2.0"/>
<circle cx="595.6" cy="798.4" r="3.5" fill="none" stroke="#000" stroke-width="2.0"/>
<circle cx="630.8" cy="794.3" r="3.5" fill="none" stroke="#000" stroke-width="2.0"/>
<polyline points="478.4,845.0 501.8,849.4 525.3,855.7 560.4,862.0 595.6,863.3 630.8,863.5" fill="none" stroke="#0000ff" stroke-width="1.9"/>
<line x1="501.84" y1="845.5" x2="501.84" y2="846.0" stroke="#0000ff" stroke-width="1.3"/>
<line x1="501.84" y1="852.8" x2="501.84" y2="853.0" stroke="#0000ff" stroke-width="1.3"/>
<line x1="498.34" y1="845.5" x2="505.34" y2="845.5" stroke="#0000ff" stroke-width="1.3"/>
<line x1="498.34" y1="853.0" x2="505.34" y2="853.0" stroke="#0000ff" stroke-width="1.3"/>
<circle cx="478.4" cy="845.0" r="3.5" fill="none" stroke="#0000ff" stroke-width="2.0"/>
<circle cx="501.8" cy="849.4" r="3.5" fill="none" stroke="#0000ff" stroke-width="2.0"/>
<circle cx="525.3" cy="855.7" r="3.5" fill="none" stroke="#0000ff" stroke-width="2.0"/>
<circle cx="560.4" cy="862.0" r="3.5" fill="none" stroke="#0000ff" stroke-width="2.0"/>
<circle cx="595.6" cy="863.3" r="3.5" fill="none" stroke="#0000ff" stroke-width="2.0"/>
<circle cx="630.8" cy="863.5" r="3.5" fill="none" stroke="#0000ff" stroke-width="2.0"/>
<polyline points="478.4,845.0 501.8,852.4 525.3,858.0 560.4,862.5 595.6,863.5 630.8,863.5" fill="none" stroke="#ff0000" stroke-width="1.9"/>
<line x1="478.4" y1="837.0" x2="478.4" y2="841.6" stroke="#ff0000" stroke-width="1.3"/>
<line x1="478.4" y1="848.4" x2="478.4" y2="853.0" stroke="#ff0000" stroke-width="1.3"/>
<line x1="474.9" y1="837.0" x2="481.9" y2="837.0" stroke="#ff0000" stroke-width="1.3"/>
<line x1="474.9" y1="853.0" x2="481.9" y2="853.0" stroke="#ff0000" stroke-width="1.3"/>
<line x1="501.84" y1="848.0" x2="501.84" y2="849.0" stroke="#ff0000" stroke-width="1.3"/>
<line x1="501.84" y1="855.8" x2="501.84" y2="857.0" stroke="#ff0000" stroke-width="1.3"/>
<line x1="498.34" y1="848.0" x2="505.34" y2="848.0" stroke="#ff0000" stroke-width="1.3"/>
<line x1="498.34" y1="857.0" x2="505.34" y2="857.0" stroke="#ff0000" stroke-width="1.3"/>
<circle cx="478.4" cy="845.0" r="3.5" fill="none" stroke="#ff0000" stroke-width="2.0"/>
<circle cx="501.8" cy="852.4" r="3.5" fill="none" stroke="#ff0000" stroke-width="2.0"/>
<circle cx="525.3" cy="858.0" r="3.5" fill="none" stroke="#ff0000" stroke-width="2.0"/>
<circle cx="560.4" cy="862.5" r="3.5" fill="none" stroke="#ff0000" stroke-width="2.0"/>
<circle cx="595.6" cy="863.5" r="3.5" fill="none" stroke="#ff0000" stroke-width="2.0"/>
<circle cx="630.8" cy="863.5" r="3.5" fill="none" stroke="#ff0000" stroke-width="2.0"/>
<line x1="639.6" y1="794.3" x2="639.6" y2="855" stroke="#000" stroke-width="1.8"/>
<text x="646.2" y="834.8" font-size="19.5" text-anchor="start" fill="#000" font-weight="bold">**</text>
<line x1="515" y1="912" x2="529" y2="912" stroke="#000" stroke-width="1.5"/>
<circle cx="522" cy="912" r="3.4" fill="#fff" stroke="#000" stroke-width="1.5"/>
<text x="536.6" y="915.3" font-size="8.6" textLength="78" lengthAdjust="spacing">Vehicle Control</text>
<line x1="515" y1="926.8" x2="529" y2="926.8" stroke="#0000ff" stroke-width="1.5"/>
<circle cx="522" cy="926.8" r="3.4" fill="#fff" stroke="#0000ff" stroke-width="1.5"/>
<text x="536.6" y="930.0999999999999" font-size="8.6" textLength="43.2" lengthAdjust="spacing">Alectinib</text>
<line x1="515" y1="941.7" x2="529" y2="941.7" stroke="#ff0000" stroke-width="1.5"/>
<circle cx="522" cy="941.7" r="3.4" fill="#fff" stroke="#ff0000" stroke-width="1.5"/>
<text x="536.6" y="945.0" font-size="8.6" textLength="49.3" lengthAdjust="spacing">Gilteritinib</text>
</svg>
</body></html>
